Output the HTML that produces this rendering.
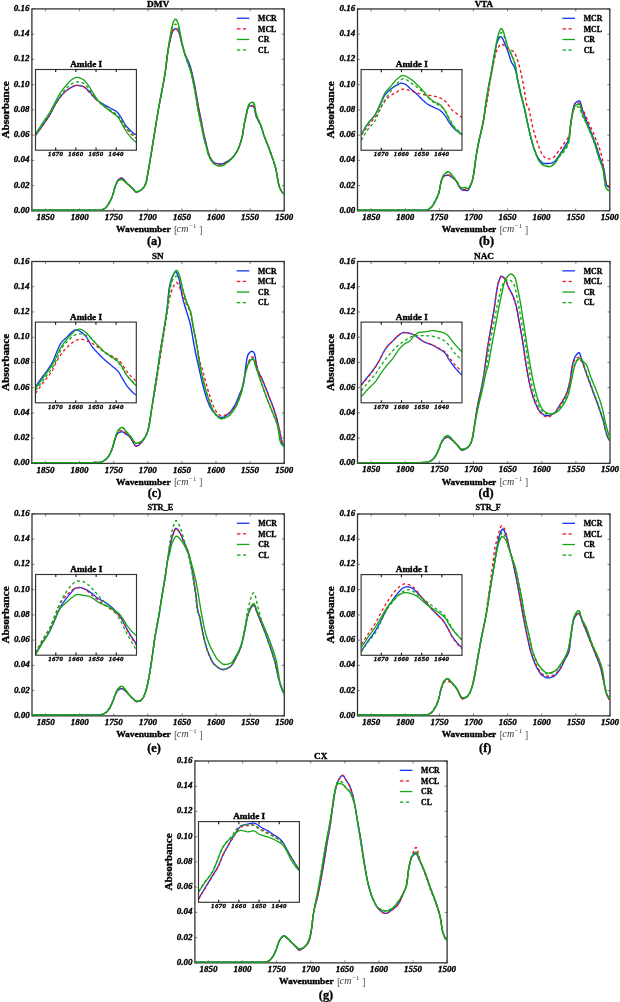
<!DOCTYPE html><html><head><meta charset="utf-8"><style>
html,body{margin:0;padding:0;background:#fff;}
svg{display:block;will-change:transform;}
text{font-family:"Liberation Serif", serif;fill:#000;stroke:#000;stroke-width:0.35px;}
.tk{font-size:9px;font-weight:bold;font-style:italic;}
.itk{font-size:6.8px;font-weight:bold;font-style:italic;letter-spacing:0.4px;}
.ttl{font-size:9.1px;font-weight:bold;}
.ittl{font-size:8.4px;font-weight:bold;}
.leg{font-size:7.8px;font-weight:bold;}
.ylab{font-size:11.2px;font-weight:bold;}
.xlab{font-size:9.2px;font-weight:bold;}
.ubr{font-size:10.6px;fill:#555;stroke:none;}
.ucm{font-size:10px;font-style:italic;fill:#3a3a3a;letter-spacing:0.3px;stroke:none;}
.usup{font-size:6.8px;fill:#3a3a3a;stroke:none;}
.cap{font-size:12.3px;font-weight:bold;}
</style></head><body><svg width="620" height="1002" viewBox="0 0 620 1002"><defs><clipPath id="clip_a"><rect x="31.9" y="5.9" width="252.3" height="204.95"/></clipPath><clipPath id="iclip_a"><rect x="35.5" y="69.5" width="100.9" height="80.7"/></clipPath><clipPath id="clip_b"><rect x="357.5" y="5.95" width="252.3" height="204.85"/></clipPath><clipPath id="iclip_b"><rect x="361.1" y="69.55" width="100.9" height="80.7"/></clipPath><clipPath id="clip_c"><rect x="31.8" y="258.5" width="252.4" height="204.9"/></clipPath><clipPath id="iclip_c"><rect x="35.4" y="322.1" width="100.9" height="80.7"/></clipPath><clipPath id="clip_d"><rect x="357.5" y="258.5" width="252.5" height="204.85"/></clipPath><clipPath id="iclip_d"><rect x="361.1" y="322.1" width="100.9" height="80.7"/></clipPath><clipPath id="clip_e"><rect x="32" y="510.9" width="252.3" height="204.95"/></clipPath><clipPath id="iclip_e"><rect x="35.6" y="574.5" width="100.9" height="80.7"/></clipPath><clipPath id="clip_f"><rect x="357.5" y="511" width="252.5" height="204.85"/></clipPath><clipPath id="iclip_f"><rect x="361.1" y="574.6" width="100.9" height="80.7"/></clipPath><clipPath id="clip_g"><rect x="194.9" y="758" width="252.2" height="204.85"/></clipPath><clipPath id="iclip_g"><rect x="198.5" y="821.6" width="100.9" height="80.7"/></clipPath></defs><g><rect x="31.9" y="8.9" width="252.3" height="201.95" fill="none" stroke="#333" stroke-width="1.3"/><line x1="45.54" y1="210.85" x2="45.54" y2="208.35" stroke="#333" stroke-width="0.6"/><line x1="45.54" y1="8.9" x2="45.54" y2="11.4" stroke="#333" stroke-width="0.6"/><text x="45.54" y="219.95" class="tk" text-anchor="middle">1850</text><line x1="79.63" y1="210.85" x2="79.63" y2="208.35" stroke="#333" stroke-width="0.6"/><line x1="79.63" y1="8.9" x2="79.63" y2="11.4" stroke="#333" stroke-width="0.6"/><text x="79.63" y="219.95" class="tk" text-anchor="middle">1800</text><line x1="113.73" y1="210.85" x2="113.73" y2="208.35" stroke="#333" stroke-width="0.6"/><line x1="113.73" y1="8.9" x2="113.73" y2="11.4" stroke="#333" stroke-width="0.6"/><text x="113.73" y="219.95" class="tk" text-anchor="middle">1750</text><line x1="147.82" y1="210.85" x2="147.82" y2="208.35" stroke="#333" stroke-width="0.6"/><line x1="147.82" y1="8.9" x2="147.82" y2="11.4" stroke="#333" stroke-width="0.6"/><text x="147.82" y="219.95" class="tk" text-anchor="middle">1700</text><line x1="181.92" y1="210.85" x2="181.92" y2="208.35" stroke="#333" stroke-width="0.6"/><line x1="181.92" y1="8.9" x2="181.92" y2="11.4" stroke="#333" stroke-width="0.6"/><text x="181.92" y="219.95" class="tk" text-anchor="middle">1650</text><line x1="216.01" y1="210.85" x2="216.01" y2="208.35" stroke="#333" stroke-width="0.6"/><line x1="216.01" y1="8.9" x2="216.01" y2="11.4" stroke="#333" stroke-width="0.6"/><text x="216.01" y="219.95" class="tk" text-anchor="middle">1600</text><line x1="250.11" y1="210.85" x2="250.11" y2="208.35" stroke="#333" stroke-width="0.6"/><line x1="250.11" y1="8.9" x2="250.11" y2="11.4" stroke="#333" stroke-width="0.6"/><text x="250.11" y="219.95" class="tk" text-anchor="middle">1550</text><line x1="284.2" y1="210.85" x2="284.2" y2="208.35" stroke="#333" stroke-width="0.6"/><line x1="284.2" y1="8.9" x2="284.2" y2="11.4" stroke="#333" stroke-width="0.6"/><text x="284.2" y="219.95" class="tk" text-anchor="middle">1500</text><line x1="31.9" y1="210.85" x2="34.4" y2="210.85" stroke="#333" stroke-width="0.6"/><line x1="284.2" y1="210.85" x2="281.7" y2="210.85" stroke="#333" stroke-width="0.6"/><text x="29.6" y="212.85" class="tk" text-anchor="end">0.00</text><line x1="31.9" y1="185.61" x2="34.4" y2="185.61" stroke="#333" stroke-width="0.6"/><line x1="284.2" y1="185.61" x2="281.7" y2="185.61" stroke="#333" stroke-width="0.6"/><text x="29.6" y="187.61" class="tk" text-anchor="end">0.02</text><line x1="31.9" y1="160.36" x2="34.4" y2="160.36" stroke="#333" stroke-width="0.6"/><line x1="284.2" y1="160.36" x2="281.7" y2="160.36" stroke="#333" stroke-width="0.6"/><text x="29.6" y="162.36" class="tk" text-anchor="end">0.04</text><line x1="31.9" y1="135.12" x2="34.4" y2="135.12" stroke="#333" stroke-width="0.6"/><line x1="284.2" y1="135.12" x2="281.7" y2="135.12" stroke="#333" stroke-width="0.6"/><text x="29.6" y="137.12" class="tk" text-anchor="end">0.06</text><line x1="31.9" y1="109.88" x2="34.4" y2="109.88" stroke="#333" stroke-width="0.6"/><line x1="284.2" y1="109.88" x2="281.7" y2="109.88" stroke="#333" stroke-width="0.6"/><text x="29.6" y="111.88" class="tk" text-anchor="end">0.08</text><line x1="31.9" y1="84.63" x2="34.4" y2="84.63" stroke="#333" stroke-width="0.6"/><line x1="284.2" y1="84.63" x2="281.7" y2="84.63" stroke="#333" stroke-width="0.6"/><text x="29.6" y="86.63" class="tk" text-anchor="end">0.10</text><line x1="31.9" y1="59.39" x2="34.4" y2="59.39" stroke="#333" stroke-width="0.6"/><line x1="284.2" y1="59.39" x2="281.7" y2="59.39" stroke="#333" stroke-width="0.6"/><text x="29.6" y="61.39" class="tk" text-anchor="end">0.12</text><line x1="31.9" y1="34.14" x2="34.4" y2="34.14" stroke="#333" stroke-width="0.6"/><line x1="284.2" y1="34.14" x2="281.7" y2="34.14" stroke="#333" stroke-width="0.6"/><text x="29.6" y="36.14" class="tk" text-anchor="end">0.14</text><line x1="31.9" y1="8.9" x2="34.4" y2="8.9" stroke="#333" stroke-width="0.6"/><line x1="284.2" y1="8.9" x2="281.7" y2="8.9" stroke="#333" stroke-width="0.6"/><text x="29.6" y="10.9" class="tk" text-anchor="end">0.16</text><polyline points="31.9,210.3 32.4,210.3 32.9,210.3 33.4,210.3 33.9,210.3 34.4,210.3 34.9,210.3 35.4,210.3 35.9,210.3 36.4,210.3 36.9,210.3 37.4,210.3 37.9,210.3 38.4,210.3 38.9,210.3 39.4,210.3 39.9,210.3 40.4,210.3 40.9,210.3 41.4,210.3 41.9,210.3 42.4,210.3 42.9,210.3 43.4,210.3 43.9,210.3 44.4,210.3 44.9,210.3 45.4,210.3 45.9,210.3 46.4,210.3 46.9,210.3 47.4,210.3 47.9,210.3 48.4,210.3 48.9,210.3 49.4,210.3 49.9,210.3 50.4,210.3 50.9,210.3 51.4,210.3 51.9,210.3 52.4,210.3 52.9,210.3 53.4,210.3 53.9,210.3 54.4,210.3 54.9,210.3 55.4,210.3 55.9,210.3 56.4,210.3 56.9,210.3 57.4,210.3 57.9,210.3 58.4,210.3 58.9,210.3 59.4,210.3 59.9,210.3 60.4,210.3 60.9,210.3 61.4,210.3 61.9,210.3 62.4,210.3 62.9,210.3 63.4,210.3 63.9,210.3 64.4,210.29 64.9,210.29 65.4,210.29 65.9,210.29 66.4,210.29 66.9,210.29 67.4,210.28 67.9,210.28 68.4,210.28 68.9,210.28 69.4,210.28 69.9,210.27 70.4,210.27 70.9,210.27 71.4,210.27 71.9,210.27 72.4,210.26 72.9,210.26 73.4,210.26 73.9,210.26 74.4,210.25 74.9,210.25 75.4,210.25 75.9,210.25 76.4,210.24 76.9,210.24 77.4,210.24 77.9,210.24 78.4,210.23 78.9,210.23 79.4,210.23 79.9,210.23 80.4,210.22 80.9,210.22 81.4,210.22 81.9,210.22 82.4,210.22 82.9,210.21 83.4,210.21 83.9,210.21 84.4,210.21 84.9,210.21 85.4,210.21 85.9,210.21 86.4,210.2 86.9,210.2 87.4,210.2 87.9,210.2 88.4,210.2 88.9,210.2 89.4,210.2 89.9,210.2 90.4,210.2 90.9,210.2 91.4,210.2 91.9,210.2 92.4,210.2 92.9,210.2 93.4,210.2 93.9,210.2 94.4,210.2 94.9,210.2 95.4,210.2 95.9,210.2 96.4,210.2 96.9,210.2 97.4,210.2 97.9,210.2 98.4,210.2 98.9,210.2 99.4,210.19 99.9,210.15 100.4,210.07 100.9,209.97 101.4,209.84 101.9,209.69 102.4,209.51 102.9,209.32 103.4,209.11 103.9,208.88 104.4,208.65 104.9,208.39 105.4,208.03 105.9,207.56 106.4,206.99 106.9,206.35 107.4,205.64 107.9,204.88 108.4,204.09 108.9,203.28 109.4,202.47 109.9,201.59 110.4,200.63 110.9,199.59 111.4,198.48 111.9,197.28 112.4,196.01 112.9,194.6 113.4,192.86 113.9,190.93 114.4,188.99 114.9,187.19 115.4,185.72 115.9,184.47 116.4,183.24 116.9,182.11 117.4,181.12 117.9,180.35 118.4,179.82 118.9,179.37 119.4,178.96 119.9,178.6 120.4,178.31 120.9,178.11 121.4,178.01 121.9,178.04 122.4,178.28 122.9,178.68 123.4,179.21 123.9,179.8 124.4,180.42 124.9,181 125.4,181.54 125.9,182.08 126.4,182.62 126.9,183.15 127.4,183.67 127.9,184.18 128.4,184.66 128.9,185.14 129.4,185.59 129.9,186.04 130.4,186.47 130.9,186.91 131.4,187.35 131.9,187.79 132.4,188.24 132.9,188.7 133.4,189.24 133.9,189.87 134.4,190.54 134.9,191.16 135.4,191.67 135.9,192.01 136.4,192.1 136.9,192.04 137.4,191.9 137.9,191.7 138.4,191.45 138.9,191.17 139.4,190.87 139.9,190.57 140.4,190.28 140.9,189.97 141.4,189.63 141.9,189.24 142.4,188.81 142.9,188.31 143.4,187.75 143.9,187.1 144.4,186.33 144.9,185.42 145.4,184.35 145.9,183.1 146.4,181.28 146.9,178.76 147.4,175.86 147.9,172.91 148.4,170.15 148.9,167.32 149.4,164.42 149.9,161.47 150.4,158.49 150.9,155.46 151.4,152.41 151.9,149.33 152.4,146.23 152.9,143.11 153.4,139.99 153.9,136.86 154.4,133.73 154.9,130.61 155.4,127.5 155.9,124.41 156.4,121.34 156.9,118.3 157.4,115.29 157.9,112.32 158.4,109.4 158.9,106.56 159.4,103.83 159.9,101.18 160.4,98.6 160.9,96.04 161.4,93.5 161.9,90.95 162.4,88.37 162.9,85.74 163.4,83.02 163.9,80.21 164.4,77.28 164.9,74.22 165.4,71 165.9,67.43 166.4,63.36 166.9,59.14 167.4,55.15 167.9,51.74 168.4,48.7 168.9,45.93 169.4,43.39 169.9,41.04 170.4,38.85 170.9,36.85 171.4,35.09 171.9,33.53 172.4,31.99 172.9,30.8 173.4,30.23 173.9,29.77 174.4,29.31 174.9,28.93 175.4,28.7 175.9,28.72 176.4,28.96 176.9,29.33 177.4,29.75 177.9,30.18 178.4,31.07 178.9,32.36 179.4,33.79 179.9,35.51 180.4,37.61 180.9,39.79 181.4,41.79 181.9,43.68 182.4,45.57 182.9,47.41 183.4,49.16 183.9,50.79 184.4,52.28 184.9,53.65 185.4,54.93 185.9,56.12 186.4,57.26 186.9,58.39 187.4,59.51 187.9,60.57 188.4,61.62 188.9,62.72 189.4,63.95 189.9,65.34 190.4,66.95 190.9,68.75 191.4,70.7 191.9,72.77 192.4,74.93 192.9,77.15 193.4,79.42 193.9,81.73 194.4,84.08 194.9,86.52 195.4,89.2 195.9,92.04 196.4,94.99 196.9,97.98 197.4,100.94 197.9,103.81 198.4,106.52 198.9,109.07 199.4,111.53 199.9,113.95 200.4,116.37 200.9,118.82 201.4,121.36 201.9,124.02 202.4,126.77 202.9,129.49 203.4,132.12 203.9,134.56 204.4,136.76 204.9,138.77 205.4,140.69 205.9,142.62 206.4,144.65 206.9,146.83 207.4,149.01 207.9,151.08 208.4,152.87 208.9,154.3 209.4,155.56 209.9,156.71 210.4,157.76 210.9,158.7 211.4,159.53 211.9,160.26 212.4,160.88 212.9,161.4 213.4,161.88 213.9,162.31 214.4,162.69 214.9,163 215.4,163.24 215.9,163.4 216.4,163.5 216.9,163.59 217.4,163.68 217.9,163.76 218.4,163.83 218.9,163.89 219.4,163.94 219.9,163.97 220.4,163.99 220.9,163.99 221.4,163.94 221.9,163.86 222.4,163.74 222.9,163.58 223.4,163.4 223.9,163.2 224.4,162.97 224.9,162.72 225.4,162.46 225.9,162.18 226.4,161.89 226.9,161.59 227.4,161.29 227.9,160.98 228.4,160.68 228.9,160.37 229.4,160.05 229.9,159.7 230.4,159.33 230.9,158.93 231.4,158.49 231.9,158.03 232.4,157.53 232.9,156.99 233.4,156.43 233.9,155.82 234.4,155.18 234.9,154.5 235.4,153.78 235.9,153.02 236.4,152.22 236.9,151.38 237.4,150.47 237.9,149.49 238.4,148.42 238.9,147.26 239.4,145.99 239.9,144.61 240.4,143.12 240.9,141.49 241.4,139.73 241.9,137.82 242.4,135.76 242.9,133.39 243.4,129.75 243.9,126.05 244.4,123.31 244.9,120.95 245.4,118.76 245.9,116.59 246.4,114.23 246.9,111.79 247.4,109.73 247.9,108.33 248.4,107.18 248.9,106.42 249.4,106.17 249.9,106.07 250.4,106.02 250.9,106 251.4,106 251.9,106.02 252.4,106.06 252.9,106.14 253.4,106.53 253.9,107.24 254.4,108.2 254.9,109.66 255.4,113.07 255.9,115.23 256.4,116.71 256.9,117.91 257.4,118.99 257.9,119.95 258.4,120.81 258.9,121.67 259.4,122.61 259.9,123.66 260.4,124.76 260.9,125.94 261.4,127.23 261.9,128.72 262.4,130.41 262.9,132.14 263.4,133.75 263.9,135.2 264.4,136.58 264.9,137.91 265.4,139.21 265.9,140.47 266.4,141.71 266.9,142.95 267.4,144.2 267.9,145.47 268.4,146.77 268.9,148.12 269.4,149.5 269.9,150.86 270.4,152.21 270.9,153.55 271.4,154.91 271.9,156.28 272.4,157.68 272.9,159.13 273.4,160.62 273.9,162.18 274.4,163.81 274.9,165.52 275.4,167.33 275.9,169.38 276.4,171.88 276.9,174.67 277.4,177.58 277.9,180.43 278.4,183.04 278.9,185.24 279.4,186.86 279.9,187.99 280.4,189.06 280.9,190.07 281.4,191.01 281.9,191.84 282.4,192.56 282.9,193.13 283.4,193.54 283.9,193.76 284.2,193.8" fill="none" stroke="#1234f4" stroke-width="1.4" stroke-linejoin="round" clip-path="url(#clip_a)"/><polyline points="31.9,210.3 32.4,210.3 32.9,210.3 33.4,210.3 33.9,210.3 34.4,210.3 34.9,210.3 35.4,210.3 35.9,210.3 36.4,210.3 36.9,210.3 37.4,210.3 37.9,210.3 38.4,210.3 38.9,210.3 39.4,210.3 39.9,210.3 40.4,210.3 40.9,210.3 41.4,210.3 41.9,210.3 42.4,210.3 42.9,210.3 43.4,210.3 43.9,210.3 44.4,210.3 44.9,210.3 45.4,210.3 45.9,210.3 46.4,210.3 46.9,210.3 47.4,210.3 47.9,210.3 48.4,210.3 48.9,210.3 49.4,210.3 49.9,210.3 50.4,210.3 50.9,210.3 51.4,210.3 51.9,210.3 52.4,210.3 52.9,210.3 53.4,210.3 53.9,210.3 54.4,210.3 54.9,210.3 55.4,210.3 55.9,210.3 56.4,210.3 56.9,210.3 57.4,210.3 57.9,210.3 58.4,210.3 58.9,210.3 59.4,210.3 59.9,210.3 60.4,210.3 60.9,210.3 61.4,210.3 61.9,210.3 62.4,210.3 62.9,210.3 63.4,210.3 63.9,210.3 64.4,210.29 64.9,210.29 65.4,210.29 65.9,210.29 66.4,210.29 66.9,210.29 67.4,210.28 67.9,210.28 68.4,210.28 68.9,210.28 69.4,210.28 69.9,210.27 70.4,210.27 70.9,210.27 71.4,210.27 71.9,210.27 72.4,210.26 72.9,210.26 73.4,210.26 73.9,210.26 74.4,210.25 74.9,210.25 75.4,210.25 75.9,210.25 76.4,210.24 76.9,210.24 77.4,210.24 77.9,210.24 78.4,210.23 78.9,210.23 79.4,210.23 79.9,210.23 80.4,210.22 80.9,210.22 81.4,210.22 81.9,210.22 82.4,210.22 82.9,210.21 83.4,210.21 83.9,210.21 84.4,210.21 84.9,210.21 85.4,210.21 85.9,210.21 86.4,210.2 86.9,210.2 87.4,210.2 87.9,210.2 88.4,210.2 88.9,210.2 89.4,210.2 89.9,210.2 90.4,210.2 90.9,210.2 91.4,210.2 91.9,210.2 92.4,210.2 92.9,210.2 93.4,210.2 93.9,210.2 94.4,210.2 94.9,210.2 95.4,210.2 95.9,210.2 96.4,210.2 96.9,210.2 97.4,210.2 97.9,210.2 98.4,210.2 98.9,210.2 99.4,210.19 99.9,210.15 100.4,210.07 100.9,209.97 101.4,209.84 101.9,209.69 102.4,209.51 102.9,209.32 103.4,209.11 103.9,208.88 104.4,208.65 104.9,208.39 105.4,208.03 105.9,207.56 106.4,206.99 106.9,206.35 107.4,205.64 107.9,204.88 108.4,204.09 108.9,203.28 109.4,202.47 109.9,201.59 110.4,200.63 110.9,199.59 111.4,198.48 111.9,197.28 112.4,196.01 112.9,194.6 113.4,192.86 113.9,190.93 114.4,188.99 114.9,187.19 115.4,185.72 115.9,184.47 116.4,183.24 116.9,182.11 117.4,181.12 117.9,180.35 118.4,179.82 118.9,179.37 119.4,178.96 119.9,178.6 120.4,178.31 120.9,178.11 121.4,178.01 121.9,178.04 122.4,178.28 122.9,178.68 123.4,179.21 123.9,179.8 124.4,180.42 124.9,181 125.4,181.54 125.9,182.08 126.4,182.62 126.9,183.15 127.4,183.67 127.9,184.18 128.4,184.66 128.9,185.14 129.4,185.59 129.9,186.04 130.4,186.47 130.9,186.91 131.4,187.35 131.9,187.79 132.4,188.24 132.9,188.7 133.4,189.24 133.9,189.87 134.4,190.54 134.9,191.16 135.4,191.67 135.9,192.01 136.4,192.1 136.9,192.04 137.4,191.9 137.9,191.7 138.4,191.45 138.9,191.17 139.4,190.87 139.9,190.57 140.4,190.28 140.9,189.97 141.4,189.63 141.9,189.24 142.4,188.81 142.9,188.31 143.4,187.75 143.9,187.1 144.4,186.33 144.9,185.42 145.4,184.35 145.9,183.1 146.4,181.28 146.9,178.76 147.4,175.86 147.9,172.91 148.4,170.15 148.9,167.32 149.4,164.42 149.9,161.47 150.4,158.49 150.9,155.46 151.4,152.41 151.9,149.33 152.4,146.23 152.9,143.11 153.4,139.99 153.9,136.86 154.4,133.73 154.9,130.61 155.4,127.5 155.9,124.41 156.4,121.34 156.9,118.3 157.4,115.29 157.9,112.32 158.4,109.4 158.9,106.56 159.4,103.83 159.9,101.18 160.4,98.6 160.9,96.04 161.4,93.5 161.9,90.95 162.4,88.37 162.9,85.74 163.4,83.02 163.9,80.21 164.4,77.28 164.9,74.22 165.4,71 165.9,67.43 166.4,63.36 166.9,59.14 167.4,55.15 167.9,51.74 168.4,48.7 168.9,45.93 169.4,43.39 169.9,41.04 170.4,38.85 170.9,36.85 171.4,35.09 171.9,33.53 172.4,31.99 172.9,30.8 173.4,30.23 173.9,29.77 174.4,29.31 174.9,28.93 175.4,28.7 175.9,28.72 176.4,28.96 176.9,29.33 177.4,29.75 177.9,30.18 178.4,31.07 178.9,32.36 179.4,33.8 179.9,35.52 180.4,37.62 180.9,39.81 181.4,41.81 181.9,43.72 182.4,45.64 182.9,47.52 183.4,49.34 183.9,51.06 184.4,52.68 184.9,54.21 185.4,55.67 185.9,57.09 186.4,58.48 186.9,59.86 187.4,61.22 187.9,62.48 188.4,63.67 188.9,64.84 189.4,66.06 189.9,67.37 190.4,68.84 190.9,70.45 191.4,72.18 191.9,74.04 192.4,75.99 192.9,78.04 193.4,80.17 193.9,82.38 194.4,84.64 194.9,87.04 195.4,89.69 195.9,92.52 196.4,95.47 196.9,98.46 197.4,101.43 197.9,104.31 198.4,107.02 198.9,109.57 199.4,112.03 199.9,114.44 200.4,116.85 200.9,119.3 201.4,121.82 201.9,124.47 202.4,127.2 202.9,129.9 203.4,132.51 203.9,134.93 204.4,137.11 204.9,139.09 205.4,140.99 205.9,142.9 206.4,144.92 206.9,147.07 207.4,149.25 207.9,151.3 208.4,153.08 208.9,154.5 209.4,155.76 209.9,156.91 210.4,157.96 210.9,158.9 211.4,159.74 211.9,160.48 212.4,161.11 212.9,161.66 213.4,162.15 213.9,162.6 214.4,163 214.9,163.33 215.4,163.59 215.9,163.77 216.4,163.9 216.9,164.01 217.4,164.12 217.9,164.21 218.4,164.3 218.9,164.37 219.4,164.43 219.9,164.47 220.4,164.49 220.9,164.49 221.4,164.44 221.9,164.34 222.4,164.21 222.9,164.05 223.4,163.85 223.9,163.63 224.4,163.38 224.9,163.11 225.4,162.82 225.9,162.52 226.4,162.2 226.9,161.88 227.4,161.55 227.9,161.22 228.4,160.89 228.9,160.57 229.4,160.22 229.9,159.86 230.4,159.46 230.9,159.04 231.4,158.59 231.9,158.11 232.4,157.6 232.9,157.06 233.4,156.48 233.9,155.86 234.4,155.22 234.9,154.53 235.4,153.8 235.9,153.04 236.4,152.23 236.9,151.39 237.4,150.48 237.9,149.5 238.4,148.43 238.9,147.26 239.4,145.99 239.9,144.62 240.4,143.12 240.9,141.49 241.4,139.73 241.9,137.82 242.4,135.76 242.9,133.39 243.4,129.75 243.9,126.05 244.4,123.31 244.9,120.95 245.4,118.76 245.9,116.59 246.4,114.23 246.9,111.79 247.4,109.73 247.9,108.33 248.4,107.18 248.9,106.42 249.4,106.17 249.9,106.07 250.4,106.02 250.9,106 251.4,106 251.9,106.02 252.4,106.06 252.9,106.14 253.4,106.53 253.9,107.24 254.4,108.2 254.9,109.66 255.4,113.07 255.9,115.23 256.4,116.71 256.9,117.91 257.4,118.99 257.9,119.95 258.4,120.81 258.9,121.67 259.4,122.61 259.9,123.66 260.4,124.76 260.9,125.94 261.4,127.23 261.9,128.72 262.4,130.41 262.9,132.14 263.4,133.75 263.9,135.2 264.4,136.58 264.9,137.91 265.4,139.21 265.9,140.47 266.4,141.71 266.9,142.95 267.4,144.2 267.9,145.47 268.4,146.77 268.9,148.12 269.4,149.5 269.9,150.86 270.4,152.21 270.9,153.55 271.4,154.91 271.9,156.28 272.4,157.68 272.9,159.13 273.4,160.62 273.9,162.18 274.4,163.81 274.9,165.52 275.4,167.33 275.9,169.38 276.4,171.88 276.9,174.67 277.4,177.58 277.9,180.43 278.4,183.04 278.9,185.24 279.4,186.86 279.9,187.99 280.4,189.06 280.9,190.07 281.4,191.01 281.9,191.84 282.4,192.56 282.9,193.13 283.4,193.54 283.9,193.76 284.2,193.8" fill="none" stroke="#ee1420" stroke-width="1.4" stroke-dasharray="3 2.6" stroke-linejoin="round" clip-path="url(#clip_a)"/><polyline points="31.9,210.3 32.4,210.3 32.9,210.3 33.4,210.3 33.9,210.3 34.4,210.3 34.9,210.3 35.4,210.3 35.9,210.3 36.4,210.3 36.9,210.3 37.4,210.3 37.9,210.3 38.4,210.3 38.9,210.3 39.4,210.3 39.9,210.3 40.4,210.3 40.9,210.3 41.4,210.3 41.9,210.3 42.4,210.3 42.9,210.3 43.4,210.3 43.9,210.3 44.4,210.3 44.9,210.3 45.4,210.3 45.9,210.3 46.4,210.3 46.9,210.3 47.4,210.3 47.9,210.3 48.4,210.3 48.9,210.3 49.4,210.3 49.9,210.3 50.4,210.3 50.9,210.3 51.4,210.3 51.9,210.3 52.4,210.3 52.9,210.3 53.4,210.3 53.9,210.3 54.4,210.3 54.9,210.3 55.4,210.3 55.9,210.3 56.4,210.3 56.9,210.3 57.4,210.3 57.9,210.3 58.4,210.3 58.9,210.3 59.4,210.3 59.9,210.3 60.4,210.3 60.9,210.3 61.4,210.3 61.9,210.3 62.4,210.3 62.9,210.3 63.4,210.3 63.9,210.3 64.4,210.29 64.9,210.29 65.4,210.29 65.9,210.29 66.4,210.29 66.9,210.29 67.4,210.28 67.9,210.28 68.4,210.28 68.9,210.28 69.4,210.28 69.9,210.27 70.4,210.27 70.9,210.27 71.4,210.27 71.9,210.27 72.4,210.26 72.9,210.26 73.4,210.26 73.9,210.26 74.4,210.25 74.9,210.25 75.4,210.25 75.9,210.25 76.4,210.24 76.9,210.24 77.4,210.24 77.9,210.24 78.4,210.23 78.9,210.23 79.4,210.23 79.9,210.23 80.4,210.22 80.9,210.22 81.4,210.22 81.9,210.22 82.4,210.22 82.9,210.21 83.4,210.21 83.9,210.21 84.4,210.21 84.9,210.21 85.4,210.21 85.9,210.21 86.4,210.2 86.9,210.2 87.4,210.2 87.9,210.2 88.4,210.2 88.9,210.2 89.4,210.2 89.9,210.2 90.4,210.2 90.9,210.2 91.4,210.2 91.9,210.2 92.4,210.2 92.9,210.2 93.4,210.2 93.9,210.2 94.4,210.2 94.9,210.2 95.4,210.2 95.9,210.2 96.4,210.2 96.9,210.2 97.4,210.2 97.9,210.2 98.4,210.2 98.9,210.2 99.4,210.19 99.9,210.15 100.4,210.07 100.9,209.97 101.4,209.84 101.9,209.69 102.4,209.51 102.9,209.32 103.4,209.11 103.9,208.88 104.4,208.65 104.9,208.39 105.4,208.03 105.9,207.56 106.4,206.99 106.9,206.35 107.4,205.64 107.9,204.88 108.4,204.09 108.9,203.28 109.4,202.47 109.9,201.59 110.4,200.63 110.9,199.6 111.4,198.48 111.9,197.29 112.4,196.03 112.9,194.63 113.4,192.9 113.9,190.99 114.4,189.07 114.9,187.32 115.4,185.9 115.9,184.71 116.4,183.58 116.9,182.55 117.4,181.69 117.9,181.05 118.4,180.67 118.9,180.37 119.4,180.1 119.9,179.88 120.4,179.69 120.9,179.57 121.4,179.51 121.9,179.53 122.4,179.73 122.9,180.05 123.4,180.46 123.9,180.92 124.4,181.39 124.9,181.82 125.4,182.21 125.9,182.62 126.4,183.04 126.9,183.47 127.4,183.9 127.9,184.34 128.4,184.78 128.9,185.21 129.4,185.64 129.9,186.07 130.4,186.49 130.9,186.92 131.4,187.35 131.9,187.79 132.4,188.24 132.9,188.7 133.4,189.24 133.9,189.87 134.4,190.54 134.9,191.16 135.4,191.67 135.9,192.01 136.4,192.1 136.9,192.04 137.4,191.9 137.9,191.7 138.4,191.45 138.9,191.17 139.4,190.87 139.9,190.57 140.4,190.28 140.9,189.97 141.4,189.63 141.9,189.24 142.4,188.81 142.9,188.31 143.4,187.75 143.9,187.1 144.4,186.33 144.9,185.42 145.4,184.35 145.9,183.1 146.4,181.28 146.9,178.76 147.4,175.86 147.9,172.91 148.4,170.15 148.9,167.32 149.4,164.42 149.9,161.47 150.4,158.49 150.9,155.46 151.4,152.41 151.9,149.33 152.4,146.23 152.9,143.11 153.4,139.99 153.9,136.86 154.4,133.73 154.9,130.61 155.4,127.5 155.9,124.41 156.4,121.34 156.9,118.3 157.4,115.29 157.9,112.32 158.4,109.4 158.9,106.56 159.4,103.83 159.9,101.18 160.4,98.59 160.9,96.04 161.4,93.5 161.9,90.94 162.4,88.36 162.9,85.71 163.4,82.98 163.9,80.15 164.4,77.19 164.9,74.07 165.4,70.78 165.9,67.12 166.4,62.91 166.9,58.51 167.4,54.29 167.9,50.58 168.4,47.17 168.9,43.95 169.4,40.88 169.9,37.93 170.4,35.05 170.9,32.3 171.4,29.75 171.9,27.38 172.4,25.05 172.9,23.11 173.4,21.88 173.9,20.87 174.4,20.01 174.9,19.39 175.4,19.11 175.9,19.25 176.4,19.8 176.9,20.64 177.4,21.66 177.9,22.79 178.4,24.46 178.9,26.55 179.4,28.8 179.9,31.3 180.4,34.13 180.9,36.99 181.4,39.59 181.9,42.01 182.4,44.36 182.9,46.61 183.4,48.73 183.9,50.7 184.4,52.52 184.9,54.22 185.4,55.83 185.9,57.38 186.4,58.9 186.9,60.4 187.4,61.88 187.9,63.27 188.4,64.6 188.9,65.93 189.4,67.31 189.9,68.79 190.4,70.44 190.9,72.26 191.4,74.2 191.9,76.27 192.4,78.45 192.9,80.72 193.4,83.08 193.9,85.51 194.4,88 194.9,90.6 195.4,93.45 195.9,96.46 196.4,99.57 196.9,102.7 197.4,105.78 197.9,108.74 198.4,111.5 198.9,114.07 199.4,116.52 199.9,118.9 200.4,121.24 200.9,123.59 201.4,125.99 201.9,128.49 202.4,131.04 202.9,133.57 203.4,135.98 203.9,138.19 204.4,140.15 204.9,141.92 205.4,143.6 205.9,145.3 206.4,147.11 206.9,149.08 207.4,151.07 207.9,152.95 208.4,154.59 208.9,155.88 209.4,157.02 209.9,158.08 210.4,159.05 210.9,159.94 211.4,160.74 211.9,161.45 212.4,162.08 212.9,162.62 213.4,163.14 213.9,163.61 214.4,164.04 214.9,164.42 215.4,164.73 215.9,164.96 216.4,165.14 216.9,165.3 217.4,165.46 217.9,165.6 218.4,165.73 218.9,165.83 219.4,165.91 219.9,165.97 220.4,166 220.9,165.99 221.4,165.93 221.9,165.81 222.4,165.65 222.9,165.44 223.4,165.2 223.9,164.92 224.4,164.61 224.9,164.27 225.4,163.91 225.9,163.53 226.4,163.14 226.9,162.74 227.4,162.34 227.9,161.94 228.4,161.54 228.9,161.14 229.4,160.73 229.9,160.31 230.4,159.86 230.9,159.38 231.4,158.89 231.9,158.37 232.4,157.82 232.9,157.24 233.4,156.63 233.9,155.99 234.4,155.32 234.9,154.62 235.4,153.88 235.9,153.1 236.4,152.28 236.9,151.43 237.4,150.51 237.9,149.52 238.4,148.44 238.9,147.27 239.4,146 239.9,144.62 240.4,143.12 240.9,141.49 241.4,139.72 241.9,137.8 242.4,135.72 242.9,133.33 243.4,129.66 243.9,125.92 244.4,123.11 244.9,120.67 245.4,118.38 245.9,116.08 246.4,113.55 246.9,110.92 247.4,108.62 247.9,106.94 248.4,105.5 248.9,104.4 249.4,103.81 249.9,103.37 250.4,102.98 250.9,102.66 251.4,102.4 251.9,102.22 252.4,102.12 252.9,102.14 253.4,102.56 253.9,103.37 254.4,104.5 254.9,106.21 255.4,109.91 255.9,112.39 256.4,114.22 256.9,115.76 257.4,117.18 257.9,118.45 258.4,119.59 258.9,120.7 259.4,121.86 259.9,123.09 260.4,124.33 260.9,125.63 261.4,127.01 261.9,128.56 262.4,130.3 262.9,132.07 263.4,133.7 263.9,135.17 264.4,136.56 264.9,137.9 265.4,139.2 265.9,140.46 266.4,141.71 266.9,142.95 267.4,144.2 267.9,145.47 268.4,146.77 268.9,148.12 269.4,149.5 269.9,150.86 270.4,152.21 270.9,153.55 271.4,154.91 271.9,156.28 272.4,157.68 272.9,159.13 273.4,160.62 273.9,162.18 274.4,163.81 274.9,165.52 275.4,167.33 275.9,169.38 276.4,171.88 276.9,174.67 277.4,177.58 277.9,180.43 278.4,183.04 278.9,185.24 279.4,186.86 279.9,187.99 280.4,189.06 280.9,190.07 281.4,191.01 281.9,191.84 282.4,192.56 282.9,193.13 283.4,193.54 283.9,193.76 284.2,193.8" fill="none" stroke="#16a616" stroke-width="1.4" stroke-linejoin="round" clip-path="url(#clip_a)"/><polyline points="31.9,210.3 32.4,210.3 32.9,210.3 33.4,210.3 33.9,210.3 34.4,210.3 34.9,210.3 35.4,210.3 35.9,210.3 36.4,210.3 36.9,210.3 37.4,210.3 37.9,210.3 38.4,210.3 38.9,210.3 39.4,210.3 39.9,210.3 40.4,210.3 40.9,210.3 41.4,210.3 41.9,210.3 42.4,210.3 42.9,210.3 43.4,210.3 43.9,210.3 44.4,210.3 44.9,210.3 45.4,210.3 45.9,210.3 46.4,210.3 46.9,210.3 47.4,210.3 47.9,210.3 48.4,210.3 48.9,210.3 49.4,210.3 49.9,210.3 50.4,210.3 50.9,210.3 51.4,210.3 51.9,210.3 52.4,210.3 52.9,210.3 53.4,210.3 53.9,210.3 54.4,210.3 54.9,210.3 55.4,210.3 55.9,210.3 56.4,210.3 56.9,210.3 57.4,210.3 57.9,210.3 58.4,210.3 58.9,210.3 59.4,210.3 59.9,210.3 60.4,210.3 60.9,210.3 61.4,210.3 61.9,210.3 62.4,210.3 62.9,210.3 63.4,210.3 63.9,210.3 64.4,210.29 64.9,210.29 65.4,210.29 65.9,210.29 66.4,210.29 66.9,210.29 67.4,210.28 67.9,210.28 68.4,210.28 68.9,210.28 69.4,210.28 69.9,210.27 70.4,210.27 70.9,210.27 71.4,210.27 71.9,210.27 72.4,210.26 72.9,210.26 73.4,210.26 73.9,210.26 74.4,210.25 74.9,210.25 75.4,210.25 75.9,210.25 76.4,210.24 76.9,210.24 77.4,210.24 77.9,210.24 78.4,210.23 78.9,210.23 79.4,210.23 79.9,210.23 80.4,210.22 80.9,210.22 81.4,210.22 81.9,210.22 82.4,210.22 82.9,210.21 83.4,210.21 83.9,210.21 84.4,210.21 84.9,210.21 85.4,210.21 85.9,210.21 86.4,210.2 86.9,210.2 87.4,210.2 87.9,210.2 88.4,210.2 88.9,210.2 89.4,210.2 89.9,210.2 90.4,210.2 90.9,210.2 91.4,210.2 91.9,210.2 92.4,210.2 92.9,210.2 93.4,210.2 93.9,210.2 94.4,210.2 94.9,210.2 95.4,210.2 95.9,210.2 96.4,210.2 96.9,210.2 97.4,210.2 97.9,210.2 98.4,210.2 98.9,210.2 99.4,210.19 99.9,210.15 100.4,210.07 100.9,209.97 101.4,209.84 101.9,209.69 102.4,209.51 102.9,209.32 103.4,209.11 103.9,208.88 104.4,208.65 104.9,208.39 105.4,208.03 105.9,207.56 106.4,206.99 106.9,206.35 107.4,205.64 107.9,204.88 108.4,204.09 108.9,203.28 109.4,202.47 109.9,201.59 110.4,200.63 110.9,199.6 111.4,198.48 111.9,197.29 112.4,196.03 112.9,194.63 113.4,192.9 113.9,190.99 114.4,189.07 114.9,187.32 115.4,185.9 115.9,184.71 116.4,183.58 116.9,182.55 117.4,181.69 117.9,181.05 118.4,180.67 118.9,180.37 119.4,180.1 119.9,179.88 120.4,179.69 120.9,179.57 121.4,179.51 121.9,179.53 122.4,179.73 122.9,180.05 123.4,180.46 123.9,180.92 124.4,181.39 124.9,181.82 125.4,182.21 125.9,182.62 126.4,183.04 126.9,183.47 127.4,183.9 127.9,184.34 128.4,184.78 128.9,185.21 129.4,185.64 129.9,186.07 130.4,186.49 130.9,186.92 131.4,187.35 131.9,187.79 132.4,188.24 132.9,188.7 133.4,189.24 133.9,189.87 134.4,190.54 134.9,191.16 135.4,191.67 135.9,192.01 136.4,192.1 136.9,192.04 137.4,191.9 137.9,191.7 138.4,191.45 138.9,191.17 139.4,190.87 139.9,190.57 140.4,190.28 140.9,189.97 141.4,189.63 141.9,189.24 142.4,188.81 142.9,188.31 143.4,187.75 143.9,187.1 144.4,186.33 144.9,185.42 145.4,184.35 145.9,183.1 146.4,181.28 146.9,178.76 147.4,175.86 147.9,172.91 148.4,170.15 148.9,167.32 149.4,164.42 149.9,161.47 150.4,158.49 150.9,155.46 151.4,152.41 151.9,149.33 152.4,146.23 152.9,143.11 153.4,139.99 153.9,136.86 154.4,133.73 154.9,130.61 155.4,127.5 155.9,124.41 156.4,121.34 156.9,118.3 157.4,115.29 157.9,112.32 158.4,109.4 158.9,106.56 159.4,103.83 159.9,101.18 160.4,98.59 160.9,96.04 161.4,93.5 161.9,90.94 162.4,88.36 162.9,85.71 163.4,82.98 163.9,80.15 164.4,77.19 164.9,74.08 165.4,70.8 165.9,67.15 166.4,62.96 166.9,58.59 167.4,54.42 167.9,50.78 168.4,47.47 168.9,44.4 169.4,41.52 169.9,38.8 170.4,36.22 170.9,33.84 171.4,31.71 171.9,29.82 172.4,27.98 172.9,26.55 173.4,25.79 173.9,25.2 174.4,24.68 174.9,24.29 175.4,24.11 175.9,24.21 176.4,24.58 176.9,25.13 177.4,25.75 177.9,26.42 178.4,27.59 178.9,29.18 179.4,30.95 179.9,33.01 180.4,35.45 180.9,37.98 181.4,40.31 181.9,42.53 182.4,44.72 182.9,46.85 183.4,48.89 183.9,50.8 184.4,52.58 184.9,54.25 185.4,55.85 185.9,57.4 186.4,58.9 186.9,60.4 187.4,61.88 187.9,63.27 188.4,64.6 188.9,65.93 189.4,67.31 189.9,68.79 190.4,70.44 190.9,72.26 191.4,74.2 191.9,76.27 192.4,78.45 192.9,80.72 193.4,83.08 193.9,85.51 194.4,88 194.9,90.6 195.4,93.45 195.9,96.46 196.4,99.57 196.9,102.7 197.4,105.78 197.9,108.74 198.4,111.5 198.9,114.07 199.4,116.52 199.9,118.9 200.4,121.24 200.9,123.59 201.4,125.99 201.9,128.49 202.4,131.04 202.9,133.57 203.4,135.98 203.9,138.19 204.4,140.15 204.9,141.92 205.4,143.6 205.9,145.3 206.4,147.11 206.9,149.08 207.4,151.07 207.9,152.95 208.4,154.59 208.9,155.88 209.4,157.02 209.9,158.08 210.4,159.05 210.9,159.94 211.4,160.74 211.9,161.45 212.4,162.08 212.9,162.62 213.4,163.14 213.9,163.61 214.4,164.04 214.9,164.42 215.4,164.73 215.9,164.96 216.4,165.14 216.9,165.3 217.4,165.46 217.9,165.6 218.4,165.73 218.9,165.83 219.4,165.91 219.9,165.97 220.4,166 220.9,165.99 221.4,165.93 221.9,165.81 222.4,165.65 222.9,165.44 223.4,165.2 223.9,164.92 224.4,164.61 224.9,164.27 225.4,163.91 225.9,163.53 226.4,163.14 226.9,162.74 227.4,162.34 227.9,161.94 228.4,161.54 228.9,161.14 229.4,160.73 229.9,160.31 230.4,159.86 230.9,159.38 231.4,158.89 231.9,158.37 232.4,157.82 232.9,157.24 233.4,156.63 233.9,155.99 234.4,155.32 234.9,154.62 235.4,153.88 235.9,153.1 236.4,152.28 236.9,151.43 237.4,150.51 237.9,149.52 238.4,148.44 238.9,147.27 239.4,146 239.9,144.62 240.4,143.12 240.9,141.49 241.4,139.72 241.9,137.8 242.4,135.73 242.9,133.33 243.4,129.67 243.9,125.93 244.4,123.14 244.9,120.72 245.4,118.46 245.9,116.19 246.4,113.71 246.9,111.13 247.4,108.92 247.9,107.34 248.4,106.01 248.9,105.05 249.4,104.6 249.9,104.31 250.4,104.07 250.9,103.88 251.4,103.74 251.9,103.65 252.4,103.6 252.9,103.64 253.4,104.03 253.9,104.78 254.4,105.81 254.9,107.38 255.4,110.94 255.9,113.27 256.4,114.95 256.9,116.35 257.4,117.64 257.9,118.8 258.4,119.86 258.9,120.89 259.4,121.99 259.9,123.18 260.4,124.39 260.9,125.66 261.4,127.03 261.9,128.58 262.4,130.31 262.9,132.08 263.4,133.7 263.9,135.17 264.4,136.56 264.9,137.9 265.4,139.2 265.9,140.46 266.4,141.71 266.9,142.95 267.4,144.2 267.9,145.47 268.4,146.77 268.9,148.12 269.4,149.5 269.9,150.86 270.4,152.21 270.9,153.55 271.4,154.91 271.9,156.28 272.4,157.68 272.9,159.13 273.4,160.62 273.9,162.18 274.4,163.81 274.9,165.52 275.4,167.33 275.9,169.38 276.4,171.88 276.9,174.67 277.4,177.58 277.9,180.43 278.4,183.04 278.9,185.24 279.4,186.86 279.9,187.99 280.4,189.06 280.9,190.07 281.4,191.01 281.9,191.84 282.4,192.56 282.9,193.13 283.4,193.54 283.9,193.76 284.2,193.8" fill="none" stroke="#16a616" stroke-width="1.4" stroke-dasharray="3 2.6" stroke-linejoin="round" clip-path="url(#clip_a)"/><text x="146.9" y="6.5" class="ttl" textLength="22.3" lengthAdjust="spacingAndGlyphs">DMV</text><text transform="translate(8.7,109.88) rotate(-90)" class="ylab" text-anchor="middle">Absorbance</text><text x="116.1" y="232.05" class="xlab" textLength="54.6" lengthAdjust="spacingAndGlyphs">Wavenumber</text><text x="174" y="232.65" class="ubr">[</text><text x="176.6" y="232.05" class="ucm">cm</text><text x="189.2" y="228.35" class="usup">&#8722;1</text><text x="199.1" y="232.65" class="ubr">]</text><text x="154.1" y="244.55" class="cap" text-anchor="middle">(a)</text><line x1="236.8" y1="18.25" x2="249.4" y2="18.25" stroke="#1234f4" stroke-width="1.3"/><text x="258.1" y="20.95" class="leg">MCR</text><line x1="236.9" y1="28.85" x2="240.4" y2="28.85" stroke="#ee1420" stroke-width="1.3"/><line x1="242.9" y1="28.85" x2="246.1" y2="28.85" stroke="#ee1420" stroke-width="1.3"/><text x="258.1" y="31.55" class="leg">MCL</text><line x1="236.8" y1="39.45" x2="249.4" y2="39.45" stroke="#16a616" stroke-width="1.3"/><text x="258.1" y="42.15" class="leg">CR</text><line x1="236.9" y1="50.05" x2="240.4" y2="50.05" stroke="#16a616" stroke-width="1.3"/><line x1="242.9" y1="50.05" x2="246.1" y2="50.05" stroke="#16a616" stroke-width="1.3"/><text x="258.1" y="52.75" class="leg">CL</text><rect x="35.5" y="69.5" width="100.9" height="80.7" fill="#fff" stroke="none"/><polyline points="35.7,135.1 36.2,134.44 36.7,133.78 37.2,133.12 37.7,132.45 38.2,131.77 38.7,131.09 39.2,130.41 39.7,129.72 40.2,129.03 40.7,128.33 41.2,127.63 41.7,126.92 42.2,126.21 42.7,125.5 43.2,124.78 43.7,124.07 44.2,123.35 44.7,122.63 45.2,121.91 45.7,121.18 46.2,120.45 46.7,119.71 47.2,118.96 47.7,118.19 48.2,117.42 48.7,116.63 49.2,115.82 49.7,115 50.2,114.15 50.7,113.25 51.2,112.32 51.7,111.36 52.2,110.39 52.7,109.41 53.2,108.43 53.7,107.46 54.2,106.51 54.7,105.59 55.2,104.7 55.7,103.86 56.2,103.06 56.7,102.26 57.2,101.47 57.7,100.69 58.2,99.92 58.7,99.18 59.2,98.45 59.7,97.75 60.2,97.07 60.7,96.42 61.2,95.8 61.7,95.22 62.2,94.67 62.7,94.14 63.2,93.61 63.7,93.1 64.2,92.6 64.7,92.12 65.2,91.65 65.7,91.21 66.2,90.78 66.7,90.37 67.2,89.98 67.7,89.62 68.2,89.28 68.7,88.96 69.2,88.66 69.7,88.35 70.2,88.05 70.7,87.74 71.2,87.44 71.7,87.14 72.2,86.86 72.7,86.59 73.2,86.34 73.7,86.11 74.2,85.91 74.7,85.73 75.2,85.59 75.7,85.49 76.2,85.42 76.7,85.4 77.2,85.41 77.7,85.43 78.2,85.47 78.7,85.52 79.2,85.58 79.7,85.65 80.2,85.74 80.7,85.83 81.2,85.93 81.7,86.04 82.2,86.15 82.7,86.28 83.2,86.42 83.7,86.64 84.2,86.92 84.7,87.26 85.2,87.65 85.7,88.07 86.2,88.53 86.7,89.01 87.2,89.51 87.7,90.02 88.2,90.52 88.7,91.02 89.2,91.5 89.7,91.99 90.2,92.53 90.7,93.09 91.2,93.68 91.7,94.29 92.2,94.91 92.7,95.54 93.2,96.16 93.7,96.77 94.2,97.36 94.7,97.93 95.2,98.46 95.7,98.95 96.2,99.4 96.7,99.81 97.2,100.21 97.7,100.59 98.2,100.95 98.7,101.31 99.2,101.65 99.7,101.98 100.2,102.3 100.7,102.62 101.2,102.92 101.7,103.23 102.2,103.53 102.7,103.83 103.2,104.12 103.7,104.42 104.2,104.72 104.7,105.01 105.2,105.3 105.7,105.58 106.2,105.85 106.7,106.12 107.2,106.38 107.7,106.65 108.2,106.91 108.7,107.17 109.2,107.43 109.7,107.7 110.2,107.96 110.7,108.23 111.2,108.51 111.7,108.79 112.2,109.07 112.7,109.34 113.2,109.59 113.7,109.85 114.2,110.11 114.7,110.38 115.2,110.66 115.7,110.97 116.2,111.3 116.7,111.67 117.2,112.09 117.7,112.6 118.2,113.21 118.7,113.9 119.2,114.64 119.7,115.41 120.2,116.19 120.7,116.95 121.2,117.75 121.7,118.61 122.2,119.52 122.7,120.44 123.2,121.37 123.7,122.28 124.2,123.15 124.7,123.97 125.2,124.72 125.7,125.38 126.2,125.96 126.7,126.54 127.2,127.11 127.7,127.67 128.2,128.22 128.7,128.76 129.2,129.29 129.7,129.8 130.2,130.3 130.7,130.78 131.2,131.24 131.7,131.68 132.2,132.1 132.7,132.5 133.2,132.87 133.7,133.21 134.2,133.53 134.7,133.81 135.2,134.07 135.7,134.29 136.2,134.48 136.6,134.6" fill="none" stroke="#1234f4" stroke-width="1.3" stroke-linejoin="round" clip-path="url(#iclip_a)"/><polyline points="35.7,135.1 36.2,134.44 36.7,133.78 37.2,133.12 37.7,132.45 38.2,131.77 38.7,131.09 39.2,130.41 39.7,129.72 40.2,129.03 40.7,128.33 41.2,127.63 41.7,126.92 42.2,126.21 42.7,125.5 43.2,124.78 43.7,124.07 44.2,123.35 44.7,122.63 45.2,121.91 45.7,121.18 46.2,120.45 46.7,119.71 47.2,118.96 47.7,118.19 48.2,117.42 48.7,116.63 49.2,115.82 49.7,115 50.2,114.15 50.7,113.25 51.2,112.32 51.7,111.36 52.2,110.39 52.7,109.41 53.2,108.43 53.7,107.46 54.2,106.51 54.7,105.59 55.2,104.7 55.7,103.86 56.2,103.06 56.7,102.26 57.2,101.47 57.7,100.69 58.2,99.92 58.7,99.18 59.2,98.45 59.7,97.75 60.2,97.07 60.7,96.42 61.2,95.8 61.7,95.22 62.2,94.67 62.7,94.14 63.2,93.61 63.7,93.1 64.2,92.6 64.7,92.12 65.2,91.65 65.7,91.21 66.2,90.78 66.7,90.37 67.2,89.98 67.7,89.62 68.2,89.28 68.7,88.96 69.2,88.66 69.7,88.35 70.2,88.05 70.7,87.74 71.2,87.44 71.7,87.14 72.2,86.86 72.7,86.59 73.2,86.34 73.7,86.11 74.2,85.91 74.7,85.73 75.2,85.59 75.7,85.49 76.2,85.42 76.7,85.4 77.2,85.41 77.7,85.43 78.2,85.46 78.7,85.51 79.2,85.57 79.7,85.64 80.2,85.73 80.7,85.82 81.2,85.92 81.7,86.03 82.2,86.15 82.7,86.27 83.2,86.44 83.7,86.72 84.2,87.1 84.7,87.54 85.2,88.04 85.7,88.58 86.2,89.13 86.7,89.68 87.2,90.2 87.7,90.69 88.2,91.19 88.7,91.7 89.2,92.21 89.7,92.74 90.2,93.27 90.7,93.81 91.2,94.34 91.7,94.87 92.2,95.39 92.7,95.9 93.2,96.41 93.7,96.92 94.2,97.44 94.7,97.95 95.2,98.47 95.7,98.98 96.2,99.49 96.7,99.99 97.2,100.48 97.7,100.97 98.2,101.45 98.7,101.91 99.2,102.36 99.7,102.8 100.2,103.22 100.7,103.63 101.2,104.04 101.7,104.43 102.2,104.81 102.7,105.19 103.2,105.56 103.7,105.92 104.2,106.28 104.7,106.64 105.2,106.99 105.7,107.34 106.2,107.68 106.7,108.03 107.2,108.37 107.7,108.72 108.2,109.07 108.7,109.42 109.2,109.77 109.7,110.13 110.2,110.49 110.7,110.86 111.2,111.23 111.7,111.61 112.2,112 112.7,112.4 113.2,112.8 113.7,113.19 114.2,113.59 114.7,113.98 115.2,114.38 115.7,114.79 116.2,115.21 116.7,115.65 117.2,116.1 117.7,116.57 118.2,117.07 118.7,117.59 119.2,118.16 119.7,118.8 120.2,119.49 120.7,120.24 121.2,121.02 121.7,121.83 122.2,122.66 122.7,123.49 123.2,124.31 123.7,125.12 124.2,125.9 124.7,126.65 125.2,127.34 125.7,127.98 126.2,128.57 126.7,129.15 127.2,129.73 127.7,130.29 128.2,130.85 128.7,131.4 129.2,131.94 129.7,132.47 130.2,132.99 130.7,133.5 131.2,133.99 131.7,134.47 132.2,134.94 132.7,135.4 133.2,135.84 133.7,136.26 134.2,136.67 134.7,137.07 135.2,137.44 135.7,137.8 136.2,138.14 136.6,138.4" fill="none" stroke="#ee1420" stroke-width="1.3" stroke-dasharray="3 2.6" stroke-linejoin="round" clip-path="url(#iclip_a)"/><polyline points="35.7,133.8 36.2,133.01 36.7,132.22 37.2,131.43 37.7,130.64 38.2,129.86 38.7,129.08 39.2,128.3 39.7,127.52 40.2,126.75 40.7,125.97 41.2,125.2 41.7,124.43 42.2,123.67 42.7,122.9 43.2,122.14 43.7,121.4 44.2,120.67 44.7,119.94 45.2,119.21 45.7,118.49 46.2,117.77 46.7,117.04 47.2,116.3 47.7,115.56 48.2,114.79 48.7,114.02 49.2,113.22 49.7,112.4 50.2,111.55 50.7,110.67 51.2,109.77 51.7,108.84 52.2,107.9 52.7,106.95 53.2,106 53.7,105.05 54.2,104.1 54.7,103.17 55.2,102.24 55.7,101.3 56.2,100.34 56.7,99.38 57.2,98.42 57.7,97.47 58.2,96.53 58.7,95.63 59.2,94.76 59.7,93.93 60.2,93.15 60.7,92.4 61.2,91.69 61.7,90.99 62.2,90.31 62.7,89.65 63.2,89.01 63.7,88.38 64.2,87.77 64.7,87.16 65.2,86.57 65.7,85.98 66.2,85.4 66.7,84.81 67.2,84.21 67.7,83.61 68.2,83.01 68.7,82.43 69.2,81.87 69.7,81.33 70.2,80.84 70.7,80.4 71.2,80 71.7,79.67 72.2,79.34 72.7,79.02 73.2,78.7 73.7,78.4 74.2,78.13 74.7,77.89 75.2,77.69 75.7,77.53 76.2,77.43 76.7,77.4 77.2,77.42 77.7,77.47 78.2,77.55 78.7,77.66 79.2,77.8 79.7,77.96 80.2,78.14 80.7,78.34 81.2,78.55 81.7,78.78 82.2,79.01 82.7,79.25 83.2,79.52 83.7,79.87 84.2,80.29 84.7,80.77 85.2,81.31 85.7,81.89 86.2,82.5 86.7,83.14 87.2,83.8 87.7,84.47 88.2,85.14 88.7,85.81 89.2,86.55 89.7,87.34 90.2,88.17 90.7,89.03 91.2,89.89 91.7,90.75 92.2,91.6 92.7,92.4 93.2,93.19 93.7,93.99 94.2,94.79 94.7,95.59 95.2,96.38 95.7,97.15 96.2,97.9 96.7,98.62 97.2,99.31 97.7,99.95 98.2,100.56 98.7,101.14 99.2,101.69 99.7,102.23 100.2,102.75 100.7,103.26 101.2,103.74 101.7,104.22 102.2,104.69 102.7,105.14 103.2,105.59 103.7,106.04 104.2,106.47 104.7,106.9 105.2,107.32 105.7,107.72 106.2,108.11 106.7,108.5 107.2,108.88 107.7,109.26 108.2,109.63 108.7,110 109.2,110.37 109.7,110.74 110.2,111.11 110.7,111.48 111.2,111.86 111.7,112.24 112.2,112.63 112.7,113 113.2,113.35 113.7,113.69 114.2,114.03 114.7,114.38 115.2,114.73 115.7,115.1 116.2,115.5 116.7,115.92 117.2,116.38 117.7,116.88 118.2,117.43 118.7,118.11 119.2,118.89 119.7,119.76 120.2,120.68 120.7,121.64 121.2,122.6 121.7,123.54 122.2,124.43 122.7,125.28 123.2,126.15 123.7,127.03 124.2,127.91 124.7,128.78 125.2,129.64 125.7,130.48 126.2,131.28 126.7,132.05 127.2,132.77 127.7,133.43 128.2,134.07 128.7,134.69 129.2,135.31 129.7,135.92 130.2,136.51 130.7,137.09 131.2,137.66 131.7,138.21 132.2,138.74 132.7,139.25 133.2,139.75 133.7,140.22 134.2,140.67 134.7,141.1 135.2,141.51 135.7,141.89 136.2,142.24 136.6,142.5" fill="none" stroke="#16a616" stroke-width="1.3" stroke-linejoin="round" clip-path="url(#iclip_a)"/><polyline points="35.7,134.5 36.2,133.75 36.7,132.99 37.2,132.24 37.7,131.49 38.2,130.74 38.7,129.99 39.2,129.24 39.7,128.49 40.2,127.74 40.7,126.99 41.2,126.24 41.7,125.49 42.2,124.75 42.7,124 43.2,123.26 43.7,122.52 44.2,121.79 44.7,121.07 45.2,120.35 45.7,119.62 46.2,118.9 46.7,118.17 47.2,117.43 47.7,116.69 48.2,115.94 48.7,115.17 49.2,114.39 49.7,113.6 50.2,112.78 50.7,111.94 51.2,111.08 51.7,110.2 52.2,109.31 52.7,108.42 53.2,107.52 53.7,106.63 54.2,105.74 54.7,104.86 55.2,104 55.7,103.16 56.2,102.34 56.7,101.51 57.2,100.68 57.7,99.85 58.2,99.03 58.7,98.22 59.2,97.42 59.7,96.64 60.2,95.88 60.7,95.14 61.2,94.43 61.7,93.76 62.2,93.11 62.7,92.48 63.2,91.84 63.7,91.22 64.2,90.6 64.7,90 65.2,89.42 65.7,88.86 66.2,88.32 66.7,87.81 67.2,87.33 67.7,86.87 68.2,86.45 68.7,86.07 69.2,85.71 69.7,85.35 70.2,84.99 70.7,84.63 71.2,84.27 71.7,83.93 72.2,83.59 72.7,83.28 73.2,82.99 73.7,82.72 74.2,82.49 74.7,82.29 75.2,82.12 75.7,82 76.2,81.93 76.7,81.9 77.2,81.91 77.7,81.94 78.2,81.98 78.7,82.04 79.2,82.12 79.7,82.21 80.2,82.31 80.7,82.43 81.2,82.55 81.7,82.68 82.2,82.82 82.7,82.97 83.2,83.15 83.7,83.4 84.2,83.73 84.7,84.12 85.2,84.56 85.7,85.04 86.2,85.56 86.7,86.1 87.2,86.66 87.7,87.22 88.2,87.78 88.7,88.34 89.2,88.97 89.7,89.64 90.2,90.36 90.7,91.1 91.2,91.85 91.7,92.59 92.2,93.31 92.7,94 93.2,94.67 93.7,95.35 94.2,96.03 94.7,96.7 95.2,97.37 95.7,98.02 96.2,98.65 96.7,99.26 97.2,99.84 97.7,100.39 98.2,100.9 98.7,101.39 99.2,101.87 99.7,102.32 100.2,102.76 100.7,103.19 101.2,103.6 101.7,104.01 102.2,104.4 102.7,104.8 103.2,105.18 103.7,105.57 104.2,105.95 104.7,106.33 105.2,106.7 105.7,107.06 106.2,107.42 106.7,107.77 107.2,108.11 107.7,108.46 108.2,108.8 108.7,109.13 109.2,109.47 109.7,109.81 110.2,110.14 110.7,110.48 111.2,110.82 111.7,111.16 112.2,111.5 112.7,111.83 113.2,112.14 113.7,112.45 114.2,112.75 114.7,113.06 115.2,113.37 115.7,113.69 116.2,114.04 116.7,114.4 117.2,114.8 117.7,115.23 118.2,115.7 118.7,116.25 119.2,116.89 119.7,117.59 120.2,118.33 120.7,119.09 121.2,119.86 121.7,120.63 122.2,121.36 122.7,122.07 123.2,122.81 123.7,123.57 124.2,124.33 124.7,125.09 125.2,125.84 125.7,126.57 126.2,127.28 126.7,127.94 127.2,128.55 127.7,129.11 128.2,129.64 128.7,130.16 129.2,130.68 129.7,131.18 130.2,131.68 130.7,132.16 131.2,132.63 131.7,133.08 132.2,133.52 132.7,133.94 133.2,134.34 133.7,134.72 134.2,135.09 134.7,135.43 135.2,135.74 135.7,136.04 136.2,136.3 136.6,136.5" fill="none" stroke="#16a616" stroke-width="1.3" stroke-dasharray="3 2.6" stroke-linejoin="round" clip-path="url(#iclip_a)"/><rect x="35.5" y="69.5" width="100.9" height="80.7" fill="none" stroke="#333" stroke-width="1.15"/><line x1="55.68" y1="150.2" x2="55.68" y2="147.6" stroke="#111" stroke-width="1.1"/><line x1="55.68" y1="69.5" x2="55.68" y2="72.1" stroke="#111" stroke-width="1.1"/><text x="55.68" y="156" class="itk" text-anchor="middle">1670</text><line x1="75.86" y1="150.2" x2="75.86" y2="147.6" stroke="#111" stroke-width="1.1"/><line x1="75.86" y1="69.5" x2="75.86" y2="72.1" stroke="#111" stroke-width="1.1"/><text x="75.86" y="156" class="itk" text-anchor="middle">1660</text><line x1="96.04" y1="150.2" x2="96.04" y2="147.6" stroke="#111" stroke-width="1.1"/><line x1="96.04" y1="69.5" x2="96.04" y2="72.1" stroke="#111" stroke-width="1.1"/><text x="96.04" y="156" class="itk" text-anchor="middle">1650</text><line x1="116.22" y1="150.2" x2="116.22" y2="147.6" stroke="#111" stroke-width="1.1"/><line x1="116.22" y1="69.5" x2="116.22" y2="72.1" stroke="#111" stroke-width="1.1"/><text x="116.22" y="156" class="itk" text-anchor="middle">1640</text><text x="70.15" y="67.1" class="ittl" textLength="32" lengthAdjust="spacingAndGlyphs">Amide I</text></g><g><rect x="357.5" y="8.95" width="252.3" height="201.85" fill="none" stroke="#333" stroke-width="1.3"/><line x1="371.14" y1="210.8" x2="371.14" y2="208.3" stroke="#333" stroke-width="0.6"/><line x1="371.14" y1="8.95" x2="371.14" y2="11.45" stroke="#333" stroke-width="0.6"/><text x="371.14" y="219.9" class="tk" text-anchor="middle">1850</text><line x1="405.23" y1="210.8" x2="405.23" y2="208.3" stroke="#333" stroke-width="0.6"/><line x1="405.23" y1="8.95" x2="405.23" y2="11.45" stroke="#333" stroke-width="0.6"/><text x="405.23" y="219.9" class="tk" text-anchor="middle">1800</text><line x1="439.33" y1="210.8" x2="439.33" y2="208.3" stroke="#333" stroke-width="0.6"/><line x1="439.33" y1="8.95" x2="439.33" y2="11.45" stroke="#333" stroke-width="0.6"/><text x="439.33" y="219.9" class="tk" text-anchor="middle">1750</text><line x1="473.42" y1="210.8" x2="473.42" y2="208.3" stroke="#333" stroke-width="0.6"/><line x1="473.42" y1="8.95" x2="473.42" y2="11.45" stroke="#333" stroke-width="0.6"/><text x="473.42" y="219.9" class="tk" text-anchor="middle">1700</text><line x1="507.52" y1="210.8" x2="507.52" y2="208.3" stroke="#333" stroke-width="0.6"/><line x1="507.52" y1="8.95" x2="507.52" y2="11.45" stroke="#333" stroke-width="0.6"/><text x="507.52" y="219.9" class="tk" text-anchor="middle">1650</text><line x1="541.61" y1="210.8" x2="541.61" y2="208.3" stroke="#333" stroke-width="0.6"/><line x1="541.61" y1="8.95" x2="541.61" y2="11.45" stroke="#333" stroke-width="0.6"/><text x="541.61" y="219.9" class="tk" text-anchor="middle">1600</text><line x1="575.71" y1="210.8" x2="575.71" y2="208.3" stroke="#333" stroke-width="0.6"/><line x1="575.71" y1="8.95" x2="575.71" y2="11.45" stroke="#333" stroke-width="0.6"/><text x="575.71" y="219.9" class="tk" text-anchor="middle">1550</text><line x1="609.8" y1="210.8" x2="609.8" y2="208.3" stroke="#333" stroke-width="0.6"/><line x1="609.8" y1="8.95" x2="609.8" y2="11.45" stroke="#333" stroke-width="0.6"/><text x="609.8" y="219.9" class="tk" text-anchor="middle">1500</text><line x1="357.5" y1="210.8" x2="360" y2="210.8" stroke="#333" stroke-width="0.6"/><line x1="609.8" y1="210.8" x2="607.3" y2="210.8" stroke="#333" stroke-width="0.6"/><text x="355.2" y="212.8" class="tk" text-anchor="end">0.00</text><line x1="357.5" y1="185.57" x2="360" y2="185.57" stroke="#333" stroke-width="0.6"/><line x1="609.8" y1="185.57" x2="607.3" y2="185.57" stroke="#333" stroke-width="0.6"/><text x="355.2" y="187.57" class="tk" text-anchor="end">0.02</text><line x1="357.5" y1="160.34" x2="360" y2="160.34" stroke="#333" stroke-width="0.6"/><line x1="609.8" y1="160.34" x2="607.3" y2="160.34" stroke="#333" stroke-width="0.6"/><text x="355.2" y="162.34" class="tk" text-anchor="end">0.04</text><line x1="357.5" y1="135.11" x2="360" y2="135.11" stroke="#333" stroke-width="0.6"/><line x1="609.8" y1="135.11" x2="607.3" y2="135.11" stroke="#333" stroke-width="0.6"/><text x="355.2" y="137.11" class="tk" text-anchor="end">0.06</text><line x1="357.5" y1="109.88" x2="360" y2="109.88" stroke="#333" stroke-width="0.6"/><line x1="609.8" y1="109.88" x2="607.3" y2="109.88" stroke="#333" stroke-width="0.6"/><text x="355.2" y="111.88" class="tk" text-anchor="end">0.08</text><line x1="357.5" y1="84.64" x2="360" y2="84.64" stroke="#333" stroke-width="0.6"/><line x1="609.8" y1="84.64" x2="607.3" y2="84.64" stroke="#333" stroke-width="0.6"/><text x="355.2" y="86.64" class="tk" text-anchor="end">0.10</text><line x1="357.5" y1="59.41" x2="360" y2="59.41" stroke="#333" stroke-width="0.6"/><line x1="609.8" y1="59.41" x2="607.3" y2="59.41" stroke="#333" stroke-width="0.6"/><text x="355.2" y="61.41" class="tk" text-anchor="end">0.12</text><line x1="357.5" y1="34.18" x2="360" y2="34.18" stroke="#333" stroke-width="0.6"/><line x1="609.8" y1="34.18" x2="607.3" y2="34.18" stroke="#333" stroke-width="0.6"/><text x="355.2" y="36.18" class="tk" text-anchor="end">0.14</text><line x1="357.5" y1="8.95" x2="360" y2="8.95" stroke="#333" stroke-width="0.6"/><line x1="609.8" y1="8.95" x2="607.3" y2="8.95" stroke="#333" stroke-width="0.6"/><text x="355.2" y="10.95" class="tk" text-anchor="end">0.16</text><polyline points="357.5,210.3 358,210.3 358.5,210.3 359,210.3 359.5,210.3 360,210.3 360.5,210.3 361,210.3 361.5,210.3 362,210.3 362.5,210.3 363,210.3 363.5,210.3 364,210.3 364.5,210.3 365,210.3 365.5,210.3 366,210.3 366.5,210.3 367,210.3 367.5,210.3 368,210.3 368.5,210.3 369,210.3 369.5,210.3 370,210.3 370.5,210.3 371,210.3 371.5,210.3 372,210.3 372.5,210.3 373,210.3 373.5,210.3 374,210.3 374.5,210.3 375,210.3 375.5,210.3 376,210.3 376.5,210.3 377,210.3 377.5,210.3 378,210.3 378.5,210.3 379,210.3 379.5,210.3 380,210.3 380.5,210.3 381,210.3 381.5,210.3 382,210.3 382.5,210.3 383,210.3 383.5,210.3 384,210.3 384.5,210.3 385,210.3 385.5,210.3 386,210.3 386.5,210.3 387,210.3 387.5,210.3 388,210.3 388.5,210.3 389,210.3 389.5,210.3 390,210.3 390.5,210.3 391,210.3 391.5,210.3 392,210.3 392.5,210.3 393,210.3 393.5,210.3 394,210.3 394.5,210.3 395,210.3 395.5,210.3 396,210.3 396.5,210.3 397,210.3 397.5,210.3 398,210.3 398.5,210.3 399,210.3 399.5,210.3 400,210.3 400.5,210.3 401,210.3 401.5,210.3 402,210.3 402.5,210.3 403,210.29 403.5,210.29 404,210.29 404.5,210.29 405,210.28 405.5,210.28 406,210.28 406.5,210.28 407,210.27 407.5,210.27 408,210.26 408.5,210.26 409,210.26 409.5,210.25 410,210.25 410.5,210.25 411,210.24 411.5,210.24 412,210.24 412.5,210.23 413,210.23 413.5,210.22 414,210.22 414.5,210.22 415,210.22 415.5,210.21 416,210.21 416.5,210.21 417,210.21 417.5,210.2 418,210.2 418.5,210.2 419,210.2 419.5,210.2 420,210.2 420.5,210.2 421,210.2 421.5,210.2 422,210.2 422.5,210.2 423,210.2 423.5,210.2 424,210.2 424.5,210.2 425,210.18 425.5,210.12 426,210.02 426.5,209.89 427,209.72 427.5,209.53 428,209.32 428.5,209.08 429,208.83 429.5,208.56 430,208.27 430.5,207.97 431,207.57 431.5,207.06 432,206.45 432.5,205.77 433,205.01 433.5,204.19 434,203.33 434.5,202.44 435,201.53 435.5,200.62 436,199.68 436.5,198.68 437,197.61 437.5,196.44 438,195.16 438.5,193.74 439,192.19 439.5,190.1 440,187.43 440.5,184.67 441,182.31 441.5,180.64 442,179.17 442.5,177.93 443,177.01 443.5,176.51 444,176.19 444.5,175.92 445,175.71 445.5,175.55 446,175.43 446.5,175.34 447,175.28 447.5,175.23 448,175.21 448.5,175.2 449,175.29 449.5,175.52 450,175.84 450.5,176.23 451,176.63 451.5,177.02 452,177.35 452.5,177.63 453,177.96 453.5,178.32 454,178.74 454.5,179.21 455,179.72 455.5,180.27 456,180.87 456.5,181.5 457,182.24 457.5,183.13 458,184.11 458.5,185.13 459,186.13 459.5,187.06 460,187.87 460.5,188.5 461,188.9 461.5,189.27 462,189.63 462.5,189.96 463,190.24 463.5,190.41 464,190.43 464.5,190.38 465,190.31 465.5,190.31 466,190.41 466.5,190.55 467,190.63 467.5,190.56 468,190.25 468.5,189.69 469,188.93 469.5,187.98 470,186.9 470.5,185.69 471,184.4 471.5,183.04 472,181.63 472.5,180.04 473,177.74 473.5,174.94 474,171.93 474.5,168.46 475,164.46 475.5,160.51 476,157.11 476.5,154.01 477,151.06 477.5,148.27 478,145.62 478.5,143.1 479,140.76 479.5,138.61 480,136.54 480.5,134.47 481,132.31 481.5,130.02 482,127.75 482.5,125.42 483,122.97 483.5,120.32 484,117.38 484.5,113.8 485,109.82 485.5,105.93 486,102.47 486.5,99.2 487,96.05 487.5,93.02 488,90.08 488.5,87.25 489,84.55 489.5,81.95 490,79.39 490.5,76.82 491,74.21 491.5,71.5 492,68.62 492.5,65.6 493,62.51 493.5,59.46 494,56.52 494.5,53.8 495,51.34 495.5,48.94 496,46.64 496.5,44.56 497,42.83 497.5,41.51 498,40.28 498.5,39.13 499,38.12 499.5,37.33 500,36.83 500.5,36.71 501,36.9 501.5,37.32 502,37.88 502.5,38.5 503,39.33 503.5,40.47 504,41.75 504.5,43 505,44.18 505.5,45.37 506,46.58 506.5,47.81 507,49.08 507.5,50.38 508,51.72 508.5,53.17 509,54.77 509.5,56.45 510,58.1 510.5,59.66 511,61.03 511.5,62.14 512,63.06 512.5,63.89 513,64.68 513.5,65.53 514,66.5 514.5,67.58 515,68.77 515.5,70.18 516,72.05 516.5,74.46 517,77.02 517.5,79.44 518,81.89 518.5,84.36 519,86.8 519.5,89.15 520,91.37 520.5,93.48 521,95.5 521.5,97.46 522,99.38 522.5,101.28 523,103.19 523.5,105.12 524,107.11 524.5,109.16 525,111.3 525.5,113.55 526,115.88 526.5,118.26 527,120.67 527.5,123.06 528,125.42 528.5,127.72 529,129.92 529.5,132 530,134.01 530.5,136.01 531,137.98 531.5,139.91 532,141.78 532.5,143.59 533,145.3 533.5,146.91 534,148.4 534.5,149.76 535,151.06 535.5,152.32 536,153.54 536.5,154.7 537,155.79 537.5,156.8 538,157.73 538.5,158.55 539,159.25 539.5,159.86 540,160.46 540.5,161.04 541,161.6 541.5,162.12 542,162.57 542.5,162.96 543,163.25 543.5,163.43 544,163.5 544.5,163.5 545,163.5 545.5,163.49 546,163.49 546.5,163.48 547,163.47 547.5,163.46 548,163.45 548.5,163.44 549,163.42 549.5,163.41 550,163.38 550.5,163.31 551,163.19 551.5,163.03 552,162.84 552.5,162.61 553,162.36 553.5,162.09 554,161.8 554.5,161.5 555,161.13 555.5,160.65 556,160.07 556.5,159.41 557,158.69 557.5,157.93 558,157.15 558.5,156.37 559,155.59 559.5,154.85 560,154.12 560.5,153.38 561,152.62 561.5,151.85 562,151.06 562.5,150.26 563,149.44 563.5,148.61 564,147.76 564.5,146.89 565,146 565.5,145.17 566,144.41 566.5,143.68 567,142.89 567.5,142 568,140.93 568.5,139.61 569,138 569.5,134.68 570,129.62 570.5,124.77 571,121.16 571.5,117.77 572,114.64 572.5,111.84 573,109.43 573.5,107.31 574,105.38 574.5,104 575,103.38 575.5,102.89 576,102.46 576.5,102.08 577,101.75 577.5,101.49 578,101.27 578.5,101.12 579,101.03 579.5,101 580,101.47 580.5,102.7 581,104.44 581.5,106.41 582,108.35 582.5,110 583,111.4 583.5,112.78 584,114.14 584.5,115.48 585,116.8 585.5,118.11 586,119.41 586.5,120.71 587,122 587.5,123.28 588,124.53 588.5,125.78 589,127.01 589.5,128.23 590,129.46 590.5,130.7 591,131.95 591.5,133.23 592,134.52 592.5,135.82 593,137.12 593.5,138.43 594,139.75 594.5,141.09 595,142.45 595.5,143.83 596,145.25 596.5,146.7 597,148.22 597.5,149.82 598,151.47 598.5,153.15 599,154.82 599.5,156.44 600,158 600.5,159.42 601,160.72 601.5,161.96 602,163.19 602.5,164.49 603,165.92 603.5,167.53 604,169.42 604.5,172.29 605,175.92 605.5,179.67 606,182.86 606.5,184.81 607,185.56 607.5,186.18 608,186.7 608.5,187.12 609,187.41 609.5,187.57 609.8,187.6" fill="none" stroke="#1234f4" stroke-width="1.4" stroke-linejoin="round" clip-path="url(#clip_b)"/><polyline points="357.5,210.3 358,210.3 358.5,210.3 359,210.3 359.5,210.3 360,210.3 360.5,210.3 361,210.3 361.5,210.3 362,210.3 362.5,210.3 363,210.3 363.5,210.3 364,210.3 364.5,210.3 365,210.3 365.5,210.3 366,210.3 366.5,210.3 367,210.3 367.5,210.3 368,210.3 368.5,210.3 369,210.3 369.5,210.3 370,210.3 370.5,210.3 371,210.3 371.5,210.3 372,210.3 372.5,210.3 373,210.3 373.5,210.3 374,210.3 374.5,210.3 375,210.3 375.5,210.3 376,210.3 376.5,210.3 377,210.3 377.5,210.3 378,210.3 378.5,210.3 379,210.3 379.5,210.3 380,210.3 380.5,210.3 381,210.3 381.5,210.3 382,210.3 382.5,210.3 383,210.3 383.5,210.3 384,210.3 384.5,210.3 385,210.3 385.5,210.3 386,210.3 386.5,210.3 387,210.3 387.5,210.3 388,210.3 388.5,210.3 389,210.3 389.5,210.3 390,210.3 390.5,210.3 391,210.3 391.5,210.3 392,210.3 392.5,210.3 393,210.3 393.5,210.3 394,210.3 394.5,210.3 395,210.3 395.5,210.3 396,210.3 396.5,210.3 397,210.3 397.5,210.3 398,210.3 398.5,210.3 399,210.3 399.5,210.3 400,210.3 400.5,210.3 401,210.3 401.5,210.3 402,210.3 402.5,210.3 403,210.29 403.5,210.29 404,210.29 404.5,210.29 405,210.28 405.5,210.28 406,210.28 406.5,210.28 407,210.27 407.5,210.27 408,210.26 408.5,210.26 409,210.26 409.5,210.25 410,210.25 410.5,210.25 411,210.24 411.5,210.24 412,210.24 412.5,210.23 413,210.23 413.5,210.22 414,210.22 414.5,210.22 415,210.22 415.5,210.21 416,210.21 416.5,210.21 417,210.21 417.5,210.2 418,210.2 418.5,210.2 419,210.2 419.5,210.2 420,210.2 420.5,210.2 421,210.2 421.5,210.2 422,210.2 422.5,210.2 423,210.2 423.5,210.2 424,210.2 424.5,210.2 425,210.18 425.5,210.12 426,210.02 426.5,209.89 427,209.72 427.5,209.53 428,209.32 428.5,209.08 429,208.83 429.5,208.56 430,208.27 430.5,207.97 431,207.57 431.5,207.06 432,206.45 432.5,205.77 433,205.01 433.5,204.19 434,203.33 434.5,202.44 435,201.53 435.5,200.62 436,199.68 436.5,198.68 437,197.61 437.5,196.44 438,195.16 438.5,193.74 439,192.19 439.5,190.1 440,187.43 440.5,184.67 441,182.31 441.5,180.64 442,179.17 442.5,177.93 443,177.01 443.5,176.51 444,176.19 444.5,175.92 445,175.71 445.5,175.55 446,175.43 446.5,175.34 447,175.28 447.5,175.23 448,175.21 448.5,175.2 449,175.29 449.5,175.52 450,175.84 450.5,176.23 451,176.63 451.5,177.02 452,177.35 452.5,177.63 453,177.96 453.5,178.32 454,178.74 454.5,179.2 455,179.71 455.5,180.27 456,180.86 456.5,181.49 457,182.22 457.5,183.09 458,184.06 458.5,185.05 459,186.02 459.5,186.91 460,187.67 460.5,188.24 461,188.57 461.5,188.86 462,189.14 462.5,189.4 463,189.6 463.5,189.7 464,189.68 464.5,189.59 465,189.51 465.5,189.52 466,189.66 466.5,189.85 467,189.99 467.5,189.99 468,189.77 468.5,189.29 469,188.6 469.5,187.72 470,186.7 470.5,185.54 471,184.29 471.5,182.96 472,181.58 472.5,180 473,177.71 473.5,174.92 474,171.92 474.5,168.46 475,164.46 475.5,160.51 476,157.12 476.5,154.04 477,151.14 477.5,148.37 478,145.7 478.5,143.1 479,140.59 479.5,138.21 480,135.9 480.5,133.62 481,131.33 481.5,128.97 482,126.49 482.5,123.88 483,121.2 483.5,118.53 484,115.96 484.5,113.58 485,111.43 485.5,109.37 486,107.22 486.5,104.78 487,101.98 487.5,98.89 488,95.61 488.5,92.21 489,88.8 489.5,85.46 490,82.29 490.5,79.35 491,76.5 491.5,73.72 492,71 492.5,68.36 493,65.81 493.5,63.35 494,60.98 494.5,58.66 495,56.49 495.5,54.6 496,52.91 496.5,51.34 497,49.94 497.5,48.78 498,47.86 498.5,46.97 499,46.12 499.5,45.35 500,44.7 500.5,44.22 501,43.95 501.5,43.91 502,44.04 502.5,44.28 503,44.61 503.5,45 504,45.43 504.5,45.87 505,46.29 505.5,46.67 506,47.08 506.5,47.53 507,48.02 507.5,48.5 508,48.97 508.5,49.4 509,49.76 509.5,50.05 510,50.23 510.5,50.33 511,50.4 511.5,50.48 512,50.6 512.5,50.83 513,51.2 513.5,51.69 514,52.29 514.5,52.96 515,53.69 515.5,54.52 516,55.63 516.5,56.97 517,58.49 517.5,60.12 518,61.82 518.5,63.5 519,65.21 519.5,67.02 520,68.93 520.5,70.93 521,73.04 521.5,75.25 522,77.64 522.5,80.21 523,82.9 523.5,85.65 524,88.41 524.5,91.27 525,94.63 525.5,98.14 526,101.38 526.5,103.91 527,105.3 527.5,105.74 528,106.24 528.5,107.35 529,109.01 529.5,111.12 530,113.55 530.5,116.19 531,118.9 531.5,121.57 532,124.08 532.5,126.31 533,128.22 533.5,130.05 534,131.84 534.5,133.58 535,135.27 535.5,136.91 536,138.5 536.5,140.04 537,141.51 537.5,142.92 538,144.3 538.5,145.69 539,147.07 539.5,148.41 540,149.7 540.5,150.92 541,152.04 541.5,153.05 542,153.92 542.5,154.63 543,155.3 543.5,155.95 544,156.59 544.5,157.18 545,157.71 545.5,158.18 546,158.55 546.5,158.82 547,158.97 547.5,159 548,158.97 548.5,158.92 549,158.85 549.5,158.76 550,158.64 550.5,158.51 551,158.37 551.5,158.21 552,158.03 552.5,157.85 553,157.66 553.5,157.38 554,157 554.5,156.53 555,155.98 555.5,155.37 556,154.72 556.5,154.04 557,153.34 557.5,152.64 558,151.95 558.5,151.3 559,150.66 559.5,150 560,149.33 560.5,148.64 561,147.94 561.5,147.23 562,146.5 562.5,145.77 563,145.02 563.5,144.27 564,143.51 564.5,142.75 565,142.06 565.5,141.4 566,140.74 566.5,140.06 567,139.33 567.5,138.5 568,137.56 568.5,136.47 569,135.2 569.5,133.21 570,130.23 570.5,126.62 571,122.77 571.5,119.02 572,115.77 572.5,113.26 573,110.89 573.5,108.66 574,106.81 574.5,105.57 575,105.01 575.5,104.58 576,104.2 576.5,103.87 577,103.61 577.5,103.41 578,103.27 578.5,103.21 579,103.26 579.5,103.61 580,104.22 580.5,105.03 581,105.98 581.5,107 582,108.04 582.5,109.03 583,109.95 583.5,110.92 584,111.94 584.5,113.01 585,114.11 585.5,115.25 586,116.41 586.5,117.58 587,118.77 587.5,119.95 588,121.13 588.5,122.3 589,123.45 589.5,124.57 590,125.68 590.5,126.77 591,127.85 591.5,128.93 592,130.02 592.5,131.11 593,132.22 593.5,133.35 594,134.5 594.5,135.68 595,136.89 595.5,138.14 596,139.41 596.5,140.65 597,141.88 597.5,143.11 598,144.35 598.5,145.64 599,146.99 599.5,148.41 600,149.92 600.5,151.54 601,153.3 601.5,155.2 602,157.27 602.5,159.9 603,163.64 603.5,167.98 604,172.37 604.5,176.31 605,179.24 605.5,180.79 606,181.97 606.5,183.05 607,184.02 607.5,184.87 608,185.59 608.5,186.15 609,186.55 609.5,186.76 609.8,186.8" fill="none" stroke="#ee1420" stroke-width="1.4" stroke-dasharray="3 2.6" stroke-linejoin="round" clip-path="url(#clip_b)"/><polyline points="357.5,210.3 358,210.3 358.5,210.3 359,210.3 359.5,210.3 360,210.3 360.5,210.3 361,210.3 361.5,210.3 362,210.3 362.5,210.3 363,210.3 363.5,210.3 364,210.3 364.5,210.3 365,210.3 365.5,210.3 366,210.3 366.5,210.3 367,210.3 367.5,210.3 368,210.3 368.5,210.3 369,210.3 369.5,210.3 370,210.3 370.5,210.3 371,210.3 371.5,210.3 372,210.3 372.5,210.3 373,210.3 373.5,210.3 374,210.3 374.5,210.3 375,210.3 375.5,210.3 376,210.3 376.5,210.3 377,210.3 377.5,210.3 378,210.3 378.5,210.3 379,210.3 379.5,210.3 380,210.3 380.5,210.3 381,210.3 381.5,210.3 382,210.3 382.5,210.3 383,210.3 383.5,210.3 384,210.3 384.5,210.3 385,210.3 385.5,210.3 386,210.3 386.5,210.3 387,210.3 387.5,210.3 388,210.3 388.5,210.3 389,210.3 389.5,210.3 390,210.3 390.5,210.3 391,210.3 391.5,210.3 392,210.3 392.5,210.3 393,210.3 393.5,210.3 394,210.3 394.5,210.3 395,210.3 395.5,210.3 396,210.3 396.5,210.3 397,210.3 397.5,210.3 398,210.3 398.5,210.3 399,210.3 399.5,210.3 400,210.3 400.5,210.3 401,210.3 401.5,210.3 402,210.3 402.5,210.3 403,210.29 403.5,210.29 404,210.29 404.5,210.29 405,210.28 405.5,210.28 406,210.28 406.5,210.28 407,210.27 407.5,210.27 408,210.26 408.5,210.26 409,210.26 409.5,210.25 410,210.25 410.5,210.25 411,210.24 411.5,210.24 412,210.24 412.5,210.23 413,210.23 413.5,210.22 414,210.22 414.5,210.22 415,210.22 415.5,210.21 416,210.21 416.5,210.21 417,210.21 417.5,210.2 418,210.2 418.5,210.2 419,210.2 419.5,210.2 420,210.2 420.5,210.2 421,210.2 421.5,210.2 422,210.2 422.5,210.2 423,210.2 423.5,210.2 424,210.2 424.5,210.2 425,210.18 425.5,210.12 426,210.02 426.5,209.89 427,209.72 427.5,209.53 428,209.32 428.5,209.08 429,208.83 429.5,208.56 430,208.27 430.5,207.97 431,207.57 431.5,207.06 432,206.45 432.5,205.77 433,205.01 433.5,204.19 434,203.33 434.5,202.44 435,201.53 435.5,200.62 436,199.67 436.5,198.67 437,197.59 437.5,196.41 438,195.12 438.5,193.69 439,192.1 439.5,189.97 440,187.25 440.5,184.42 441,181.97 441.5,180.18 442,178.57 442.5,177.15 443,176.02 443.5,175.28 444,174.7 444.5,174.15 445,173.65 445.5,173.2 446,172.79 446.5,172.45 447,172.18 447.5,171.97 448,171.84 448.5,171.8 449,171.92 449.5,172.25 450,172.74 450.5,173.34 451,174 451.5,174.66 452,175.28 452.5,175.86 453,176.47 453.5,177.1 454,177.75 454.5,178.42 455,179.1 455.5,179.8 456,180.5 456.5,181.2 457,181.98 457.5,182.88 458,183.84 458.5,184.8 459,185.71 459.5,186.52 460,187.16 460.5,187.58 461,187.74 461.5,187.85 462,187.93 462.5,187.98 463,188 463.5,187.93 464,187.78 464.5,187.62 465,187.51 465.5,187.54 466,187.77 466.5,188.08 467,188.39 467.5,188.58 468,188.55 468.5,188.28 469,187.78 469.5,187.07 470,186.2 470.5,185.17 471,184.02 471.5,182.77 472,181.44 472.5,179.91 473,177.66 473.5,174.89 474,171.9 474.5,168.44 475,164.45 475.5,160.51 476,157.11 476.5,154.01 477,151.06 477.5,148.27 478,145.62 478.5,143.1 479,140.76 479.5,138.61 480,136.54 480.5,134.47 481,132.31 481.5,130.02 482,127.75 482.5,125.42 483,122.97 483.5,120.32 484,117.38 484.5,113.8 485,109.82 485.5,105.93 486,102.47 486.5,99.2 487,96.05 487.5,93.02 488,90.08 488.5,87.25 489,84.55 489.5,81.95 490,79.39 490.5,76.82 491,74.21 491.5,71.5 492,68.68 492.5,65.78 493,62.84 493.5,59.87 494,56.92 494.5,54.01 495,51.15 495.5,48.2 496,45.25 496.5,42.42 497,39.85 497.5,37.66 498,35.65 498.5,33.87 499,32.44 499.5,31.28 500,30.18 500.5,29.26 501,28.7 501.5,28.64 502,29.07 502.5,29.86 503,30.87 503.5,31.98 504,33.29 504.5,35.07 505,37.03 505.5,38.84 506,40.61 506.5,42.41 507,44.16 507.5,45.79 508,47.24 508.5,48.46 509,49.51 509.5,50.48 510,51.45 510.5,52.5 511,53.62 511.5,54.77 512,55.95 512.5,57.19 513,58.5 513.5,59.81 514,61.1 514.5,62.5 515,64.12 515.5,66.06 516,68.91 516.5,72.86 517,76.4 517.5,79.05 518,81.41 518.5,83.58 519,85.65 519.5,87.72 520,89.86 520.5,91.98 521,94.06 521.5,96.11 522,98.14 522.5,100.17 523,102.21 523.5,104.27 524,106.37 524.5,108.52 525,110.74 525.5,113.06 526,115.45 526.5,117.89 527,120.35 527.5,122.79 528,125.2 528.5,127.54 529,129.78 529.5,131.9 530,133.94 530.5,135.95 531,137.93 531.5,139.86 532,141.74 532.5,143.56 533,145.3 533.5,146.96 534,148.52 534.5,149.99 535,151.41 535.5,152.81 536,154.18 536.5,155.5 537,156.75 537.5,157.91 538,158.97 538.5,159.91 539,160.72 539.5,161.4 540,162.04 540.5,162.65 541,163.23 541.5,163.76 542,164.24 542.5,164.66 543,165.01 543.5,165.3 544,165.5 544.5,165.66 545,165.81 545.5,165.95 546,166.09 546.5,166.21 547,166.31 547.5,166.4 548,166.48 548.5,166.54 549,166.58 549.5,166.6 550,166.58 550.5,166.47 551,166.26 551.5,165.98 552,165.63 552.5,165.23 553,164.79 553.5,164.34 554,163.87 554.5,163.4 555,162.88 555.5,162.27 556,161.57 556.5,160.8 557,160 557.5,159.17 558,158.33 558.5,157.5 559,156.7 559.5,155.95 560,155.24 560.5,154.55 561,153.88 561.5,153.2 562,152.53 562.5,151.85 563,151.16 563.5,150.45 564,149.7 564.5,148.92 565,148.1 565.5,147.3 566,146.57 566.5,145.83 567,145.02 567.5,144.1 568,143 568.5,141.65 569,140 569.5,136.55 570,131.26 570.5,126.27 571,122.66 571.5,119.26 572,116.16 572.5,113.48 573,111.35 573.5,109.67 574,108.13 574.5,106.81 575,105.83 575.5,105.3 576,105.05 576.5,104.83 577,104.64 577.5,104.49 578,104.36 578.5,104.27 579,104.22 579.5,104.2 580,104.91 580.5,106.66 581,108.93 581.5,111.18 582,112.88 582.5,114.24 583,115.5 583.5,116.69 584,117.83 584.5,118.94 585,120.04 585.5,121.15 586,122.3 586.5,123.47 587,124.62 587.5,125.76 588,126.89 588.5,128.03 589,129.18 589.5,130.35 590,131.54 590.5,132.75 591,134 591.5,135.26 592,136.54 592.5,137.83 593,139.15 593.5,140.49 594,141.86 594.5,143.27 595,144.71 595.5,146.2 596,147.76 596.5,149.44 597,151.19 597.5,152.97 598,154.72 598.5,156.42 599,158.01 599.5,159.43 600,160.73 600.5,161.97 601,163.21 601.5,164.51 602,165.93 602.5,167.54 603,169.41 603.5,172.17 604,175.69 604.5,179.5 605,183.12 605.5,186.06 606,187.83 606.5,188.53 607,189.12 607.5,189.64 608,190.07 608.5,190.41 609,190.65 609.5,190.78 609.8,190.8" fill="none" stroke="#16a616" stroke-width="1.4" stroke-linejoin="round" clip-path="url(#clip_b)"/><polyline points="357.5,210.3 358,210.3 358.5,210.3 359,210.3 359.5,210.3 360,210.3 360.5,210.3 361,210.3 361.5,210.3 362,210.3 362.5,210.3 363,210.3 363.5,210.3 364,210.3 364.5,210.3 365,210.3 365.5,210.3 366,210.3 366.5,210.3 367,210.3 367.5,210.3 368,210.3 368.5,210.3 369,210.3 369.5,210.3 370,210.3 370.5,210.3 371,210.3 371.5,210.3 372,210.3 372.5,210.3 373,210.3 373.5,210.3 374,210.3 374.5,210.3 375,210.3 375.5,210.3 376,210.3 376.5,210.3 377,210.3 377.5,210.3 378,210.3 378.5,210.3 379,210.3 379.5,210.3 380,210.3 380.5,210.3 381,210.3 381.5,210.3 382,210.3 382.5,210.3 383,210.3 383.5,210.3 384,210.3 384.5,210.3 385,210.3 385.5,210.3 386,210.3 386.5,210.3 387,210.3 387.5,210.3 388,210.3 388.5,210.3 389,210.3 389.5,210.3 390,210.3 390.5,210.3 391,210.3 391.5,210.3 392,210.3 392.5,210.3 393,210.3 393.5,210.3 394,210.3 394.5,210.3 395,210.3 395.5,210.3 396,210.3 396.5,210.3 397,210.3 397.5,210.3 398,210.3 398.5,210.3 399,210.3 399.5,210.3 400,210.3 400.5,210.3 401,210.3 401.5,210.3 402,210.3 402.5,210.3 403,210.29 403.5,210.29 404,210.29 404.5,210.29 405,210.28 405.5,210.28 406,210.28 406.5,210.28 407,210.27 407.5,210.27 408,210.26 408.5,210.26 409,210.26 409.5,210.25 410,210.25 410.5,210.25 411,210.24 411.5,210.24 412,210.24 412.5,210.23 413,210.23 413.5,210.22 414,210.22 414.5,210.22 415,210.22 415.5,210.21 416,210.21 416.5,210.21 417,210.21 417.5,210.2 418,210.2 418.5,210.2 419,210.2 419.5,210.2 420,210.2 420.5,210.2 421,210.2 421.5,210.2 422,210.2 422.5,210.2 423,210.2 423.5,210.2 424,210.2 424.5,210.2 425,210.18 425.5,210.12 426,210.02 426.5,209.89 427,209.72 427.5,209.53 428,209.32 428.5,209.08 429,208.83 429.5,208.56 430,208.27 430.5,207.97 431,207.57 431.5,207.06 432,206.45 432.5,205.77 433,205.01 433.5,204.19 434,203.33 434.5,202.44 435,201.53 435.5,200.62 436,199.67 436.5,198.67 437,197.59 437.5,196.41 438,195.12 438.5,193.69 439,192.1 439.5,189.97 440,187.25 440.5,184.42 441,181.97 441.5,180.18 442,178.57 442.5,177.15 443,176.02 443.5,175.28 444,174.7 444.5,174.15 445,173.65 445.5,173.2 446,172.79 446.5,172.45 447,172.18 447.5,171.97 448,171.84 448.5,171.8 449,171.92 449.5,172.25 450,172.74 450.5,173.34 451,174 451.5,174.66 452,175.28 452.5,175.86 453,176.47 453.5,177.1 454,177.75 454.5,178.42 455,179.1 455.5,179.8 456,180.5 456.5,181.2 457,181.98 457.5,182.88 458,183.84 458.5,184.8 459,185.71 459.5,186.52 460,187.16 460.5,187.58 461,187.74 461.5,187.85 462,187.93 462.5,187.98 463,188 463.5,187.93 464,187.78 464.5,187.62 465,187.51 465.5,187.54 466,187.77 466.5,188.08 467,188.39 467.5,188.58 468,188.55 468.5,188.28 469,187.78 469.5,187.07 470,186.2 470.5,185.17 471,184.02 471.5,182.77 472,181.44 472.5,179.91 473,177.66 473.5,174.89 474,171.9 474.5,168.44 475,164.45 475.5,160.51 476,157.11 476.5,154.01 477,151.06 477.5,148.27 478,145.62 478.5,143.1 479,140.76 479.5,138.61 480,136.54 480.5,134.47 481,132.31 481.5,130.02 482,127.75 482.5,125.42 483,122.97 483.5,120.32 484,117.38 484.5,113.8 485,109.82 485.5,105.93 486,102.47 486.5,99.2 487,96.05 487.5,93.02 488,90.08 488.5,87.25 489,84.55 489.5,81.95 490,79.39 490.5,76.83 491,74.22 491.5,71.52 492,68.71 492.5,65.83 493,62.92 493.5,60.01 494,57.13 494.5,54.32 495,51.59 495.5,48.82 496,46.09 496.5,43.53 497,41.28 497.5,39.45 498,37.84 498.5,36.46 499,35.42 499.5,34.62 500,33.82 500.5,33.12 501,32.68 501.5,32.63 502,32.96 502.5,33.55 503,34.28 503.5,35.04 504,35.96 504.5,37.34 505,38.9 505.5,40.35 506,41.78 506.5,43.3 507,44.82 507.5,46.27 508,47.57 508.5,48.68 509,49.66 509.5,50.58 510,51.51 510.5,52.54 511,53.64 511.5,54.78 512,55.96 512.5,57.2 513,58.5 513.5,59.81 514,61.1 514.5,62.51 515,64.12 515.5,66.06 516,68.91 516.5,72.86 517,76.4 517.5,79.05 518,81.41 518.5,83.58 519,85.65 519.5,87.72 520,89.86 520.5,91.98 521,94.06 521.5,96.11 522,98.14 522.5,100.17 523,102.21 523.5,104.27 524,106.37 524.5,108.52 525,110.74 525.5,113.06 526,115.45 526.5,117.89 527,120.35 527.5,122.79 528,125.2 528.5,127.54 529,129.78 529.5,131.9 530,133.94 530.5,135.95 531,137.93 531.5,139.86 532,141.74 532.5,143.56 533,145.3 533.5,146.96 534,148.52 534.5,149.99 535,151.41 535.5,152.81 536,154.18 536.5,155.5 537,156.75 537.5,157.91 538,158.97 538.5,159.91 539,160.72 539.5,161.4 540,162.04 540.5,162.65 541,163.23 541.5,163.76 542,164.24 542.5,164.66 543,165.01 543.5,165.3 544,165.5 544.5,165.66 545,165.81 545.5,165.95 546,166.09 546.5,166.21 547,166.31 547.5,166.41 548,166.48 548.5,166.54 549,166.58 549.5,166.6 550,166.58 550.5,166.47 551,166.26 551.5,165.98 552,165.63 552.5,165.24 553,164.8 553.5,164.35 554,163.89 554.5,163.43 555,162.93 555.5,162.33 556,161.65 556.5,160.92 557,160.16 557.5,159.38 558,158.6 558.5,157.84 559,157.14 559.5,156.49 560,155.89 560.5,155.33 561,154.79 561.5,154.27 562,153.75 562.5,153.22 563,152.67 563.5,152.09 564,151.47 564.5,150.79 565,150.04 565.5,149.29 566,148.57 566.5,147.81 567,146.96 567.5,145.97 568,144.76 568.5,143.3 569,141.52 569.5,137.92 570,132.49 570.5,127.37 571,123.63 571.5,120.13 572,116.94 572.5,114.21 573,112.07 573.5,110.42 574,108.96 574.5,107.76 575,106.96 575.5,106.65 576,106.66 576.5,106.71 577,106.81 577.5,106.92 578,107.03 578.5,107.13 579,107.19 579.5,107.21 580,107.87 580.5,109.5 581,111.58 581.5,113.58 582,115.01 582.5,116.06 583,117.02 583.5,117.93 584,118.8 584.5,119.68 585,120.6 585.5,121.56 586,122.59 586.5,123.66 587,124.75 587.5,125.84 588,126.95 588.5,128.07 589,129.2 589.5,130.36 590,131.55 590.5,132.76 591,134 591.5,135.27 592,136.54 592.5,137.84 593,139.15 593.5,140.49 594,141.86 594.5,143.27 595,144.71 595.5,146.2 596,147.76 596.5,149.44 597,151.19 597.5,152.97 598,154.72 598.5,156.42 599,158.01 599.5,159.43 600,160.73 600.5,161.97 601,163.21 601.5,164.51 602,165.93 602.5,167.54 603,169.41 603.5,172.17 604,175.69 604.5,179.5 605,183.12 605.5,186.06 606,187.83 606.5,188.53 607,189.12 607.5,189.64 608,190.07 608.5,190.41 609,190.65 609.5,190.78 609.8,190.8" fill="none" stroke="#16a616" stroke-width="1.4" stroke-dasharray="3 2.6" stroke-linejoin="round" clip-path="url(#clip_b)"/><text x="474.7" y="6.5" class="ttl" textLength="18.4" lengthAdjust="spacingAndGlyphs">VTA</text><text transform="translate(334.3,109.88) rotate(-90)" class="ylab" text-anchor="middle">Absorbance</text><text x="441.7" y="232" class="xlab" textLength="54.6" lengthAdjust="spacingAndGlyphs">Wavenumber</text><text x="499.6" y="232.6" class="ubr">[</text><text x="502.2" y="232" class="ucm">cm</text><text x="514.8" y="228.3" class="usup">&#8722;1</text><text x="524.7" y="232.6" class="ubr">]</text><text x="486.5" y="244.5" class="cap" text-anchor="middle">(b)</text><line x1="562.4" y1="18.3" x2="575" y2="18.3" stroke="#1234f4" stroke-width="1.3"/><text x="583.7" y="21" class="leg">MCR</text><line x1="562.5" y1="28.9" x2="566" y2="28.9" stroke="#ee1420" stroke-width="1.3"/><line x1="568.5" y1="28.9" x2="571.7" y2="28.9" stroke="#ee1420" stroke-width="1.3"/><text x="583.7" y="31.6" class="leg">MCL</text><line x1="562.4" y1="39.5" x2="575" y2="39.5" stroke="#16a616" stroke-width="1.3"/><text x="583.7" y="42.2" class="leg">CR</text><line x1="562.5" y1="50.1" x2="566" y2="50.1" stroke="#16a616" stroke-width="1.3"/><line x1="568.5" y1="50.1" x2="571.7" y2="50.1" stroke="#16a616" stroke-width="1.3"/><text x="583.7" y="52.8" class="leg">CL</text><rect x="361.1" y="69.55" width="100.9" height="80.7" fill="#fff" stroke="none"/><polyline points="361.4,134.5 361.9,133.57 362.4,132.65 362.9,131.75 363.4,130.86 363.9,129.98 364.4,129.12 364.9,128.28 365.4,127.45 365.9,126.64 366.4,125.85 366.9,125.09 367.4,124.34 367.9,123.61 368.4,122.93 368.9,122.28 369.4,121.65 369.9,121.05 370.4,120.47 370.9,119.9 371.4,119.33 371.9,118.76 372.4,118.19 372.9,117.59 373.4,116.98 373.9,116.34 374.4,115.67 374.9,114.96 375.4,114.2 375.9,113.38 376.4,112.49 376.9,111.54 377.4,110.54 377.9,109.51 378.4,108.46 378.9,107.4 379.4,106.35 379.9,105.31 380.4,104.3 380.9,103.25 381.4,102.16 381.9,101.04 382.4,99.92 382.9,98.83 383.4,97.77 383.9,96.78 384.4,95.87 384.9,95.08 385.4,94.4 385.9,93.77 386.4,93.18 386.9,92.62 387.4,92.09 387.9,91.59 388.4,91.12 388.9,90.66 389.4,90.23 389.9,89.81 390.4,89.4 390.9,89 391.4,88.61 391.9,88.23 392.4,87.86 392.9,87.5 393.4,87.16 393.9,86.82 394.4,86.5 394.9,86.19 395.4,85.9 395.9,85.62 396.4,85.35 396.9,85.1 397.4,84.83 397.9,84.56 398.4,84.28 398.9,84.02 399.4,83.78 399.9,83.56 400.4,83.39 400.9,83.27 401.4,83.21 401.9,83.21 402.4,83.28 402.9,83.4 403.4,83.56 403.9,83.74 404.4,83.95 404.9,84.16 405.4,84.39 405.9,84.68 406.4,85.03 406.9,85.42 407.4,85.84 407.9,86.3 408.4,86.77 408.9,87.25 409.4,87.73 409.9,88.2 410.4,88.66 410.9,89.08 411.4,89.5 411.9,89.91 412.4,90.32 412.9,90.73 413.4,91.14 413.9,91.56 414.4,91.98 414.9,92.4 415.4,92.83 415.9,93.27 416.4,93.72 416.9,94.18 417.4,94.66 417.9,95.16 418.4,95.66 418.9,96.18 419.4,96.7 419.9,97.22 420.4,97.74 420.9,98.25 421.4,98.75 421.9,99.24 422.4,99.7 422.9,100.15 423.4,100.61 423.9,101.06 424.4,101.51 424.9,101.96 425.4,102.39 425.9,102.81 426.4,103.22 426.9,103.6 427.4,103.97 427.9,104.31 428.4,104.62 428.9,104.92 429.4,105.19 429.9,105.45 430.4,105.7 430.9,105.95 431.4,106.18 431.9,106.41 432.4,106.64 432.9,106.87 433.4,107.11 433.9,107.35 434.4,107.6 434.9,107.83 435.4,108.06 435.9,108.28 436.4,108.5 436.9,108.72 437.4,108.96 437.9,109.2 438.4,109.46 438.9,109.74 439.4,110.04 439.9,110.37 440.4,110.73 440.9,111.14 441.4,111.58 441.9,112.06 442.4,112.56 442.9,113.1 443.4,113.65 443.9,114.23 444.4,114.83 444.9,115.45 445.4,116.15 445.9,116.93 446.4,117.76 446.9,118.62 447.4,119.5 447.9,120.37 448.4,121.22 448.9,122.02 449.4,122.76 449.9,123.44 450.4,124.12 450.9,124.79 451.4,125.44 451.9,126.08 452.4,126.7 452.9,127.3 453.4,127.87 453.9,128.4 454.4,128.9 454.9,129.36 455.4,129.78 455.9,130.18 456.4,130.56 456.9,130.94 457.4,131.3 457.9,131.65 458.4,131.99 458.9,132.31 459.4,132.6 459.9,132.88 460.4,133.13 460.9,133.36 461.4,133.56 461.9,133.74 462.1,133.8" fill="none" stroke="#1234f4" stroke-width="1.3" stroke-linejoin="round" clip-path="url(#iclip_b)"/><polyline points="361.4,135 361.9,134.3 362.4,133.6 362.9,132.9 363.4,132.21 363.9,131.52 364.4,130.83 364.9,130.15 365.4,129.47 365.9,128.79 366.4,128.12 366.9,127.45 367.4,126.79 367.9,126.12 368.4,125.47 368.9,124.81 369.4,124.16 369.9,123.52 370.4,122.89 370.9,122.28 371.4,121.69 371.9,121.1 372.4,120.52 372.9,119.94 373.4,119.36 373.9,118.77 374.4,118.18 374.9,117.57 375.4,116.94 375.9,116.3 376.4,115.63 376.9,114.93 377.4,114.2 377.9,113.41 378.4,112.54 378.9,111.62 379.4,110.65 379.9,109.66 380.4,108.65 380.9,107.65 381.4,106.68 381.9,105.74 382.4,104.86 382.9,104.05 383.4,103.32 383.9,102.61 384.4,101.93 384.9,101.27 385.4,100.62 385.9,100 386.4,99.41 386.9,98.84 387.4,98.3 387.9,97.8 388.4,97.32 388.9,96.88 389.4,96.48 389.9,96.09 390.4,95.72 390.9,95.37 391.4,95.03 391.9,94.71 392.4,94.4 392.9,94.1 393.4,93.8 393.9,93.52 394.4,93.24 394.9,92.97 395.4,92.7 395.9,92.43 396.4,92.16 396.9,91.89 397.4,91.59 397.9,91.28 398.4,90.96 398.9,90.64 399.4,90.33 399.9,90.04 400.4,89.77 400.9,89.55 401.4,89.37 401.9,89.25 402.4,89.2 402.9,89.21 403.4,89.24 403.9,89.28 404.4,89.35 404.9,89.42 405.4,89.51 405.9,89.6 406.4,89.69 406.9,89.78 407.4,89.88 407.9,89.99 408.4,90.12 408.9,90.27 409.4,90.42 409.9,90.58 410.4,90.75 410.9,90.92 411.4,91.09 411.9,91.25 412.4,91.41 412.9,91.56 413.4,91.71 413.9,91.87 414.4,92.03 414.9,92.2 415.4,92.36 415.9,92.53 416.4,92.7 416.9,92.86 417.4,93.03 417.9,93.19 418.4,93.35 418.9,93.5 419.4,93.65 419.9,93.8 420.4,93.93 420.9,94.06 421.4,94.18 421.9,94.3 422.4,94.4 422.9,94.49 423.4,94.58 423.9,94.66 424.4,94.74 424.9,94.81 425.4,94.88 425.9,94.94 426.4,95 426.9,95.07 427.4,95.13 427.9,95.19 428.4,95.25 428.9,95.31 429.4,95.38 429.9,95.44 430.4,95.52 430.9,95.59 431.4,95.68 431.9,95.76 432.4,95.86 432.9,95.95 433.4,96.05 433.9,96.15 434.4,96.26 434.9,96.37 435.4,96.48 435.9,96.61 436.4,96.73 436.9,96.87 437.4,97.01 437.9,97.15 438.4,97.31 438.9,97.48 439.4,97.65 439.9,97.84 440.4,98.04 440.9,98.28 441.4,98.53 441.9,98.81 442.4,99.11 442.9,99.43 443.4,99.78 443.9,100.14 444.4,100.52 444.9,100.92 445.4,101.34 445.9,101.78 446.4,102.31 446.9,102.93 447.4,103.61 447.9,104.34 448.4,105.11 448.9,105.88 449.4,106.65 449.9,107.4 450.4,108.1 450.9,108.74 451.4,109.3 451.9,109.78 452.4,110.23 452.9,110.65 453.4,111.05 453.9,111.43 454.4,111.8 454.9,112.16 455.4,112.52 455.9,112.89 456.4,113.28 456.9,113.66 457.4,114.05 457.9,114.43 458.4,114.82 458.9,115.2 459.4,115.58 459.9,115.96 460.4,116.33 460.9,116.71 461.4,117.08 461.9,117.45 462.1,117.6" fill="none" stroke="#ee1420" stroke-width="1.3" stroke-dasharray="3 2.6" stroke-linejoin="round" clip-path="url(#iclip_b)"/><polyline points="361.4,134.5 361.9,133.57 362.4,132.65 362.9,131.75 363.4,130.86 363.9,129.98 364.4,129.12 364.9,128.28 365.4,127.45 365.9,126.64 366.4,125.85 366.9,125.09 367.4,124.34 367.9,123.61 368.4,122.93 368.9,122.29 369.4,121.67 369.9,121.08 370.4,120.51 370.9,119.95 371.4,119.39 371.9,118.83 372.4,118.25 372.9,117.66 373.4,117.05 373.9,116.4 374.4,115.71 374.9,114.98 375.4,114.2 375.9,113.34 376.4,112.38 376.9,111.35 377.4,110.27 377.9,109.14 378.4,107.98 378.9,106.81 379.4,105.64 379.9,104.49 380.4,103.38 380.9,102.23 381.4,101.04 381.9,99.82 382.4,98.59 382.9,97.39 383.4,96.22 383.9,95.13 384.4,94.12 384.9,93.22 385.4,92.45 385.9,91.74 386.4,91.08 386.9,90.46 387.4,89.88 387.9,89.33 388.4,88.79 388.9,88.27 389.4,87.74 389.9,87.21 390.4,86.67 390.9,86.1 391.4,85.51 391.9,84.89 392.4,84.26 392.9,83.63 393.4,82.99 393.9,82.37 394.4,81.76 394.9,81.18 395.4,80.63 395.9,80.12 396.4,79.65 396.9,79.24 397.4,78.82 397.9,78.39 398.4,77.97 398.9,77.55 399.4,77.15 399.9,76.78 400.4,76.43 400.9,76.13 401.4,75.88 401.9,75.69 402.4,75.56 402.9,75.5 403.4,75.52 403.9,75.58 404.4,75.69 404.9,75.84 405.4,76.02 405.9,76.23 406.4,76.48 406.9,76.74 407.4,77.02 407.9,77.32 408.4,77.63 408.9,77.94 409.4,78.25 409.9,78.56 410.4,78.86 410.9,79.18 411.4,79.54 411.9,79.92 412.4,80.33 412.9,80.75 413.4,81.2 413.9,81.65 414.4,82.12 414.9,82.59 415.4,83.07 415.9,83.54 416.4,84.01 416.9,84.48 417.4,84.95 417.9,85.42 418.4,85.9 418.9,86.39 419.4,86.89 419.9,87.39 420.4,87.9 420.9,88.41 421.4,88.93 421.9,89.46 422.4,90 422.9,90.56 423.4,91.14 423.9,91.74 424.4,92.36 424.9,92.98 425.4,93.6 425.9,94.22 426.4,94.83 426.9,95.41 427.4,95.97 427.9,96.5 428.4,96.99 428.9,97.47 429.4,97.94 429.9,98.4 430.4,98.85 430.9,99.28 431.4,99.7 431.9,100.11 432.4,100.49 432.9,100.86 433.4,101.21 433.9,101.54 434.4,101.84 434.9,102.1 435.4,102.35 435.9,102.57 436.4,102.78 436.9,102.99 437.4,103.2 437.9,103.42 438.4,103.66 438.9,103.93 439.4,104.23 439.9,104.57 440.4,104.97 440.9,105.43 441.4,105.94 441.9,106.5 442.4,107.11 442.9,107.75 443.4,108.42 443.9,109.13 444.4,109.85 444.9,110.61 445.4,111.47 445.9,112.42 446.4,113.46 446.9,114.54 447.4,115.64 447.9,116.75 448.4,117.83 448.9,118.86 449.4,119.82 449.9,120.71 450.4,121.6 450.9,122.48 451.4,123.34 451.9,124.19 452.4,125 452.9,125.77 453.4,126.5 453.9,127.18 454.4,127.8 454.9,128.39 455.4,128.96 455.9,129.53 456.4,130.08 456.9,130.61 457.4,131.13 457.9,131.63 458.4,132.1 458.9,132.56 459.4,132.99 459.9,133.39 460.4,133.76 460.9,134.11 461.4,134.42 461.9,134.7 462.1,134.8" fill="none" stroke="#16a616" stroke-width="1.3" stroke-linejoin="round" clip-path="url(#iclip_b)"/><polyline points="361.4,140.3 361.9,139.37 362.4,138.45 362.9,137.55 363.4,136.66 363.9,135.78 364.4,134.92 364.9,134.08 365.4,133.25 365.9,132.44 366.4,131.65 366.9,130.89 367.4,130.14 367.9,129.41 368.4,128.73 368.9,128.09 369.4,127.48 369.9,126.9 370.4,126.33 370.9,125.77 371.4,125.22 371.9,124.66 372.4,124.09 372.9,123.5 373.4,122.88 373.9,122.23 374.4,121.54 374.9,120.8 375.4,120 375.9,119.1 376.4,118.08 376.9,116.95 377.4,115.75 377.9,114.49 378.4,113.2 378.9,111.9 379.4,110.62 379.9,109.38 380.4,108.2 380.9,107.11 381.4,106.11 381.9,105.17 382.4,104.26 382.9,103.37 383.4,102.51 383.9,101.67 384.4,100.85 384.9,100.04 385.4,99.26 385.9,98.48 386.4,97.71 386.9,96.95 387.4,96.19 387.9,95.43 388.4,94.68 388.9,93.92 389.4,93.17 389.9,92.43 390.4,91.7 390.9,90.98 391.4,90.28 391.9,89.6 392.4,88.93 392.9,88.29 393.4,87.68 393.9,87.09 394.4,86.53 394.9,86 395.4,85.46 395.9,84.91 396.4,84.35 396.9,83.79 397.4,83.23 397.9,82.68 398.4,82.14 398.9,81.62 399.4,81.13 399.9,80.67 400.4,80.25 400.9,79.88 401.4,79.56 401.9,79.29 402.4,79.09 402.9,78.96 403.4,78.9 403.9,78.92 404.4,78.99 404.9,79.12 405.4,79.29 405.9,79.5 406.4,79.75 406.9,80.03 407.4,80.34 407.9,80.68 408.4,81.03 408.9,81.4 409.4,81.78 409.9,82.16 410.4,82.55 410.9,82.93 411.4,83.3 411.9,83.66 412.4,84 412.9,84.33 413.4,84.65 413.9,84.97 414.4,85.3 414.9,85.63 415.4,85.96 415.9,86.3 416.4,86.65 416.9,87 417.4,87.36 417.9,87.74 418.4,88.12 418.9,88.51 419.4,88.92 419.9,89.34 420.4,89.79 420.9,90.26 421.4,90.75 421.9,91.26 422.4,91.78 422.9,92.31 423.4,92.84 423.9,93.37 424.4,93.89 424.9,94.41 425.4,94.92 425.9,95.42 426.4,95.89 426.9,96.37 427.4,96.84 427.9,97.31 428.4,97.79 428.9,98.26 429.4,98.72 429.9,99.18 430.4,99.64 430.9,100.09 431.4,100.52 431.9,100.95 432.4,101.37 432.9,101.77 433.4,102.16 433.9,102.53 434.4,102.88 434.9,103.2 435.4,103.5 435.9,103.78 436.4,104.05 436.9,104.3 437.4,104.54 437.9,104.78 438.4,105.01 438.9,105.25 439.4,105.5 439.9,105.75 440.4,106.02 440.9,106.31 441.4,106.62 441.9,106.95 442.4,107.31 442.9,107.7 443.4,108.13 443.9,108.6 444.4,109.21 444.9,109.96 445.4,110.81 445.9,111.76 446.4,112.76 446.9,113.81 447.4,114.88 447.9,115.93 448.4,116.96 448.9,117.94 449.4,118.83 449.9,119.67 450.4,120.52 450.9,121.37 451.4,122.22 451.9,123.06 452.4,123.88 452.9,124.67 453.4,125.42 453.9,126.13 454.4,126.78 454.9,127.38 455.4,127.9 455.9,128.39 456.4,128.88 456.9,129.35 457.4,129.8 457.9,130.23 458.4,130.65 458.9,131.04 459.4,131.4 459.9,131.73 460.4,132.04 460.9,132.31 461.4,132.54 461.9,132.73 462.1,132.8" fill="none" stroke="#16a616" stroke-width="1.3" stroke-dasharray="3 2.6" stroke-linejoin="round" clip-path="url(#iclip_b)"/><rect x="361.1" y="69.55" width="100.9" height="80.7" fill="none" stroke="#333" stroke-width="1.15"/><line x1="381.28" y1="150.25" x2="381.28" y2="147.65" stroke="#111" stroke-width="1.1"/><line x1="381.28" y1="69.55" x2="381.28" y2="72.15" stroke="#111" stroke-width="1.1"/><text x="381.28" y="156.05" class="itk" text-anchor="middle">1670</text><line x1="401.46" y1="150.25" x2="401.46" y2="147.65" stroke="#111" stroke-width="1.1"/><line x1="401.46" y1="69.55" x2="401.46" y2="72.15" stroke="#111" stroke-width="1.1"/><text x="401.46" y="156.05" class="itk" text-anchor="middle">1660</text><line x1="421.64" y1="150.25" x2="421.64" y2="147.65" stroke="#111" stroke-width="1.1"/><line x1="421.64" y1="69.55" x2="421.64" y2="72.15" stroke="#111" stroke-width="1.1"/><text x="421.64" y="156.05" class="itk" text-anchor="middle">1650</text><line x1="441.82" y1="150.25" x2="441.82" y2="147.65" stroke="#111" stroke-width="1.1"/><line x1="441.82" y1="69.55" x2="441.82" y2="72.15" stroke="#111" stroke-width="1.1"/><text x="441.82" y="156.05" class="itk" text-anchor="middle">1640</text><text x="395.75" y="67.15" class="ittl" textLength="32" lengthAdjust="spacingAndGlyphs">Amide I</text></g><g><rect x="31.8" y="261.5" width="252.4" height="201.9" fill="none" stroke="#333" stroke-width="1.3"/><line x1="45.44" y1="463.4" x2="45.44" y2="460.9" stroke="#333" stroke-width="0.6"/><line x1="45.44" y1="261.5" x2="45.44" y2="264" stroke="#333" stroke-width="0.6"/><text x="45.44" y="472.5" class="tk" text-anchor="middle">1850</text><line x1="79.55" y1="463.4" x2="79.55" y2="460.9" stroke="#333" stroke-width="0.6"/><line x1="79.55" y1="261.5" x2="79.55" y2="264" stroke="#333" stroke-width="0.6"/><text x="79.55" y="472.5" class="tk" text-anchor="middle">1800</text><line x1="113.66" y1="463.4" x2="113.66" y2="460.9" stroke="#333" stroke-width="0.6"/><line x1="113.66" y1="261.5" x2="113.66" y2="264" stroke="#333" stroke-width="0.6"/><text x="113.66" y="472.5" class="tk" text-anchor="middle">1750</text><line x1="147.77" y1="463.4" x2="147.77" y2="460.9" stroke="#333" stroke-width="0.6"/><line x1="147.77" y1="261.5" x2="147.77" y2="264" stroke="#333" stroke-width="0.6"/><text x="147.77" y="472.5" class="tk" text-anchor="middle">1700</text><line x1="181.88" y1="463.4" x2="181.88" y2="460.9" stroke="#333" stroke-width="0.6"/><line x1="181.88" y1="261.5" x2="181.88" y2="264" stroke="#333" stroke-width="0.6"/><text x="181.88" y="472.5" class="tk" text-anchor="middle">1650</text><line x1="215.98" y1="463.4" x2="215.98" y2="460.9" stroke="#333" stroke-width="0.6"/><line x1="215.98" y1="261.5" x2="215.98" y2="264" stroke="#333" stroke-width="0.6"/><text x="215.98" y="472.5" class="tk" text-anchor="middle">1600</text><line x1="250.09" y1="463.4" x2="250.09" y2="460.9" stroke="#333" stroke-width="0.6"/><line x1="250.09" y1="261.5" x2="250.09" y2="264" stroke="#333" stroke-width="0.6"/><text x="250.09" y="472.5" class="tk" text-anchor="middle">1550</text><line x1="284.2" y1="463.4" x2="284.2" y2="460.9" stroke="#333" stroke-width="0.6"/><line x1="284.2" y1="261.5" x2="284.2" y2="264" stroke="#333" stroke-width="0.6"/><text x="284.2" y="472.5" class="tk" text-anchor="middle">1500</text><line x1="31.8" y1="463.4" x2="34.3" y2="463.4" stroke="#333" stroke-width="0.6"/><line x1="284.2" y1="463.4" x2="281.7" y2="463.4" stroke="#333" stroke-width="0.6"/><text x="29.5" y="465.4" class="tk" text-anchor="end">0.00</text><line x1="31.8" y1="438.16" x2="34.3" y2="438.16" stroke="#333" stroke-width="0.6"/><line x1="284.2" y1="438.16" x2="281.7" y2="438.16" stroke="#333" stroke-width="0.6"/><text x="29.5" y="440.16" class="tk" text-anchor="end">0.02</text><line x1="31.8" y1="412.92" x2="34.3" y2="412.92" stroke="#333" stroke-width="0.6"/><line x1="284.2" y1="412.92" x2="281.7" y2="412.92" stroke="#333" stroke-width="0.6"/><text x="29.5" y="414.92" class="tk" text-anchor="end">0.04</text><line x1="31.8" y1="387.69" x2="34.3" y2="387.69" stroke="#333" stroke-width="0.6"/><line x1="284.2" y1="387.69" x2="281.7" y2="387.69" stroke="#333" stroke-width="0.6"/><text x="29.5" y="389.69" class="tk" text-anchor="end">0.06</text><line x1="31.8" y1="362.45" x2="34.3" y2="362.45" stroke="#333" stroke-width="0.6"/><line x1="284.2" y1="362.45" x2="281.7" y2="362.45" stroke="#333" stroke-width="0.6"/><text x="29.5" y="364.45" class="tk" text-anchor="end">0.08</text><line x1="31.8" y1="337.21" x2="34.3" y2="337.21" stroke="#333" stroke-width="0.6"/><line x1="284.2" y1="337.21" x2="281.7" y2="337.21" stroke="#333" stroke-width="0.6"/><text x="29.5" y="339.21" class="tk" text-anchor="end">0.10</text><line x1="31.8" y1="311.98" x2="34.3" y2="311.98" stroke="#333" stroke-width="0.6"/><line x1="284.2" y1="311.98" x2="281.7" y2="311.98" stroke="#333" stroke-width="0.6"/><text x="29.5" y="313.98" class="tk" text-anchor="end">0.12</text><line x1="31.8" y1="286.74" x2="34.3" y2="286.74" stroke="#333" stroke-width="0.6"/><line x1="284.2" y1="286.74" x2="281.7" y2="286.74" stroke="#333" stroke-width="0.6"/><text x="29.5" y="288.74" class="tk" text-anchor="end">0.14</text><line x1="31.8" y1="261.5" x2="34.3" y2="261.5" stroke="#333" stroke-width="0.6"/><line x1="284.2" y1="261.5" x2="281.7" y2="261.5" stroke="#333" stroke-width="0.6"/><text x="29.5" y="263.5" class="tk" text-anchor="end">0.16</text><polyline points="31.8,462.8 32.3,462.8 32.8,462.8 33.3,462.8 33.8,462.8 34.3,462.8 34.8,462.8 35.3,462.8 35.8,462.8 36.3,462.8 36.8,462.8 37.3,462.8 37.8,462.8 38.3,462.8 38.8,462.8 39.3,462.8 39.8,462.8 40.3,462.8 40.8,462.8 41.3,462.8 41.8,462.8 42.3,462.8 42.8,462.8 43.3,462.8 43.8,462.8 44.3,462.8 44.8,462.8 45.3,462.8 45.8,462.8 46.3,462.8 46.8,462.8 47.3,462.8 47.8,462.8 48.3,462.8 48.8,462.8 49.3,462.8 49.8,462.8 50.3,462.8 50.8,462.8 51.3,462.8 51.8,462.8 52.3,462.8 52.8,462.8 53.3,462.8 53.8,462.8 54.3,462.8 54.8,462.8 55.3,462.8 55.8,462.8 56.3,462.8 56.8,462.8 57.3,462.8 57.8,462.8 58.3,462.8 58.8,462.8 59.3,462.8 59.8,462.8 60.3,462.8 60.8,462.8 61.3,462.8 61.8,462.8 62.3,462.8 62.8,462.8 63.3,462.8 63.8,462.79 64.3,462.79 64.8,462.79 65.3,462.79 65.8,462.79 66.3,462.79 66.8,462.78 67.3,462.78 67.8,462.78 68.3,462.78 68.8,462.77 69.3,462.77 69.8,462.77 70.3,462.77 70.8,462.76 71.3,462.76 71.8,462.76 72.3,462.75 72.8,462.75 73.3,462.75 73.8,462.74 74.3,462.74 74.8,462.73 75.3,462.73 75.8,462.73 76.3,462.72 76.8,462.72 77.3,462.71 77.8,462.71 78.3,462.71 78.8,462.7 79.3,462.7 79.8,462.69 80.3,462.69 80.8,462.68 81.3,462.68 81.8,462.67 82.3,462.67 82.8,462.67 83.3,462.66 83.8,462.66 84.3,462.65 84.8,462.65 85.3,462.64 85.8,462.64 86.3,462.63 86.8,462.63 87.3,462.62 87.8,462.62 88.3,462.62 88.8,462.61 89.3,462.61 89.8,462.6 90.3,462.6 90.8,462.59 91.3,462.59 91.8,462.59 92.3,462.58 92.8,462.58 93.3,462.58 93.8,462.57 94.3,462.57 94.8,462.56 95.3,462.56 95.8,462.55 96.3,462.55 96.8,462.54 97.3,462.53 97.8,462.52 98.3,462.52 98.8,462.5 99.3,462.48 99.8,462.42 100.3,462.32 100.8,462.17 101.3,461.99 101.8,461.79 102.3,461.55 102.8,461.3 103.3,461.02 103.8,460.74 104.3,460.44 104.8,460.14 105.3,459.79 105.8,459.38 106.3,458.91 106.8,458.39 107.3,457.82 107.8,457.19 108.3,456.52 108.8,455.82 109.3,455.07 109.8,454.21 110.3,453.22 110.8,452.13 111.3,450.93 111.8,449.67 112.3,448.35 112.8,446.97 113.3,445.33 113.8,443.5 114.3,441.63 114.8,439.87 115.3,438.37 115.8,437.12 116.3,435.91 116.8,434.8 117.3,433.88 117.8,433.21 118.3,432.86 118.8,432.64 119.3,432.44 119.8,432.26 120.3,432.11 120.8,431.98 121.3,431.88 121.8,431.82 122.3,431.81 122.8,431.93 123.3,432.19 123.8,432.55 124.3,432.95 124.8,433.37 125.3,433.77 125.8,434.12 126.3,434.38 126.8,434.64 127.3,434.93 127.8,435.25 128.3,435.62 128.8,436.04 129.3,436.51 129.8,437.04 130.3,437.62 130.8,438.25 131.3,439.01 131.8,439.87 132.3,440.79 132.8,441.75 133.3,442.7 133.8,443.6 134.3,444.41 134.8,445.11 135.3,445.65 135.8,445.99 136.3,446.11 136.8,446.05 137.3,445.9 137.8,445.66 138.3,445.34 138.8,444.96 139.3,444.53 139.8,444.06 140.3,443.58 140.8,443.09 141.3,442.56 141.8,441.97 142.3,441.34 142.8,440.66 143.3,439.94 143.8,439.2 144.3,438.45 144.8,437.65 145.3,436.79 145.8,435.85 146.3,434.82 146.8,433.67 147.3,432.39 147.8,430.93 148.3,429 148.8,426.66 149.3,424.05 149.8,421.31 150.3,418.26 150.8,414.84 151.3,411.35 151.8,408.03 152.3,404.76 152.8,401.51 153.3,398.27 153.8,395.05 154.3,391.83 154.8,388.62 155.3,385.4 155.8,382.17 156.3,378.93 156.8,375.67 157.3,372.39 157.8,369.08 158.3,365.75 158.8,362.35 159.3,358.84 159.8,355.3 160.3,351.83 160.8,348.5 161.3,345.37 161.8,342.39 162.3,339.48 162.8,336.61 163.3,333.7 163.8,330.7 164.3,327.56 164.8,324.36 165.3,321.13 165.8,317.79 166.3,314.28 166.8,310.56 167.3,306.38 167.8,301.27 168.3,295.92 168.8,291.11 169.3,287.6 169.8,285.16 170.3,283.02 170.8,281.15 171.3,279.52 171.8,278.12 172.3,276.93 172.8,275.88 173.3,274.84 173.8,273.86 174.3,273 174.8,272.33 175.3,271.91 175.8,271.81 176.3,272.14 176.8,272.89 177.3,273.95 177.8,275.25 178.3,276.7 178.8,278.2 179.3,279.95 179.8,282.34 180.3,285.18 180.8,288.25 181.3,291.32 181.8,294.17 182.3,296.6 182.8,298.66 183.3,300.59 183.8,302.41 184.3,304.14 184.8,305.82 185.3,307.45 185.8,309.08 186.3,310.72 186.8,312.4 187.3,314.04 187.8,315.6 188.3,317.12 188.8,318.68 189.3,320.32 189.8,322.12 190.3,324.12 190.8,326.46 191.3,329.1 191.8,331.95 192.3,334.9 192.8,337.85 193.3,340.71 193.8,343.42 194.3,346.15 194.8,348.86 195.3,351.5 195.8,354.03 196.3,356.4 196.8,358.63 197.3,360.77 197.8,362.9 198.3,365.08 198.8,367.31 199.3,369.58 199.8,371.86 200.3,374.14 200.8,376.4 201.3,378.61 201.8,380.77 202.3,382.84 202.8,384.82 203.3,386.72 203.8,388.6 204.3,390.46 204.8,392.27 205.3,394.03 205.8,395.73 206.3,397.34 206.8,398.85 207.3,400.26 207.8,401.55 208.3,402.78 208.8,403.98 209.3,405.15 209.8,406.26 210.3,407.31 210.8,408.28 211.3,409.17 211.8,409.96 212.3,410.65 212.8,411.22 213.3,411.77 213.8,412.31 214.3,412.84 214.8,413.36 215.3,413.86 215.8,414.34 216.3,414.79 216.8,415.22 217.3,415.63 217.8,415.99 218.3,416.33 218.8,416.62 219.3,416.87 219.8,417.08 220.3,417.24 220.8,417.34 221.3,417.4 221.8,417.39 222.3,417.33 222.8,417.21 223.3,417.04 223.8,416.83 224.3,416.59 224.8,416.3 225.3,415.99 225.8,415.65 226.3,415.29 226.8,414.91 227.3,414.52 227.8,414.12 228.3,413.72 228.8,413.32 229.3,412.88 229.8,412.39 230.3,411.84 230.8,411.25 231.3,410.62 231.8,409.94 232.3,409.22 232.8,408.47 233.3,407.69 233.8,406.88 234.3,406.05 234.8,405.2 235.3,404.32 235.8,403.38 236.3,402.35 236.8,401.24 237.3,400.07 237.8,398.85 238.3,397.59 238.8,396.31 239.3,395.01 239.8,393.72 240.3,392.45 240.8,391.3 241.3,390.2 241.8,389.07 242.3,387.84 242.8,386.43 243.3,384.78 243.8,382.8 244.3,379.95 244.8,375.06 245.3,369.85 245.8,366.05 246.3,362.7 246.8,359.6 247.3,356.99 247.8,355.14 248.3,354.21 248.8,353.54 249.3,352.95 249.8,352.43 250.3,352.01 250.8,351.68 251.3,351.44 251.8,351.32 252.3,351.32 252.8,351.55 253.3,351.99 253.8,352.61 254.3,353.37 254.8,354.57 255.3,357.24 255.8,360.76 256.3,364.29 256.8,367.02 257.3,368.71 257.8,370.18 258.3,371.48 258.8,372.64 259.3,373.71 259.8,374.7 260.3,375.65 260.8,376.58 261.3,377.53 261.8,378.53 262.3,379.61 262.8,380.78 263.3,381.99 263.8,383.21 264.3,384.44 264.8,385.69 265.3,386.94 265.8,388.21 266.3,389.49 266.8,390.77 267.3,392.06 267.8,393.36 268.3,394.67 268.8,395.98 269.3,397.28 269.8,398.57 270.3,399.84 270.8,401.1 271.3,402.36 271.8,403.64 272.3,404.93 272.8,406.25 273.3,407.61 273.8,409 274.3,410.45 274.8,411.97 275.3,413.55 275.8,415.21 276.3,417 276.8,418.9 277.3,420.9 277.8,422.96 278.3,425.09 278.8,427.25 279.3,429.43 279.8,431.72 280.3,434.4 280.8,437.16 281.3,439.6 281.8,441.36 282.3,442.44 282.8,443.4 283.3,444.17 283.8,444.67 284.2,444.8" fill="none" stroke="#1234f4" stroke-width="1.4" stroke-linejoin="round" clip-path="url(#clip_c)"/><polyline points="31.8,462.8 32.3,462.8 32.8,462.8 33.3,462.8 33.8,462.8 34.3,462.8 34.8,462.8 35.3,462.8 35.8,462.8 36.3,462.8 36.8,462.8 37.3,462.8 37.8,462.8 38.3,462.8 38.8,462.8 39.3,462.8 39.8,462.8 40.3,462.8 40.8,462.8 41.3,462.8 41.8,462.8 42.3,462.8 42.8,462.8 43.3,462.8 43.8,462.8 44.3,462.8 44.8,462.8 45.3,462.8 45.8,462.8 46.3,462.8 46.8,462.8 47.3,462.8 47.8,462.8 48.3,462.8 48.8,462.8 49.3,462.8 49.8,462.8 50.3,462.8 50.8,462.8 51.3,462.8 51.8,462.8 52.3,462.8 52.8,462.8 53.3,462.8 53.8,462.8 54.3,462.8 54.8,462.8 55.3,462.8 55.8,462.8 56.3,462.8 56.8,462.8 57.3,462.8 57.8,462.8 58.3,462.8 58.8,462.8 59.3,462.8 59.8,462.8 60.3,462.8 60.8,462.8 61.3,462.8 61.8,462.8 62.3,462.8 62.8,462.8 63.3,462.8 63.8,462.79 64.3,462.79 64.8,462.79 65.3,462.79 65.8,462.79 66.3,462.79 66.8,462.78 67.3,462.78 67.8,462.78 68.3,462.78 68.8,462.77 69.3,462.77 69.8,462.77 70.3,462.77 70.8,462.76 71.3,462.76 71.8,462.76 72.3,462.75 72.8,462.75 73.3,462.75 73.8,462.74 74.3,462.74 74.8,462.73 75.3,462.73 75.8,462.73 76.3,462.72 76.8,462.72 77.3,462.71 77.8,462.71 78.3,462.71 78.8,462.7 79.3,462.7 79.8,462.69 80.3,462.69 80.8,462.68 81.3,462.68 81.8,462.67 82.3,462.67 82.8,462.67 83.3,462.66 83.8,462.66 84.3,462.65 84.8,462.65 85.3,462.64 85.8,462.64 86.3,462.63 86.8,462.63 87.3,462.62 87.8,462.62 88.3,462.62 88.8,462.61 89.3,462.61 89.8,462.6 90.3,462.6 90.8,462.59 91.3,462.59 91.8,462.59 92.3,462.58 92.8,462.58 93.3,462.58 93.8,462.57 94.3,462.57 94.8,462.56 95.3,462.56 95.8,462.55 96.3,462.55 96.8,462.54 97.3,462.53 97.8,462.52 98.3,462.52 98.8,462.5 99.3,462.48 99.8,462.42 100.3,462.32 100.8,462.17 101.3,461.99 101.8,461.79 102.3,461.55 102.8,461.3 103.3,461.02 103.8,460.74 104.3,460.44 104.8,460.14 105.3,459.79 105.8,459.38 106.3,458.91 106.8,458.39 107.3,457.81 107.8,457.19 108.3,456.52 108.8,455.81 109.3,455.06 109.8,454.2 110.3,453.21 110.8,452.1 111.3,450.9 111.8,449.63 112.3,448.29 112.8,446.89 113.3,445.22 113.8,443.35 114.3,441.44 114.8,439.64 115.3,438.08 115.8,436.76 116.3,435.47 116.8,434.28 117.3,433.27 117.8,432.5 118.3,432.05 118.8,431.73 119.3,431.44 119.8,431.17 120.3,430.94 120.8,430.75 121.3,430.61 121.8,430.53 122.3,430.51 122.8,430.65 123.3,430.94 123.8,431.35 124.3,431.82 124.8,432.32 125.3,432.81 125.8,433.25 126.3,433.61 126.8,433.97 127.3,434.35 127.8,434.76 128.3,435.21 128.8,435.71 129.3,436.24 129.8,436.83 130.3,437.45 130.8,438.12 131.3,438.91 131.8,439.79 132.3,440.74 132.8,441.71 133.3,442.67 133.8,443.58 134.3,444.4 134.8,445.1 135.3,445.64 135.8,445.99 136.3,446.11 136.8,446.05 137.3,445.9 137.8,445.66 138.3,445.34 138.8,444.96 139.3,444.53 139.8,444.06 140.3,443.58 140.8,443.09 141.3,442.56 141.8,441.97 142.3,441.34 142.8,440.66 143.3,439.94 143.8,439.2 144.3,438.45 144.8,437.65 145.3,436.79 145.8,435.85 146.3,434.82 146.8,433.67 147.3,432.39 147.8,430.93 148.3,429 148.8,426.66 149.3,424.05 149.8,421.31 150.3,418.22 150.8,414.74 151.3,411.29 151.8,408.17 152.3,405.23 152.8,402.39 153.3,399.6 153.8,396.83 154.3,394.04 154.8,391.17 155.3,388.22 155.8,385.23 156.3,382.21 156.8,379.17 157.3,376.1 157.8,373 158.3,369.88 158.8,366.73 159.3,363.56 159.8,360.36 160.3,357.08 160.8,353.73 161.3,350.34 161.8,346.95 162.3,343.6 162.8,340.32 163.3,337.15 163.8,334.11 164.3,331.16 164.8,328.22 165.3,325.24 165.8,322.14 166.3,318.79 166.8,315.11 167.3,311.34 167.8,307.72 168.3,304.47 168.8,301.82 169.3,299.5 169.8,297.34 170.3,295.35 170.8,293.54 171.3,291.93 171.8,290.53 172.3,289.34 172.8,288.18 173.3,287.04 173.8,285.95 174.3,284.95 174.8,284.08 175.3,283.36 175.8,282.84 176.3,282.55 176.8,282.53 177.3,282.86 177.8,283.49 178.3,284.37 178.8,285.44 179.3,286.63 179.8,287.88 180.3,289.14 180.8,290.34 181.3,291.43 181.8,292.56 182.3,293.74 182.8,294.97 183.3,296.24 183.8,297.51 184.3,298.8 184.8,300.07 185.3,301.32 185.8,302.53 186.3,303.68 186.8,304.72 187.3,305.7 187.8,306.65 188.3,307.64 188.8,308.69 189.3,309.86 189.8,311.19 190.3,312.74 190.8,314.85 191.3,317.49 191.8,320.41 192.3,323.34 192.8,326.04 193.3,328.33 193.8,330.37 194.3,332.3 194.8,334.21 195.3,336.21 195.8,338.4 196.3,340.91 196.8,343.73 197.3,346.76 197.8,349.88 198.3,353 198.8,356 199.3,358.77 199.8,361.21 200.3,363.2 200.8,364.65 201.3,366 201.8,367.6 202.3,369.32 202.8,371.12 203.3,372.99 203.8,374.9 204.3,376.82 204.8,378.74 205.3,380.62 205.8,382.44 206.3,384.2 206.8,385.95 207.3,387.7 207.8,389.45 208.3,391.19 208.8,392.89 209.3,394.55 209.8,396.15 210.3,397.69 210.8,399.14 211.3,400.53 211.8,401.92 212.3,403.31 212.8,404.68 213.3,405.99 213.8,407.23 214.3,408.37 214.8,409.4 215.3,410.28 215.8,411 216.3,411.63 216.8,412.25 217.3,412.85 217.8,413.42 218.3,413.95 218.8,414.44 219.3,414.86 219.8,415.22 220.3,415.5 220.8,415.7 221.3,415.79 221.8,415.79 222.3,415.76 222.8,415.69 223.3,415.6 223.8,415.48 224.3,415.33 224.8,415.17 225.3,414.98 225.8,414.78 226.3,414.57 226.8,414.34 227.3,414.1 227.8,413.86 228.3,413.6 228.8,413.35 229.3,413.06 229.8,412.72 230.3,412.33 230.8,411.9 231.3,411.42 231.8,410.91 232.3,410.35 232.8,409.76 233.3,409.14 233.8,408.48 234.3,407.8 234.8,407.09 235.3,406.35 235.8,405.54 236.3,404.65 236.8,403.68 237.3,402.63 237.8,401.5 238.3,400.29 238.8,399.01 239.3,397.66 239.8,396.24 240.3,394.75 240.8,393.2 241.3,391.59 241.8,389.89 242.3,387.84 242.8,385.46 243.3,382.88 243.8,380.2 244.3,377.53 244.8,375 245.3,372.71 245.8,370.74 246.3,368.85 246.8,367.01 247.3,365.27 247.8,363.69 248.3,362.31 248.8,361.19 249.3,360.27 249.8,359.36 250.3,358.52 250.8,357.81 251.3,357.27 251.8,356.95 252.3,356.92 252.8,357.14 253.3,357.56 253.8,358.16 254.3,358.9 254.8,359.73 255.3,360.63 255.8,361.7 256.3,363.37 256.8,365.41 257.3,367.51 257.8,369.39 258.3,370.82 258.8,372.1 259.3,373.27 259.8,374.37 260.3,375.41 260.8,376.43 261.3,377.46 261.8,378.51 262.3,379.61 262.8,380.78 263.3,381.98 263.8,383.19 264.3,384.42 264.8,385.67 265.3,386.93 265.8,388.2 266.3,389.48 266.8,390.76 267.3,392.06 267.8,393.36 268.3,394.67 268.8,395.98 269.3,397.28 269.8,398.57 270.3,399.84 270.8,401.1 271.3,402.36 271.8,403.64 272.3,404.93 272.8,406.25 273.3,407.61 273.8,409 274.3,410.45 274.8,411.97 275.3,413.55 275.8,415.21 276.3,417 276.8,418.9 277.3,420.9 277.8,422.96 278.3,425.09 278.8,427.25 279.3,429.43 279.8,431.72 280.3,434.4 280.8,437.16 281.3,439.6 281.8,441.36 282.3,442.44 282.8,443.4 283.3,444.17 283.8,444.67 284.2,444.8" fill="none" stroke="#ee1420" stroke-width="1.4" stroke-dasharray="3 2.6" stroke-linejoin="round" clip-path="url(#clip_c)"/><polyline points="31.8,462.8 32.3,462.8 32.8,462.8 33.3,462.8 33.8,462.8 34.3,462.8 34.8,462.8 35.3,462.8 35.8,462.8 36.3,462.8 36.8,462.8 37.3,462.8 37.8,462.8 38.3,462.8 38.8,462.8 39.3,462.8 39.8,462.8 40.3,462.8 40.8,462.8 41.3,462.8 41.8,462.8 42.3,462.8 42.8,462.8 43.3,462.8 43.8,462.8 44.3,462.8 44.8,462.8 45.3,462.8 45.8,462.8 46.3,462.8 46.8,462.8 47.3,462.8 47.8,462.8 48.3,462.8 48.8,462.8 49.3,462.8 49.8,462.8 50.3,462.8 50.8,462.8 51.3,462.8 51.8,462.8 52.3,462.8 52.8,462.8 53.3,462.8 53.8,462.8 54.3,462.8 54.8,462.8 55.3,462.8 55.8,462.8 56.3,462.8 56.8,462.8 57.3,462.8 57.8,462.8 58.3,462.8 58.8,462.8 59.3,462.8 59.8,462.8 60.3,462.8 60.8,462.8 61.3,462.8 61.8,462.8 62.3,462.8 62.8,462.8 63.3,462.8 63.8,462.79 64.3,462.79 64.8,462.79 65.3,462.79 65.8,462.79 66.3,462.79 66.8,462.78 67.3,462.78 67.8,462.78 68.3,462.78 68.8,462.77 69.3,462.77 69.8,462.77 70.3,462.77 70.8,462.76 71.3,462.76 71.8,462.76 72.3,462.75 72.8,462.75 73.3,462.75 73.8,462.74 74.3,462.74 74.8,462.73 75.3,462.73 75.8,462.73 76.3,462.72 76.8,462.72 77.3,462.71 77.8,462.71 78.3,462.71 78.8,462.7 79.3,462.7 79.8,462.69 80.3,462.69 80.8,462.68 81.3,462.68 81.8,462.67 82.3,462.67 82.8,462.67 83.3,462.66 83.8,462.66 84.3,462.65 84.8,462.65 85.3,462.64 85.8,462.64 86.3,462.63 86.8,462.63 87.3,462.62 87.8,462.62 88.3,462.62 88.8,462.61 89.3,462.61 89.8,462.6 90.3,462.6 90.8,462.59 91.3,462.59 91.8,462.59 92.3,462.58 92.8,462.58 93.3,462.58 93.8,462.57 94.3,462.57 94.8,462.56 95.3,462.56 95.8,462.55 96.3,462.55 96.8,462.54 97.3,462.53 97.8,462.52 98.3,462.52 98.8,462.5 99.3,462.48 99.8,462.42 100.3,462.32 100.8,462.17 101.3,461.99 101.8,461.79 102.3,461.55 102.8,461.3 103.3,461.02 103.8,460.74 104.3,460.44 104.8,460.14 105.3,459.79 105.8,459.38 106.3,458.91 106.8,458.39 107.3,457.81 107.8,457.19 108.3,456.51 108.8,455.8 109.3,455.04 109.8,454.18 110.3,453.17 110.8,452.05 111.3,450.83 111.8,449.52 112.3,448.15 112.8,446.7 113.3,444.96 113.8,443.02 114.3,441.02 114.8,439.1 115.3,437.4 115.8,435.92 116.3,434.46 116.8,433.07 117.3,431.85 117.8,430.86 118.3,430.19 118.8,429.64 119.3,429.13 119.8,428.67 120.3,428.26 120.8,427.93 121.3,427.69 121.8,427.54 122.3,427.51 122.8,427.67 123.3,428.04 123.8,428.55 124.3,429.17 124.8,429.85 125.3,430.53 125.8,431.16 126.3,431.71 126.8,432.25 127.3,432.8 127.8,433.34 128.3,433.9 128.8,434.46 129.3,435.02 129.8,435.59 130.3,436.16 130.8,436.74 131.3,437.4 131.8,438.14 132.3,438.92 132.8,439.71 133.3,440.49 133.8,441.23 134.3,441.9 134.8,442.47 135.3,442.91 135.8,443.2 136.3,443.3 136.8,443.27 137.3,443.18 137.8,443.05 138.3,442.87 138.8,442.65 139.3,442.41 139.8,442.15 140.3,441.88 140.8,441.6 141.3,441.28 141.8,440.89 142.3,440.43 142.8,439.91 143.3,439.34 143.8,438.72 144.3,438.07 144.8,437.36 145.3,436.57 145.8,435.69 146.3,434.69 146.8,433.58 147.3,432.33 147.8,430.88 148.3,428.97 148.8,426.64 149.3,424.03 149.8,421.3 150.3,418.26 150.8,414.83 151.3,411.34 151.8,408.03 152.3,404.76 152.8,401.51 153.3,398.27 153.8,395.05 154.3,391.83 154.8,388.62 155.3,385.4 155.8,382.17 156.3,378.93 156.8,375.67 157.3,372.39 157.8,369.08 158.3,365.75 158.8,362.35 159.3,358.84 159.8,355.3 160.3,351.83 160.8,348.5 161.3,345.36 161.8,342.34 162.3,339.41 162.8,336.51 163.3,333.6 163.8,330.64 164.3,327.58 164.8,324.5 165.3,321.41 165.8,318.27 166.3,315.02 166.8,311.61 167.3,307.91 167.8,303.63 168.3,299.08 168.8,294.65 169.3,290.7 169.8,287.6 170.3,285.15 170.8,282.9 171.3,280.86 171.8,279.04 172.3,277.45 172.8,276.1 173.3,275 173.8,273.98 174.3,272.99 174.8,272.1 175.3,271.34 175.8,270.78 176.3,270.46 176.8,270.44 177.3,270.83 177.8,271.57 178.3,272.57 178.8,273.73 179.3,274.96 179.8,276.39 180.3,278.37 180.8,280.69 181.3,283.14 181.8,285.51 182.3,287.6 182.8,289.44 183.3,291.22 183.8,292.94 184.3,294.62 184.8,296.24 185.3,297.81 185.8,299.35 186.3,300.84 186.8,302.3 187.3,303.65 187.8,304.85 188.3,305.98 188.8,307.1 189.3,308.27 189.8,309.57 190.3,311.04 190.8,312.78 191.3,315.05 191.8,317.83 192.3,320.9 192.8,324.05 193.3,327.07 193.8,329.82 194.3,332.46 194.8,335.05 195.3,337.62 195.8,340.23 196.3,342.92 196.8,345.72 197.3,348.75 197.8,352.04 198.3,355.44 198.8,358.8 199.3,361.94 199.8,364.73 200.3,367.28 200.8,369.73 201.3,372.07 201.8,374.31 202.3,376.47 202.8,378.55 203.3,380.57 203.8,382.53 204.3,384.45 204.8,386.32 205.3,388.15 205.8,389.94 206.3,391.68 206.8,393.37 207.3,395.01 207.8,396.6 208.3,398.14 208.8,399.61 209.3,401.02 209.8,402.4 210.3,403.8 210.8,405.18 211.3,406.53 211.8,407.83 212.3,409.05 212.8,410.17 213.3,411.18 213.8,412.03 214.3,412.73 214.8,413.36 215.3,413.99 215.8,414.59 216.3,415.18 216.8,415.74 217.3,416.27 217.8,416.77 218.3,417.22 218.8,417.62 219.3,417.96 219.8,418.25 220.3,418.47 220.8,418.62 221.3,418.69 221.8,418.69 222.3,418.65 222.8,418.57 223.3,418.45 223.8,418.31 224.3,418.13 224.8,417.93 225.3,417.71 225.8,417.47 226.3,417.21 226.8,416.93 227.3,416.64 227.8,416.35 228.3,416.04 228.8,415.74 229.3,415.39 229.8,414.97 230.3,414.51 230.8,413.99 231.3,413.41 231.8,412.8 232.3,412.14 232.8,411.45 233.3,410.72 233.8,409.96 234.3,409.17 234.8,408.36 235.3,407.53 235.8,406.65 236.3,405.71 236.8,404.7 237.3,403.62 237.8,402.48 238.3,401.28 238.8,400 239.3,398.66 239.8,397.25 240.3,395.77 240.8,394.22 241.3,392.6 241.8,390.88 242.3,388.79 242.8,386.35 243.3,383.71 243.8,380.97 244.3,378.27 244.8,375.73 245.3,373.47 245.8,371.58 246.3,369.78 246.8,368.05 247.3,366.44 247.8,364.98 248.3,363.74 248.8,362.76 249.3,361.99 249.8,361.24 250.3,360.53 250.8,359.9 251.3,359.35 251.8,358.92 252.3,358.63 252.8,358.5 253.3,358.76 253.8,359.7 254.3,361.13 254.8,362.88 255.3,364.72 255.8,366.48 256.3,367.97 256.8,369.43 257.3,370.9 257.8,372.39 258.3,373.89 258.8,375.4 259.3,376.9 259.8,378.39 260.3,379.87 260.8,381.32 261.3,382.76 261.8,384.19 262.3,385.62 262.8,387.05 263.3,388.47 263.8,389.88 264.3,391.28 264.8,392.67 265.3,394.05 265.8,395.42 266.3,396.78 266.8,398.11 267.3,399.44 267.8,400.74 268.3,402.01 268.8,403.25 269.3,404.47 269.8,405.68 270.3,406.88 270.8,408.08 271.3,409.28 271.8,410.49 272.3,411.72 272.8,412.96 273.3,414.23 273.8,415.54 274.3,416.83 274.8,418.07 275.3,419.29 275.8,420.54 276.3,421.85 276.8,423.29 277.3,424.9 277.8,426.71 278.3,429.15 278.8,432.62 279.3,436.36 279.8,439.61 280.3,441.6 280.8,442.65 281.3,443.61 281.8,444.46 282.3,445.19 282.8,445.77 283.3,446.19 283.8,446.44 284.2,446.5" fill="none" stroke="#16a616" stroke-width="1.4" stroke-linejoin="round" clip-path="url(#clip_c)"/><polyline points="31.8,462.8 32.3,462.8 32.8,462.8 33.3,462.8 33.8,462.8 34.3,462.8 34.8,462.8 35.3,462.8 35.8,462.8 36.3,462.8 36.8,462.8 37.3,462.8 37.8,462.8 38.3,462.8 38.8,462.8 39.3,462.8 39.8,462.8 40.3,462.8 40.8,462.8 41.3,462.8 41.8,462.8 42.3,462.8 42.8,462.8 43.3,462.8 43.8,462.8 44.3,462.8 44.8,462.8 45.3,462.8 45.8,462.8 46.3,462.8 46.8,462.8 47.3,462.8 47.8,462.8 48.3,462.8 48.8,462.8 49.3,462.8 49.8,462.8 50.3,462.8 50.8,462.8 51.3,462.8 51.8,462.8 52.3,462.8 52.8,462.8 53.3,462.8 53.8,462.8 54.3,462.8 54.8,462.8 55.3,462.8 55.8,462.8 56.3,462.8 56.8,462.8 57.3,462.8 57.8,462.8 58.3,462.8 58.8,462.8 59.3,462.8 59.8,462.8 60.3,462.8 60.8,462.8 61.3,462.8 61.8,462.8 62.3,462.8 62.8,462.8 63.3,462.8 63.8,462.79 64.3,462.79 64.8,462.79 65.3,462.79 65.8,462.79 66.3,462.79 66.8,462.78 67.3,462.78 67.8,462.78 68.3,462.78 68.8,462.77 69.3,462.77 69.8,462.77 70.3,462.77 70.8,462.76 71.3,462.76 71.8,462.76 72.3,462.75 72.8,462.75 73.3,462.75 73.8,462.74 74.3,462.74 74.8,462.73 75.3,462.73 75.8,462.73 76.3,462.72 76.8,462.72 77.3,462.71 77.8,462.71 78.3,462.71 78.8,462.7 79.3,462.7 79.8,462.69 80.3,462.69 80.8,462.68 81.3,462.68 81.8,462.67 82.3,462.67 82.8,462.67 83.3,462.66 83.8,462.66 84.3,462.65 84.8,462.65 85.3,462.64 85.8,462.64 86.3,462.63 86.8,462.63 87.3,462.62 87.8,462.62 88.3,462.62 88.8,462.61 89.3,462.61 89.8,462.6 90.3,462.6 90.8,462.59 91.3,462.59 91.8,462.59 92.3,462.58 92.8,462.58 93.3,462.58 93.8,462.57 94.3,462.57 94.8,462.56 95.3,462.56 95.8,462.55 96.3,462.55 96.8,462.54 97.3,462.53 97.8,462.52 98.3,462.52 98.8,462.5 99.3,462.48 99.8,462.42 100.3,462.32 100.8,462.17 101.3,461.99 101.8,461.79 102.3,461.55 102.8,461.3 103.3,461.02 103.8,460.74 104.3,460.44 104.8,460.14 105.3,459.79 105.8,459.38 106.3,458.91 106.8,458.39 107.3,457.81 107.8,457.19 108.3,456.51 108.8,455.8 109.3,455.04 109.8,454.18 110.3,453.17 110.8,452.05 111.3,450.83 111.8,449.52 112.3,448.15 112.8,446.7 113.3,444.96 113.8,443.02 114.3,441.02 114.8,439.1 115.3,437.4 115.8,435.92 116.3,434.46 116.8,433.07 117.3,431.85 117.8,430.86 118.3,430.19 118.8,429.64 119.3,429.13 119.8,428.67 120.3,428.26 120.8,427.93 121.3,427.69 121.8,427.54 122.3,427.51 122.8,427.67 123.3,428.04 123.8,428.55 124.3,429.17 124.8,429.85 125.3,430.53 125.8,431.16 126.3,431.71 126.8,432.25 127.3,432.8 127.8,433.34 128.3,433.9 128.8,434.46 129.3,435.02 129.8,435.59 130.3,436.16 130.8,436.74 131.3,437.4 131.8,438.14 132.3,438.92 132.8,439.71 133.3,440.49 133.8,441.23 134.3,441.9 134.8,442.47 135.3,442.91 135.8,443.2 136.3,443.3 136.8,443.27 137.3,443.18 137.8,443.05 138.3,442.87 138.8,442.65 139.3,442.41 139.8,442.15 140.3,441.88 140.8,441.6 141.3,441.28 141.8,440.89 142.3,440.43 142.8,439.91 143.3,439.34 143.8,438.72 144.3,438.07 144.8,437.36 145.3,436.57 145.8,435.69 146.3,434.69 146.8,433.58 147.3,432.33 147.8,430.88 148.3,428.97 148.8,426.64 149.3,424.03 149.8,421.3 150.3,418.26 150.8,414.83 151.3,411.34 151.8,408.03 152.3,404.76 152.8,401.51 153.3,398.27 153.8,395.05 154.3,391.83 154.8,388.62 155.3,385.4 155.8,382.17 156.3,378.93 156.8,375.67 157.3,372.39 157.8,369.08 158.3,365.75 158.8,362.35 159.3,358.85 159.8,355.31 160.3,351.84 160.8,348.52 161.3,345.4 161.8,342.4 162.3,339.5 162.8,336.65 163.3,333.81 163.8,330.94 164.3,327.99 164.8,325.06 165.3,322.15 165.8,319.21 166.3,316.19 166.8,313.03 167.3,309.58 167.8,305.55 168.3,301.23 168.8,297 169.3,293.21 169.8,290.23 170.3,287.87 170.8,285.69 171.3,283.72 171.8,282 172.3,280.56 172.8,279.45 173.3,278.66 173.8,278.03 174.3,277.49 174.8,277.04 175.3,276.67 175.8,276.39 176.3,276.19 176.8,276.11 177.3,276.25 177.8,276.56 178.3,276.99 178.8,277.5 179.3,278.05 179.8,278.83 180.3,280.21 180.8,282.03 181.3,284.08 181.8,286.15 182.3,288.01 182.8,289.69 183.3,291.37 183.8,293.03 184.3,294.66 184.8,296.26 185.3,297.83 185.8,299.35 186.3,300.85 186.8,302.3 187.3,303.65 187.8,304.85 188.3,305.98 188.8,307.1 189.3,308.27 189.8,309.57 190.3,311.04 190.8,312.78 191.3,315.05 191.8,317.83 192.3,320.9 192.8,324.05 193.3,327.07 193.8,329.82 194.3,332.46 194.8,335.05 195.3,337.62 195.8,340.23 196.3,342.92 196.8,345.72 197.3,348.75 197.8,352.04 198.3,355.44 198.8,358.8 199.3,361.94 199.8,364.73 200.3,367.28 200.8,369.73 201.3,372.07 201.8,374.31 202.3,376.47 202.8,378.55 203.3,380.57 203.8,382.53 204.3,384.45 204.8,386.32 205.3,388.15 205.8,389.94 206.3,391.68 206.8,393.37 207.3,395.01 207.8,396.6 208.3,398.14 208.8,399.61 209.3,401.02 209.8,402.4 210.3,403.8 210.8,405.18 211.3,406.53 211.8,407.83 212.3,409.05 212.8,410.17 213.3,411.18 213.8,412.03 214.3,412.73 214.8,413.36 215.3,413.99 215.8,414.59 216.3,415.18 216.8,415.74 217.3,416.27 217.8,416.77 218.3,417.22 218.8,417.62 219.3,417.96 219.8,418.25 220.3,418.47 220.8,418.62 221.3,418.69 221.8,418.69 222.3,418.65 222.8,418.57 223.3,418.45 223.8,418.31 224.3,418.13 224.8,417.93 225.3,417.71 225.8,417.47 226.3,417.21 226.8,416.93 227.3,416.64 227.8,416.35 228.3,416.04 228.8,415.74 229.3,415.39 229.8,414.97 230.3,414.51 230.8,413.99 231.3,413.41 231.8,412.8 232.3,412.14 232.8,411.45 233.3,410.72 233.8,409.96 234.3,409.17 234.8,408.36 235.3,407.53 235.8,406.65 236.3,405.71 236.8,404.7 237.3,403.62 237.8,402.48 238.3,401.28 238.8,400 239.3,398.66 239.8,397.25 240.3,395.77 240.8,394.22 241.3,392.6 241.8,390.88 242.3,388.79 242.8,386.36 243.3,383.71 243.8,380.98 244.3,378.29 244.8,375.75 245.3,373.51 245.8,371.63 246.3,369.86 246.8,368.17 247.3,366.59 247.8,365.2 248.3,364.02 248.8,363.11 249.3,362.42 249.8,361.76 250.3,361.15 250.8,360.6 251.3,360.13 251.8,359.76 252.3,359.51 252.8,359.4 253.3,359.65 253.8,360.56 254.3,361.94 254.8,363.61 255.3,365.38 255.8,367.04 256.3,368.45 256.8,369.82 257.3,371.21 257.8,372.63 258.3,374.07 258.8,375.53 259.3,376.99 259.8,378.45 260.3,379.91 260.8,381.35 261.3,382.78 261.8,384.21 262.3,385.63 262.8,387.05 263.3,388.47 263.8,389.88 264.3,391.28 264.8,392.67 265.3,394.05 265.8,395.42 266.3,396.78 266.8,398.11 267.3,399.44 267.8,400.74 268.3,402.01 268.8,403.25 269.3,404.47 269.8,405.68 270.3,406.88 270.8,408.08 271.3,409.28 271.8,410.49 272.3,411.72 272.8,412.96 273.3,414.23 273.8,415.54 274.3,416.83 274.8,418.07 275.3,419.29 275.8,420.54 276.3,421.85 276.8,423.29 277.3,424.9 277.8,426.71 278.3,429.15 278.8,432.62 279.3,436.36 279.8,439.61 280.3,441.6 280.8,442.65 281.3,443.61 281.8,444.46 282.3,445.19 282.8,445.77 283.3,446.19 283.8,446.44 284.2,446.5" fill="none" stroke="#16a616" stroke-width="1.4" stroke-dasharray="3 2.6" stroke-linejoin="round" clip-path="url(#clip_c)"/><text x="151.9" y="259" class="ttl" textLength="11.6" lengthAdjust="spacingAndGlyphs">SN</text><text transform="translate(8.6,362.45) rotate(-90)" class="ylab" text-anchor="middle">Absorbance</text><text x="116" y="484.6" class="xlab" textLength="54.6" lengthAdjust="spacingAndGlyphs">Wavenumber</text><text x="173.9" y="485.2" class="ubr">[</text><text x="176.5" y="484.6" class="ucm">cm</text><text x="189.1" y="480.9" class="usup">&#8722;1</text><text x="199" y="485.2" class="ubr">]</text><text x="154.6" y="496.8" class="cap" text-anchor="middle">(c)</text><line x1="236.7" y1="270.85" x2="249.3" y2="270.85" stroke="#1234f4" stroke-width="1.3"/><text x="258" y="273.55" class="leg">MCR</text><line x1="236.8" y1="281.45" x2="240.3" y2="281.45" stroke="#ee1420" stroke-width="1.3"/><line x1="242.8" y1="281.45" x2="246" y2="281.45" stroke="#ee1420" stroke-width="1.3"/><text x="258" y="284.15" class="leg">MCL</text><line x1="236.7" y1="292.05" x2="249.3" y2="292.05" stroke="#16a616" stroke-width="1.3"/><text x="258" y="294.75" class="leg">CR</text><line x1="236.8" y1="302.65" x2="240.3" y2="302.65" stroke="#16a616" stroke-width="1.3"/><line x1="242.8" y1="302.65" x2="246" y2="302.65" stroke="#16a616" stroke-width="1.3"/><text x="258" y="305.35" class="leg">CL</text><rect x="35.4" y="322.1" width="100.9" height="80.7" fill="#fff" stroke="none"/><polyline points="35.6,386.5 36.1,385.76 36.6,385.03 37.1,384.3 37.6,383.58 38.1,382.86 38.6,382.14 39.1,381.43 39.6,380.72 40.1,380.02 40.6,379.32 41.1,378.63 41.6,377.94 42.1,377.26 42.6,376.59 43.1,375.94 43.6,375.3 44.1,374.66 44.6,374.03 45.1,373.38 45.6,372.73 46.1,372.07 46.6,371.39 47.1,370.68 47.6,369.95 48.1,369.21 48.6,368.46 49.1,367.7 49.6,366.92 50.1,366.13 50.6,365.32 51.1,364.48 51.6,363.61 52.1,362.71 52.6,361.78 53.1,360.8 53.6,359.77 54.1,358.61 54.6,357.36 55.1,356.05 55.6,354.72 56.1,353.39 56.6,352.12 57.1,350.93 57.6,349.8 58.1,348.66 58.6,347.53 59.1,346.44 59.6,345.4 60.1,344.45 60.6,343.59 61.1,342.86 61.6,342.22 62.1,341.63 62.6,341.09 63.1,340.58 63.6,340.1 64.1,339.64 64.6,339.2 65.1,338.76 65.6,338.32 66.1,337.87 66.6,337.4 67.1,336.9 67.6,336.38 68.1,335.84 68.6,335.3 69.1,334.75 69.6,334.21 70.1,333.68 70.6,333.17 71.1,332.69 71.6,332.24 72.1,331.83 72.6,331.47 73.1,331.13 73.6,330.78 74.1,330.44 74.6,330.16 75.1,329.97 75.6,329.9 76.1,329.93 76.6,330.01 77.1,330.14 77.6,330.31 78.1,330.51 78.6,330.73 79.1,330.97 79.6,331.21 80.1,331.45 80.6,331.71 81.1,332.01 81.6,332.34 82.1,332.7 82.6,333.09 83.1,333.51 83.6,333.96 84.1,334.43 84.6,334.93 85.1,335.44 85.6,335.98 86.1,336.55 86.6,337.23 87.1,338 87.6,338.84 88.1,339.73 88.6,340.66 89.1,341.61 89.6,342.55 90.1,343.47 90.6,344.35 91.1,345.16 91.6,345.9 92.1,346.58 92.6,347.23 93.1,347.86 93.6,348.47 94.1,349.06 94.6,349.64 95.1,350.2 95.6,350.75 96.1,351.3 96.6,351.84 97.1,352.38 97.6,352.91 98.1,353.44 98.6,353.97 99.1,354.48 99.6,354.99 100.1,355.49 100.6,355.99 101.1,356.48 101.6,356.96 102.1,357.44 102.6,357.92 103.1,358.38 103.6,358.85 104.1,359.31 104.6,359.76 105.1,360.21 105.6,360.65 106.1,361.08 106.6,361.5 107.1,361.93 107.6,362.35 108.1,362.76 108.6,363.18 109.1,363.6 109.6,364.01 110.1,364.43 110.6,364.86 111.1,365.29 111.6,365.7 112.1,366.11 112.6,366.5 113.1,366.89 113.6,367.28 114.1,367.67 114.6,368.07 115.1,368.48 115.6,368.91 116.1,369.36 116.6,369.83 117.1,370.34 117.6,370.87 118.1,371.46 118.6,372.13 119.1,372.87 119.6,373.67 120.1,374.5 120.6,375.37 121.1,376.25 121.6,377.12 122.1,377.98 122.6,378.8 123.1,379.62 123.6,380.46 124.1,381.32 124.6,382.19 125.1,383.04 125.6,383.87 126.1,384.67 126.6,385.42 127.1,386.12 127.6,386.75 128.1,387.36 128.6,387.96 129.1,388.55 129.6,389.13 130.1,389.7 130.6,390.25 131.1,390.78 131.6,391.3 132.1,391.8 132.6,392.28 133.1,392.73 133.6,393.17 134.1,393.58 134.6,393.96 135.1,394.32 135.6,394.65 136.1,394.94 136.2,395" fill="none" stroke="#1234f4" stroke-width="1.3" stroke-linejoin="round" clip-path="url(#iclip_c)"/><polyline points="35.6,393.3 36.1,392.57 36.6,391.84 37.1,391.11 37.6,390.39 38.1,389.68 38.6,388.96 39.1,388.26 39.6,387.55 40.1,386.85 40.6,386.15 41.1,385.46 41.6,384.77 42.1,384.08 42.6,383.4 43.1,382.72 43.6,382.04 44.1,381.37 44.6,380.7 45.1,380.05 45.6,379.42 46.1,378.81 46.6,378.21 47.1,377.62 47.6,377.03 48.1,376.43 48.6,375.83 49.1,375.21 49.6,374.57 50.1,373.9 50.6,373.2 51.1,372.46 51.6,371.68 52.1,370.81 52.6,369.87 53.1,368.86 53.6,367.82 54.1,366.74 54.6,365.65 55.1,364.56 55.6,363.5 56.1,362.47 56.6,361.49 57.1,360.57 57.6,359.72 58.1,358.88 58.6,358.05 59.1,357.25 59.6,356.46 60.1,355.69 60.6,354.94 61.1,354.21 61.6,353.51 62.1,352.84 62.6,352.19 63.1,351.58 63.6,350.98 64.1,350.4 64.6,349.83 65.1,349.28 65.6,348.74 66.1,348.21 66.6,347.7 67.1,347.2 67.6,346.72 68.1,346.25 68.6,345.79 69.1,345.34 69.6,344.91 70.1,344.49 70.6,344.08 71.1,343.68 71.6,343.28 72.1,342.88 72.6,342.49 73.1,342.1 73.6,341.73 74.1,341.38 74.6,341.06 75.1,340.76 75.6,340.49 76.1,340.26 76.6,340.06 77.1,339.88 77.6,339.7 78.1,339.53 78.6,339.38 79.1,339.26 79.6,339.16 80.1,339.11 80.6,339.1 81.1,339.14 81.6,339.2 82.1,339.3 82.6,339.42 83.1,339.56 83.6,339.71 84.1,339.88 84.6,340.05 85.1,340.23 85.6,340.4 86.1,340.57 86.6,340.73 87.1,340.91 87.6,341.09 88.1,341.29 88.6,341.5 89.1,341.72 89.6,341.95 90.1,342.2 90.6,342.45 91.1,342.73 91.6,343.01 92.1,343.31 92.6,343.62 93.1,343.93 93.6,344.26 94.1,344.58 94.6,344.92 95.1,345.25 95.6,345.59 96.1,345.93 96.6,346.27 97.1,346.6 97.6,346.93 98.1,347.27 98.6,347.62 99.1,347.97 99.6,348.33 100.1,348.7 100.6,349.06 101.1,349.44 101.6,349.81 102.1,350.18 102.6,350.55 103.1,350.92 103.6,351.28 104.1,351.64 104.6,351.99 105.1,352.33 105.6,352.67 106.1,352.99 106.6,353.3 107.1,353.6 107.6,353.88 108.1,354.15 108.6,354.41 109.1,354.65 109.6,354.89 110.1,355.12 110.6,355.35 111.1,355.57 111.6,355.8 112.1,356.04 112.6,356.28 113.1,356.53 113.6,356.8 114.1,357.08 114.6,357.38 115.1,357.69 115.6,358.02 116.1,358.36 116.6,358.71 117.1,359.08 117.6,359.46 118.1,359.87 118.6,360.29 119.1,360.73 119.6,361.2 120.1,361.68 120.6,362.19 121.1,362.76 121.6,363.41 122.1,364.13 122.6,364.91 123.1,365.73 123.6,366.57 124.1,367.43 124.6,368.27 125.1,369.09 125.6,369.86 126.1,370.58 126.6,371.22 127.1,371.84 127.6,372.44 128.1,373.04 128.6,373.62 129.1,374.2 129.6,374.77 130.1,375.32 130.6,375.86 131.1,376.4 131.6,376.91 132.1,377.41 132.6,377.9 133.1,378.37 133.6,378.83 134.1,379.27 134.6,379.69 135.1,380.09 135.6,380.47 136.1,380.83 136.2,380.9" fill="none" stroke="#ee1420" stroke-width="1.3" stroke-dasharray="3 2.6" stroke-linejoin="round" clip-path="url(#iclip_c)"/><polyline points="35.6,388.5 36.1,387.78 36.6,387.06 37.1,386.34 37.6,385.63 38.1,384.91 38.6,384.2 39.1,383.48 39.6,382.77 40.1,382.06 40.6,381.35 41.1,380.65 41.6,379.94 42.1,379.24 42.6,378.55 43.1,377.87 43.6,377.19 44.1,376.51 44.6,375.84 45.1,375.17 45.6,374.49 46.1,373.82 46.6,373.13 47.1,372.44 47.6,371.74 48.1,371.02 48.6,370.3 49.1,369.55 49.6,368.79 50.1,368.03 50.6,367.26 51.1,366.47 51.6,365.68 52.1,364.87 52.6,364.05 53.1,363.2 53.6,362.34 54.1,361.45 54.6,360.54 55.1,359.59 55.6,358.59 56.1,357.5 56.6,356.34 57.1,355.14 57.6,353.95 58.1,352.79 58.6,351.7 59.1,350.7 59.6,349.78 60.1,348.88 60.6,348.02 61.1,347.18 61.6,346.37 62.1,345.59 62.6,344.84 63.1,344.11 63.6,343.41 64.1,342.73 64.6,342.07 65.1,341.43 65.6,340.81 66.1,340.21 66.6,339.62 67.1,339.04 67.6,338.48 68.1,337.93 68.6,337.38 69.1,336.85 69.6,336.33 70.1,335.81 70.6,335.3 71.1,334.79 71.6,334.25 72.1,333.7 72.6,333.15 73.1,332.6 73.6,332.07 74.1,331.58 74.6,331.12 75.1,330.71 75.6,330.35 76.1,330.07 76.6,329.86 77.1,329.69 77.6,329.52 78.1,329.38 78.6,329.27 79.1,329.21 79.6,329.2 80.1,329.26 80.6,329.36 81.1,329.51 81.6,329.7 82.1,329.94 82.6,330.2 83.1,330.49 83.6,330.8 84.1,331.13 84.6,331.47 85.1,331.81 85.6,332.16 86.1,332.52 86.6,332.96 87.1,333.47 87.6,334.03 88.1,334.64 88.6,335.29 89.1,335.95 89.6,336.62 90.1,337.28 90.6,337.92 91.1,338.53 91.6,339.1 92.1,339.63 92.6,340.15 93.1,340.67 93.6,341.17 94.1,341.66 94.6,342.16 95.1,342.64 95.6,343.13 96.1,343.62 96.6,344.11 97.1,344.6 97.6,345.1 98.1,345.61 98.6,346.13 99.1,346.65 99.6,347.18 100.1,347.71 100.6,348.24 101.1,348.76 101.6,349.27 102.1,349.77 102.6,350.26 103.1,350.73 103.6,351.19 104.1,351.62 104.6,352.03 105.1,352.42 105.6,352.8 106.1,353.17 106.6,353.53 107.1,353.88 107.6,354.22 108.1,354.56 108.6,354.89 109.1,355.22 109.6,355.56 110.1,355.89 110.6,356.23 111.1,356.57 111.6,356.9 112.1,357.22 112.6,357.53 113.1,357.83 113.6,358.13 114.1,358.44 114.6,358.76 115.1,359.09 115.6,359.45 116.1,359.82 116.6,360.23 117.1,360.67 117.6,361.15 118.1,361.68 118.6,362.24 119.1,362.84 119.6,363.46 120.1,364.12 120.6,364.79 121.1,365.49 121.6,366.2 122.1,366.97 122.6,367.82 123.1,368.73 123.6,369.68 124.1,370.65 124.6,371.61 125.1,372.56 125.6,373.46 126.1,374.29 126.6,375.04 127.1,375.74 127.6,376.4 128.1,377.03 128.6,377.64 129.1,378.22 129.6,378.8 130.1,379.36 130.6,379.92 131.1,380.48 131.6,381.03 132.1,381.59 132.6,382.13 133.1,382.66 133.6,383.19 134.1,383.71 134.6,384.22 135.1,384.73 135.6,385.22 136.1,385.7 136.2,385.8" fill="none" stroke="#16a616" stroke-width="1.3" stroke-linejoin="round" clip-path="url(#iclip_c)"/><polyline points="35.6,390.4 36.1,389.75 36.6,389.1 37.1,388.44 37.6,387.79 38.1,387.13 38.6,386.47 39.1,385.81 39.6,385.15 40.1,384.48 40.6,383.82 41.1,383.15 41.6,382.48 42.1,381.82 42.6,381.15 43.1,380.47 43.6,379.8 44.1,379.13 44.6,378.47 45.1,377.81 45.6,377.16 46.1,376.51 46.6,375.86 47.1,375.2 47.6,374.54 48.1,373.87 48.6,373.19 49.1,372.5 49.6,371.8 50.1,371.07 50.6,370.33 51.1,369.57 51.6,368.78 52.1,367.97 52.6,367.13 53.1,366.27 53.6,365.39 54.1,364.48 54.6,363.56 55.1,362.62 55.6,361.66 56.1,360.69 56.6,359.7 57.1,358.7 57.6,357.66 58.1,356.53 58.6,355.33 59.1,354.1 59.6,352.86 60.1,351.65 60.6,350.49 61.1,349.42 61.6,348.46 62.1,347.65 62.6,346.91 63.1,346.22 63.6,345.57 64.1,344.95 64.6,344.36 65.1,343.79 65.6,343.26 66.1,342.73 66.6,342.23 67.1,341.74 67.6,341.25 68.1,340.77 68.6,340.29 69.1,339.81 69.6,339.31 70.1,338.81 70.6,338.32 71.1,337.83 71.6,337.35 72.1,336.9 72.6,336.48 73.1,336.09 73.6,335.74 74.1,335.44 74.6,335.2 75.1,334.99 75.6,334.78 76.1,334.57 76.6,334.38 77.1,334.21 77.6,334.06 78.1,333.94 78.6,333.86 79.1,333.81 79.6,333.8 80.1,333.83 80.6,333.88 81.1,333.96 81.6,334.06 82.1,334.17 82.6,334.29 83.1,334.42 83.6,334.56 84.1,334.69 84.6,334.83 85.1,334.96 85.6,335.11 86.1,335.26 86.6,335.43 87.1,335.61 87.6,335.8 88.1,336.01 88.6,336.24 89.1,336.48 89.6,336.75 90.1,337.04 90.6,337.41 91.1,337.83 91.6,338.31 92.1,338.83 92.6,339.39 93.1,339.98 93.6,340.59 94.1,341.22 94.6,341.85 95.1,342.49 95.6,343.11 96.1,343.73 96.6,344.32 97.1,344.88 97.6,345.41 98.1,345.93 98.6,346.46 99.1,346.99 99.6,347.52 100.1,348.04 100.6,348.56 101.1,349.07 101.6,349.58 102.1,350.07 102.6,350.55 103.1,351.02 103.6,351.48 104.1,351.91 104.6,352.33 105.1,352.74 105.6,353.13 106.1,353.52 106.6,353.89 107.1,354.26 107.6,354.62 108.1,354.97 108.6,355.32 109.1,355.67 109.6,356.02 110.1,356.37 110.6,356.72 111.1,357.07 111.6,357.41 112.1,357.74 112.6,358.06 113.1,358.37 113.6,358.68 114.1,359 114.6,359.33 115.1,359.67 115.6,360.03 116.1,360.41 116.6,360.83 117.1,361.27 117.6,361.77 118.1,362.3 118.6,362.87 119.1,363.47 119.6,364.09 120.1,364.75 120.6,365.42 121.1,366.1 121.6,366.8 122.1,367.54 122.6,368.36 123.1,369.23 123.6,370.13 124.1,371.05 124.6,371.95 125.1,372.84 125.6,373.67 126.1,374.44 126.6,375.13 127.1,375.76 127.6,376.37 128.1,376.94 128.6,377.49 129.1,378.02 129.6,378.54 130.1,379.04 130.6,379.53 131.1,380.01 131.6,380.49 132.1,380.95 132.6,381.41 133.1,381.86 133.6,382.3 134.1,382.73 134.6,383.15 135.1,383.55 135.6,383.94 136.1,384.33 136.2,384.4" fill="none" stroke="#16a616" stroke-width="1.3" stroke-dasharray="3 2.6" stroke-linejoin="round" clip-path="url(#iclip_c)"/><rect x="35.4" y="322.1" width="100.9" height="80.7" fill="none" stroke="#333" stroke-width="1.15"/><line x1="55.58" y1="402.8" x2="55.58" y2="400.2" stroke="#111" stroke-width="1.1"/><line x1="55.58" y1="322.1" x2="55.58" y2="324.7" stroke="#111" stroke-width="1.1"/><text x="55.58" y="408.6" class="itk" text-anchor="middle">1670</text><line x1="75.76" y1="402.8" x2="75.76" y2="400.2" stroke="#111" stroke-width="1.1"/><line x1="75.76" y1="322.1" x2="75.76" y2="324.7" stroke="#111" stroke-width="1.1"/><text x="75.76" y="408.6" class="itk" text-anchor="middle">1660</text><line x1="95.94" y1="402.8" x2="95.94" y2="400.2" stroke="#111" stroke-width="1.1"/><line x1="95.94" y1="322.1" x2="95.94" y2="324.7" stroke="#111" stroke-width="1.1"/><text x="95.94" y="408.6" class="itk" text-anchor="middle">1650</text><line x1="116.12" y1="402.8" x2="116.12" y2="400.2" stroke="#111" stroke-width="1.1"/><line x1="116.12" y1="322.1" x2="116.12" y2="324.7" stroke="#111" stroke-width="1.1"/><text x="116.12" y="408.6" class="itk" text-anchor="middle">1640</text><text x="70.05" y="319.7" class="ittl" textLength="32" lengthAdjust="spacingAndGlyphs">Amide I</text></g><g><rect x="357.5" y="261.5" width="252.5" height="201.85" fill="none" stroke="#333" stroke-width="1.3"/><line x1="371.15" y1="463.35" x2="371.15" y2="460.85" stroke="#333" stroke-width="0.6"/><line x1="371.15" y1="261.5" x2="371.15" y2="264" stroke="#333" stroke-width="0.6"/><text x="371.15" y="472.45" class="tk" text-anchor="middle">1850</text><line x1="405.27" y1="463.35" x2="405.27" y2="460.85" stroke="#333" stroke-width="0.6"/><line x1="405.27" y1="261.5" x2="405.27" y2="264" stroke="#333" stroke-width="0.6"/><text x="405.27" y="472.45" class="tk" text-anchor="middle">1800</text><line x1="439.39" y1="463.35" x2="439.39" y2="460.85" stroke="#333" stroke-width="0.6"/><line x1="439.39" y1="261.5" x2="439.39" y2="264" stroke="#333" stroke-width="0.6"/><text x="439.39" y="472.45" class="tk" text-anchor="middle">1750</text><line x1="473.51" y1="463.35" x2="473.51" y2="460.85" stroke="#333" stroke-width="0.6"/><line x1="473.51" y1="261.5" x2="473.51" y2="264" stroke="#333" stroke-width="0.6"/><text x="473.51" y="472.45" class="tk" text-anchor="middle">1700</text><line x1="507.64" y1="463.35" x2="507.64" y2="460.85" stroke="#333" stroke-width="0.6"/><line x1="507.64" y1="261.5" x2="507.64" y2="264" stroke="#333" stroke-width="0.6"/><text x="507.64" y="472.45" class="tk" text-anchor="middle">1650</text><line x1="541.76" y1="463.35" x2="541.76" y2="460.85" stroke="#333" stroke-width="0.6"/><line x1="541.76" y1="261.5" x2="541.76" y2="264" stroke="#333" stroke-width="0.6"/><text x="541.76" y="472.45" class="tk" text-anchor="middle">1600</text><line x1="575.88" y1="463.35" x2="575.88" y2="460.85" stroke="#333" stroke-width="0.6"/><line x1="575.88" y1="261.5" x2="575.88" y2="264" stroke="#333" stroke-width="0.6"/><text x="575.88" y="472.45" class="tk" text-anchor="middle">1550</text><line x1="610" y1="463.35" x2="610" y2="460.85" stroke="#333" stroke-width="0.6"/><line x1="610" y1="261.5" x2="610" y2="264" stroke="#333" stroke-width="0.6"/><text x="610" y="472.45" class="tk" text-anchor="middle">1500</text><line x1="357.5" y1="463.35" x2="360" y2="463.35" stroke="#333" stroke-width="0.6"/><line x1="610" y1="463.35" x2="607.5" y2="463.35" stroke="#333" stroke-width="0.6"/><text x="355.2" y="465.35" class="tk" text-anchor="end">0.00</text><line x1="357.5" y1="438.12" x2="360" y2="438.12" stroke="#333" stroke-width="0.6"/><line x1="610" y1="438.12" x2="607.5" y2="438.12" stroke="#333" stroke-width="0.6"/><text x="355.2" y="440.12" class="tk" text-anchor="end">0.02</text><line x1="357.5" y1="412.89" x2="360" y2="412.89" stroke="#333" stroke-width="0.6"/><line x1="610" y1="412.89" x2="607.5" y2="412.89" stroke="#333" stroke-width="0.6"/><text x="355.2" y="414.89" class="tk" text-anchor="end">0.04</text><line x1="357.5" y1="387.66" x2="360" y2="387.66" stroke="#333" stroke-width="0.6"/><line x1="610" y1="387.66" x2="607.5" y2="387.66" stroke="#333" stroke-width="0.6"/><text x="355.2" y="389.66" class="tk" text-anchor="end">0.06</text><line x1="357.5" y1="362.43" x2="360" y2="362.43" stroke="#333" stroke-width="0.6"/><line x1="610" y1="362.43" x2="607.5" y2="362.43" stroke="#333" stroke-width="0.6"/><text x="355.2" y="364.43" class="tk" text-anchor="end">0.08</text><line x1="357.5" y1="337.19" x2="360" y2="337.19" stroke="#333" stroke-width="0.6"/><line x1="610" y1="337.19" x2="607.5" y2="337.19" stroke="#333" stroke-width="0.6"/><text x="355.2" y="339.19" class="tk" text-anchor="end">0.10</text><line x1="357.5" y1="311.96" x2="360" y2="311.96" stroke="#333" stroke-width="0.6"/><line x1="610" y1="311.96" x2="607.5" y2="311.96" stroke="#333" stroke-width="0.6"/><text x="355.2" y="313.96" class="tk" text-anchor="end">0.12</text><line x1="357.5" y1="286.73" x2="360" y2="286.73" stroke="#333" stroke-width="0.6"/><line x1="610" y1="286.73" x2="607.5" y2="286.73" stroke="#333" stroke-width="0.6"/><text x="355.2" y="288.73" class="tk" text-anchor="end">0.14</text><line x1="357.5" y1="261.5" x2="360" y2="261.5" stroke="#333" stroke-width="0.6"/><line x1="610" y1="261.5" x2="607.5" y2="261.5" stroke="#333" stroke-width="0.6"/><text x="355.2" y="263.5" class="tk" text-anchor="end">0.16</text><polyline points="357.5,462.8 358,462.8 358.5,462.8 359,462.8 359.5,462.8 360,462.8 360.5,462.8 361,462.8 361.5,462.8 362,462.8 362.5,462.8 363,462.8 363.5,462.8 364,462.8 364.5,462.8 365,462.8 365.5,462.8 366,462.8 366.5,462.8 367,462.8 367.5,462.8 368,462.8 368.5,462.8 369,462.8 369.5,462.8 370,462.8 370.5,462.8 371,462.8 371.5,462.8 372,462.8 372.5,462.8 373,462.8 373.5,462.8 374,462.8 374.5,462.8 375,462.8 375.5,462.8 376,462.8 376.5,462.8 377,462.8 377.5,462.8 378,462.8 378.5,462.8 379,462.8 379.5,462.8 380,462.8 380.5,462.8 381,462.8 381.5,462.8 382,462.8 382.5,462.8 383,462.8 383.5,462.8 384,462.8 384.5,462.8 385,462.8 385.5,462.8 386,462.8 386.5,462.8 387,462.8 387.5,462.8 388,462.8 388.5,462.8 389,462.8 389.5,462.8 390,462.8 390.5,462.8 391,462.8 391.5,462.8 392,462.8 392.5,462.8 393,462.8 393.5,462.8 394,462.8 394.5,462.8 395,462.8 395.5,462.8 396,462.8 396.5,462.8 397,462.8 397.5,462.8 398,462.8 398.5,462.8 399,462.8 399.5,462.8 400,462.8 400.5,462.8 401,462.8 401.5,462.8 402,462.8 402.5,462.8 403,462.79 403.5,462.79 404,462.79 404.5,462.79 405,462.78 405.5,462.78 406,462.77 406.5,462.77 407,462.77 407.5,462.76 408,462.76 408.5,462.75 409,462.75 409.5,462.74 410,462.74 410.5,462.73 411,462.72 411.5,462.72 412,462.71 412.5,462.7 413,462.7 413.5,462.69 414,462.68 414.5,462.68 415,462.67 415.5,462.66 416,462.66 416.5,462.65 417,462.64 417.5,462.64 418,462.63 418.5,462.62 419,462.61 419.5,462.61 420,462.6 420.5,462.59 421,462.59 421.5,462.58 422,462.57 422.5,462.57 423,462.56 423.5,462.55 424,462.54 424.5,462.52 425,462.51 425.5,462.48 426,462.43 426.5,462.35 427,462.24 427.5,462.11 428,461.96 428.5,461.78 429,461.59 429.5,461.39 430,461.17 430.5,460.94 431,460.7 431.5,460.39 432,460.02 432.5,459.59 433,459.1 433.5,458.56 434,457.97 434.5,457.35 435,456.7 435.5,456.02 436,455.21 436.5,454.29 437,453.27 437.5,452.19 438,451.08 438.5,449.95 439,448.79 439.5,447.49 440,446.12 440.5,444.76 441,443.53 441.5,442.5 442,441.62 442.5,440.79 443,440.02 443.5,439.35 444,438.82 444.5,438.43 445,438.11 445.5,437.82 446,437.55 446.5,437.34 447,437.19 447.5,437.11 448,437.13 448.5,437.29 449,437.56 449.5,437.92 450,438.32 450.5,438.73 451,439.13 451.5,439.5 452,439.9 452.5,440.32 453,440.76 453.5,441.22 454,441.7 454.5,442.19 455,442.68 455.5,443.18 456,443.69 456.5,444.2 457,444.71 457.5,445.31 458,445.99 458.5,446.71 459,447.44 459.5,448.15 460,448.8 460.5,449.35 461,449.77 461.5,450.03 462,450.1 462.5,450.06 463,449.96 463.5,449.81 464,449.63 464.5,449.42 465,449.19 465.5,448.95 466,448.7 466.5,448.4 467,448.04 467.5,447.63 468,447.16 468.5,446.63 469,446.05 469.5,445.4 470,444.61 470.5,443.66 471,442.56 471.5,441.27 472,439.8 472.5,437.81 473,435.15 473.5,432.09 474,428.88 474.5,425.73 475,422.29 475.5,418.63 476,414.96 476.5,411.48 477,408.4 477.5,405.73 478,403.28 478.5,401 479,398.83 479.5,396.71 480,394.6 480.5,392.43 481,390.15 481.5,387.7 482,385.11 482.5,382.45 483,379.68 483.5,376.79 484,373.76 484.5,370.52 485,366.96 485.5,363.17 486,359.29 486.5,355.44 487,351.75 487.5,348.34 488,345.16 488.5,342.12 489,339.17 489.5,336.27 490,333.39 490.5,330.48 491,327.51 491.5,324.57 492,321.66 492.5,318.74 493,315.79 493.5,312.78 494,309.67 494.5,306.41 495,302.88 495.5,299.26 496,295.77 496.5,292.6 497,289.6 497.5,286.65 498,284 498.5,281.92 499,280.48 499.5,279.17 500,278 500.5,277.06 501,276.43 501.5,276.2 502,276.29 502.5,276.54 503,276.91 503.5,277.39 504,277.93 504.5,278.52 505,279.13 505.5,279.91 506,280.91 506.5,282.07 507,283.34 507.5,284.66 508,285.96 508.5,287.2 509,288.31 509.5,289.32 510,290.28 510.5,291.2 511,292.11 511.5,293.04 512,294 512.5,295.02 513,296.13 513.5,297.35 514,298.69 514.5,300.15 515,301.73 515.5,303.45 516,305.31 516.5,307.37 517,309.75 517.5,312.39 518,315.18 518.5,318.02 519,320.8 519.5,323.52 520,326.25 520.5,329.01 521,331.81 521.5,334.67 522,337.6 522.5,340.61 523,343.81 523.5,347.17 524,350.62 524.5,354.11 525,357.55 525.5,360.88 526,364.03 526.5,366.95 527,369.8 527.5,372.62 528,375.38 528.5,378.06 529,380.65 529.5,383.12 530,385.45 530.5,387.62 531,389.62 531.5,391.47 532,393.24 532.5,394.93 533,396.54 533.5,398.07 534,399.52 534.5,400.89 535,402.18 535.5,403.38 536,404.5 536.5,405.57 537,406.62 537.5,407.65 538,408.63 538.5,409.55 539,410.39 539.5,411.15 540,411.8 540.5,412.34 541,412.76 541.5,413.14 542,413.51 542.5,413.87 543,414.21 543.5,414.52 544,414.81 544.5,415.07 545,415.29 545.5,415.48 546,415.63 546.5,415.73 547,415.79 547.5,415.8 548,415.76 548.5,415.69 549,415.58 549.5,415.44 550,415.27 550.5,415.07 551,414.85 551.5,414.61 552,414.36 552.5,414.09 553,413.81 553.5,413.52 554,413.2 554.5,412.8 555,412.31 555.5,411.73 556,411.09 556.5,410.39 557,409.65 557.5,408.87 558,408.06 558.5,407.25 559,406.42 559.5,405.61 560,404.81 560.5,404.04 561,403.28 561.5,402.53 562,401.78 562.5,401.01 563,400.22 563.5,399.41 564,398.55 564.5,397.65 565,396.7 565.5,395.69 566,394.61 566.5,393.44 567,392.17 567.5,390.72 568,389.11 568.5,387.33 569,385.38 569.5,383.25 570,380.89 570.5,377.74 571,374.09 571.5,370.43 572,367.27 572.5,364.97 573,363 573.5,361.18 574,359.55 574.5,358.14 575,356.98 575.5,356.1 576,355.38 576.5,354.69 577,354.07 577.5,353.52 578,353.08 578.5,352.77 579,352.61 579.5,352.83 580,354 580.5,355.71 581,357.41 581.5,358.84 582,360.29 582.5,361.78 583,363.28 583.5,364.8 584,366.33 584.5,367.85 585,369.36 585.5,370.84 586,372.3 586.5,373.73 587,375.15 587.5,376.55 588,377.94 588.5,379.33 589,380.7 589.5,382.08 590,383.44 590.5,384.81 591,386.17 591.5,387.54 592,388.9 592.5,390.27 593,391.64 593.5,392.99 594,394.33 594.5,395.67 595,397 595.5,398.34 596,399.68 596.5,401.03 597,402.38 597.5,403.76 598,405.15 598.5,406.56 599,407.99 599.5,409.42 600,410.85 600.5,412.29 601,413.74 601.5,415.23 602,416.74 602.5,418.3 603,419.92 603.5,421.61 604,423.42 604.5,425.52 605,427.78 605.5,430.06 606,432.19 606.5,434.04 607,435.45 607.5,436.65 608,437.78 608.5,438.78 609,439.65 609.5,440.33 610,440.8" fill="none" stroke="#1234f4" stroke-width="1.4" stroke-linejoin="round" clip-path="url(#clip_d)"/><polyline points="357.5,462.8 358,462.8 358.5,462.8 359,462.8 359.5,462.8 360,462.8 360.5,462.8 361,462.8 361.5,462.8 362,462.8 362.5,462.8 363,462.8 363.5,462.8 364,462.8 364.5,462.8 365,462.8 365.5,462.8 366,462.8 366.5,462.8 367,462.8 367.5,462.8 368,462.8 368.5,462.8 369,462.8 369.5,462.8 370,462.8 370.5,462.8 371,462.8 371.5,462.8 372,462.8 372.5,462.8 373,462.8 373.5,462.8 374,462.8 374.5,462.8 375,462.8 375.5,462.8 376,462.8 376.5,462.8 377,462.8 377.5,462.8 378,462.8 378.5,462.8 379,462.8 379.5,462.8 380,462.8 380.5,462.8 381,462.8 381.5,462.8 382,462.8 382.5,462.8 383,462.8 383.5,462.8 384,462.8 384.5,462.8 385,462.8 385.5,462.8 386,462.8 386.5,462.8 387,462.8 387.5,462.8 388,462.8 388.5,462.8 389,462.8 389.5,462.8 390,462.8 390.5,462.8 391,462.8 391.5,462.8 392,462.8 392.5,462.8 393,462.8 393.5,462.8 394,462.8 394.5,462.8 395,462.8 395.5,462.8 396,462.8 396.5,462.8 397,462.8 397.5,462.8 398,462.8 398.5,462.8 399,462.8 399.5,462.8 400,462.8 400.5,462.8 401,462.8 401.5,462.8 402,462.8 402.5,462.8 403,462.79 403.5,462.79 404,462.79 404.5,462.79 405,462.78 405.5,462.78 406,462.77 406.5,462.77 407,462.77 407.5,462.76 408,462.76 408.5,462.75 409,462.75 409.5,462.74 410,462.74 410.5,462.73 411,462.72 411.5,462.72 412,462.71 412.5,462.7 413,462.7 413.5,462.69 414,462.68 414.5,462.68 415,462.67 415.5,462.66 416,462.66 416.5,462.65 417,462.64 417.5,462.64 418,462.63 418.5,462.62 419,462.61 419.5,462.61 420,462.6 420.5,462.59 421,462.59 421.5,462.58 422,462.57 422.5,462.57 423,462.56 423.5,462.55 424,462.54 424.5,462.52 425,462.51 425.5,462.48 426,462.43 426.5,462.35 427,462.24 427.5,462.11 428,461.96 428.5,461.78 429,461.59 429.5,461.39 430,461.17 430.5,460.94 431,460.7 431.5,460.39 432,460.02 432.5,459.59 433,459.1 433.5,458.56 434,457.97 434.5,457.35 435,456.7 435.5,456.02 436,455.21 436.5,454.29 437,453.27 437.5,452.19 438,451.08 438.5,449.95 439,448.79 439.5,447.49 440,446.12 440.5,444.76 441,443.53 441.5,442.5 442,441.62 442.5,440.79 443,440.02 443.5,439.35 444,438.82 444.5,438.43 445,438.11 445.5,437.82 446,437.55 446.5,437.34 447,437.19 447.5,437.11 448,437.13 448.5,437.29 449,437.56 449.5,437.92 450,438.32 450.5,438.73 451,439.13 451.5,439.5 452,439.9 452.5,440.32 453,440.76 453.5,441.22 454,441.7 454.5,442.19 455,442.68 455.5,443.18 456,443.69 456.5,444.2 457,444.71 457.5,445.31 458,445.99 458.5,446.71 459,447.44 459.5,448.15 460,448.8 460.5,449.35 461,449.77 461.5,450.03 462,450.1 462.5,450.06 463,449.96 463.5,449.81 464,449.63 464.5,449.42 465,449.19 465.5,448.95 466,448.7 466.5,448.4 467,448.04 467.5,447.63 468,447.16 468.5,446.63 469,446.05 469.5,445.4 470,444.61 470.5,443.66 471,442.56 471.5,441.27 472,439.8 472.5,437.81 473,435.15 473.5,432.09 474,428.88 474.5,425.73 475,422.29 475.5,418.63 476,414.96 476.5,411.48 477,408.4 477.5,405.73 478,403.28 478.5,401 479,398.83 479.5,396.71 480,394.6 480.5,392.43 481,390.15 481.5,387.7 482,385.11 482.5,382.45 483,379.68 483.5,376.79 484,373.76 484.5,370.52 485,366.96 485.5,363.17 486,359.29 486.5,355.44 487,351.75 487.5,348.34 488,345.16 488.5,342.12 489,339.17 489.5,336.27 490,333.39 490.5,330.48 491,327.51 491.5,324.57 492,321.66 492.5,318.74 493,315.79 493.5,312.78 494,309.67 494.5,306.41 495,302.88 495.5,299.26 496,295.77 496.5,292.6 497,289.6 497.5,286.65 498,284 498.5,281.92 499,280.48 499.5,279.17 500,278 500.5,277.06 501,276.43 501.5,276.2 502,276.29 502.5,276.54 503,276.91 503.5,277.39 504,277.93 504.5,278.52 505,279.13 505.5,279.91 506,280.91 506.5,282.07 507,283.34 507.5,284.66 508,285.96 508.5,287.2 509,288.31 509.5,289.32 510,290.28 510.5,291.2 511,292.11 511.5,293.04 512,294 512.5,295.02 513,296.13 513.5,297.35 514,298.69 514.5,300.15 515,301.73 515.5,303.45 516,305.31 516.5,307.37 517,309.75 517.5,312.39 518,315.18 518.5,318.02 519,320.8 519.5,323.52 520,326.25 520.5,329.01 521,331.81 521.5,334.67 522,337.6 522.5,340.61 523,343.81 523.5,347.17 524,350.62 524.5,354.11 525,357.55 525.5,360.88 526,364.03 526.5,366.95 527,369.8 527.5,372.62 528,375.38 528.5,378.06 529,380.65 529.5,383.12 530,385.45 530.5,387.62 531,389.62 531.5,391.47 532,393.24 532.5,394.93 533,396.54 533.5,398.08 534,399.53 534.5,400.9 535,402.19 535.5,403.4 536,404.52 536.5,405.6 537,406.67 537.5,407.71 538,408.71 538.5,409.66 539,410.54 539.5,411.34 540,412.05 540.5,412.65 541,413.13 541.5,413.59 542,414.05 542.5,414.5 543,414.94 543.5,415.35 544,415.73 544.5,416.09 545,416.4 545.5,416.66 546,416.86 546.5,417.01 547,417.09 547.5,417.1 548,417.04 548.5,416.93 549,416.76 549.5,416.55 550,416.3 550.5,416.01 551,415.7 551.5,415.36 552,415.01 552.5,414.65 553,414.28 553.5,413.91 554,413.52 554.5,413.06 555,412.51 555.5,411.89 556,411.21 556.5,410.49 557,409.72 557.5,408.92 558,408.1 558.5,407.27 559,406.44 559.5,405.62 560,404.82 560.5,404.05 561,403.29 561.5,402.53 562,401.78 562.5,401.01 563,400.22 563.5,399.41 564,398.55 564.5,397.66 565,396.71 565.5,395.7 566,394.62 566.5,393.47 567,392.21 567.5,390.79 568,389.21 568.5,387.47 569,385.58 569.5,383.54 570,381.27 570.5,378.23 571,374.72 571.5,371.23 572,368.24 572.5,366.14 573,364.38 573.5,362.8 574,361.43 574.5,360.3 575,359.46 575.5,358.92 576,358.56 576.5,358.25 577,357.98 577.5,357.76 578,357.56 578.5,357.38 579,357.22 579.5,357.29 580,358.18 580.5,359.48 581,360.7 581.5,361.6 582,362.52 582.5,363.52 583,364.59 583.5,365.74 584,366.98 584.5,368.28 585,369.64 585.5,371.02 586,372.4 586.5,373.79 587,375.18 587.5,376.57 588,377.95 588.5,379.33 589,380.71 589.5,382.08 590,383.44 590.5,384.81 591,386.17 591.5,387.54 592,388.9 592.5,390.27 593,391.64 593.5,392.99 594,394.33 594.5,395.67 595,397 595.5,398.34 596,399.68 596.5,401.03 597,402.38 597.5,403.76 598,405.15 598.5,406.56 599,407.99 599.5,409.42 600,410.85 600.5,412.29 601,413.74 601.5,415.23 602,416.74 602.5,418.3 603,419.92 603.5,421.61 604,423.42 604.5,425.52 605,427.78 605.5,430.06 606,432.19 606.5,434.04 607,435.45 607.5,436.65 608,437.78 608.5,438.78 609,439.65 609.5,440.33 610,440.8" fill="none" stroke="#ee1420" stroke-width="1.4" stroke-dasharray="3 2.6" stroke-linejoin="round" clip-path="url(#clip_d)"/><polyline points="357.5,462.8 358,462.8 358.5,462.8 359,462.8 359.5,462.8 360,462.8 360.5,462.8 361,462.8 361.5,462.8 362,462.8 362.5,462.8 363,462.8 363.5,462.8 364,462.8 364.5,462.8 365,462.8 365.5,462.8 366,462.8 366.5,462.8 367,462.8 367.5,462.8 368,462.8 368.5,462.8 369,462.8 369.5,462.8 370,462.8 370.5,462.8 371,462.8 371.5,462.8 372,462.8 372.5,462.8 373,462.8 373.5,462.8 374,462.8 374.5,462.8 375,462.8 375.5,462.8 376,462.8 376.5,462.8 377,462.8 377.5,462.8 378,462.8 378.5,462.8 379,462.8 379.5,462.8 380,462.8 380.5,462.8 381,462.8 381.5,462.8 382,462.8 382.5,462.8 383,462.8 383.5,462.8 384,462.8 384.5,462.8 385,462.8 385.5,462.8 386,462.8 386.5,462.8 387,462.8 387.5,462.8 388,462.8 388.5,462.8 389,462.8 389.5,462.8 390,462.8 390.5,462.8 391,462.8 391.5,462.8 392,462.8 392.5,462.8 393,462.8 393.5,462.8 394,462.8 394.5,462.8 395,462.8 395.5,462.8 396,462.8 396.5,462.8 397,462.8 397.5,462.8 398,462.8 398.5,462.8 399,462.8 399.5,462.8 400,462.8 400.5,462.8 401,462.8 401.5,462.8 402,462.8 402.5,462.8 403,462.79 403.5,462.79 404,462.79 404.5,462.79 405,462.78 405.5,462.78 406,462.77 406.5,462.77 407,462.77 407.5,462.76 408,462.76 408.5,462.75 409,462.75 409.5,462.74 410,462.74 410.5,462.73 411,462.72 411.5,462.72 412,462.71 412.5,462.7 413,462.7 413.5,462.69 414,462.68 414.5,462.68 415,462.67 415.5,462.66 416,462.66 416.5,462.65 417,462.64 417.5,462.64 418,462.63 418.5,462.62 419,462.61 419.5,462.61 420,462.6 420.5,462.59 421,462.59 421.5,462.58 422,462.57 422.5,462.57 423,462.56 423.5,462.55 424,462.54 424.5,462.52 425,462.51 425.5,462.48 426,462.43 426.5,462.35 427,462.24 427.5,462.11 428,461.96 428.5,461.78 429,461.59 429.5,461.39 430,461.17 430.5,460.94 431,460.7 431.5,460.39 432,460.02 432.5,459.59 433,459.1 433.5,458.56 434,457.97 434.5,457.35 435,456.7 435.5,456.01 436,455.21 436.5,454.28 437,453.26 437.5,452.17 438,451.04 438.5,449.89 439,448.72 439.5,447.38 440,445.97 440.5,444.56 441,443.26 441.5,442.15 442,441.17 442.5,440.22 443,439.33 443.5,438.53 444,437.85 444.5,437.32 445,436.85 445.5,436.42 446,436.04 446.5,435.74 447,435.52 447.5,435.41 448,435.43 448.5,435.63 449,435.98 449.5,436.43 450,436.95 450.5,437.49 451,438.03 451.5,438.56 452,439.1 452.5,439.65 453,440.21 453.5,440.77 454,441.33 454.5,441.88 455,442.41 455.5,442.93 456,443.43 456.5,443.91 457,444.37 457.5,444.9 458,445.5 458.5,446.12 459,446.75 459.5,447.35 460,447.89 460.5,448.36 461,448.72 461.5,448.94 462,449 462.5,448.98 463,448.93 463.5,448.86 464,448.77 464.5,448.66 465,448.54 465.5,448.41 466,448.27 466.5,448.06 467,447.78 467.5,447.44 468,447.02 468.5,446.53 469,445.98 469.5,445.35 470,444.58 470.5,443.65 471,442.54 471.5,441.27 472,439.8 472.5,437.74 473,434.96 473.5,431.83 474,428.71 474.5,425.92 475,423.24 475.5,420.56 476,417.91 476.5,415.31 477,412.76 477.5,410.3 478,407.94 478.5,405.68 479,403.51 479.5,401.41 480,399.36 480.5,397.33 481,395.31 481.5,393.26 482,391.18 482.5,389.03 483,386.78 483.5,384.37 484,381.86 484.5,379.32 485,376.86 485.5,374.56 486,372.5 486.5,370.79 487,369.29 487.5,367.78 488,366 488.5,363.82 489,361.31 489.5,358.56 490,355.65 490.5,352.65 491,349.65 491.5,346.72 492,343.96 492.5,341.28 493,338.63 493.5,335.99 494,333.36 494.5,330.73 495,328.09 495.5,325.44 496,322.75 496.5,320.05 497,317.35 497.5,314.67 498,312.02 498.5,309.42 499,306.88 499.5,304.38 500,301.91 500.5,299.48 501,297.11 501.5,294.8 502,292.46 502.5,290.05 503,287.71 503.5,285.53 504,283.63 504.5,282.13 505,280.84 505.5,279.67 506,278.63 506.5,277.75 507,277.03 507.5,276.48 508,275.95 508.5,275.45 509,275 509.5,274.61 510,274.3 510.5,274.09 511,274 511.5,274.05 512,274.24 512.5,274.57 513,275.01 513.5,275.56 514,276.21 514.5,276.94 515,277.73 515.5,278.87 516,280.74 516.5,283.06 517,285.5 517.5,287.8 518,290.11 518.5,292.52 519,295.04 519.5,297.66 520,300.42 520.5,303.34 521,306.38 521.5,309.5 522,312.66 522.5,315.83 523,319.07 523.5,322.37 524,325.72 524.5,329.09 525,332.44 525.5,335.75 526,338.99 526.5,342.24 527,345.49 527.5,348.71 528,351.9 528.5,355.02 529,358.06 529.5,361 530,363.89 530.5,366.77 531,369.63 531.5,372.44 532,375.19 532.5,377.85 533,380.41 533.5,382.83 534,385.1 534.5,387.21 535,389.23 535.5,391.19 536,393.09 536.5,394.91 537,396.64 537.5,398.27 538,399.79 538.5,401.18 539,402.44 539.5,403.57 540,404.67 540.5,405.73 541,406.73 541.5,407.68 542,408.55 542.5,409.33 543,410.01 543.5,410.57 544,411 544.5,411.36 545,411.71 545.5,412.04 546,412.35 546.5,412.65 547,412.92 547.5,413.16 548,413.37 548.5,413.55 549,413.7 549.5,413.81 550,413.88 550.5,413.9 551,413.88 551.5,413.83 552,413.74 552.5,413.63 553,413.49 553.5,413.33 554,413.14 554.5,412.94 555,412.72 555.5,412.49 556,412.25 556.5,412 557,411.75 557.5,411.45 558,411.09 558.5,410.66 559,410.19 559.5,409.67 560,409.11 560.5,408.5 561,407.87 561.5,407.2 562,406.51 562.5,405.81 563,405.08 563.5,404.35 564,403.6 564.5,402.8 565,401.95 565.5,401.05 566,400.07 566.5,399.03 567,397.9 567.5,396.68 568,395.36 568.5,393.87 569,392.01 569.5,389.85 570,387.5 570.5,385.06 571,382.62 571.5,380.3 572,377.94 572.5,375.42 573,372.88 573.5,370.43 574,368.23 574.5,366.4 575,364.97 575.5,363.64 576,362.41 576.5,361.32 577,360.41 577.5,359.74 578,359.34 578.5,359.05 579,358.81 579.5,358.62 580,358.52 580.5,358.53 581,358.79 581.5,359.26 582,359.88 582.5,360.57 583,361.23 583.5,361.8 584,362.26 584.5,362.68 585,363.11 585.5,363.6 586,364.2 586.5,365.01 587,366.06 587.5,367.31 588,368.71 588.5,370.21 589,371.77 589.5,373.33 590,374.86 590.5,376.3 591,377.61 591.5,378.88 592,380.11 592.5,381.32 593,382.52 593.5,383.72 594,384.91 594.5,386.1 595,387.31 595.5,388.54 596,389.79 596.5,391.07 597,392.39 597.5,393.75 598,395.12 598.5,396.5 599,397.9 599.5,399.33 600,400.81 600.5,402.34 601,403.93 601.5,405.59 602,407.34 602.5,409.23 603,411.36 603.5,413.65 604,416.03 604.5,418.44 605,420.8 605.5,423.05 606,425.12 606.5,427 607,428.83 607.5,430.59 608,432.29 608.5,433.93 609,435.5 609.5,436.99 610,438.4" fill="none" stroke="#16a616" stroke-width="1.4" stroke-linejoin="round" clip-path="url(#clip_d)"/><polyline points="357.5,462.8 358,462.8 358.5,462.8 359,462.8 359.5,462.8 360,462.8 360.5,462.8 361,462.8 361.5,462.8 362,462.8 362.5,462.8 363,462.8 363.5,462.8 364,462.8 364.5,462.8 365,462.8 365.5,462.8 366,462.8 366.5,462.8 367,462.8 367.5,462.8 368,462.8 368.5,462.8 369,462.8 369.5,462.8 370,462.8 370.5,462.8 371,462.8 371.5,462.8 372,462.8 372.5,462.8 373,462.8 373.5,462.8 374,462.8 374.5,462.8 375,462.8 375.5,462.8 376,462.8 376.5,462.8 377,462.8 377.5,462.8 378,462.8 378.5,462.8 379,462.8 379.5,462.8 380,462.8 380.5,462.8 381,462.8 381.5,462.8 382,462.8 382.5,462.8 383,462.8 383.5,462.8 384,462.8 384.5,462.8 385,462.8 385.5,462.8 386,462.8 386.5,462.8 387,462.8 387.5,462.8 388,462.8 388.5,462.8 389,462.8 389.5,462.8 390,462.8 390.5,462.8 391,462.8 391.5,462.8 392,462.8 392.5,462.8 393,462.8 393.5,462.8 394,462.8 394.5,462.8 395,462.8 395.5,462.8 396,462.8 396.5,462.8 397,462.8 397.5,462.8 398,462.8 398.5,462.8 399,462.8 399.5,462.8 400,462.8 400.5,462.8 401,462.8 401.5,462.8 402,462.8 402.5,462.8 403,462.79 403.5,462.79 404,462.79 404.5,462.79 405,462.78 405.5,462.78 406,462.77 406.5,462.77 407,462.77 407.5,462.76 408,462.76 408.5,462.75 409,462.75 409.5,462.74 410,462.74 410.5,462.73 411,462.72 411.5,462.72 412,462.71 412.5,462.7 413,462.7 413.5,462.69 414,462.68 414.5,462.68 415,462.67 415.5,462.66 416,462.66 416.5,462.65 417,462.64 417.5,462.64 418,462.63 418.5,462.62 419,462.61 419.5,462.61 420,462.6 420.5,462.59 421,462.59 421.5,462.58 422,462.57 422.5,462.57 423,462.56 423.5,462.55 424,462.54 424.5,462.52 425,462.51 425.5,462.48 426,462.43 426.5,462.35 427,462.24 427.5,462.11 428,461.96 428.5,461.78 429,461.59 429.5,461.39 430,461.17 430.5,460.94 431,460.7 431.5,460.39 432,460.02 432.5,459.59 433,459.1 433.5,458.56 434,457.97 434.5,457.35 435,456.7 435.5,456.01 436,455.21 436.5,454.28 437,453.26 437.5,452.18 438,451.05 438.5,449.92 439,448.75 439.5,447.43 440,446.03 440.5,444.64 441,443.37 441.5,442.29 442,441.36 442.5,440.45 443,439.61 443.5,438.87 444,438.25 444.5,437.78 445,437.37 445.5,437 446,436.66 446.5,436.4 447,436.21 447.5,436.11 448,436.13 448.5,436.31 449,436.63 449.5,437.04 450,437.51 450.5,438 451,438.48 451.5,438.95 452,439.43 452.5,439.93 453,440.45 453.5,440.97 454,441.5 454.5,442.03 455,442.57 455.5,443.1 456,443.63 456.5,444.15 457,444.68 457.5,445.29 458,445.98 458.5,446.71 459,447.44 459.5,448.15 460,448.79 460.5,449.35 461,449.77 461.5,450.03 462,450.1 462.5,450.06 463,449.96 463.5,449.81 464,449.63 464.5,449.42 465,449.19 465.5,448.95 466,448.7 466.5,448.4 467,448.04 467.5,447.63 468,447.16 468.5,446.63 469,446.05 469.5,445.4 470,444.61 470.5,443.66 471,442.56 471.5,441.27 472,439.8 472.5,437.76 473,435.02 473.5,431.91 474,428.76 474.5,425.87 475,423 475.5,420.09 476,417.19 476.5,414.34 477,411.59 477.5,408.97 478,406.48 478.5,404.08 479,401.76 479.5,399.47 480,397.2 480.5,394.91 481,392.58 481.5,390.19 482,387.7 482.5,385.05 483,382.26 483.5,379.42 484,376.63 484.5,373.98 485,371.58 485.5,369.5 486,367.41 486.5,364.96 487,362.09 487.5,358.91 488,355.57 488.5,352.17 489,348.83 489.5,345.68 490,342.79 490.5,340 491,337.28 491.5,334.62 492,332.02 492.5,329.45 493,326.9 493.5,324.36 494,321.82 494.5,319.26 495,316.69 495.5,314.12 496,311.57 496.5,309.08 497,306.67 497.5,304.35 498,302.08 498.5,299.74 499,297.38 499.5,295.06 500,292.83 500.5,290.76 501,288.89 501.5,287.29 502,286.01 502.5,285.01 503,284.09 503.5,283.25 504,282.52 504.5,281.89 505,281.38 505.5,281 506,280.69 506.5,280.39 507,280.12 507.5,279.9 508,279.73 508.5,279.63 509,279.6 509.5,279.73 510,279.99 510.5,280.35 511,280.77 511.5,281.2 512,281.68 512.5,282.25 513,282.94 513.5,283.75 514,284.7 514.5,285.96 515,287.65 515.5,289.69 516,291.99 516.5,294.46 517,297.02 517.5,299.59 518,302.1 518.5,304.69 519,307.45 519.5,310.31 520,313.24 520.5,316.18 521,319.09 521.5,321.92 522,324.7 522.5,327.45 523,330.21 523.5,332.99 524,335.85 524.5,338.79 525,341.87 525.5,345.12 526,348.5 526.5,351.95 527,355.42 527.5,358.86 528,362.19 528.5,365.38 529,368.47 529.5,371.58 530,374.68 530.5,377.71 531,380.61 531.5,383.33 532,385.81 532.5,388 533,389.98 533.5,391.87 534,393.66 534.5,395.36 535,396.96 535.5,398.47 536,399.88 536.5,401.19 537,402.39 537.5,403.5 538,404.55 538.5,405.57 539,406.55 539.5,407.48 540,408.36 540.5,409.17 541,409.9 541.5,410.54 542,411.07 542.5,411.5 543,411.86 543.5,412.22 544,412.56 544.5,412.88 545,413.18 545.5,413.47 546,413.72 546.5,413.94 547,414.14 547.5,414.29 548,414.4 548.5,414.48 549,414.5 549.5,414.48 550,414.44 550.5,414.36 551,414.26 551.5,414.13 552,413.98 552.5,413.81 553,413.63 553.5,413.42 554,413.21 554.5,412.98 555,412.74 555.5,412.5 556,412.21 556.5,411.83 557,411.37 557.5,410.85 558,410.27 558.5,409.63 559,408.96 559.5,408.25 560,407.51 560.5,406.76 561,406 561.5,405.25 562,404.5 562.5,403.76 563,403.02 563.5,402.27 564,401.49 564.5,400.68 565,399.82 565.5,398.9 566,397.93 566.5,396.87 567,395.73 567.5,394.5 568,393.04 568.5,391.28 569,389.29 569.5,387.15 570,384.92 570.5,382.68 571,380.5 571.5,378.21 572,375.69 572.5,373.12 573,370.63 573.5,368.4 574,366.58 574.5,365.22 575,363.97 575.5,362.82 576,361.83 576.5,361.01 577,360.43 577.5,360.08 578,359.82 578.5,359.6 579,359.45 579.5,359.4 580,359.49 580.5,359.73 581,360.09 581.5,360.52 582,361 582.5,361.66 583,362.62 583.5,363.81 584,365.17 584.5,366.63 585,368.14 585.5,369.61 586,371 586.5,372.33 587,373.69 587.5,375.08 588,376.48 588.5,377.9 589,379.33 589.5,380.77 590,382.21 590.5,383.64 591,385.07 591.5,386.49 592,387.89 592.5,389.27 593,390.63 593.5,391.97 594,393.3 594.5,394.61 595,395.92 595.5,397.23 596,398.55 596.5,399.87 597,401.21 597.5,402.56 598,403.94 598.5,405.35 599,406.79 599.5,408.24 600,409.71 600.5,411.19 601,412.69 601.5,414.22 602,415.79 602.5,417.4 603,419.07 603.5,420.79 604,422.64 604.5,424.77 605,427.05 605.5,429.35 606,431.5 606.5,433.34 607,434.75 607.5,435.94 608,437.05 608.5,438.05 609,438.89 609.5,439.56 610,440" fill="none" stroke="#16a616" stroke-width="1.4" stroke-dasharray="3 2.6" stroke-linejoin="round" clip-path="url(#clip_d)"/><text x="474" y="258.6" class="ttl" textLength="20" lengthAdjust="spacingAndGlyphs">NAC</text><text transform="translate(334.3,362.43) rotate(-90)" class="ylab" text-anchor="middle">Absorbance</text><text x="441.7" y="484.55" class="xlab" textLength="54.6" lengthAdjust="spacingAndGlyphs">Wavenumber</text><text x="499.6" y="485.15" class="ubr">[</text><text x="502.2" y="484.55" class="ucm">cm</text><text x="514.8" y="480.85" class="usup">&#8722;1</text><text x="524.7" y="485.15" class="ubr">]</text><text x="486" y="496.65" class="cap" text-anchor="middle">(d)</text><line x1="562.4" y1="270.85" x2="575" y2="270.85" stroke="#1234f4" stroke-width="1.3"/><text x="583.7" y="273.55" class="leg">MCR</text><line x1="562.5" y1="281.45" x2="566" y2="281.45" stroke="#ee1420" stroke-width="1.3"/><line x1="568.5" y1="281.45" x2="571.7" y2="281.45" stroke="#ee1420" stroke-width="1.3"/><text x="583.7" y="284.15" class="leg">MCL</text><line x1="562.4" y1="292.05" x2="575" y2="292.05" stroke="#16a616" stroke-width="1.3"/><text x="583.7" y="294.75" class="leg">CR</text><line x1="562.5" y1="302.65" x2="566" y2="302.65" stroke="#16a616" stroke-width="1.3"/><line x1="568.5" y1="302.65" x2="571.7" y2="302.65" stroke="#16a616" stroke-width="1.3"/><text x="583.7" y="305.35" class="leg">CL</text><rect x="361.1" y="322.1" width="100.9" height="80.7" fill="#fff" stroke="none"/><polyline points="361.4,384.6 361.9,384 362.4,383.41 362.9,382.81 363.4,382.2 363.9,381.6 364.4,380.99 364.9,380.38 365.4,379.76 365.9,379.14 366.4,378.52 366.9,377.9 367.4,377.28 367.9,376.65 368.4,376.02 368.9,375.4 369.4,374.78 369.9,374.16 370.4,373.54 370.9,372.91 371.4,372.28 371.9,371.63 372.4,370.98 372.9,370.32 373.4,369.64 373.9,368.95 374.4,368.24 374.9,367.52 375.4,366.78 375.9,366.02 376.4,365.24 376.9,364.45 377.4,363.64 377.9,362.81 378.4,361.97 378.9,361.1 379.4,360.22 379.9,359.28 380.4,358.29 380.9,357.26 381.4,356.22 381.9,355.19 382.4,354.19 382.9,353.24 383.4,352.35 383.9,351.49 384.4,350.65 384.9,349.83 385.4,349.04 385.9,348.29 386.4,347.58 386.9,346.92 387.4,346.32 387.9,345.75 388.4,345.21 388.9,344.69 389.4,344.2 389.9,343.72 390.4,343.26 390.9,342.79 391.4,342.33 391.9,341.87 392.4,341.39 392.9,340.9 393.4,340.39 393.9,339.87 394.4,339.33 394.9,338.8 395.4,338.26 395.9,337.73 396.4,337.22 396.9,336.73 397.4,336.26 397.9,335.82 398.4,335.42 398.9,335.06 399.4,334.68 399.9,334.3 400.4,333.92 400.9,333.56 401.4,333.23 401.9,332.95 402.4,332.72 402.9,332.57 403.4,332.5 403.9,332.51 404.4,332.53 404.9,332.57 405.4,332.62 405.9,332.68 406.4,332.76 406.9,332.84 407.4,332.93 407.9,333.03 408.4,333.12 408.9,333.22 409.4,333.32 409.9,333.43 410.4,333.55 410.9,333.69 411.4,333.84 411.9,334.01 412.4,334.19 412.9,334.38 413.4,334.61 413.9,334.88 414.4,335.17 414.9,335.49 415.4,335.83 415.9,336.18 416.4,336.54 416.9,336.9 417.4,337.27 417.9,337.62 418.4,337.97 418.9,338.3 419.4,338.65 419.9,339 420.4,339.37 420.9,339.74 421.4,340.1 421.9,340.46 422.4,340.81 422.9,341.14 423.4,341.45 423.9,341.74 424.4,342 424.9,342.24 425.4,342.45 425.9,342.66 426.4,342.85 426.9,343.03 427.4,343.2 427.9,343.37 428.4,343.53 428.9,343.69 429.4,343.86 429.9,344.03 430.4,344.21 430.9,344.4 431.4,344.6 431.9,344.81 432.4,345.04 432.9,345.28 433.4,345.54 433.9,345.8 434.4,346.08 434.9,346.36 435.4,346.65 435.9,346.95 436.4,347.25 436.9,347.56 437.4,347.87 437.9,348.18 438.4,348.49 438.9,348.8 439.4,349.1 439.9,349.4 440.4,349.68 440.9,349.97 441.4,350.26 441.9,350.57 442.4,350.88 442.9,351.22 443.4,351.59 443.9,351.99 444.4,352.42 444.9,352.9 445.4,353.51 445.9,354.22 446.4,355.03 446.9,355.89 447.4,356.8 447.9,357.71 448.4,358.61 448.9,359.46 449.4,360.25 449.9,360.98 450.4,361.7 450.9,362.4 451.4,363.1 451.9,363.78 452.4,364.46 452.9,365.12 453.4,365.76 453.9,366.4 454.4,367.02 454.9,367.63 455.4,368.22 455.9,368.8 456.4,369.37 456.9,369.93 457.4,370.49 457.9,371.04 458.4,371.57 458.9,372.1 459.4,372.61 459.9,373.12 460.4,373.61 460.9,374.09 461.4,374.56 461.9,375.02 462.1,375.2" fill="none" stroke="#1234f4" stroke-width="1.3" stroke-linejoin="round" clip-path="url(#iclip_d)"/><polyline points="361.4,385.2 361.9,384.61 362.4,384.01 362.9,383.41 363.4,382.81 363.9,382.21 364.4,381.6 364.9,380.99 365.4,380.37 365.9,379.75 366.4,379.13 366.9,378.51 367.4,377.88 367.9,377.25 368.4,376.62 368.9,375.99 369.4,375.37 369.9,374.74 370.4,374.11 370.9,373.47 371.4,372.83 371.9,372.18 372.4,371.52 372.9,370.85 373.4,370.16 373.9,369.46 374.4,368.75 374.9,368.01 375.4,367.26 375.9,366.49 376.4,365.71 376.9,364.9 377.4,364.08 377.9,363.25 378.4,362.39 378.9,361.51 379.4,360.62 379.9,359.67 380.4,358.66 380.9,357.62 381.4,356.57 381.9,355.52 382.4,354.51 382.9,353.54 383.4,352.65 383.9,351.78 384.4,350.92 384.9,350.09 385.4,349.29 385.9,348.52 386.4,347.8 386.9,347.13 387.4,346.5 387.9,345.92 388.4,345.36 388.9,344.82 389.4,344.31 389.9,343.81 390.4,343.32 390.9,342.85 391.4,342.37 391.9,341.89 392.4,341.4 392.9,340.9 393.4,340.38 393.9,339.85 394.4,339.32 394.9,338.78 395.4,338.25 395.9,337.72 396.4,337.21 396.9,336.72 397.4,336.26 397.9,335.82 398.4,335.42 398.9,335.06 399.4,334.68 399.9,334.3 400.4,333.92 400.9,333.56 401.4,333.23 401.9,332.95 402.4,332.72 402.9,332.57 403.4,332.5 403.9,332.51 404.4,332.53 404.9,332.57 405.4,332.62 405.9,332.68 406.4,332.76 406.9,332.84 407.4,332.93 407.9,333.03 408.4,333.12 408.9,333.22 409.4,333.32 409.9,333.43 410.4,333.55 410.9,333.69 411.4,333.84 411.9,334.01 412.4,334.19 412.9,334.38 413.4,334.61 413.9,334.88 414.4,335.17 414.9,335.49 415.4,335.83 415.9,336.18 416.4,336.54 416.9,336.9 417.4,337.27 417.9,337.62 418.4,337.97 418.9,338.3 419.4,338.65 419.9,339 420.4,339.37 420.9,339.74 421.4,340.1 421.9,340.46 422.4,340.81 422.9,341.14 423.4,341.45 423.9,341.74 424.4,342 424.9,342.24 425.4,342.46 425.9,342.66 426.4,342.86 426.9,343.04 427.4,343.22 427.9,343.39 428.4,343.56 428.9,343.72 429.4,343.89 429.9,344.06 430.4,344.24 430.9,344.42 431.4,344.61 431.9,344.81 432.4,345.03 432.9,345.25 433.4,345.48 433.9,345.72 434.4,345.96 434.9,346.2 435.4,346.45 435.9,346.7 436.4,346.96 436.9,347.22 437.4,347.49 437.9,347.76 438.4,348.03 438.9,348.3 439.4,348.57 439.9,348.83 440.4,349.1 440.9,349.36 441.4,349.63 441.9,349.91 442.4,350.2 442.9,350.5 443.4,350.83 443.9,351.18 444.4,351.56 444.9,351.97 445.4,352.46 445.9,353.01 446.4,353.62 446.9,354.27 447.4,354.95 447.9,355.64 448.4,356.33 448.9,357.02 449.4,357.67 449.9,358.31 450.4,358.96 450.9,359.63 451.4,360.3 451.9,360.97 452.4,361.64 452.9,362.3 453.4,362.95 453.9,363.58 454.4,364.18 454.9,364.76 455.4,365.31 455.9,365.83 456.4,366.35 456.9,366.86 457.4,367.36 457.9,367.85 458.4,368.32 458.9,368.78 459.4,369.23 459.9,369.67 460.4,370.09 460.9,370.49 461.4,370.88 461.9,371.26 462.1,371.4" fill="none" stroke="#ee1420" stroke-width="1.3" stroke-dasharray="3 2.6" stroke-linejoin="round" clip-path="url(#iclip_d)"/><polyline points="361.4,396.7 361.9,396.09 362.4,395.48 362.9,394.88 363.4,394.28 363.9,393.69 364.4,393.1 364.9,392.52 365.4,391.95 365.9,391.38 366.4,390.82 366.9,390.27 367.4,389.72 367.9,389.19 368.4,388.67 368.9,388.17 369.4,387.68 369.9,387.21 370.4,386.74 370.9,386.28 371.4,385.82 371.9,385.35 372.4,384.88 372.9,384.4 373.4,383.9 373.9,383.39 374.4,382.85 374.9,382.29 375.4,381.7 375.9,381.07 376.4,380.39 376.9,379.66 377.4,378.91 377.9,378.13 378.4,377.34 378.9,376.54 379.4,375.74 379.9,374.95 380.4,374.18 380.9,373.43 381.4,372.72 381.9,372.01 382.4,371.31 382.9,370.62 383.4,369.93 383.9,369.24 384.4,368.57 384.9,367.9 385.4,367.24 385.9,366.59 386.4,365.95 386.9,365.32 387.4,364.71 387.9,364.12 388.4,363.55 388.9,362.99 389.4,362.44 389.9,361.89 390.4,361.34 390.9,360.78 391.4,360.21 391.9,359.62 392.4,359.01 392.9,358.37 393.4,357.69 393.9,356.96 394.4,356.2 394.9,355.42 395.4,354.63 395.9,353.84 396.4,353.05 396.9,352.28 397.4,351.53 397.9,350.83 398.4,350.17 398.9,349.56 399.4,348.98 399.9,348.4 400.4,347.84 400.9,347.29 401.4,346.76 401.9,346.26 402.4,345.77 402.9,345.3 403.4,344.87 403.9,344.45 404.4,344.07 404.9,343.73 405.4,343.42 405.9,343.15 406.4,342.89 406.9,342.65 407.4,342.41 407.9,342.17 408.4,341.9 408.9,341.62 409.4,341.29 409.9,340.92 410.4,340.46 410.9,339.9 411.4,339.27 411.9,338.6 412.4,337.91 412.9,337.23 413.4,336.57 413.9,335.98 414.4,335.46 414.9,335.04 415.4,334.64 415.9,334.24 416.4,333.85 416.9,333.49 417.4,333.16 417.9,332.87 418.4,332.62 418.9,332.44 419.4,332.32 419.9,332.25 420.4,332.19 420.9,332.15 421.4,332.11 421.9,332.08 422.4,332.05 422.9,332.03 423.4,332 423.9,331.98 424.4,331.95 424.9,331.92 425.4,331.88 425.9,331.84 426.4,331.79 426.9,331.71 427.4,331.61 427.9,331.48 428.4,331.35 428.9,331.21 429.4,331.06 429.9,330.93 430.4,330.81 430.9,330.71 431.4,330.64 431.9,330.6 432.4,330.6 432.9,330.62 433.4,330.66 433.9,330.72 434.4,330.78 434.9,330.86 435.4,330.94 435.9,331.03 436.4,331.12 436.9,331.22 437.4,331.31 437.9,331.4 438.4,331.49 438.9,331.58 439.4,331.67 439.9,331.77 440.4,331.88 440.9,331.99 441.4,332.11 441.9,332.24 442.4,332.38 442.9,332.53 443.4,332.7 443.9,332.87 444.4,333.09 444.9,333.34 445.4,333.62 445.9,333.93 446.4,334.27 446.9,334.64 447.4,335.04 447.9,335.47 448.4,335.99 448.9,336.59 449.4,337.25 449.9,337.94 450.4,338.64 450.9,339.32 451.4,339.98 451.9,340.59 452.4,341.21 452.9,341.83 453.4,342.45 453.9,343.06 454.4,343.67 454.9,344.27 455.4,344.86 455.9,345.44 456.4,346.01 456.9,346.57 457.4,347.13 457.9,347.67 458.4,348.21 458.9,348.75 459.4,349.28 459.9,349.8 460.4,350.31 460.9,350.82 461.4,351.32 461.9,351.81 462.1,352" fill="none" stroke="#16a616" stroke-width="1.3" stroke-linejoin="round" clip-path="url(#iclip_d)"/><polyline points="361.4,390.9 361.9,390.21 362.4,389.53 362.9,388.86 363.4,388.19 363.9,387.52 364.4,386.86 364.9,386.21 365.4,385.57 365.9,384.93 366.4,384.3 366.9,383.68 367.4,383.07 367.9,382.46 368.4,381.87 368.9,381.3 369.4,380.74 369.9,380.2 370.4,379.66 370.9,379.13 371.4,378.6 371.9,378.06 372.4,377.53 372.9,376.98 373.4,376.42 373.9,375.84 374.4,375.25 374.9,374.64 375.4,374 375.9,373.33 376.4,372.61 376.9,371.87 377.4,371.1 377.9,370.32 378.4,369.52 378.9,368.72 379.4,367.93 379.9,367.14 380.4,366.37 380.9,365.63 381.4,364.92 381.9,364.22 382.4,363.52 382.9,362.84 383.4,362.16 383.9,361.49 384.4,360.83 384.9,360.17 385.4,359.53 385.9,358.89 386.4,358.25 386.9,357.62 387.4,357 387.9,356.39 388.4,355.77 388.9,355.17 389.4,354.57 389.9,353.97 390.4,353.39 390.9,352.81 391.4,352.24 391.9,351.68 392.4,351.13 392.9,350.59 393.4,350.06 393.9,349.52 394.4,349 394.9,348.47 395.4,347.96 395.9,347.45 396.4,346.96 396.9,346.48 397.4,346.01 397.9,345.57 398.4,345.14 398.9,344.74 399.4,344.36 399.9,344 400.4,343.65 400.9,343.31 401.4,342.98 401.9,342.66 402.4,342.34 402.9,342.03 403.4,341.71 403.9,341.39 404.4,341.07 404.9,340.73 405.4,340.37 405.9,340 406.4,339.62 406.9,339.24 407.4,338.86 407.9,338.49 408.4,338.14 408.9,337.82 409.4,337.52 409.9,337.26 410.4,337.04 410.9,336.87 411.4,336.71 411.9,336.56 412.4,336.41 412.9,336.28 413.4,336.15 413.9,336.03 414.4,335.93 414.9,335.84 415.4,335.77 415.9,335.73 416.4,335.7 416.9,335.7 417.4,335.7 417.9,335.7 418.4,335.7 418.9,335.7 419.4,335.7 419.9,335.7 420.4,335.7 420.9,335.7 421.4,335.7 421.9,335.7 422.4,335.7 422.9,335.7 423.4,335.7 423.9,335.7 424.4,335.7 424.9,335.7 425.4,335.71 425.9,335.72 426.4,335.74 426.9,335.77 427.4,335.79 427.9,335.82 428.4,335.86 428.9,335.9 429.4,335.94 429.9,335.98 430.4,336.03 430.9,336.08 431.4,336.13 431.9,336.18 432.4,336.24 432.9,336.31 433.4,336.4 433.9,336.51 434.4,336.63 434.9,336.76 435.4,336.9 435.9,337.06 436.4,337.22 436.9,337.39 437.4,337.56 437.9,337.74 438.4,337.92 438.9,338.1 439.4,338.29 439.9,338.48 440.4,338.68 440.9,338.9 441.4,339.13 441.9,339.37 442.4,339.62 442.9,339.89 443.4,340.18 443.9,340.48 444.4,340.8 444.9,341.14 445.4,341.53 445.9,341.97 446.4,342.44 446.9,342.95 447.4,343.49 447.9,344.05 448.4,344.63 448.9,345.21 449.4,345.78 449.9,346.38 450.4,347.01 450.9,347.68 451.4,348.37 451.9,349.08 452.4,349.8 452.9,350.51 453.4,351.21 453.9,351.89 454.4,352.54 454.9,353.15 455.4,353.71 455.9,354.25 456.4,354.77 456.9,355.29 457.4,355.79 457.9,356.28 458.4,356.76 458.9,357.22 459.4,357.67 459.9,358.1 460.4,358.52 460.9,358.92 461.4,359.3 461.9,359.66 462.1,359.8" fill="none" stroke="#16a616" stroke-width="1.3" stroke-dasharray="3 2.6" stroke-linejoin="round" clip-path="url(#iclip_d)"/><rect x="361.1" y="322.1" width="100.9" height="80.7" fill="none" stroke="#333" stroke-width="1.15"/><line x1="381.28" y1="402.8" x2="381.28" y2="400.2" stroke="#111" stroke-width="1.1"/><line x1="381.28" y1="322.1" x2="381.28" y2="324.7" stroke="#111" stroke-width="1.1"/><text x="381.28" y="408.6" class="itk" text-anchor="middle">1670</text><line x1="401.46" y1="402.8" x2="401.46" y2="400.2" stroke="#111" stroke-width="1.1"/><line x1="401.46" y1="322.1" x2="401.46" y2="324.7" stroke="#111" stroke-width="1.1"/><text x="401.46" y="408.6" class="itk" text-anchor="middle">1660</text><line x1="421.64" y1="402.8" x2="421.64" y2="400.2" stroke="#111" stroke-width="1.1"/><line x1="421.64" y1="322.1" x2="421.64" y2="324.7" stroke="#111" stroke-width="1.1"/><text x="421.64" y="408.6" class="itk" text-anchor="middle">1650</text><line x1="441.82" y1="402.8" x2="441.82" y2="400.2" stroke="#111" stroke-width="1.1"/><line x1="441.82" y1="322.1" x2="441.82" y2="324.7" stroke="#111" stroke-width="1.1"/><text x="441.82" y="408.6" class="itk" text-anchor="middle">1640</text><text x="395.75" y="319.7" class="ittl" textLength="32" lengthAdjust="spacingAndGlyphs">Amide I</text></g><g><rect x="32" y="513.9" width="252.3" height="201.95" fill="none" stroke="#333" stroke-width="1.3"/><line x1="45.64" y1="715.85" x2="45.64" y2="713.35" stroke="#333" stroke-width="0.6"/><line x1="45.64" y1="513.9" x2="45.64" y2="516.4" stroke="#333" stroke-width="0.6"/><text x="45.64" y="724.95" class="tk" text-anchor="middle">1850</text><line x1="79.73" y1="715.85" x2="79.73" y2="713.35" stroke="#333" stroke-width="0.6"/><line x1="79.73" y1="513.9" x2="79.73" y2="516.4" stroke="#333" stroke-width="0.6"/><text x="79.73" y="724.95" class="tk" text-anchor="middle">1800</text><line x1="113.83" y1="715.85" x2="113.83" y2="713.35" stroke="#333" stroke-width="0.6"/><line x1="113.83" y1="513.9" x2="113.83" y2="516.4" stroke="#333" stroke-width="0.6"/><text x="113.83" y="724.95" class="tk" text-anchor="middle">1750</text><line x1="147.92" y1="715.85" x2="147.92" y2="713.35" stroke="#333" stroke-width="0.6"/><line x1="147.92" y1="513.9" x2="147.92" y2="516.4" stroke="#333" stroke-width="0.6"/><text x="147.92" y="724.95" class="tk" text-anchor="middle">1700</text><line x1="182.02" y1="715.85" x2="182.02" y2="713.35" stroke="#333" stroke-width="0.6"/><line x1="182.02" y1="513.9" x2="182.02" y2="516.4" stroke="#333" stroke-width="0.6"/><text x="182.02" y="724.95" class="tk" text-anchor="middle">1650</text><line x1="216.11" y1="715.85" x2="216.11" y2="713.35" stroke="#333" stroke-width="0.6"/><line x1="216.11" y1="513.9" x2="216.11" y2="516.4" stroke="#333" stroke-width="0.6"/><text x="216.11" y="724.95" class="tk" text-anchor="middle">1600</text><line x1="250.21" y1="715.85" x2="250.21" y2="713.35" stroke="#333" stroke-width="0.6"/><line x1="250.21" y1="513.9" x2="250.21" y2="516.4" stroke="#333" stroke-width="0.6"/><text x="250.21" y="724.95" class="tk" text-anchor="middle">1550</text><line x1="284.3" y1="715.85" x2="284.3" y2="713.35" stroke="#333" stroke-width="0.6"/><line x1="284.3" y1="513.9" x2="284.3" y2="516.4" stroke="#333" stroke-width="0.6"/><text x="284.3" y="724.95" class="tk" text-anchor="middle">1500</text><line x1="32" y1="715.85" x2="34.5" y2="715.85" stroke="#333" stroke-width="0.6"/><line x1="284.3" y1="715.85" x2="281.8" y2="715.85" stroke="#333" stroke-width="0.6"/><text x="29.7" y="717.85" class="tk" text-anchor="end">0.00</text><line x1="32" y1="690.61" x2="34.5" y2="690.61" stroke="#333" stroke-width="0.6"/><line x1="284.3" y1="690.61" x2="281.8" y2="690.61" stroke="#333" stroke-width="0.6"/><text x="29.7" y="692.61" class="tk" text-anchor="end">0.02</text><line x1="32" y1="665.36" x2="34.5" y2="665.36" stroke="#333" stroke-width="0.6"/><line x1="284.3" y1="665.36" x2="281.8" y2="665.36" stroke="#333" stroke-width="0.6"/><text x="29.7" y="667.36" class="tk" text-anchor="end">0.04</text><line x1="32" y1="640.12" x2="34.5" y2="640.12" stroke="#333" stroke-width="0.6"/><line x1="284.3" y1="640.12" x2="281.8" y2="640.12" stroke="#333" stroke-width="0.6"/><text x="29.7" y="642.12" class="tk" text-anchor="end">0.06</text><line x1="32" y1="614.88" x2="34.5" y2="614.88" stroke="#333" stroke-width="0.6"/><line x1="284.3" y1="614.88" x2="281.8" y2="614.88" stroke="#333" stroke-width="0.6"/><text x="29.7" y="616.88" class="tk" text-anchor="end">0.08</text><line x1="32" y1="589.63" x2="34.5" y2="589.63" stroke="#333" stroke-width="0.6"/><line x1="284.3" y1="589.63" x2="281.8" y2="589.63" stroke="#333" stroke-width="0.6"/><text x="29.7" y="591.63" class="tk" text-anchor="end">0.10</text><line x1="32" y1="564.39" x2="34.5" y2="564.39" stroke="#333" stroke-width="0.6"/><line x1="284.3" y1="564.39" x2="281.8" y2="564.39" stroke="#333" stroke-width="0.6"/><text x="29.7" y="566.39" class="tk" text-anchor="end">0.12</text><line x1="32" y1="539.14" x2="34.5" y2="539.14" stroke="#333" stroke-width="0.6"/><line x1="284.3" y1="539.14" x2="281.8" y2="539.14" stroke="#333" stroke-width="0.6"/><text x="29.7" y="541.14" class="tk" text-anchor="end">0.14</text><line x1="32" y1="513.9" x2="34.5" y2="513.9" stroke="#333" stroke-width="0.6"/><line x1="284.3" y1="513.9" x2="281.8" y2="513.9" stroke="#333" stroke-width="0.6"/><text x="29.7" y="515.9" class="tk" text-anchor="end">0.16</text><polyline points="32,715 32.5,715 33,715 33.5,715 34,715 34.5,715 35,715 35.5,715 36,715 36.5,715 37,715 37.5,715 38,715 38.5,715 39,715 39.5,715 40,715 40.5,715 41,715 41.5,715 42,715 42.5,715 43,715 43.5,715 44,715 44.5,715 45,715 45.5,715 46,715 46.5,715 47,715 47.5,715 48,715 48.5,715 49,715 49.5,715 50,715 50.5,715 51,715 51.5,715 52,715 52.5,715 53,715 53.5,715 54,715 54.5,715 55,715 55.5,715 56,715 56.5,715 57,715 57.5,715 58,715 58.5,715 59,715 59.5,715 60,715 60.5,715 61,715 61.5,715 62,715 62.5,715 63,715 63.5,715 64,715 64.5,714.99 65,714.99 65.5,714.99 66,714.99 66.5,714.99 67,714.99 67.5,714.98 68,714.98 68.5,714.98 69,714.98 69.5,714.98 70,714.97 70.5,714.97 71,714.97 71.5,714.97 72,714.96 72.5,714.96 73,714.96 73.5,714.96 74,714.95 74.5,714.95 75,714.95 75.5,714.95 76,714.95 76.5,714.94 77,714.94 77.5,714.94 78,714.94 78.5,714.93 79,714.93 79.5,714.93 80,714.93 80.5,714.92 81,714.92 81.5,714.92 82,714.92 82.5,714.92 83,714.91 83.5,714.91 84,714.91 84.5,714.91 85,714.91 85.5,714.91 86,714.9 86.5,714.9 87,714.9 87.5,714.9 88,714.9 88.5,714.9 89,714.9 89.5,714.9 90,714.9 90.5,714.9 91,714.9 91.5,714.9 92,714.9 92.5,714.9 93,714.9 93.5,714.9 94,714.9 94.5,714.9 95,714.9 95.5,714.9 96,714.9 96.5,714.9 97,714.9 97.5,714.9 98,714.9 98.5,714.9 99,714.9 99.5,714.88 100,714.84 100.5,714.77 101,714.67 101.5,714.55 102,714.41 102.5,714.25 103,714.08 103.5,713.89 104,713.69 104.5,713.49 105,713.25 105.5,712.94 106,712.54 106.5,712.07 107,711.54 107.5,710.95 108,710.33 108.5,709.67 109,708.98 109.5,708.25 110,707.41 110.5,706.45 111,705.42 111.5,704.32 112,703.18 112.5,702.03 113,700.82 113.5,699.46 114,698.04 114.5,696.65 115,695.38 115.5,694.3 116,693.3 116.5,692.32 117,691.43 117.5,690.69 118,690.15 118.5,689.81 119,689.52 119.5,689.26 120,689.04 120.5,688.87 121,688.75 121.5,688.7 122,688.74 122.5,688.9 123,689.16 123.5,689.48 124,689.85 124.5,690.23 125,690.6 125.5,691 126,691.45 126.5,691.96 127,692.51 127.5,693.07 128,693.65 128.5,694.22 129,694.78 129.5,695.3 130,695.8 130.5,696.31 131,696.81 131.5,697.31 132,697.8 132.5,698.28 133,698.75 133.5,699.2 134,699.69 134.5,700.24 135,700.76 135.5,701.19 136,701.45 136.5,701.5 137,701.48 137.5,701.44 138,701.39 138.5,701.32 139,701.24 139.5,701.14 140,701.01 140.5,700.73 141,700.33 141.5,699.82 142,699.22 142.5,698.55 143,697.84 143.5,697.05 144,696.04 144.5,694.84 145,693.48 145.5,691.99 146,690.39 146.5,688.7 147,686.79 147.5,684.55 148,682.1 148.5,679.54 149,676.91 149.5,674.12 150,671.19 150.5,668.14 151,665 151.5,661.71 152,658.22 152.5,654.6 153,650.92 153.5,647.25 154,643.66 154.5,640.22 155,637 155.5,634.02 156,631.2 156.5,628.5 157,625.86 157.5,623.25 158,620.6 158.5,617.86 159,614.99 159.5,611.94 160,608.73 160.5,605.43 161,602.11 161.5,598.84 162,595.68 162.5,592.66 163,589.72 163.5,586.82 164,583.91 164.5,580.95 165,577.9 165.5,574.7 166,571.29 166.5,567.77 167,564.25 167.5,560.86 168,557.56 168.5,554.24 169,551.05 169.5,548.14 170,545.64 170.5,543.34 171,541.19 171.5,539.22 172,537.43 172.5,535.86 173,534.47 173.5,533.05 174,531.67 174.5,530.43 175,529.42 175.5,528.75 176,528.5 176.5,528.61 177,528.93 177.5,529.42 178,530.04 178.5,530.75 179,531.53 179.5,532.32 180,533.1 180.5,533.94 181,534.92 181.5,536.01 182,537.18 182.5,538.41 183,539.65 183.5,540.89 184,542.1 184.5,543.25 185,544.35 185.5,545.43 186,546.51 186.5,547.62 187,548.79 187.5,550.04 188,551.39 188.5,552.87 189,554.5 189.5,556.48 190,558.86 190.5,561.49 191,564.2 191.5,566.85 192,569.54 192.5,572.3 193,575.18 193.5,578.2 194,581.39 194.5,584.74 195,588.22 195.5,591.81 196,595.55 196.5,599.95 197,604.56 197.5,608.7 198,611.7 198.5,613.2 199,614.53 199.5,616.43 200,618.7 200.5,621.21 201,623.88 201.5,626.59 202,629.23 202.5,631.71 203,633.92 203.5,636.03 204,638.12 204.5,640.18 205,642.18 205.5,644.11 206,645.96 206.5,647.69 207,649.3 207.5,650.76 208,652.08 208.5,653.37 209,654.63 209.5,655.85 210,657.03 210.5,658.15 211,659.22 211.5,660.22 212,661.15 212.5,662 213,662.77 213.5,663.43 214,664 214.5,664.48 215,664.95 215.5,665.4 216,665.84 216.5,666.27 217,666.68 217.5,667.08 218,667.45 218.5,667.8 219,668.12 219.5,668.42 220,668.68 220.5,668.91 221,669.11 221.5,669.27 222,669.39 222.5,669.47 223,669.5 223.5,669.49 224,669.44 224.5,669.36 225,669.24 225.5,669.1 226,668.92 226.5,668.72 227,668.5 227.5,668.26 228,667.99 228.5,667.71 229,667.42 229.5,667.11 230,666.79 230.5,666.46 231,666.03 231.5,665.49 232,664.85 232.5,664.13 233,663.34 233.5,662.48 234,661.57 234.5,660.63 235,659.66 235.5,658.67 236,657.67 236.5,656.68 237,655.71 237.5,654.74 238,653.74 238.5,652.71 239,651.63 239.5,650.5 240,649.29 240.5,648 241,646.61 241.5,645.11 242,643.41 242.5,641.39 243,639.12 243.5,636.7 244,634.2 244.5,631.74 245,629.33 245.5,626.69 246,623.87 246.5,621.07 247,618.45 247.5,616.19 248,614.47 248.5,613.21 249,611.99 249.5,610.83 250,609.74 250.5,608.73 251,607.82 251.5,607.03 252,606.36 252.5,605.84 253,605.49 253.5,605.32 254,605.39 254.5,605.93 255,606.84 255.5,608.04 256,609.43 256.5,610.91 257,612.37 257.5,613.71 258,614.9 258.5,616.08 259,617.27 259.5,618.47 260,619.68 260.5,620.91 261,622.14 261.5,623.39 262,624.64 262.5,625.91 263,627.19 263.5,628.48 264,629.78 264.5,631.09 265,632.41 265.5,633.73 266,635.07 266.5,636.42 267,637.78 267.5,639.15 268,640.55 268.5,641.96 269,643.38 269.5,644.83 270,646.3 270.5,647.8 271,649.31 271.5,650.83 272,652.37 272.5,653.93 273,655.52 273.5,657.15 274,658.82 274.5,660.55 275,662.34 275.5,664.2 276,666.23 276.5,668.49 277,670.88 277.5,673.33 278,675.73 278.5,678.02 279,680.11 279.5,681.9 280,683.5 280.5,685.04 281,686.53 281.5,687.94 282,689.26 282.5,690.5 283,691.63 283.5,692.64 284,693.53 284.3,694" fill="none" stroke="#1234f4" stroke-width="1.4" stroke-linejoin="round" clip-path="url(#clip_e)"/><polyline points="32,715 32.5,715 33,715 33.5,715 34,715 34.5,715 35,715 35.5,715 36,715 36.5,715 37,715 37.5,715 38,715 38.5,715 39,715 39.5,715 40,715 40.5,715 41,715 41.5,715 42,715 42.5,715 43,715 43.5,715 44,715 44.5,715 45,715 45.5,715 46,715 46.5,715 47,715 47.5,715 48,715 48.5,715 49,715 49.5,715 50,715 50.5,715 51,715 51.5,715 52,715 52.5,715 53,715 53.5,715 54,715 54.5,715 55,715 55.5,715 56,715 56.5,715 57,715 57.5,715 58,715 58.5,715 59,715 59.5,715 60,715 60.5,715 61,715 61.5,715 62,715 62.5,715 63,715 63.5,715 64,715 64.5,714.99 65,714.99 65.5,714.99 66,714.99 66.5,714.99 67,714.99 67.5,714.98 68,714.98 68.5,714.98 69,714.98 69.5,714.98 70,714.97 70.5,714.97 71,714.97 71.5,714.97 72,714.96 72.5,714.96 73,714.96 73.5,714.96 74,714.95 74.5,714.95 75,714.95 75.5,714.95 76,714.95 76.5,714.94 77,714.94 77.5,714.94 78,714.94 78.5,714.93 79,714.93 79.5,714.93 80,714.93 80.5,714.92 81,714.92 81.5,714.92 82,714.92 82.5,714.92 83,714.91 83.5,714.91 84,714.91 84.5,714.91 85,714.91 85.5,714.91 86,714.9 86.5,714.9 87,714.9 87.5,714.9 88,714.9 88.5,714.9 89,714.9 89.5,714.9 90,714.9 90.5,714.9 91,714.9 91.5,714.9 92,714.9 92.5,714.9 93,714.9 93.5,714.9 94,714.9 94.5,714.9 95,714.9 95.5,714.9 96,714.9 96.5,714.9 97,714.9 97.5,714.9 98,714.9 98.5,714.9 99,714.9 99.5,714.88 100,714.84 100.5,714.77 101,714.67 101.5,714.55 102,714.41 102.5,714.25 103,714.08 103.5,713.89 104,713.69 104.5,713.49 105,713.25 105.5,712.94 106,712.54 106.5,712.07 107,711.54 107.5,710.95 108,710.33 108.5,709.66 109,708.98 109.5,708.25 110,707.41 110.5,706.45 111,705.41 111.5,704.31 112,703.17 112.5,702.02 113,700.81 113.5,699.44 114,698.01 114.5,696.6 115,695.31 115.5,694.2 116,693.16 116.5,692.13 117,691.19 117.5,690.38 118,689.76 118.5,689.35 119,688.97 119.5,688.64 120,688.35 120.5,688.12 121,687.97 121.5,687.9 122,687.95 122.5,688.14 123,688.44 123.5,688.83 124,689.26 124.5,689.73 125,690.18 125.5,690.65 126,691.18 126.5,691.75 127,692.35 127.5,692.96 128,693.57 128.5,694.16 129,694.74 129.5,695.28 130,695.79 130.5,696.3 131,696.81 131.5,697.31 132,697.8 132.5,698.28 133,698.75 133.5,699.2 134,699.69 134.5,700.24 135,700.76 135.5,701.19 136,701.45 136.5,701.5 137,701.48 137.5,701.44 138,701.39 138.5,701.32 139,701.24 139.5,701.14 140,701.01 140.5,700.73 141,700.33 141.5,699.82 142,699.22 142.5,698.55 143,697.84 143.5,697.05 144,696.04 144.5,694.84 145,693.48 145.5,691.99 146,690.39 146.5,688.7 147,686.79 147.5,684.55 148,682.1 148.5,679.54 149,676.91 149.5,674.12 150,671.19 150.5,668.14 151,665 151.5,661.71 152,658.22 152.5,654.6 153,650.92 153.5,647.25 154,643.66 154.5,640.22 155,637 155.5,634.02 156,631.2 156.5,628.5 157,625.86 157.5,623.25 158,620.6 158.5,617.86 159,614.99 159.5,611.94 160,608.73 160.5,605.43 161,602.11 161.5,598.84 162,595.68 162.5,592.66 163,589.72 163.5,586.82 164,583.91 164.5,580.95 165,577.9 165.5,574.7 166,571.29 166.5,567.77 167,564.25 167.5,560.86 168,557.56 168.5,554.24 169,551.05 169.5,548.14 170,545.64 170.5,543.34 171,541.19 171.5,539.22 172,537.43 172.5,535.86 173,534.47 173.5,533.05 174,531.67 174.5,530.43 175,529.42 175.5,528.75 176,528.5 176.5,528.61 177,528.93 177.5,529.42 178,530.04 178.5,530.75 179,531.53 179.5,532.32 180,533.1 180.5,533.94 181,534.92 181.5,536.01 182,537.18 182.5,538.41 183,539.65 183.5,540.89 184,542.1 184.5,543.25 185,544.35 185.5,545.43 186,546.51 186.5,547.62 187,548.79 187.5,550.04 188,551.39 188.5,552.87 189,554.5 189.5,556.48 190,558.86 190.5,561.49 191,564.2 191.5,566.85 192,569.54 192.5,572.3 193,575.18 193.5,578.2 194,581.39 194.5,584.74 195,588.22 195.5,591.81 196,595.55 196.5,599.95 197,604.56 197.5,608.7 198,611.7 198.5,613.2 199,614.53 199.5,616.43 200,618.7 200.5,621.21 201,623.88 201.5,626.59 202,629.23 202.5,631.71 203,633.92 203.5,636.03 204,638.12 204.5,640.18 205,642.18 205.5,644.11 206,645.96 206.5,647.69 207,649.3 207.5,650.76 208,652.08 208.5,653.37 209,654.63 209.5,655.85 210,657.03 210.5,658.15 211,659.22 211.5,660.22 212,661.15 212.5,662 213,662.77 213.5,663.43 214,664 214.5,664.48 215,664.95 215.5,665.4 216,665.84 216.5,666.27 217,666.68 217.5,667.08 218,667.45 218.5,667.8 219,668.12 219.5,668.42 220,668.68 220.5,668.91 221,669.11 221.5,669.27 222,669.39 222.5,669.47 223,669.5 223.5,669.49 224,669.44 224.5,669.36 225,669.24 225.5,669.1 226,668.92 226.5,668.72 227,668.5 227.5,668.26 228,667.99 228.5,667.71 229,667.42 229.5,667.11 230,666.79 230.5,666.46 231,666.03 231.5,665.49 232,664.85 232.5,664.13 233,663.34 233.5,662.48 234,661.57 234.5,660.63 235,659.66 235.5,658.67 236,657.67 236.5,656.68 237,655.71 237.5,654.74 238,653.74 238.5,652.71 239,651.63 239.5,650.5 240,649.29 240.5,648 241,646.61 241.5,645.11 242,643.41 242.5,641.39 243,639.12 243.5,636.7 244,634.2 244.5,631.74 245,629.33 245.5,626.69 246,623.87 246.5,621.07 247,618.45 247.5,616.19 248,614.47 248.5,613.21 249,611.99 249.5,610.83 250,609.74 250.5,608.73 251,607.82 251.5,607.03 252,606.36 252.5,605.84 253,605.49 253.5,605.32 254,605.39 254.5,605.93 255,606.84 255.5,608.04 256,609.43 256.5,610.91 257,612.37 257.5,613.71 258,614.9 258.5,616.08 259,617.27 259.5,618.47 260,619.68 260.5,620.91 261,622.14 261.5,623.39 262,624.64 262.5,625.91 263,627.19 263.5,628.48 264,629.78 264.5,631.09 265,632.41 265.5,633.73 266,635.07 266.5,636.42 267,637.78 267.5,639.15 268,640.55 268.5,641.96 269,643.38 269.5,644.83 270,646.3 270.5,647.8 271,649.31 271.5,650.83 272,652.37 272.5,653.93 273,655.52 273.5,657.15 274,658.82 274.5,660.55 275,662.34 275.5,664.2 276,666.23 276.5,668.49 277,670.88 277.5,673.33 278,675.73 278.5,678.02 279,680.11 279.5,681.9 280,683.5 280.5,685.04 281,686.53 281.5,687.94 282,689.26 282.5,690.5 283,691.63 283.5,692.64 284,693.53 284.3,694" fill="none" stroke="#ee1420" stroke-width="1.4" stroke-dasharray="3 2.6" stroke-linejoin="round" clip-path="url(#clip_e)"/><polyline points="32,715 32.5,715 33,715 33.5,715 34,715 34.5,715 35,715 35.5,715 36,715 36.5,715 37,715 37.5,715 38,715 38.5,715 39,715 39.5,715 40,715 40.5,715 41,715 41.5,715 42,715 42.5,715 43,715 43.5,715 44,715 44.5,715 45,715 45.5,715 46,715 46.5,715 47,715 47.5,715 48,715 48.5,715 49,715 49.5,715 50,715 50.5,715 51,715 51.5,715 52,715 52.5,715 53,715 53.5,715 54,715 54.5,715 55,715 55.5,715 56,715 56.5,715 57,715 57.5,715 58,715 58.5,715 59,715 59.5,715 60,715 60.5,715 61,715 61.5,715 62,715 62.5,715 63,715 63.5,715 64,715 64.5,714.99 65,714.99 65.5,714.99 66,714.99 66.5,714.99 67,714.99 67.5,714.98 68,714.98 68.5,714.98 69,714.98 69.5,714.98 70,714.97 70.5,714.97 71,714.97 71.5,714.97 72,714.96 72.5,714.96 73,714.96 73.5,714.96 74,714.95 74.5,714.95 75,714.95 75.5,714.95 76,714.95 76.5,714.94 77,714.94 77.5,714.94 78,714.94 78.5,714.93 79,714.93 79.5,714.93 80,714.93 80.5,714.92 81,714.92 81.5,714.92 82,714.92 82.5,714.92 83,714.91 83.5,714.91 84,714.91 84.5,714.91 85,714.91 85.5,714.91 86,714.9 86.5,714.9 87,714.9 87.5,714.9 88,714.9 88.5,714.9 89,714.9 89.5,714.9 90,714.9 90.5,714.9 91,714.9 91.5,714.9 92,714.9 92.5,714.9 93,714.9 93.5,714.9 94,714.9 94.5,714.9 95,714.9 95.5,714.9 96,714.9 96.5,714.9 97,714.9 97.5,714.9 98,714.9 98.5,714.9 99,714.9 99.5,714.88 100,714.84 100.5,714.77 101,714.67 101.5,714.55 102,714.41 102.5,714.25 103,714.08 103.5,713.89 104,713.69 104.5,713.49 105,713.25 105.5,712.94 106,712.54 106.5,712.07 107,711.54 107.5,710.95 108,710.33 108.5,709.66 109,708.98 109.5,708.25 110,707.4 110.5,706.44 111,705.39 111.5,704.28 112,703.12 112.5,701.94 113,700.7 113.5,699.29 114,697.81 114.5,696.33 115,694.95 115.5,693.75 116,692.6 116.5,691.46 117,690.38 117.5,689.43 118,688.67 118.5,688.13 119,687.63 119.5,687.17 120,686.79 120.5,686.49 121,686.29 121.5,686.2 122,686.26 122.5,686.48 123,686.85 123.5,687.32 124,687.87 124.5,688.45 125,689.04 125.5,689.65 126,690.32 126.5,691.02 127,691.74 127.5,692.46 128,693.17 128.5,693.85 129,694.49 129.5,695.07 130,695.62 130.5,696.15 131,696.66 131.5,697.15 132,697.63 132.5,698.08 133,698.52 133.5,698.93 134,699.39 134.5,699.9 135,700.39 135.5,700.8 136,701.05 136.5,701.1 137,701.09 137.5,701.07 138,701.05 138.5,701.01 139,700.97 139.5,700.91 140,700.82 140.5,700.58 141,700.21 141.5,699.73 142,699.15 142.5,698.51 143,697.81 143.5,697.02 144,696.02 144.5,694.83 145,693.48 145.5,691.99 146,690.38 146.5,688.7 147,686.79 147.5,684.55 148,682.1 148.5,679.54 149,676.91 149.5,674.12 150,671.19 150.5,668.14 151,665 151.5,661.71 152,658.22 152.5,654.6 153,650.92 153.5,647.25 154,643.66 154.5,640.22 155,637 155.5,634.02 156,631.2 156.5,628.5 157,625.86 157.5,623.25 158,620.6 158.5,617.86 159,614.99 159.5,611.94 160,608.73 160.5,605.43 161,602.11 161.5,598.84 162,595.68 162.5,592.66 163,589.72 163.5,586.82 164,583.91 164.5,580.95 165,577.9 165.5,574.66 166,570.98 166.5,567.15 167,563.57 167.5,560.67 168,558.63 168.5,557.03 169,555.52 169.5,553.74 170,551.61 170.5,549.31 171,547.05 171.5,545.03 172,543.45 172.5,542.27 173,541.13 173.5,540.04 174,539.03 174.5,538.13 175,537.37 175.5,536.78 176,536.38 176.5,536.21 177,536.26 177.5,536.47 178,536.81 178.5,537.26 179,537.8 179.5,538.4 180,539.03 180.5,539.66 181,540.28 181.5,540.89 182,541.56 182.5,542.29 183,543.06 183.5,543.88 184,544.74 184.5,545.64 185,546.56 185.5,547.51 186,548.49 186.5,549.53 187,550.62 187.5,551.78 188,552.99 188.5,554.26 189,555.6 189.5,557.03 190,558.57 190.5,560.2 191,561.9 191.5,563.66 192,565.45 192.5,567.26 193,569.09 193.5,570.94 194,572.85 194.5,574.84 195,576.92 195.5,579.11 196,581.46 196.5,584.06 197,586.85 197.5,589.78 198,592.76 198.5,595.72 199,598.68 199.5,601.76 200,604.87 200.5,607.93 201,610.85 201.5,613.57 202,616.25 202.5,618.91 203,621.53 203.5,624.08 204,626.54 204.5,628.87 205,631.05 205.5,633.06 206,634.87 206.5,636.5 207,638.05 207.5,639.52 208,640.93 208.5,642.27 209,643.55 209.5,644.77 210,645.93 210.5,647.05 211,648.13 211.5,649.16 212,650.15 212.5,651.11 213,652.05 213.5,652.98 214,653.89 214.5,654.78 215,655.64 215.5,656.48 216,657.27 216.5,658.03 217,658.74 217.5,659.39 218,659.99 218.5,660.53 219,661 219.5,661.44 220,661.87 220.5,662.31 221,662.72 221.5,663.11 222,663.47 222.5,663.79 223,664.06 223.5,664.27 224,664.42 224.5,664.49 225,664.5 225.5,664.47 226,664.43 226.5,664.36 227,664.28 227.5,664.19 228,664.07 228.5,663.95 229,663.81 229.5,663.66 230,663.5 230.5,663.32 231,663.04 231.5,662.65 232,662.16 232.5,661.57 233,660.91 233.5,660.18 234,659.39 234.5,658.56 235,657.7 235.5,656.82 236,655.92 236.5,655.03 237,654.15 237.5,653.22 238,652.25 238.5,651.21 239,650.12 239.5,648.95 240,647.71 240.5,646.39 241,645 241.5,643.51 242,641.86 242.5,639.93 243,637.78 243.5,635.48 244,633.08 244.5,630.65 245,628.25 245.5,625.94 246,623.65 246.5,621.17 247,618.64 247.5,616.19 248,613.97 248.5,612.12 249,610.77 249.5,609.62 250,608.5 250.5,607.45 251,606.48 251.5,605.62 252,604.89 252.5,604.32 253,603.92 253.5,603.72 254,603.8 254.5,604.34 255,605.27 255.5,606.49 256,607.89 256.5,609.37 257,610.82 257.5,612.13 258,613.27 258.5,614.37 259,615.47 259.5,616.56 260,617.66 260.5,618.75 261,619.85 261.5,620.95 262,622.06 262.5,623.18 263,624.32 263.5,625.46 264,626.63 264.5,627.81 265,629 265.5,630.19 266,631.39 266.5,632.6 267,633.82 267.5,635.06 268,636.31 268.5,637.59 269,638.88 269.5,640.2 270,641.55 270.5,642.92 271,644.31 271.5,645.68 272,647.06 272.5,648.45 273,649.87 273.5,651.33 274,652.85 274.5,654.44 275,656.12 275.5,657.9 276,659.8 276.5,661.87 277,664.47 277.5,667.51 278,670.8 278.5,674.13 279,677.32 279.5,680.16 280,682.46 280.5,684.09 281,685.55 281.5,686.94 282,688.23 282.5,689.36 283,690.31 283.5,691.02 284,691.47 284.3,691.6" fill="none" stroke="#16a616" stroke-width="1.4" stroke-linejoin="round" clip-path="url(#clip_e)"/><polyline points="32,715 32.5,715 33,715 33.5,715 34,715 34.5,715 35,715 35.5,715 36,715 36.5,715 37,715 37.5,715 38,715 38.5,715 39,715 39.5,715 40,715 40.5,715 41,715 41.5,715 42,715 42.5,715 43,715 43.5,715 44,715 44.5,715 45,715 45.5,715 46,715 46.5,715 47,715 47.5,715 48,715 48.5,715 49,715 49.5,715 50,715 50.5,715 51,715 51.5,715 52,715 52.5,715 53,715 53.5,715 54,715 54.5,715 55,715 55.5,715 56,715 56.5,715 57,715 57.5,715 58,715 58.5,715 59,715 59.5,715 60,715 60.5,715 61,715 61.5,715 62,715 62.5,715 63,715 63.5,715 64,715 64.5,714.99 65,714.99 65.5,714.99 66,714.99 66.5,714.99 67,714.99 67.5,714.98 68,714.98 68.5,714.98 69,714.98 69.5,714.98 70,714.97 70.5,714.97 71,714.97 71.5,714.97 72,714.96 72.5,714.96 73,714.96 73.5,714.96 74,714.95 74.5,714.95 75,714.95 75.5,714.95 76,714.95 76.5,714.94 77,714.94 77.5,714.94 78,714.94 78.5,714.93 79,714.93 79.5,714.93 80,714.93 80.5,714.92 81,714.92 81.5,714.92 82,714.92 82.5,714.92 83,714.91 83.5,714.91 84,714.91 84.5,714.91 85,714.91 85.5,714.91 86,714.9 86.5,714.9 87,714.9 87.5,714.9 88,714.9 88.5,714.9 89,714.9 89.5,714.9 90,714.9 90.5,714.9 91,714.9 91.5,714.9 92,714.9 92.5,714.9 93,714.9 93.5,714.9 94,714.9 94.5,714.9 95,714.9 95.5,714.9 96,714.9 96.5,714.9 97,714.9 97.5,714.9 98,714.9 98.5,714.9 99,714.9 99.5,714.88 100,714.84 100.5,714.77 101,714.67 101.5,714.55 102,714.41 102.5,714.25 103,714.08 103.5,713.89 104,713.69 104.5,713.49 105,713.25 105.5,712.94 106,712.54 106.5,712.07 107,711.54 107.5,710.95 108,710.33 108.5,709.66 109,708.98 109.5,708.25 110,707.41 110.5,706.45 111,705.41 111.5,704.31 112,703.17 112.5,702.01 113,700.79 113.5,699.42 114,697.98 114.5,696.56 115,695.24 115.5,694.11 116,693.03 116.5,691.97 117,690.97 117.5,690.1 118,689.42 118.5,688.93 119,688.49 119.5,688.09 120,687.74 120.5,687.47 121,687.28 121.5,687.2 122,687.26 122.5,687.47 123,687.81 123.5,688.25 124,688.76 124.5,689.29 125,689.81 125.5,690.35 126,690.94 126.5,691.57 127,692.21 127.5,692.86 128,693.49 128.5,694.11 129,694.7 129.5,695.25 130,695.78 130.5,696.29 131,696.8 131.5,697.3 132,697.8 132.5,698.28 133,698.75 133.5,699.2 134,699.69 134.5,700.24 135,700.76 135.5,701.19 136,701.45 136.5,701.5 137,701.48 137.5,701.44 138,701.39 138.5,701.32 139,701.24 139.5,701.14 140,701.01 140.5,700.73 141,700.33 141.5,699.82 142,699.22 142.5,698.55 143,697.84 143.5,697.05 144,696.04 144.5,694.84 145,693.48 145.5,691.99 146,690.39 146.5,688.7 147,686.79 147.5,684.55 148,682.1 148.5,679.54 149,676.91 149.5,674.12 150,671.19 150.5,668.14 151,665 151.5,661.71 152,658.22 152.5,654.6 153,650.92 153.5,647.25 154,643.66 154.5,640.22 155,637 155.5,634.02 156,631.2 156.5,628.5 157,625.86 157.5,623.25 158,620.6 158.5,617.86 159,614.99 159.5,611.94 160,608.73 160.5,605.43 161,602.11 161.5,598.84 162,595.68 162.5,592.66 163,589.72 163.5,586.82 164,583.91 164.5,580.95 165,577.9 165.5,574.71 166,571.43 166.5,568.05 167,564.55 167.5,560.94 168,557.04 168.5,552.83 169,548.76 169.5,545.26 170,541.97 170.5,538.82 171,535.92 171.5,533.34 172,531.18 172.5,529.33 173,527.48 173.5,525.7 174,524.07 174.5,522.67 175,521.57 175.5,520.86 176,520.6 176.5,520.75 177,521.17 177.5,521.81 178,522.65 178.5,523.64 179,524.73 179.5,525.9 180,527.09 180.5,528.27 181,529.51 181.5,530.97 182,532.61 182.5,534.37 183,536.2 183.5,538.03 184,539.8 184.5,541.52 185,543.22 185.5,544.92 186,546.63 186.5,548.37 187,550.14 187.5,551.97 188,553.86 188.5,555.84 189,557.9 189.5,560.08 190,562.4 190.5,564.82 191,567.34 191.5,569.95 192,572.62 192.5,575.35 193,578.11 193.5,580.93 194,583.88 194.5,587.01 195,590.38 195.5,594.39 196,599.92 196.5,605.7 197,610.25 197.5,612.1 198,612.1 198.5,612.83 199,614.53 199.5,616.43 200,618.7 200.5,621.21 201,623.88 201.5,626.59 202,629.23 202.5,631.71 203,633.92 203.5,636.03 204,638.12 204.5,640.18 205,642.18 205.5,644.11 206,645.96 206.5,647.69 207,649.3 207.5,650.76 208,652.08 208.5,653.37 209,654.63 209.5,655.85 210,657.03 210.5,658.15 211,659.22 211.5,660.22 212,661.15 212.5,662 213,662.77 213.5,663.43 214,664 214.5,664.48 215,664.95 215.5,665.4 216,665.84 216.5,666.27 217,666.68 217.5,667.08 218,667.45 218.5,667.8 219,668.12 219.5,668.42 220,668.68 220.5,668.91 221,669.11 221.5,669.27 222,669.39 222.5,669.47 223,669.5 223.5,669.49 224,669.44 224.5,669.36 225,669.24 225.5,669.1 226,668.92 226.5,668.72 227,668.5 227.5,668.26 228,667.99 228.5,667.71 229,667.42 229.5,667.11 230,666.79 230.5,666.46 231,666.03 231.5,665.49 232,664.85 232.5,664.13 233,663.34 233.5,662.48 234,661.57 234.5,660.63 235,659.65 235.5,658.66 236,657.67 236.5,656.68 237,655.7 237.5,654.72 238,653.72 238.5,652.68 239,651.59 239.5,650.43 240,649.19 240.5,647.86 241,646.42 241.5,644.85 242,643.05 242.5,640.9 243,638.47 243.5,635.84 244,633.1 244.5,630.33 245,627.56 245.5,624.48 246,621.17 246.5,617.79 247,614.53 247.5,611.56 248,609.06 248.5,606.99 249,604.93 249.5,602.91 250,600.96 250.5,599.14 251,597.47 251.5,595.99 252,594.76 252.5,593.8 253,593.15 253.5,592.83 254,592.92 254.5,593.63 255,594.88 255.5,596.55 256,598.53 256.5,600.7 257,602.93 257.5,605.11 258,607.15 258.5,609.19 259,611.22 259.5,613.23 260,615.2 260.5,617.12 261,618.98 261.5,620.79 262,622.53 262.5,624.22 263,625.85 263.5,627.43 264,628.97 264.5,630.47 265,631.94 265.5,633.39 266,634.82 266.5,636.24 267,637.65 267.5,639.06 268,640.48 268.5,641.91 269,643.35 269.5,644.81 270,646.29 270.5,647.79 271,649.31 271.5,650.83 272,652.37 272.5,653.93 273,655.52 273.5,657.15 274,658.82 274.5,660.55 275,662.34 275.5,664.2 276,666.23 276.5,668.49 277,670.88 277.5,673.33 278,675.73 278.5,678.02 279,680.11 279.5,681.9 280,683.5 280.5,685.04 281,686.53 281.5,687.94 282,689.26 282.5,690.5 283,691.63 283.5,692.64 284,693.53 284.3,694" fill="none" stroke="#16a616" stroke-width="1.4" stroke-dasharray="3 2.6" stroke-linejoin="round" clip-path="url(#clip_e)"/><text x="147.4" y="510.3" class="ttl" textLength="25.8" lengthAdjust="spacingAndGlyphs">STR_E</text><text transform="translate(8.8,614.88) rotate(-90)" class="ylab" text-anchor="middle">Absorbance</text><text x="116.2" y="737.05" class="xlab" textLength="54.6" lengthAdjust="spacingAndGlyphs">Wavenumber</text><text x="174.1" y="737.65" class="ubr">[</text><text x="176.7" y="737.05" class="ucm">cm</text><text x="189.3" y="733.35" class="usup">&#8722;1</text><text x="199.2" y="737.65" class="ubr">]</text><text x="154" y="751.95" class="cap" text-anchor="middle">(e)</text><line x1="236.9" y1="523.25" x2="249.5" y2="523.25" stroke="#1234f4" stroke-width="1.3"/><text x="258.2" y="525.95" class="leg">MCR</text><line x1="237" y1="533.85" x2="240.5" y2="533.85" stroke="#ee1420" stroke-width="1.3"/><line x1="243" y1="533.85" x2="246.2" y2="533.85" stroke="#ee1420" stroke-width="1.3"/><text x="258.2" y="536.55" class="leg">MCL</text><line x1="236.9" y1="544.45" x2="249.5" y2="544.45" stroke="#16a616" stroke-width="1.3"/><text x="258.2" y="547.15" class="leg">CR</text><line x1="237" y1="555.05" x2="240.5" y2="555.05" stroke="#16a616" stroke-width="1.3"/><line x1="243" y1="555.05" x2="246.2" y2="555.05" stroke="#16a616" stroke-width="1.3"/><text x="258.2" y="557.75" class="leg">CL</text><rect x="35.6" y="574.5" width="100.9" height="80.7" fill="#fff" stroke="none"/><polyline points="35.6,654.1 36.1,653.17 36.6,652.25 37.1,651.34 37.6,650.44 38.1,649.54 38.6,648.66 39.1,647.78 39.6,646.92 40.1,646.06 40.6,645.22 41.1,644.38 41.6,643.56 42.1,642.76 42.6,641.99 43.1,641.24 43.6,640.51 44.1,639.8 44.6,639.09 45.1,638.39 45.6,637.69 46.1,636.99 46.6,636.27 47.1,635.53 47.6,634.78 48.1,634 48.6,633.18 49.1,632.33 49.6,631.44 50.1,630.5 50.6,629.51 51.1,628.48 51.6,627.42 52.1,626.33 52.6,625.22 53.1,624.08 53.6,622.93 54.1,621.77 54.6,620.6 55.1,619.43 55.6,618.24 56.1,616.96 56.6,615.64 57.1,614.31 57.6,612.99 58.1,611.73 58.6,610.55 59.1,609.5 59.6,608.55 60.1,607.64 60.6,606.78 61.1,605.96 61.6,605.18 62.1,604.41 62.6,603.67 63.1,602.95 63.6,602.23 64.1,601.51 64.6,600.81 65.1,600.11 65.6,599.43 66.1,598.75 66.6,598.09 67.1,597.44 67.6,596.8 68.1,596.17 68.6,595.55 69.1,594.95 69.6,594.36 70.1,593.78 70.6,593.21 71.1,592.64 71.6,592.04 72.1,591.42 72.6,590.8 73.1,590.21 73.6,589.66 74.1,589.16 74.6,588.74 75.1,588.41 75.6,588.2 76.1,588.05 76.6,587.92 77.1,587.79 77.6,587.69 78.1,587.6 78.6,587.54 79.1,587.51 79.6,587.5 80.1,587.54 80.6,587.61 81.1,587.71 81.6,587.84 82.1,588 82.6,588.17 83.1,588.36 83.6,588.55 84.1,588.76 84.6,588.96 85.1,589.16 85.6,589.37 86.1,589.59 86.6,589.85 87.1,590.12 87.6,590.41 88.1,590.71 88.6,591.03 89.1,591.36 89.6,591.7 90.1,592.04 90.6,592.4 91.1,592.75 91.6,593.1 92.1,593.47 92.6,593.86 93.1,594.28 93.6,594.72 94.1,595.16 94.6,595.61 95.1,596.05 95.6,596.49 96.1,596.91 96.6,597.31 97.1,597.69 97.6,598.03 98.1,598.36 98.6,598.67 99.1,598.96 99.6,599.24 100.1,599.52 100.6,599.78 101.1,600.05 101.6,600.32 102.1,600.58 102.6,600.86 103.1,601.14 103.6,601.43 104.1,601.74 104.6,602.05 105.1,602.37 105.6,602.7 106.1,603.02 106.6,603.35 107.1,603.69 107.6,604.03 108.1,604.38 108.6,604.74 109.1,605.11 109.6,605.48 110.1,605.87 110.6,606.27 111.1,606.68 111.6,607.11 112.1,607.55 112.6,608 113.1,608.47 113.6,608.95 114.1,609.45 114.6,609.96 115.1,610.49 115.6,611.03 116.1,611.59 116.6,612.17 117.1,612.76 117.6,613.38 118.1,614.03 118.6,614.71 119.1,615.41 119.6,616.13 120.1,616.87 120.6,617.63 121.1,618.41 121.6,619.2 122.1,620.02 122.6,620.89 123.1,621.8 123.6,622.74 124.1,623.69 124.6,624.66 125.1,625.63 125.6,626.6 126.1,627.55 126.6,628.48 127.1,629.38 127.6,630.24 128.1,631.09 128.6,631.94 129.1,632.77 129.6,633.6 130.1,634.43 130.6,635.24 131.1,636.05 131.6,636.85 132.1,637.64 132.6,638.43 133.1,639.2 133.6,639.97 134.1,640.73 134.6,641.48 135.1,642.21 135.6,642.94 136.1,643.66 136.2,643.8" fill="none" stroke="#1234f4" stroke-width="1.3" stroke-linejoin="round" clip-path="url(#iclip_e)"/><polyline points="35.6,653 36.1,652.01 36.6,651.02 37.1,650.04 37.6,649.07 38.1,648.11 38.6,647.16 39.1,646.22 39.6,645.29 40.1,644.37 40.6,643.46 41.1,642.56 41.6,641.68 42.1,640.81 42.6,639.97 43.1,639.15 43.6,638.35 44.1,637.56 44.6,636.78 45.1,636.01 45.6,635.24 46.1,634.46 46.6,633.68 47.1,632.88 47.6,632.06 48.1,631.22 48.6,630.36 49.1,629.46 49.6,628.52 50.1,627.55 50.6,626.55 51.1,625.52 51.6,624.47 52.1,623.39 52.6,622.29 53.1,621.17 53.6,620.03 54.1,618.88 54.6,617.71 55.1,616.54 55.6,615.32 56.1,614 56.6,612.62 57.1,611.2 57.6,609.77 58.1,608.37 58.6,607.04 59.1,605.79 59.6,604.67 60.1,603.7 60.6,602.84 61.1,602.03 61.6,601.26 62.1,600.52 62.6,599.82 63.1,599.15 63.6,598.51 64.1,597.9 64.6,597.32 65.1,596.76 65.6,596.22 66.1,595.7 66.6,595.2 67.1,594.71 67.6,594.21 68.1,593.72 68.6,593.23 69.1,592.74 69.6,592.26 70.1,591.8 70.6,591.35 71.1,590.91 71.6,590.49 72.1,590.1 72.6,589.73 73.1,589.39 73.6,589.08 74.1,588.8 74.6,588.56 75.1,588.36 75.6,588.2 76.1,588.06 76.6,587.93 77.1,587.81 77.6,587.7 78.1,587.61 78.6,587.54 79.1,587.51 79.6,587.5 80.1,587.54 80.6,587.63 81.1,587.74 81.6,587.9 82.1,588.08 82.6,588.29 83.1,588.52 83.6,588.77 84.1,589.03 84.6,589.3 85.1,589.58 85.6,589.86 86.1,590.14 86.6,590.44 87.1,590.8 87.6,591.21 88.1,591.66 88.6,592.13 89.1,592.63 89.6,593.13 90.1,593.63 90.6,594.11 91.1,594.57 91.6,595 92.1,595.4 92.6,595.8 93.1,596.18 93.6,596.56 94.1,596.94 94.6,597.31 95.1,597.68 95.6,598.04 96.1,598.4 96.6,598.76 97.1,599.12 97.6,599.48 98.1,599.84 98.6,600.21 99.1,600.58 99.6,600.95 100.1,601.32 100.6,601.7 101.1,602.07 101.6,602.44 102.1,602.82 102.6,603.19 103.1,603.57 103.6,603.94 104.1,604.32 104.6,604.69 105.1,605.07 105.6,605.44 106.1,605.82 106.6,606.19 107.1,606.57 107.6,606.94 108.1,607.32 108.6,607.7 109.1,608.07 109.6,608.45 110.1,608.82 110.6,609.2 111.1,609.57 111.6,609.94 112.1,610.3 112.6,610.65 113.1,611 113.6,611.34 114.1,611.69 114.6,612.03 115.1,612.39 115.6,612.75 116.1,613.12 116.6,613.5 117.1,613.9 117.6,614.31 118.1,614.75 118.6,615.21 119.1,615.69 119.6,616.2 120.1,616.73 120.6,617.3 121.1,617.91 121.6,618.56 122.1,619.26 122.6,620 123.1,620.85 123.6,621.83 124.1,622.92 124.6,624.08 125.1,625.28 125.6,626.5 126.1,627.69 126.6,628.84 127.1,629.91 127.6,630.88 128.1,631.81 128.6,632.74 129.1,633.65 129.6,634.56 130.1,635.44 130.6,636.32 131.1,637.17 131.6,638.01 132.1,638.84 132.6,639.64 133.1,640.42 133.6,641.19 134.1,641.93 134.6,642.65 135.1,643.35 135.6,644.02 136.1,644.67 136.2,644.8" fill="none" stroke="#ee1420" stroke-width="1.3" stroke-dasharray="3 2.6" stroke-linejoin="round" clip-path="url(#iclip_e)"/><polyline points="35.6,654.5 36.1,653.67 36.6,652.84 37.1,652.01 37.6,651.18 38.1,650.35 38.6,649.52 39.1,648.69 39.6,647.86 40.1,647.04 40.6,646.21 41.1,645.39 41.6,644.56 42.1,643.75 42.6,642.95 43.1,642.16 43.6,641.39 44.1,640.62 44.6,639.85 45.1,639.08 45.6,638.31 46.1,637.52 46.6,636.72 47.1,635.91 47.6,635.07 48.1,634.2 48.6,633.31 49.1,632.38 49.6,631.4 50.1,630.36 50.6,629.25 51.1,628.08 51.6,626.87 52.1,625.63 52.6,624.38 53.1,623.13 53.6,621.9 54.1,620.69 54.6,619.53 55.1,618.41 55.6,617.34 56.1,616.25 56.6,615.16 57.1,614.08 57.6,613.02 58.1,612 58.6,611.03 59.1,610.14 59.6,609.32 60.1,608.6 60.6,607.96 61.1,607.36 61.6,606.8 62.1,606.27 62.6,605.78 63.1,605.3 63.6,604.84 64.1,604.4 64.6,603.96 65.1,603.52 65.6,603.07 66.1,602.62 66.6,602.16 67.1,601.7 67.6,601.25 68.1,600.8 68.6,600.36 69.1,599.93 69.6,599.51 70.1,599.1 70.6,598.71 71.1,598.33 71.6,597.97 72.1,597.61 72.6,597.24 73.1,596.84 73.6,596.45 74.1,596.06 74.6,595.7 75.1,595.36 75.6,595.07 76.1,594.82 76.6,594.64 77.1,594.53 77.6,594.5 78.1,594.51 78.6,594.55 79.1,594.6 79.6,594.66 80.1,594.73 80.6,594.82 81.1,594.91 81.6,595 82.1,595.1 82.6,595.2 83.1,595.29 83.6,595.38 84.1,595.47 84.6,595.54 85.1,595.61 85.6,595.68 86.1,595.75 86.6,595.81 87.1,595.89 87.6,595.97 88.1,596.07 88.6,596.18 89.1,596.32 89.6,596.5 90.1,596.74 90.6,597 91.1,597.3 91.6,597.61 92.1,597.94 92.6,598.27 93.1,598.59 93.6,598.9 94.1,599.21 94.6,599.55 95.1,599.89 95.6,600.25 96.1,600.61 96.6,600.98 97.1,601.34 97.6,601.69 98.1,602.02 98.6,602.34 99.1,602.64 99.6,602.9 100.1,603.15 100.6,603.39 101.1,603.61 101.6,603.82 102.1,604.03 102.6,604.23 103.1,604.42 103.6,604.62 104.1,604.82 104.6,605.03 105.1,605.24 105.6,605.46 106.1,605.7 106.6,605.95 107.1,606.2 107.6,606.46 108.1,606.72 108.6,607 109.1,607.27 109.6,607.55 110.1,607.84 110.6,608.12 111.1,608.42 111.6,608.71 112.1,609.01 112.6,609.32 113.1,609.62 113.6,609.92 114.1,610.22 114.6,610.52 115.1,610.82 115.6,611.12 116.1,611.44 116.6,611.78 117.1,612.13 117.6,612.5 118.1,612.89 118.6,613.31 119.1,613.78 119.6,614.3 120.1,614.87 120.6,615.49 121.1,616.14 121.6,616.81 122.1,617.5 122.6,618.2 123.1,618.93 123.6,619.73 124.1,620.57 124.6,621.44 125.1,622.31 125.6,623.18 126.1,624.03 126.6,624.84 127.1,625.59 127.6,626.27 128.1,626.92 128.6,627.57 129.1,628.21 129.6,628.84 130.1,629.46 130.6,630.06 131.1,630.65 131.6,631.22 132.1,631.78 132.6,632.32 133.1,632.84 133.6,633.34 134.1,633.82 134.6,634.28 135.1,634.72 135.6,635.13 136.1,635.52 136.2,635.6" fill="none" stroke="#16a616" stroke-width="1.3" stroke-linejoin="round" clip-path="url(#iclip_e)"/><polyline points="35.6,653 36.1,652.02 36.6,651.04 37.1,650.07 37.6,649.11 38.1,648.15 38.6,647.2 39.1,646.26 39.6,645.33 40.1,644.4 40.6,643.49 41.1,642.58 41.6,641.68 42.1,640.8 42.6,639.94 43.1,639.11 43.6,638.3 44.1,637.5 44.6,636.71 45.1,635.93 45.6,635.14 46.1,634.34 46.6,633.53 47.1,632.7 47.6,631.85 48.1,630.97 48.6,630.05 49.1,629.09 49.6,628.09 50.1,627.02 50.6,625.89 51.1,624.71 51.6,623.49 52.1,622.24 52.6,620.97 53.1,619.68 53.6,618.4 54.1,617.12 54.6,615.87 55.1,614.64 55.6,613.43 56.1,612.2 56.6,610.97 57.1,609.73 57.6,608.49 58.1,607.28 58.6,606.09 59.1,604.95 59.6,603.84 60.1,602.8 60.6,601.8 61.1,600.81 61.6,599.85 62.1,598.9 62.6,597.98 63.1,597.07 63.6,596.19 64.1,595.33 64.6,594.49 65.1,593.68 65.6,592.89 66.1,592.13 66.6,591.39 67.1,590.67 67.6,589.96 68.1,589.25 68.6,588.56 69.1,587.88 69.6,587.23 70.1,586.59 70.6,585.99 71.1,585.43 71.6,584.9 72.1,584.42 72.6,583.98 73.1,583.57 73.6,583.16 74.1,582.74 74.6,582.34 75.1,581.97 75.6,581.64 76.1,581.37 76.6,581.16 77.1,581.03 77.6,581 78.1,581 78.6,581.01 79.1,581.03 79.6,581.05 80.1,581.07 80.6,581.1 81.1,581.13 81.6,581.17 82.1,581.21 82.6,581.3 83.1,581.45 83.6,581.65 84.1,581.9 84.6,582.19 85.1,582.52 85.6,582.86 86.1,583.22 86.6,583.59 87.1,583.96 87.6,584.33 88.1,584.69 88.6,585.09 89.1,585.52 89.6,585.97 90.1,586.45 90.6,586.94 91.1,587.45 91.6,587.98 92.1,588.51 92.6,589.05 93.1,589.59 93.6,590.13 94.1,590.67 94.6,591.21 95.1,591.75 95.6,592.32 96.1,592.9 96.6,593.49 97.1,594.09 97.6,594.69 98.1,595.29 98.6,595.89 99.1,596.48 99.6,597.06 100.1,597.63 100.6,598.17 101.1,598.7 101.6,599.2 102.1,599.67 102.6,600.13 103.1,600.58 103.6,601.01 104.1,601.43 104.6,601.85 105.1,602.26 105.6,602.68 106.1,603.09 106.6,603.51 107.1,603.94 107.6,604.38 108.1,604.84 108.6,605.31 109.1,605.8 109.6,606.3 110.1,606.81 110.6,607.33 111.1,607.85 111.6,608.39 112.1,608.93 112.6,609.49 113.1,610.06 113.6,610.65 114.1,611.24 114.6,611.86 115.1,612.49 115.6,613.14 116.1,613.8 116.6,614.5 117.1,615.22 117.6,615.97 118.1,616.74 118.6,617.54 119.1,618.36 119.6,619.19 120.1,620.05 120.6,620.92 121.1,621.83 121.6,622.79 122.1,623.79 122.6,624.82 123.1,625.87 123.6,626.93 124.1,627.99 124.6,629.02 125.1,630.03 125.6,630.99 126.1,631.93 126.6,632.87 127.1,633.81 127.6,634.74 128.1,635.66 128.6,636.58 129.1,637.49 129.6,638.4 130.1,639.3 130.6,640.19 131.1,641.07 131.6,641.95 132.1,642.82 132.6,643.68 133.1,644.53 133.6,645.37 134.1,646.2 134.6,647.03 135.1,647.84 135.6,648.65 136.1,649.44 136.2,649.6" fill="none" stroke="#16a616" stroke-width="1.3" stroke-dasharray="3 2.6" stroke-linejoin="round" clip-path="url(#iclip_e)"/><rect x="35.6" y="574.5" width="100.9" height="80.7" fill="none" stroke="#333" stroke-width="1.15"/><line x1="55.78" y1="655.2" x2="55.78" y2="652.6" stroke="#111" stroke-width="1.1"/><line x1="55.78" y1="574.5" x2="55.78" y2="577.1" stroke="#111" stroke-width="1.1"/><text x="55.78" y="661" class="itk" text-anchor="middle">1670</text><line x1="75.96" y1="655.2" x2="75.96" y2="652.6" stroke="#111" stroke-width="1.1"/><line x1="75.96" y1="574.5" x2="75.96" y2="577.1" stroke="#111" stroke-width="1.1"/><text x="75.96" y="661" class="itk" text-anchor="middle">1660</text><line x1="96.14" y1="655.2" x2="96.14" y2="652.6" stroke="#111" stroke-width="1.1"/><line x1="96.14" y1="574.5" x2="96.14" y2="577.1" stroke="#111" stroke-width="1.1"/><text x="96.14" y="661" class="itk" text-anchor="middle">1650</text><line x1="116.32" y1="655.2" x2="116.32" y2="652.6" stroke="#111" stroke-width="1.1"/><line x1="116.32" y1="574.5" x2="116.32" y2="577.1" stroke="#111" stroke-width="1.1"/><text x="116.32" y="661" class="itk" text-anchor="middle">1640</text><text x="70.25" y="572.1" class="ittl" textLength="32" lengthAdjust="spacingAndGlyphs">Amide I</text></g><g><rect x="357.5" y="514" width="252.5" height="201.85" fill="none" stroke="#333" stroke-width="1.3"/><line x1="371.15" y1="715.85" x2="371.15" y2="713.35" stroke="#333" stroke-width="0.6"/><line x1="371.15" y1="514" x2="371.15" y2="516.5" stroke="#333" stroke-width="0.6"/><text x="371.15" y="724.95" class="tk" text-anchor="middle">1850</text><line x1="405.27" y1="715.85" x2="405.27" y2="713.35" stroke="#333" stroke-width="0.6"/><line x1="405.27" y1="514" x2="405.27" y2="516.5" stroke="#333" stroke-width="0.6"/><text x="405.27" y="724.95" class="tk" text-anchor="middle">1800</text><line x1="439.39" y1="715.85" x2="439.39" y2="713.35" stroke="#333" stroke-width="0.6"/><line x1="439.39" y1="514" x2="439.39" y2="516.5" stroke="#333" stroke-width="0.6"/><text x="439.39" y="724.95" class="tk" text-anchor="middle">1750</text><line x1="473.51" y1="715.85" x2="473.51" y2="713.35" stroke="#333" stroke-width="0.6"/><line x1="473.51" y1="514" x2="473.51" y2="516.5" stroke="#333" stroke-width="0.6"/><text x="473.51" y="724.95" class="tk" text-anchor="middle">1700</text><line x1="507.64" y1="715.85" x2="507.64" y2="713.35" stroke="#333" stroke-width="0.6"/><line x1="507.64" y1="514" x2="507.64" y2="516.5" stroke="#333" stroke-width="0.6"/><text x="507.64" y="724.95" class="tk" text-anchor="middle">1650</text><line x1="541.76" y1="715.85" x2="541.76" y2="713.35" stroke="#333" stroke-width="0.6"/><line x1="541.76" y1="514" x2="541.76" y2="516.5" stroke="#333" stroke-width="0.6"/><text x="541.76" y="724.95" class="tk" text-anchor="middle">1600</text><line x1="575.88" y1="715.85" x2="575.88" y2="713.35" stroke="#333" stroke-width="0.6"/><line x1="575.88" y1="514" x2="575.88" y2="516.5" stroke="#333" stroke-width="0.6"/><text x="575.88" y="724.95" class="tk" text-anchor="middle">1550</text><line x1="610" y1="715.85" x2="610" y2="713.35" stroke="#333" stroke-width="0.6"/><line x1="610" y1="514" x2="610" y2="516.5" stroke="#333" stroke-width="0.6"/><text x="610" y="724.95" class="tk" text-anchor="middle">1500</text><line x1="357.5" y1="715.85" x2="360" y2="715.85" stroke="#333" stroke-width="0.6"/><line x1="610" y1="715.85" x2="607.5" y2="715.85" stroke="#333" stroke-width="0.6"/><text x="355.2" y="717.85" class="tk" text-anchor="end">0.00</text><line x1="357.5" y1="690.62" x2="360" y2="690.62" stroke="#333" stroke-width="0.6"/><line x1="610" y1="690.62" x2="607.5" y2="690.62" stroke="#333" stroke-width="0.6"/><text x="355.2" y="692.62" class="tk" text-anchor="end">0.02</text><line x1="357.5" y1="665.39" x2="360" y2="665.39" stroke="#333" stroke-width="0.6"/><line x1="610" y1="665.39" x2="607.5" y2="665.39" stroke="#333" stroke-width="0.6"/><text x="355.2" y="667.39" class="tk" text-anchor="end">0.04</text><line x1="357.5" y1="640.16" x2="360" y2="640.16" stroke="#333" stroke-width="0.6"/><line x1="610" y1="640.16" x2="607.5" y2="640.16" stroke="#333" stroke-width="0.6"/><text x="355.2" y="642.16" class="tk" text-anchor="end">0.06</text><line x1="357.5" y1="614.92" x2="360" y2="614.92" stroke="#333" stroke-width="0.6"/><line x1="610" y1="614.92" x2="607.5" y2="614.92" stroke="#333" stroke-width="0.6"/><text x="355.2" y="616.92" class="tk" text-anchor="end">0.08</text><line x1="357.5" y1="589.69" x2="360" y2="589.69" stroke="#333" stroke-width="0.6"/><line x1="610" y1="589.69" x2="607.5" y2="589.69" stroke="#333" stroke-width="0.6"/><text x="355.2" y="591.69" class="tk" text-anchor="end">0.10</text><line x1="357.5" y1="564.46" x2="360" y2="564.46" stroke="#333" stroke-width="0.6"/><line x1="610" y1="564.46" x2="607.5" y2="564.46" stroke="#333" stroke-width="0.6"/><text x="355.2" y="566.46" class="tk" text-anchor="end">0.12</text><line x1="357.5" y1="539.23" x2="360" y2="539.23" stroke="#333" stroke-width="0.6"/><line x1="610" y1="539.23" x2="607.5" y2="539.23" stroke="#333" stroke-width="0.6"/><text x="355.2" y="541.23" class="tk" text-anchor="end">0.14</text><line x1="357.5" y1="514" x2="360" y2="514" stroke="#333" stroke-width="0.6"/><line x1="610" y1="514" x2="607.5" y2="514" stroke="#333" stroke-width="0.6"/><text x="355.2" y="516" class="tk" text-anchor="end">0.16</text><polyline points="357.5,715 358,715 358.5,715 359,715 359.5,715 360,715 360.5,715 361,715 361.5,715 362,715 362.5,715 363,715 363.5,715 364,715 364.5,715 365,715 365.5,715 366,715 366.5,715 367,715 367.5,715 368,715 368.5,715 369,715 369.5,715 370,715 370.5,715 371,715 371.5,715 372,715 372.5,715 373,715 373.5,715 374,715 374.5,715 375,715 375.5,715 376,715 376.5,715 377,715 377.5,715 378,715 378.5,715 379,715 379.5,715 380,715 380.5,715 381,715 381.5,715 382,715 382.5,715 383,715 383.5,715 384,715 384.5,715 385,715 385.5,715 386,715 386.5,715 387,715 387.5,715 388,715 388.5,715 389,715 389.5,715 390,715 390.5,715 391,715 391.5,715 392,715 392.5,715 393,715 393.5,715 394,715 394.5,715 395,715 395.5,715 396,715 396.5,715 397,715 397.5,715 398,715 398.5,715 399,715 399.5,715 400,715 400.5,715 401,715 401.5,715 402,715 402.5,715 403,715.01 403.5,715.01 404,715.01 404.5,715.01 405,715.02 405.5,715.02 406,715.02 406.5,715.02 407,715.03 407.5,715.03 408,715.04 408.5,715.04 409,715.04 409.5,715.05 410,715.05 410.5,715.05 411,715.06 411.5,715.06 412,715.06 412.5,715.07 413,715.07 413.5,715.08 414,715.08 414.5,715.08 415,715.08 415.5,715.09 416,715.09 416.5,715.09 417,715.09 417.5,715.1 418,715.1 418.5,715.1 419,715.1 419.5,715.1 420,715.1 420.5,715.1 421,715.1 421.5,715.09 422,715.08 422.5,715.08 423,715.06 423.5,715.05 424,715.04 424.5,715.02 425,715.01 425.5,714.98 426,714.92 426.5,714.83 427,714.71 427.5,714.55 428,714.37 428.5,714.17 429,713.94 429.5,713.7 430,713.44 430.5,713.17 431,712.88 431.5,712.5 432,712.03 432.5,711.48 433,710.85 433.5,710.16 434,709.42 434.5,708.63 435,707.81 435.5,706.95 436,705.98 436.5,704.89 437,703.69 437.5,702.39 438,700.99 438.5,699.51 439,697.89 439.5,695.88 440,693.66 440.5,691.41 441,689.33 441.5,687.6 442,686.12 442.5,684.68 443,683.35 443.5,682.2 444,681.3 444.5,680.7 445,680.23 445.5,679.8 446,679.43 446.5,679.13 447,678.92 447.5,678.81 448,678.84 448.5,679.09 449,679.5 449.5,680.03 450,680.62 450.5,681.23 451,681.8 451.5,682.31 452,682.85 452.5,683.39 453,683.95 453.5,684.53 454,685.13 454.5,685.74 455,686.38 455.5,687.03 456,687.71 456.5,688.41 457,689.15 457.5,690.03 458,691.05 458.5,692.16 459,693.31 459.5,694.45 460,695.54 460.5,696.53 461,697.37 461.5,698.01 462,698.4 462.5,698.5 463,698.47 463.5,698.39 464,698.27 464.5,698.12 465,697.94 465.5,697.74 466,697.53 466.5,697.19 467,696.74 467.5,696.19 468,695.56 468.5,694.88 469,694.16 469.5,693.38 470,692.4 470.5,691.25 471,689.95 471.5,688.52 472,687 472.5,685.3 473,683.33 473.5,681.15 474,678.83 474.5,676.41 475,673.72 475.5,670.83 476,667.88 476.5,665 477,662.19 477.5,659.36 478,656.54 478.5,653.71 479,650.9 479.5,648.12 480,645.36 480.5,642.66 481,640 481.5,637.43 482,634.94 482.5,632.53 483,630.15 483.5,627.79 484,625.42 484.5,623.02 485,620.57 485.5,618.04 486,615.4 486.5,612.63 487,609.69 487.5,606.58 488,603.36 488.5,600.07 489,596.76 489.5,593.48 490,590.27 490.5,587.18 491,584.16 491.5,581.19 492,578.24 492.5,575.3 493,572.33 493.5,569.32 494,566.22 494.5,562.96 495,559.62 495.5,556.28 496,553.02 496.5,549.94 497,547.13 497.5,544.52 498,541.94 498.5,539.49 499,537.27 499.5,535.39 500,533.94 500.5,532.64 501,531.41 501.5,530.35 502,529.56 502.5,529.14 503,529.18 503.5,529.61 504,530.36 504.5,531.35 505,532.51 505.5,533.77 506,535.05 506.5,536.44 507,538.18 507.5,540.18 508,542.35 508.5,544.6 509,546.81 509.5,548.9 510,550.87 510.5,552.81 511,554.75 511.5,556.7 512,558.68 512.5,560.72 513,562.83 513.5,565.01 514,567.25 514.5,569.55 515,571.89 515.5,574.28 516,576.72 516.5,579.2 517,581.75 517.5,584.36 518,587.03 518.5,589.73 519,592.46 519.5,595.2 520,597.96 520.5,600.8 521,603.66 521.5,606.53 522,609.35 522.5,612.09 523,614.81 523.5,617.51 524,620.19 524.5,622.84 525,625.44 525.5,627.98 526,630.45 526.5,632.86 527,635.27 527.5,637.68 528,640.08 528.5,642.42 529,644.69 529.5,646.87 530,648.93 530.5,650.84 531,652.58 531.5,654.17 532,655.7 532.5,657.18 533,658.6 533.5,659.96 534,661.27 534.5,662.52 535,663.72 535.5,664.86 536,665.94 536.5,666.96 537,667.92 537.5,668.83 538,669.69 538.5,670.54 539,671.36 539.5,672.15 540,672.89 540.5,673.58 541,674.2 541.5,674.75 542,675.21 542.5,675.57 543,675.89 543.5,676.2 544,676.5 544.5,676.78 545,677.04 545.5,677.28 546,677.48 546.5,677.65 547,677.78 547.5,677.86 548,677.9 548.5,677.89 549,677.84 549.5,677.77 550,677.66 550.5,677.53 551,677.38 551.5,677.21 552,677.02 552.5,676.82 553,676.61 553.5,676.39 554,676.15 554.5,675.85 555,675.47 555.5,675.03 556,674.54 556.5,674 557,673.41 557.5,672.78 558,672.13 558.5,671.44 559,670.74 559.5,670.02 560,669.29 560.5,668.54 561,667.7 561.5,666.78 562,665.79 562.5,664.74 563,663.67 563.5,662.58 564,661.5 564.5,660.43 565,659.4 565.5,658.47 566,657.63 566.5,656.84 567,656.03 567.5,655.13 568,654.08 568.5,652.83 569,651.3 569.5,648.71 570,644.78 570.5,640.21 571,635.68 571.5,631.9 572,628.64 572.5,625.39 573,622.47 573.5,620.18 574,618.79 574.5,617.81 575,616.9 575.5,616.08 576,615.35 576.5,614.72 577,614.21 577.5,613.81 578,613.54 578.5,613.41 579,613.49 579.5,614.03 580,614.94 580.5,616.14 581,617.53 581.5,619.01 582,620.47 582.5,621.81 583,623 583.5,624.19 584,625.4 584.5,626.62 585,627.85 585.5,629.09 586,630.34 586.5,631.6 587,632.86 587.5,634.12 588,635.39 588.5,636.65 589,637.9 589.5,639.15 590,640.4 590.5,641.64 591,642.89 591.5,644.14 592,645.39 592.5,646.64 593,647.89 593.5,649.15 594,650.42 594.5,651.68 595,652.96 595.5,654.24 596,655.51 596.5,656.74 597,657.94 597.5,659.14 598,660.36 598.5,661.61 599,662.92 599.5,664.31 600,665.8 600.5,667.4 601,669.21 601.5,671.27 602,673.51 602.5,675.87 603,678.28 603.5,680.69 604,683.01 604.5,685.2 605,687.4 605.5,689.68 606,691.84 606.5,693.68 607,695.03 607.5,696.16 608,697.22 608.5,698.15 609,698.9 609.5,699.44 610,699.7" fill="none" stroke="#1234f4" stroke-width="1.4" stroke-linejoin="round" clip-path="url(#clip_f)"/><polyline points="357.5,715 358,715 358.5,715 359,715 359.5,715 360,715 360.5,715 361,715 361.5,715 362,715 362.5,715 363,715 363.5,715 364,715 364.5,715 365,715 365.5,715 366,715 366.5,715 367,715 367.5,715 368,715 368.5,715 369,715 369.5,715 370,715 370.5,715 371,715 371.5,715 372,715 372.5,715 373,715 373.5,715 374,715 374.5,715 375,715 375.5,715 376,715 376.5,715 377,715 377.5,715 378,715 378.5,715 379,715 379.5,715 380,715 380.5,715 381,715 381.5,715 382,715 382.5,715 383,715 383.5,715 384,715 384.5,715 385,715 385.5,715 386,715 386.5,715 387,715 387.5,715 388,715 388.5,715 389,715 389.5,715 390,715 390.5,715 391,715 391.5,715 392,715 392.5,715 393,715 393.5,715 394,715 394.5,715 395,715 395.5,715 396,715 396.5,715 397,715 397.5,715 398,715 398.5,715 399,715 399.5,715 400,715 400.5,715 401,715 401.5,715 402,715 402.5,715 403,715.01 403.5,715.01 404,715.01 404.5,715.01 405,715.02 405.5,715.02 406,715.02 406.5,715.02 407,715.03 407.5,715.03 408,715.04 408.5,715.04 409,715.04 409.5,715.05 410,715.05 410.5,715.05 411,715.06 411.5,715.06 412,715.06 412.5,715.07 413,715.07 413.5,715.08 414,715.08 414.5,715.08 415,715.08 415.5,715.09 416,715.09 416.5,715.09 417,715.09 417.5,715.1 418,715.1 418.5,715.1 419,715.1 419.5,715.1 420,715.1 420.5,715.1 421,715.1 421.5,715.09 422,715.08 422.5,715.08 423,715.06 423.5,715.05 424,715.04 424.5,715.02 425,715.01 425.5,714.98 426,714.92 426.5,714.83 427,714.71 427.5,714.55 428,714.37 428.5,714.17 429,713.94 429.5,713.7 430,713.44 430.5,713.17 431,712.88 431.5,712.5 432,712.03 432.5,711.48 433,710.85 433.5,710.16 434,709.41 434.5,708.61 435,707.77 435.5,706.87 436,705.85 436.5,704.69 437,703.38 437.5,701.96 438,700.43 438.5,698.82 439,697.09 439.5,695.04 440,692.84 440.5,690.68 441,688.77 441.5,687.26 442,686.04 442.5,684.88 443,683.84 443.5,682.96 444,682.31 444.5,681.94 445,681.68 445.5,681.42 446,681.2 446.5,681.01 447,680.88 447.5,680.81 448,680.84 448.5,681.04 449,681.37 449.5,681.78 450,682.23 450.5,682.68 451,683.08 451.5,683.42 452,683.79 452.5,684.17 453,684.59 453.5,685.04 454,685.53 454.5,686.06 455,686.62 455.5,687.23 456,687.87 456.5,688.55 457,689.28 457.5,690.18 458,691.21 458.5,692.35 459,693.53 459.5,694.71 460,695.84 460.5,696.86 461,697.73 461.5,698.39 462,698.8 462.5,698.9 463,698.86 463.5,698.76 464,698.62 464.5,698.43 465,698.21 465.5,697.98 466,697.72 466.5,697.35 467,696.86 467.5,696.28 468,695.63 468.5,694.93 469,694.19 469.5,693.4 470,692.42 470.5,691.26 471,689.95 471.5,688.52 472,687.01 472.5,685.3 473,683.33 473.5,681.15 474,678.83 474.5,676.41 475,673.72 475.5,670.83 476,667.88 476.5,665 477,662.2 477.5,659.4 478,656.6 478.5,653.81 479,651.03 479.5,648.25 480,645.49 480.5,642.74 481,640 481.5,637.31 482,634.7 482.5,632.13 483,629.58 483.5,627.02 484,624.43 484.5,621.77 485,619.04 485.5,616.19 486,613.2 486.5,610.04 487,606.7 487.5,603.22 488,599.64 488.5,595.97 489,592.27 489.5,588.56 490,584.88 490.5,581.25 491,577.62 491.5,573.96 492,570.28 492.5,566.55 493,562.64 493.5,558.44 494,554.33 494.5,550.7 495,547.85 495.5,545.41 496,543.22 496.5,541.22 497,539.37 497.5,537.64 498,535.96 498.5,534.26 499,532.41 499.5,530.52 500,528.76 500.5,527.27 501,526.2 501.5,525.71 502,525.79 502.5,526.13 503,526.67 503.5,527.37 504,528.16 504.5,529 505,530.08 505.5,531.52 506,533.16 506.5,534.96 507,537.07 507.5,539.38 508,541.82 508.5,544.28 509,546.67 509.5,548.9 510,550.96 510.5,552.94 511,554.86 511.5,556.78 512,558.72 512.5,560.73 513,562.83 513.5,565.01 514,567.25 514.5,569.55 515,571.89 515.5,574.28 516,576.72 516.5,579.2 517,581.75 517.5,584.36 518,587.03 518.5,589.73 519,592.46 519.5,595.2 520,597.96 520.5,600.8 521,603.66 521.5,606.53 522,609.35 522.5,612.09 523,614.81 523.5,617.53 524,620.21 524.5,622.86 525,625.47 525.5,628 526,630.47 526.5,632.85 527,635.23 527.5,637.62 528,639.99 528.5,642.3 529,644.54 529.5,646.67 530,648.68 530.5,650.53 531,652.19 531.5,653.7 532,655.14 532.5,656.52 533,657.83 533.5,659.09 534,660.3 534.5,661.45 535,662.54 535.5,663.59 536,664.59 536.5,665.55 537,666.46 537.5,667.33 538,668.17 538.5,669.01 539,669.84 539.5,670.63 540,671.38 540.5,672.08 541,672.71 541.5,673.26 542,673.71 542.5,674.06 543,674.37 543.5,674.68 544,674.96 544.5,675.24 545,675.48 545.5,675.71 546,675.9 546.5,676.06 547,676.18 547.5,676.26 548,676.3 548.5,676.29 549,676.26 549.5,676.2 550,676.11 550.5,676.01 551,675.89 551.5,675.75 552,675.6 552.5,675.43 553,675.26 553.5,675.07 554,674.87 554.5,674.6 555,674.25 555.5,673.84 556,673.37 556.5,672.85 557,672.29 557.5,671.68 558,671.04 558.5,670.38 559,669.69 559.5,668.99 560,668.28 560.5,667.55 561,666.73 561.5,665.82 562,664.84 562.5,663.81 563,662.74 563.5,661.66 564,660.58 564.5,659.52 565,658.5 565.5,657.58 566,656.75 566.5,655.97 567,655.16 567.5,654.27 568,653.24 568.5,652 569,650.5 569.5,647.97 570,644.13 570.5,639.67 571,635.23 571.5,631.5 572,628.23 572.5,624.96 573,622 573.5,619.68 574,618.3 574.5,617.33 575,616.43 575.5,615.62 576,614.91 576.5,614.29 577,613.79 577.5,613.4 578,613.14 578.5,613.01 579,613.1 579.5,613.66 580,614.63 580.5,615.89 581,617.34 581.5,618.88 582,620.41 582.5,621.8 583,623.02 583.5,624.23 584,625.45 584.5,626.67 585,627.91 585.5,629.15 586,630.39 586.5,631.64 587,632.89 587.5,634.14 588,635.4 588.5,636.65 589,637.9 589.5,639.15 590,640.4 590.5,641.64 591,642.89 591.5,644.14 592,645.39 592.5,646.64 593,647.89 593.5,649.15 594,650.42 594.5,651.68 595,652.96 595.5,654.24 596,655.51 596.5,656.74 597,657.94 597.5,659.14 598,660.36 598.5,661.61 599,662.92 599.5,664.31 600,665.8 600.5,667.4 601,669.21 601.5,671.27 602,673.51 602.5,675.87 603,678.28 603.5,680.69 604,683.01 604.5,685.2 605,687.4 605.5,689.68 606,691.84 606.5,693.68 607,695.03 607.5,696.16 608,697.22 608.5,698.15 609,698.9 609.5,699.44 610,699.7" fill="none" stroke="#ee1420" stroke-width="1.4" stroke-dasharray="3 2.6" stroke-linejoin="round" clip-path="url(#clip_f)"/><polyline points="357.5,715 358,715 358.5,715 359,715 359.5,715 360,715 360.5,715 361,715 361.5,715 362,715 362.5,715 363,715 363.5,715 364,715 364.5,715 365,715 365.5,715 366,715 366.5,715 367,715 367.5,715 368,715 368.5,715 369,715 369.5,715 370,715 370.5,715 371,715 371.5,715 372,715 372.5,715 373,715 373.5,715 374,715 374.5,715 375,715 375.5,715 376,715 376.5,715 377,715 377.5,715 378,715 378.5,715 379,715 379.5,715 380,715 380.5,715 381,715 381.5,715 382,715 382.5,715 383,715 383.5,715 384,715 384.5,715 385,715 385.5,715 386,715 386.5,715 387,715 387.5,715 388,715 388.5,715 389,715 389.5,715 390,715 390.5,715 391,715 391.5,715 392,715 392.5,715 393,715 393.5,715 394,715 394.5,715 395,715 395.5,715 396,715 396.5,715 397,715 397.5,715 398,715 398.5,715 399,715 399.5,715 400,715 400.5,715 401,715 401.5,715 402,715 402.5,715 403,715.01 403.5,715.01 404,715.01 404.5,715.01 405,715.02 405.5,715.02 406,715.02 406.5,715.02 407,715.03 407.5,715.03 408,715.04 408.5,715.04 409,715.04 409.5,715.05 410,715.05 410.5,715.05 411,715.06 411.5,715.06 412,715.06 412.5,715.07 413,715.07 413.5,715.08 414,715.08 414.5,715.08 415,715.08 415.5,715.09 416,715.09 416.5,715.09 417,715.09 417.5,715.1 418,715.1 418.5,715.1 419,715.1 419.5,715.1 420,715.1 420.5,715.1 421,715.1 421.5,715.09 422,715.08 422.5,715.08 423,715.06 423.5,715.05 424,715.04 424.5,715.02 425,715.01 425.5,714.98 426,714.92 426.5,714.83 427,714.71 427.5,714.55 428,714.37 428.5,714.17 429,713.94 429.5,713.7 430,713.44 430.5,713.17 431,712.88 431.5,712.5 432,712.03 432.5,711.48 433,710.85 433.5,710.16 434,709.42 434.5,708.63 435,707.81 435.5,706.95 436,705.98 436.5,704.89 437,703.69 437.5,702.39 438,700.99 438.5,699.51 439,697.89 439.5,695.88 440,693.66 440.5,691.41 441,689.33 441.5,687.6 442,686.12 442.5,684.68 443,683.35 443.5,682.2 444,681.3 444.5,680.7 445,680.23 445.5,679.8 446,679.43 446.5,679.13 447,678.92 447.5,678.81 448,678.84 448.5,679.09 449,679.5 449.5,680.03 450,680.62 450.5,681.23 451,681.8 451.5,682.31 452,682.84 452.5,683.39 453,683.95 453.5,684.52 454,685.11 454.5,685.72 455,686.34 455.5,686.97 456,687.62 456.5,688.29 457,688.99 457.5,689.82 458,690.78 458.5,691.81 459,692.89 459.5,693.95 460,694.96 460.5,695.88 461,696.65 461.5,697.24 462,697.61 462.5,697.7 463,697.68 463.5,697.64 464,697.57 464.5,697.49 465,697.39 465.5,697.27 466,697.14 466.5,696.88 467,696.49 467.5,696 468,695.42 468.5,694.78 469,694.09 469.5,693.33 470,692.37 470.5,691.23 471,689.93 471.5,688.51 472,687 472.5,685.3 473,683.32 473.5,681.15 474,678.83 474.5,676.41 475,673.72 475.5,670.83 476,667.88 476.5,665 477,662.19 477.5,659.36 478,656.54 478.5,653.71 479,650.9 479.5,648.12 480,645.36 480.5,642.66 481,640 481.5,637.43 482,634.94 482.5,632.53 483,630.15 483.5,627.79 484,625.42 484.5,623.02 485,620.57 485.5,618.04 486,615.4 486.5,612.63 487,609.69 487.5,606.58 488,603.36 488.5,600.07 489,596.76 489.5,593.48 490,590.27 490.5,587.17 491,584.12 491.5,581.1 492,578.1 492.5,575.13 493,572.18 493.5,569.26 494,566.34 494.5,563.36 495,560.37 495.5,557.48 496,554.76 496.5,552.3 497,549.99 497.5,547.73 498,545.59 498.5,543.67 499,542.04 499.5,540.77 500,539.63 500.5,538.54 501,537.6 501.5,536.91 502,536.54 502.5,536.54 503,536.76 503.5,537.14 504,537.66 504.5,538.27 505,538.95 505.5,539.66 506,540.48 506.5,541.58 507,542.91 507.5,544.37 508,545.91 508.5,547.45 509,548.9 509.5,550.3 510,551.7 510.5,553.12 511,554.56 511.5,556.01 512,557.49 512.5,558.99 513,560.5 513.5,562.01 514,563.5 514.5,565.04 515,566.68 515.5,568.44 516,570.42 516.5,572.67 517,575.13 517.5,577.68 518,580.24 518.5,582.7 519,585.02 519.5,587.28 520,589.54 520.5,591.84 521,594.25 521.5,596.84 522,599.72 522.5,602.84 523,606.04 523.5,609.18 524,612.12 524.5,614.75 525,617.23 525.5,619.6 526,621.88 526.5,624.11 527,626.31 527.5,628.51 528,630.75 528.5,633.07 529,635.46 529.5,637.88 530,640.28 530.5,642.63 531,644.88 531.5,647 532,648.95 532.5,650.68 533,652.19 533.5,653.65 534,655.05 534.5,656.4 535,657.7 535.5,658.94 536,660.11 536.5,661.21 537,662.24 537.5,663.19 538,664.06 538.5,664.85 539,665.55 539.5,666.17 540,666.78 540.5,667.39 541,667.98 541.5,668.57 542,669.13 542.5,669.67 543,670.19 543.5,670.68 544,671.13 544.5,671.55 545,671.92 545.5,672.26 546,672.54 546.5,672.77 547,672.94 547.5,673.05 548,673.1 548.5,673.09 549,673.05 549.5,672.97 550,672.87 550.5,672.74 551,672.59 551.5,672.42 552,672.22 552.5,672.01 553,671.78 553.5,671.54 554,671.29 554.5,671.03 555,670.76 555.5,670.48 556,670.14 556.5,669.72 557,669.24 557.5,668.7 558,668.1 558.5,667.46 559,666.79 559.5,666.08 560,665.34 560.5,664.59 561,663.83 561.5,663.06 562,662.3 562.5,661.54 563,660.78 563.5,660 564,659.2 564.5,658.35 565,657.46 565.5,656.5 566,655.47 566.5,654.34 567,653.12 567.5,651.78 568,650.32 568.5,648.6 569,646.2 569.5,643.27 570,640 570.5,636.62 571,633.31 571.5,630.3 572,627.3 572.5,624.12 573,621.14 573.5,618.71 574,617.16 574.5,616.01 575,614.93 575.5,613.93 576,613.04 576.5,612.27 577,611.62 577.5,611.12 578,610.78 578.5,610.62 579,610.75 579.5,611.57 580,612.92 580.5,614.58 581,616.33 581.5,617.94 582,619.22 582.5,620.29 583,621.28 583.5,622.22 584,623.14 584.5,624.06 585,625.01 585.5,626.01 586,627.1 586.5,628.29 587,629.56 587.5,630.9 588,632.29 588.5,633.73 589,635.2 589.5,636.68 590,638.16 590.5,639.62 591,641.06 591.5,642.45 592,643.78 592.5,645.05 593,646.24 593.5,647.38 594,648.48 594.5,649.54 595,650.58 595.5,651.62 596,652.66 596.5,653.72 597,654.81 597.5,655.93 598,657.11 598.5,658.35 599,659.67 599.5,660.99 600,662.33 600.5,663.71 601,665.18 601.5,666.78 602,668.55 602.5,670.53 603,672.8 603.5,676.29 604,680.73 604.5,685.17 605,688.7 605.5,690.59 606,692 606.5,693.31 607,694.49 607.5,695.53 608,696.41 608.5,697.13 609,697.66 609.5,697.99 610,698.1" fill="none" stroke="#16a616" stroke-width="1.4" stroke-linejoin="round" clip-path="url(#clip_f)"/><polyline points="357.5,715 358,715 358.5,715 359,715 359.5,715 360,715 360.5,715 361,715 361.5,715 362,715 362.5,715 363,715 363.5,715 364,715 364.5,715 365,715 365.5,715 366,715 366.5,715 367,715 367.5,715 368,715 368.5,715 369,715 369.5,715 370,715 370.5,715 371,715 371.5,715 372,715 372.5,715 373,715 373.5,715 374,715 374.5,715 375,715 375.5,715 376,715 376.5,715 377,715 377.5,715 378,715 378.5,715 379,715 379.5,715 380,715 380.5,715 381,715 381.5,715 382,715 382.5,715 383,715 383.5,715 384,715 384.5,715 385,715 385.5,715 386,715 386.5,715 387,715 387.5,715 388,715 388.5,715 389,715 389.5,715 390,715 390.5,715 391,715 391.5,715 392,715 392.5,715 393,715 393.5,715 394,715 394.5,715 395,715 395.5,715 396,715 396.5,715 397,715 397.5,715 398,715 398.5,715 399,715 399.5,715 400,715 400.5,715 401,715 401.5,715 402,715 402.5,715 403,715.01 403.5,715.01 404,715.01 404.5,715.01 405,715.02 405.5,715.02 406,715.02 406.5,715.02 407,715.03 407.5,715.03 408,715.04 408.5,715.04 409,715.04 409.5,715.05 410,715.05 410.5,715.05 411,715.06 411.5,715.06 412,715.06 412.5,715.07 413,715.07 413.5,715.08 414,715.08 414.5,715.08 415,715.08 415.5,715.09 416,715.09 416.5,715.09 417,715.09 417.5,715.1 418,715.1 418.5,715.1 419,715.1 419.5,715.1 420,715.1 420.5,715.1 421,715.1 421.5,715.09 422,715.08 422.5,715.08 423,715.06 423.5,715.05 424,715.04 424.5,715.02 425,715.01 425.5,714.98 426,714.92 426.5,714.83 427,714.71 427.5,714.55 428,714.37 428.5,714.17 429,713.94 429.5,713.7 430,713.44 430.5,713.17 431,712.88 431.5,712.5 432,712.03 432.5,711.48 433,710.85 433.5,710.16 434,709.42 434.5,708.63 435,707.81 435.5,706.95 436,705.98 436.5,704.89 437,703.69 437.5,702.39 438,700.99 438.5,699.51 439,697.89 439.5,695.88 440,693.66 440.5,691.41 441,689.33 441.5,687.6 442,686.12 442.5,684.68 443,683.35 443.5,682.2 444,681.3 444.5,680.7 445,680.23 445.5,679.8 446,679.43 446.5,679.13 447,678.92 447.5,678.81 448,678.84 448.5,679.09 449,679.5 449.5,680.03 450,680.62 450.5,681.23 451,681.8 451.5,682.31 452,682.84 452.5,683.39 453,683.95 453.5,684.52 454,685.11 454.5,685.72 455,686.34 455.5,686.97 456,687.62 456.5,688.29 457,688.99 457.5,689.82 458,690.78 458.5,691.81 459,692.89 459.5,693.95 460,694.96 460.5,695.88 461,696.65 461.5,697.24 462,697.61 462.5,697.7 463,697.68 463.5,697.64 464,697.57 464.5,697.49 465,697.39 465.5,697.27 466,697.14 466.5,696.88 467,696.49 467.5,696 468,695.42 468.5,694.78 469,694.09 469.5,693.33 470,692.37 470.5,691.23 471,689.93 471.5,688.51 472,687 472.5,685.3 473,683.32 473.5,681.15 474,678.83 474.5,676.41 475,673.72 475.5,670.83 476,667.88 476.5,665 477,662.19 477.5,659.36 478,656.54 478.5,653.71 479,650.9 479.5,648.12 480,645.36 480.5,642.66 481,640 481.5,637.43 482,634.94 482.5,632.53 483,630.15 483.5,627.79 484,625.42 484.5,623.02 485,620.57 485.5,618.04 486,615.4 486.5,612.63 487,609.69 487.5,606.58 488,603.36 488.5,600.07 489,596.76 489.5,593.48 490,590.27 490.5,587.17 491,584.12 491.5,581.1 492,578.1 492.5,575.13 493,572.18 493.5,569.26 494,566.33 494.5,563.34 495,560.34 495.5,557.42 496,554.65 496.5,552.12 497,549.69 497.5,547.27 498,544.91 498.5,542.7 499,540.7 499.5,539.01 500,537.4 500.5,535.83 501,534.43 501.5,533.34 502,532.69 502.5,532.55 503,532.79 503.5,533.34 504,534.16 504.5,535.18 505,536.33 505.5,537.52 506,538.8 506.5,540.32 507,541.99 507.5,543.74 508,545.49 508.5,547.17 509,548.73 509.5,550.2 510,551.65 510.5,553.09 511,554.54 511.5,556.01 512,557.48 512.5,558.98 513,560.5 513.5,562 514,563.5 514.5,565.04 515,566.68 515.5,568.44 516,570.42 516.5,572.67 517,575.13 517.5,577.68 518,580.24 518.5,582.7 519,585.02 519.5,587.28 520,589.54 520.5,591.84 521,594.25 521.5,596.84 522,599.72 522.5,602.84 523,606.04 523.5,609.18 524,612.12 524.5,614.75 525,617.23 525.5,619.6 526,621.88 526.5,624.11 527,626.31 527.5,628.52 528,630.75 528.5,633.07 529,635.46 529.5,637.88 530,640.28 530.5,642.63 531,644.89 531.5,647.01 532,648.95 532.5,650.68 533,652.2 533.5,653.66 534,655.07 534.5,656.42 535,657.73 535.5,658.97 536,660.15 536.5,661.26 537,662.31 537.5,663.27 538,664.17 538.5,664.98 539,665.7 539.5,666.35 540,667 540.5,667.64 541,668.27 541.5,668.9 542,669.51 542.5,670.1 543,670.66 543.5,671.2 544,671.7 544.5,672.17 545,672.58 545.5,672.95 546,673.27 546.5,673.53 547,673.72 547.5,673.85 548,673.9 548.5,673.89 549,673.83 549.5,673.74 550,673.62 550.5,673.46 551,673.27 551.5,673.05 552,672.81 552.5,672.56 553,672.28 553.5,671.99 554,671.69 554.5,671.38 555,671.07 555.5,670.75 556,670.37 556.5,669.92 557,669.4 557.5,668.83 558,668.22 558.5,667.56 559,666.86 559.5,666.14 560,665.39 560.5,664.63 561,663.86 561.5,663.08 562,662.31 562.5,661.55 563,660.79 563.5,660.01 564,659.2 564.5,658.36 565,657.46 565.5,656.5 566,655.47 566.5,654.34 567,653.12 567.5,651.78 568,650.32 568.5,648.6 569,646.2 569.5,643.27 570,640 570.5,636.62 571,633.31 571.5,630.3 572,627.3 572.5,624.12 573,621.14 573.5,618.71 574,617.16 574.5,616.01 575,614.93 575.5,613.93 576,613.04 576.5,612.27 577,611.62 577.5,611.12 578,610.78 578.5,610.62 579,610.75 579.5,611.57 580,612.92 580.5,614.58 581,616.33 581.5,617.94 582,619.22 582.5,620.29 583,621.28 583.5,622.22 584,623.14 584.5,624.06 585,625.01 585.5,626.01 586,627.1 586.5,628.29 587,629.56 587.5,630.9 588,632.29 588.5,633.73 589,635.2 589.5,636.68 590,638.16 590.5,639.62 591,641.06 591.5,642.45 592,643.78 592.5,645.05 593,646.24 593.5,647.38 594,648.48 594.5,649.54 595,650.58 595.5,651.62 596,652.66 596.5,653.72 597,654.81 597.5,655.93 598,657.11 598.5,658.35 599,659.67 599.5,660.99 600,662.33 600.5,663.71 601,665.18 601.5,666.78 602,668.55 602.5,670.53 603,672.8 603.5,676.29 604,680.73 604.5,685.17 605,688.7 605.5,690.59 606,692 606.5,693.31 607,694.49 607.5,695.53 608,696.41 608.5,697.13 609,697.66 609.5,697.99 610,698.1" fill="none" stroke="#16a616" stroke-width="1.4" stroke-dasharray="3 2.6" stroke-linejoin="round" clip-path="url(#clip_f)"/><text x="475.6" y="510.3" class="ttl" textLength="25.2" lengthAdjust="spacingAndGlyphs">STR_F</text><text transform="translate(334.3,614.92) rotate(-90)" class="ylab" text-anchor="middle">Absorbance</text><text x="441.7" y="737.05" class="xlab" textLength="54.6" lengthAdjust="spacingAndGlyphs">Wavenumber</text><text x="499.6" y="737.65" class="ubr">[</text><text x="502.2" y="737.05" class="ucm">cm</text><text x="514.8" y="733.35" class="usup">&#8722;1</text><text x="524.7" y="737.65" class="ubr">]</text><text x="485.2" y="751.55" class="cap" text-anchor="middle">(f)</text><line x1="562.4" y1="523.35" x2="575" y2="523.35" stroke="#1234f4" stroke-width="1.3"/><text x="583.7" y="526.05" class="leg">MCR</text><line x1="562.5" y1="533.95" x2="566" y2="533.95" stroke="#ee1420" stroke-width="1.3"/><line x1="568.5" y1="533.95" x2="571.7" y2="533.95" stroke="#ee1420" stroke-width="1.3"/><text x="583.7" y="536.65" class="leg">MCL</text><line x1="562.4" y1="544.55" x2="575" y2="544.55" stroke="#16a616" stroke-width="1.3"/><text x="583.7" y="547.25" class="leg">CR</text><line x1="562.5" y1="555.15" x2="566" y2="555.15" stroke="#16a616" stroke-width="1.3"/><line x1="568.5" y1="555.15" x2="571.7" y2="555.15" stroke="#16a616" stroke-width="1.3"/><text x="583.7" y="557.85" class="leg">CL</text><rect x="361.1" y="574.6" width="100.9" height="80.7" fill="#fff" stroke="none"/><polyline points="361.4,651.2 361.9,650.4 362.4,649.6 362.9,648.81 363.4,648.02 363.9,647.24 364.4,646.47 364.9,645.7 365.4,644.93 365.9,644.18 366.4,643.42 366.9,642.68 367.4,641.94 367.9,641.21 368.4,640.5 368.9,639.8 369.4,639.12 369.9,638.45 370.4,637.79 370.9,637.13 371.4,636.47 371.9,635.81 372.4,635.14 372.9,634.46 373.4,633.77 373.9,633.06 374.4,632.33 374.9,631.58 375.4,630.8 375.9,629.99 376.4,629.15 376.9,628.28 377.4,627.39 377.9,626.47 378.4,625.55 378.9,624.6 379.4,623.65 379.9,622.69 380.4,621.73 380.9,620.77 381.4,619.81 381.9,618.83 382.4,617.81 382.9,616.78 383.4,615.73 383.9,614.69 384.4,613.64 384.9,612.61 385.4,611.6 385.9,610.62 386.4,609.67 386.9,608.77 387.4,607.92 387.9,607.09 388.4,606.28 388.9,605.49 389.4,604.72 389.9,603.97 390.4,603.23 390.9,602.5 391.4,601.78 391.9,601.07 392.4,600.36 392.9,599.66 393.4,598.96 393.9,598.25 394.4,597.55 394.9,596.86 395.4,596.18 395.9,595.5 396.4,594.85 396.9,594.21 397.4,593.59 397.9,592.99 398.4,592.43 398.9,591.88 399.4,591.33 399.9,590.77 400.4,590.22 400.9,589.68 401.4,589.18 401.9,588.72 402.4,588.32 402.9,587.98 403.4,587.74 403.9,587.56 404.4,587.39 404.9,587.23 405.4,587.09 405.9,586.97 406.4,586.88 406.9,586.82 407.4,586.8 407.9,586.82 408.4,586.88 408.9,586.98 409.4,587.11 409.9,587.26 410.4,587.44 410.9,587.64 411.4,587.85 411.9,588.07 412.4,588.3 412.9,588.61 413.4,589 413.9,589.45 414.4,589.93 414.9,590.43 415.4,590.91 415.9,591.38 416.4,591.84 416.9,592.32 417.4,592.81 417.9,593.3 418.4,593.8 418.9,594.31 419.4,594.83 419.9,595.36 420.4,595.89 420.9,596.44 421.4,596.99 421.9,597.57 422.4,598.15 422.9,598.74 423.4,599.34 423.9,599.94 424.4,600.54 424.9,601.14 425.4,601.74 425.9,602.33 426.4,602.92 426.9,603.5 427.4,604.09 427.9,604.68 428.4,605.27 428.9,605.86 429.4,606.45 429.9,607.03 430.4,607.61 430.9,608.18 431.4,608.74 431.9,609.28 432.4,609.82 432.9,610.34 433.4,610.86 433.9,611.36 434.4,611.86 434.9,612.35 435.4,612.84 435.9,613.33 436.4,613.82 436.9,614.31 437.4,614.8 437.9,615.3 438.4,615.79 438.9,616.26 439.4,616.73 439.9,617.19 440.4,617.65 440.9,618.13 441.4,618.63 441.9,619.16 442.4,619.72 442.9,620.32 443.4,620.99 443.9,621.7 444.4,622.47 444.9,623.27 445.4,624.1 445.9,624.96 446.4,625.83 446.9,626.69 447.4,627.56 447.9,628.42 448.4,629.33 448.9,630.28 449.4,631.25 449.9,632.22 450.4,633.18 450.9,634.12 451.4,635.01 451.9,635.84 452.4,636.6 452.9,637.31 453.4,638.02 453.9,638.71 454.4,639.39 454.9,640.06 455.4,640.72 455.9,641.36 456.4,641.99 456.9,642.6 457.4,643.19 457.9,643.76 458.4,644.31 458.9,644.83 459.4,645.34 459.9,645.82 460.4,646.27 460.9,646.7 461.4,647.09 461.9,647.46 462.1,647.6" fill="none" stroke="#1234f4" stroke-width="1.3" stroke-linejoin="round" clip-path="url(#iclip_f)"/><polyline points="361.4,644.4 361.9,643.62 362.4,642.85 362.9,642.07 363.4,641.3 363.9,640.53 364.4,639.76 364.9,638.99 365.4,638.22 365.9,637.45 366.4,636.69 366.9,635.92 367.4,635.16 367.9,634.4 368.4,633.64 368.9,632.9 369.4,632.17 369.9,631.44 370.4,630.71 370.9,629.99 371.4,629.26 371.9,628.52 372.4,627.79 372.9,627.04 373.4,626.28 373.9,625.51 374.4,624.73 374.9,623.92 375.4,623.1 375.9,622.25 376.4,621.37 376.9,620.47 377.4,619.55 377.9,618.61 378.4,617.66 378.9,616.71 379.4,615.76 379.9,614.81 380.4,613.87 380.9,612.95 381.4,612.04 381.9,611.13 382.4,610.21 382.9,609.3 383.4,608.39 383.9,607.49 384.4,606.6 384.9,605.72 385.4,604.87 385.9,604.03 386.4,603.21 386.9,602.4 387.4,601.6 387.9,600.81 388.4,600.03 388.9,599.26 389.4,598.5 389.9,597.77 390.4,597.04 390.9,596.34 391.4,595.66 391.9,595 392.4,594.35 392.9,593.7 393.4,593.06 393.9,592.42 394.4,591.79 394.9,591.18 395.4,590.58 395.9,590.01 396.4,589.45 396.9,588.92 397.4,588.43 397.9,587.96 398.4,587.54 398.9,587.15 399.4,586.75 399.9,586.35 400.4,585.94 400.9,585.55 401.4,585.18 401.9,584.84 402.4,584.54 402.9,584.29 403.4,584.09 403.9,583.96 404.4,583.9 404.9,583.91 405.4,583.95 405.9,584.01 406.4,584.09 406.9,584.19 407.4,584.29 407.9,584.4 408.4,584.52 408.9,584.68 409.4,584.86 409.9,585.06 410.4,585.29 410.9,585.54 411.4,585.82 411.9,586.11 412.4,586.42 412.9,586.75 413.4,587.09 413.9,587.45 414.4,587.88 414.9,588.38 415.4,588.95 415.9,589.57 416.4,590.23 416.9,590.93 417.4,591.65 417.9,592.38 418.4,593.12 418.9,593.84 419.4,594.55 419.9,595.23 420.4,595.88 420.9,596.49 421.4,597.09 421.9,597.68 422.4,598.27 422.9,598.86 423.4,599.44 423.9,600.02 424.4,600.6 424.9,601.18 425.4,601.76 425.9,602.34 426.4,602.92 426.9,603.5 427.4,604.09 427.9,604.68 428.4,605.27 428.9,605.86 429.4,606.45 429.9,607.03 430.4,607.61 430.9,608.18 431.4,608.74 431.9,609.28 432.4,609.82 432.9,610.34 433.4,610.86 433.9,611.36 434.4,611.86 434.9,612.35 435.4,612.84 435.9,613.33 436.4,613.82 436.9,614.31 437.4,614.8 437.9,615.3 438.4,615.79 438.9,616.26 439.4,616.72 439.9,617.18 440.4,617.64 440.9,618.12 441.4,618.62 441.9,619.15 442.4,619.72 442.9,620.33 443.4,621 443.9,621.74 444.4,622.54 444.9,623.37 445.4,624.24 445.9,625.14 446.4,626.04 446.9,626.95 447.4,627.85 447.9,628.74 448.4,629.68 448.9,630.66 449.4,631.66 449.9,632.67 450.4,633.66 450.9,634.63 451.4,635.55 451.9,636.41 452.4,637.2 452.9,637.94 453.4,638.67 453.9,639.38 454.4,640.09 454.9,640.79 455.4,641.47 455.9,642.13 456.4,642.78 456.9,643.41 457.4,644.02 457.9,644.61 458.4,645.18 458.9,645.73 459.4,646.25 459.9,646.75 460.4,647.22 460.9,647.66 461.4,648.07 461.9,648.46 462.1,648.6" fill="none" stroke="#ee1420" stroke-width="1.3" stroke-dasharray="3 2.6" stroke-linejoin="round" clip-path="url(#iclip_f)"/><polyline points="361.4,647.3 361.9,646.5 362.4,645.7 362.9,644.9 363.4,644.12 363.9,643.33 364.4,642.56 364.9,641.79 365.4,641.02 365.9,640.27 366.4,639.52 366.9,638.77 367.4,638.04 367.9,637.31 368.4,636.6 368.9,635.9 369.4,635.22 369.9,634.55 370.4,633.88 370.9,633.22 371.4,632.56 371.9,631.9 372.4,631.23 372.9,630.56 373.4,629.88 373.9,629.18 374.4,628.47 374.9,627.75 375.4,627 375.9,626.23 376.4,625.43 376.9,624.62 377.4,623.79 377.9,622.94 378.4,622.09 378.9,621.23 379.4,620.37 379.9,619.51 380.4,618.65 380.9,617.8 381.4,616.96 381.9,616.11 382.4,615.24 382.9,614.35 383.4,613.47 383.9,612.59 384.4,611.72 384.9,610.86 385.4,610.03 385.9,609.23 386.4,608.46 386.9,607.74 387.4,607.06 387.9,606.4 388.4,605.77 388.9,605.15 389.4,604.56 389.9,603.98 390.4,603.41 390.9,602.85 391.4,602.31 391.9,601.76 392.4,601.23 392.9,600.69 393.4,600.14 393.9,599.58 394.4,599.01 394.9,598.44 395.4,597.88 395.9,597.34 396.4,596.83 396.9,596.34 397.4,595.9 397.9,595.51 398.4,595.17 398.9,594.89 399.4,594.63 399.9,594.37 400.4,594.11 400.9,593.87 401.4,593.63 401.9,593.42 402.4,593.22 402.9,593.04 403.4,592.89 403.9,592.77 404.4,592.68 404.9,592.62 405.4,592.6 405.9,592.61 406.4,592.65 406.9,592.71 407.4,592.79 407.9,592.89 408.4,592.99 408.9,593.11 409.4,593.24 409.9,593.37 410.4,593.5 410.9,593.63 411.4,593.76 411.9,593.92 412.4,594.08 412.9,594.27 413.4,594.46 413.9,594.67 414.4,594.89 414.9,595.12 415.4,595.37 415.9,595.62 416.4,595.89 416.9,596.17 417.4,596.5 417.9,596.86 418.4,597.25 418.9,597.67 419.4,598.1 419.9,598.55 420.4,599.01 420.9,599.47 421.4,599.93 421.9,600.37 422.4,600.8 422.9,601.22 423.4,601.65 423.9,602.09 424.4,602.53 424.9,602.97 425.4,603.41 425.9,603.84 426.4,604.27 426.9,604.68 427.4,605.09 427.9,605.48 428.4,605.85 428.9,606.2 429.4,606.55 429.9,606.88 430.4,607.21 430.9,607.53 431.4,607.84 431.9,608.16 432.4,608.47 432.9,608.79 433.4,609.11 433.9,609.43 434.4,609.76 434.9,610.09 435.4,610.42 435.9,610.75 436.4,611.07 436.9,611.4 437.4,611.73 437.9,612.07 438.4,612.41 438.9,612.76 439.4,613.11 439.9,613.47 440.4,613.83 440.9,614.18 441.4,614.53 441.9,614.89 442.4,615.26 442.9,615.65 443.4,616.06 443.9,616.51 444.4,616.99 444.9,617.52 445.4,618.16 445.9,618.89 446.4,619.69 446.9,620.54 447.4,621.43 447.9,622.32 448.4,623.21 448.9,624.06 449.4,624.85 449.9,625.59 450.4,626.33 450.9,627.07 451.4,627.79 451.9,628.51 452.4,629.2 452.9,629.89 453.4,630.55 453.9,631.19 454.4,631.8 454.9,632.4 455.4,632.99 455.9,633.57 456.4,634.14 456.9,634.7 457.4,635.25 457.9,635.79 458.4,636.32 458.9,636.83 459.4,637.34 459.9,637.83 460.4,638.3 460.9,638.76 461.4,639.21 461.9,639.63 462.1,639.8" fill="none" stroke="#16a616" stroke-width="1.3" stroke-linejoin="round" clip-path="url(#iclip_f)"/><polyline points="361.4,652.1 361.9,651.27 362.4,650.45 362.9,649.63 363.4,648.83 363.9,648.04 364.4,647.25 364.9,646.48 365.4,645.73 365.9,644.98 366.4,644.24 366.9,643.52 367.4,642.82 367.9,642.13 368.4,641.47 368.9,640.84 369.4,640.23 369.9,639.64 370.4,639.07 370.9,638.5 371.4,637.94 371.9,637.37 372.4,636.79 372.9,636.2 373.4,635.58 373.9,634.94 374.4,634.27 374.9,633.56 375.4,632.8 375.9,631.98 376.4,631.1 376.9,630.15 377.4,629.16 377.9,628.12 378.4,627.06 378.9,625.98 379.4,624.9 379.9,623.82 380.4,622.75 380.9,621.71 381.4,620.7 381.9,619.67 382.4,618.61 382.9,617.55 383.4,616.48 383.9,615.42 384.4,614.37 384.9,613.35 385.4,612.36 385.9,611.41 386.4,610.5 386.9,609.66 387.4,608.87 387.9,608.12 388.4,607.4 388.9,606.71 389.4,606.04 389.9,605.39 390.4,604.75 390.9,604.13 391.4,603.51 391.9,602.9 392.4,602.29 392.9,601.68 393.4,601.06 393.9,600.43 394.4,599.81 394.9,599.19 395.4,598.58 395.9,597.98 396.4,597.39 396.9,596.83 397.4,596.28 397.9,595.76 398.4,595.28 398.9,594.82 399.4,594.37 399.9,593.92 400.4,593.47 400.9,593.04 401.4,592.63 401.9,592.24 402.4,591.87 402.9,591.53 403.4,591.22 403.9,590.96 404.4,590.74 404.9,590.55 405.4,590.36 405.9,590.18 406.4,590.02 406.9,589.88 407.4,589.78 407.9,589.72 408.4,589.7 408.9,589.74 409.4,589.84 409.9,589.98 410.4,590.16 410.9,590.37 411.4,590.59 411.9,590.83 412.4,591.06 412.9,591.29 413.4,591.55 413.9,591.83 414.4,592.15 414.9,592.48 415.4,592.84 415.9,593.21 416.4,593.6 416.9,594 417.4,594.41 417.9,594.82 418.4,595.23 418.9,595.64 419.4,596.04 419.9,596.44 420.4,596.82 420.9,597.2 421.4,597.58 421.9,597.96 422.4,598.34 422.9,598.72 423.4,599.11 423.9,599.5 424.4,599.88 424.9,600.27 425.4,600.66 425.9,601.04 426.4,601.43 426.9,601.81 427.4,602.19 427.9,602.57 428.4,602.95 428.9,603.33 429.4,603.7 429.9,604.07 430.4,604.45 430.9,604.82 431.4,605.19 431.9,605.56 432.4,605.93 432.9,606.3 433.4,606.67 433.9,607.04 434.4,607.41 434.9,607.78 435.4,608.15 435.9,608.53 436.4,608.89 436.9,609.25 437.4,609.59 437.9,609.93 438.4,610.26 438.9,610.59 439.4,610.92 439.9,611.26 440.4,611.6 440.9,611.97 441.4,612.34 441.9,612.74 442.4,613.16 442.9,613.61 443.4,614.1 443.9,614.62 444.4,615.22 444.9,615.91 445.4,616.66 445.9,617.45 446.4,618.26 446.9,619.08 447.4,619.89 447.9,620.67 448.4,621.48 448.9,622.31 449.4,623.17 449.9,624.03 450.4,624.9 450.9,625.77 451.4,626.63 451.9,627.48 452.4,628.31 452.9,629.11 453.4,629.88 453.9,630.61 454.4,631.3 454.9,631.96 455.4,632.6 455.9,633.23 456.4,633.86 456.9,634.46 457.4,635.06 457.9,635.63 458.4,636.2 458.9,636.74 459.4,637.27 459.9,637.78 460.4,638.28 460.9,638.75 461.4,639.2 461.9,639.63 462.1,639.8" fill="none" stroke="#16a616" stroke-width="1.3" stroke-dasharray="3 2.6" stroke-linejoin="round" clip-path="url(#iclip_f)"/><rect x="361.1" y="574.6" width="100.9" height="80.7" fill="none" stroke="#333" stroke-width="1.15"/><line x1="381.28" y1="655.3" x2="381.28" y2="652.7" stroke="#111" stroke-width="1.1"/><line x1="381.28" y1="574.6" x2="381.28" y2="577.2" stroke="#111" stroke-width="1.1"/><text x="381.28" y="661.1" class="itk" text-anchor="middle">1670</text><line x1="401.46" y1="655.3" x2="401.46" y2="652.7" stroke="#111" stroke-width="1.1"/><line x1="401.46" y1="574.6" x2="401.46" y2="577.2" stroke="#111" stroke-width="1.1"/><text x="401.46" y="661.1" class="itk" text-anchor="middle">1660</text><line x1="421.64" y1="655.3" x2="421.64" y2="652.7" stroke="#111" stroke-width="1.1"/><line x1="421.64" y1="574.6" x2="421.64" y2="577.2" stroke="#111" stroke-width="1.1"/><text x="421.64" y="661.1" class="itk" text-anchor="middle">1650</text><line x1="441.82" y1="655.3" x2="441.82" y2="652.7" stroke="#111" stroke-width="1.1"/><line x1="441.82" y1="574.6" x2="441.82" y2="577.2" stroke="#111" stroke-width="1.1"/><text x="441.82" y="661.1" class="itk" text-anchor="middle">1640</text><text x="395.75" y="572.2" class="ittl" textLength="32" lengthAdjust="spacingAndGlyphs">Amide I</text></g><g><rect x="194.9" y="761" width="252.2" height="201.85" fill="none" stroke="#333" stroke-width="1.3"/><line x1="208.53" y1="962.85" x2="208.53" y2="960.35" stroke="#333" stroke-width="0.6"/><line x1="208.53" y1="761" x2="208.53" y2="763.5" stroke="#333" stroke-width="0.6"/><text x="208.53" y="971.95" class="tk" text-anchor="middle">1850</text><line x1="242.61" y1="962.85" x2="242.61" y2="960.35" stroke="#333" stroke-width="0.6"/><line x1="242.61" y1="761" x2="242.61" y2="763.5" stroke="#333" stroke-width="0.6"/><text x="242.61" y="971.95" class="tk" text-anchor="middle">1800</text><line x1="276.69" y1="962.85" x2="276.69" y2="960.35" stroke="#333" stroke-width="0.6"/><line x1="276.69" y1="761" x2="276.69" y2="763.5" stroke="#333" stroke-width="0.6"/><text x="276.69" y="971.95" class="tk" text-anchor="middle">1750</text><line x1="310.78" y1="962.85" x2="310.78" y2="960.35" stroke="#333" stroke-width="0.6"/><line x1="310.78" y1="761" x2="310.78" y2="763.5" stroke="#333" stroke-width="0.6"/><text x="310.78" y="971.95" class="tk" text-anchor="middle">1700</text><line x1="344.86" y1="962.85" x2="344.86" y2="960.35" stroke="#333" stroke-width="0.6"/><line x1="344.86" y1="761" x2="344.86" y2="763.5" stroke="#333" stroke-width="0.6"/><text x="344.86" y="971.95" class="tk" text-anchor="middle">1650</text><line x1="378.94" y1="962.85" x2="378.94" y2="960.35" stroke="#333" stroke-width="0.6"/><line x1="378.94" y1="761" x2="378.94" y2="763.5" stroke="#333" stroke-width="0.6"/><text x="378.94" y="971.95" class="tk" text-anchor="middle">1600</text><line x1="413.02" y1="962.85" x2="413.02" y2="960.35" stroke="#333" stroke-width="0.6"/><line x1="413.02" y1="761" x2="413.02" y2="763.5" stroke="#333" stroke-width="0.6"/><text x="413.02" y="971.95" class="tk" text-anchor="middle">1550</text><line x1="447.1" y1="962.85" x2="447.1" y2="960.35" stroke="#333" stroke-width="0.6"/><line x1="447.1" y1="761" x2="447.1" y2="763.5" stroke="#333" stroke-width="0.6"/><text x="447.1" y="971.95" class="tk" text-anchor="middle">1500</text><line x1="194.9" y1="962.85" x2="197.4" y2="962.85" stroke="#333" stroke-width="0.6"/><line x1="447.1" y1="962.85" x2="444.6" y2="962.85" stroke="#333" stroke-width="0.6"/><text x="192.6" y="964.85" class="tk" text-anchor="end">0.00</text><line x1="194.9" y1="937.62" x2="197.4" y2="937.62" stroke="#333" stroke-width="0.6"/><line x1="447.1" y1="937.62" x2="444.6" y2="937.62" stroke="#333" stroke-width="0.6"/><text x="192.6" y="939.62" class="tk" text-anchor="end">0.02</text><line x1="194.9" y1="912.39" x2="197.4" y2="912.39" stroke="#333" stroke-width="0.6"/><line x1="447.1" y1="912.39" x2="444.6" y2="912.39" stroke="#333" stroke-width="0.6"/><text x="192.6" y="914.39" class="tk" text-anchor="end">0.04</text><line x1="194.9" y1="887.16" x2="197.4" y2="887.16" stroke="#333" stroke-width="0.6"/><line x1="447.1" y1="887.16" x2="444.6" y2="887.16" stroke="#333" stroke-width="0.6"/><text x="192.6" y="889.16" class="tk" text-anchor="end">0.06</text><line x1="194.9" y1="861.92" x2="197.4" y2="861.92" stroke="#333" stroke-width="0.6"/><line x1="447.1" y1="861.92" x2="444.6" y2="861.92" stroke="#333" stroke-width="0.6"/><text x="192.6" y="863.92" class="tk" text-anchor="end">0.08</text><line x1="194.9" y1="836.69" x2="197.4" y2="836.69" stroke="#333" stroke-width="0.6"/><line x1="447.1" y1="836.69" x2="444.6" y2="836.69" stroke="#333" stroke-width="0.6"/><text x="192.6" y="838.69" class="tk" text-anchor="end">0.10</text><line x1="194.9" y1="811.46" x2="197.4" y2="811.46" stroke="#333" stroke-width="0.6"/><line x1="447.1" y1="811.46" x2="444.6" y2="811.46" stroke="#333" stroke-width="0.6"/><text x="192.6" y="813.46" class="tk" text-anchor="end">0.12</text><line x1="194.9" y1="786.23" x2="197.4" y2="786.23" stroke="#333" stroke-width="0.6"/><line x1="447.1" y1="786.23" x2="444.6" y2="786.23" stroke="#333" stroke-width="0.6"/><text x="192.6" y="788.23" class="tk" text-anchor="end">0.14</text><line x1="194.9" y1="761" x2="197.4" y2="761" stroke="#333" stroke-width="0.6"/><line x1="447.1" y1="761" x2="444.6" y2="761" stroke="#333" stroke-width="0.6"/><text x="192.6" y="763" class="tk" text-anchor="end">0.16</text><polyline points="194.9,962.3 195.4,962.3 195.9,962.3 196.4,962.3 196.9,962.3 197.4,962.3 197.9,962.3 198.4,962.3 198.9,962.3 199.4,962.3 199.9,962.3 200.4,962.3 200.9,962.3 201.4,962.3 201.9,962.3 202.4,962.3 202.9,962.3 203.4,962.3 203.9,962.3 204.4,962.3 204.9,962.3 205.4,962.3 205.9,962.3 206.4,962.3 206.9,962.3 207.4,962.3 207.9,962.3 208.4,962.3 208.9,962.3 209.4,962.3 209.9,962.3 210.4,962.3 210.9,962.3 211.4,962.3 211.9,962.3 212.4,962.3 212.9,962.3 213.4,962.3 213.9,962.3 214.4,962.3 214.9,962.3 215.4,962.3 215.9,962.3 216.4,962.3 216.9,962.3 217.4,962.3 217.9,962.3 218.4,962.3 218.9,962.3 219.4,962.3 219.9,962.3 220.4,962.3 220.9,962.3 221.4,962.3 221.9,962.3 222.4,962.3 222.9,962.3 223.4,962.3 223.9,962.3 224.4,962.3 224.9,962.3 225.4,962.3 225.9,962.3 226.4,962.3 226.9,962.3 227.4,962.3 227.9,962.3 228.4,962.3 228.9,962.3 229.4,962.3 229.9,962.3 230.4,962.3 230.9,962.3 231.4,962.3 231.9,962.3 232.4,962.3 232.9,962.3 233.4,962.3 233.9,962.3 234.4,962.3 234.9,962.3 235.4,962.3 235.9,962.3 236.4,962.3 236.9,962.3 237.4,962.3 237.9,962.3 238.4,962.3 238.9,962.3 239.4,962.3 239.9,962.3 240.4,962.3 240.9,962.3 241.4,962.3 241.9,962.3 242.4,962.3 242.9,962.3 243.4,962.3 243.9,962.3 244.4,962.3 244.9,962.3 245.4,962.3 245.9,962.3 246.4,962.3 246.9,962.3 247.4,962.3 247.9,962.3 248.4,962.3 248.9,962.3 249.4,962.3 249.9,962.3 250.4,962.3 250.9,962.3 251.4,962.3 251.9,962.3 252.4,962.3 252.9,962.3 253.4,962.3 253.9,962.3 254.4,962.3 254.9,962.3 255.4,962.3 255.9,962.3 256.4,962.3 256.9,962.3 257.4,962.3 257.9,962.3 258.4,962.3 258.9,962.3 259.4,962.3 259.9,962.3 260.4,962.3 260.9,962.3 261.4,962.3 261.9,962.3 262.4,962.3 262.9,962.3 263.4,962.3 263.9,962.29 264.4,962.25 264.9,962.18 265.4,962.09 265.9,961.98 266.4,961.85 266.9,961.7 267.4,961.54 267.9,961.37 268.4,961.17 268.9,960.89 269.4,960.52 269.9,960.07 270.4,959.56 270.9,958.99 271.4,958.38 271.9,957.74 272.4,957.07 272.9,956.37 273.4,955.55 273.9,954.63 274.4,953.62 274.9,952.53 275.4,951.4 275.9,950.24 276.4,948.98 276.9,947.53 277.4,945.99 277.9,944.47 278.4,943.07 278.9,941.88 279.4,940.8 279.9,939.8 280.4,938.92 280.9,938.21 281.4,937.66 281.9,937.13 282.4,936.65 282.9,936.26 283.4,936 283.9,935.9 284.4,935.98 284.9,936.2 285.4,936.52 285.9,936.91 286.4,937.34 286.9,937.77 287.4,938.18 287.9,938.61 288.4,939.09 288.9,939.61 289.4,940.15 289.9,940.71 290.4,941.27 290.9,941.82 291.4,942.35 291.9,942.86 292.4,943.34 292.9,943.83 293.4,944.32 293.9,944.82 294.4,945.32 294.9,945.84 295.4,946.36 295.9,946.89 296.4,947.42 296.9,948.02 297.4,948.66 297.9,949.26 298.4,949.72 298.9,949.98 299.4,949.99 299.9,949.9 300.4,949.74 300.9,949.52 301.4,949.25 301.9,948.95 302.4,948.63 302.9,948.31 303.4,947.98 303.9,947.59 304.4,947.15 304.9,946.67 305.4,946.17 305.9,945.65 306.4,945.12 306.9,944.57 307.4,943.92 307.9,943.16 308.4,942.25 308.9,941.16 309.4,939.86 309.9,938.13 310.4,935.92 310.9,933.31 311.4,930.37 311.9,926.77 312.4,922.24 312.9,917.81 313.4,914.45 313.9,911.66 314.4,909.17 314.9,906.92 315.4,904.84 315.9,902.88 316.4,900.97 316.9,899.04 317.4,897.04 317.9,894.89 318.4,892.55 318.9,890.13 319.4,887.65 319.9,885.12 320.4,882.53 320.9,879.88 321.4,877.19 321.9,874.44 322.4,871.63 322.9,868.78 323.4,865.83 323.9,862.72 324.4,859.5 324.9,856.22 325.4,852.92 325.9,849.66 326.4,846.47 326.9,843.4 327.4,840.51 327.9,837.75 328.4,835.07 328.9,832.38 329.4,829.61 329.9,826.69 330.4,823.55 330.9,820.05 331.4,816.29 331.9,812.46 332.4,808.73 332.9,805.16 333.4,801.54 333.9,798.01 334.4,794.8 334.9,792.11 335.4,789.76 335.9,787.63 336.4,785.73 336.9,784.08 337.4,782.68 337.9,781.4 338.4,780.25 338.9,779.28 339.4,778.5 339.9,777.82 340.4,777.17 340.9,776.56 341.4,776.05 341.9,775.66 342.4,775.44 342.9,775.43 343.4,775.75 343.9,776.36 344.4,777.15 344.9,778.06 345.4,779 345.9,779.88 346.4,780.65 346.9,781.39 347.4,782.13 347.9,782.9 348.4,783.72 348.9,784.61 349.4,785.59 349.9,786.7 350.4,787.94 350.9,789.31 351.4,790.81 351.9,792.43 352.4,794.16 352.9,796 353.4,798.06 353.9,800.42 354.4,802.98 354.9,805.66 355.4,808.42 355.9,811.41 356.4,814.57 356.9,817.74 357.4,820.8 357.9,823.69 358.4,826.49 358.9,829.25 359.4,831.99 359.9,834.78 360.4,837.63 360.9,840.61 361.4,843.74 361.9,847 362.4,850.32 362.9,853.66 363.4,856.95 363.9,860.15 364.4,863.22 364.9,866.31 365.4,869.4 365.9,872.45 366.4,875.36 366.9,878.09 367.4,880.57 367.9,882.75 368.4,884.79 368.9,886.75 369.4,888.61 369.9,890.38 370.4,892.05 370.9,893.62 371.4,895.09 371.9,896.46 372.4,897.71 372.9,898.88 373.4,900.02 373.9,901.15 374.4,902.24 374.9,903.29 375.4,904.29 375.9,905.23 376.4,906.1 376.9,906.9 377.4,907.61 377.9,908.21 378.4,908.72 378.9,909.21 379.4,909.69 379.9,910.17 380.4,910.63 380.9,911.08 381.4,911.5 381.9,911.9 382.4,912.26 382.9,912.58 383.4,912.85 383.9,913.08 384.4,913.24 384.9,913.35 385.4,913.4 385.9,913.38 386.4,913.29 386.9,913.14 387.4,912.94 387.9,912.68 388.4,912.38 388.9,912.05 389.4,911.69 389.9,911.32 390.4,910.94 390.9,910.56 391.4,910.2 391.9,909.86 392.4,909.53 392.9,909.17 393.4,908.81 393.9,908.43 394.4,908.04 394.9,907.64 395.4,907.22 395.9,906.78 396.4,906.29 396.9,905.75 397.4,905.15 397.9,904.49 398.4,903.76 398.9,902.97 399.4,902.08 399.9,901.12 400.4,900.09 400.9,899.02 401.4,897.91 401.9,896.78 402.4,895.64 402.9,894.48 403.4,893.32 403.9,892.16 404.4,891.02 404.9,889.89 405.4,888.69 405.9,887.3 406.4,885.63 406.9,883.14 407.4,879.29 407.9,874.87 408.4,870.67 408.9,867.49 409.4,865.17 409.9,863.01 410.4,861.08 410.9,859.41 411.4,858.05 411.9,857.05 412.4,856.38 412.9,855.77 413.4,855.23 413.9,854.76 414.4,854.35 414.9,854.04 415.4,853.82 415.9,853.71 416.4,853.81 416.9,854.39 417.4,855.36 417.9,856.57 418.4,857.89 418.9,859.17 419.4,860.27 419.9,861.25 420.4,862.23 420.9,863.24 421.4,864.26 421.9,865.32 422.4,866.41 422.9,867.54 423.4,868.7 423.9,869.9 424.4,871.14 424.9,872.43 425.4,873.75 425.9,875.11 426.4,876.5 426.9,877.9 427.4,879.32 427.9,880.75 428.4,882.18 428.9,883.61 429.4,885.04 429.9,886.45 430.4,887.85 430.9,889.22 431.4,890.56 431.9,891.88 432.4,893.19 432.9,894.48 433.4,895.78 433.9,897.08 434.4,898.4 434.9,899.74 435.4,901.11 435.9,902.52 436.4,903.97 436.9,905.48 437.4,907.03 437.9,908.59 438.4,910.19 438.9,911.88 439.4,913.69 439.9,915.67 440.4,917.88 440.9,920.85 441.4,924.39 441.9,927.88 442.4,930.74 442.9,932.49 443.4,933.92 443.9,935.27 444.4,936.5 444.9,937.59 445.4,938.51 445.9,939.23 446.4,939.73 446.9,939.98 447.1,940" fill="none" stroke="#1234f4" stroke-width="1.4" stroke-linejoin="round" clip-path="url(#clip_g)"/><polyline points="194.9,962.3 195.4,962.3 195.9,962.3 196.4,962.3 196.9,962.3 197.4,962.3 197.9,962.3 198.4,962.3 198.9,962.3 199.4,962.3 199.9,962.3 200.4,962.3 200.9,962.3 201.4,962.3 201.9,962.3 202.4,962.3 202.9,962.3 203.4,962.3 203.9,962.3 204.4,962.3 204.9,962.3 205.4,962.3 205.9,962.3 206.4,962.3 206.9,962.3 207.4,962.3 207.9,962.3 208.4,962.3 208.9,962.3 209.4,962.3 209.9,962.3 210.4,962.3 210.9,962.3 211.4,962.3 211.9,962.3 212.4,962.3 212.9,962.3 213.4,962.3 213.9,962.3 214.4,962.3 214.9,962.3 215.4,962.3 215.9,962.3 216.4,962.3 216.9,962.3 217.4,962.3 217.9,962.3 218.4,962.3 218.9,962.3 219.4,962.3 219.9,962.3 220.4,962.3 220.9,962.3 221.4,962.3 221.9,962.3 222.4,962.3 222.9,962.3 223.4,962.3 223.9,962.3 224.4,962.3 224.9,962.3 225.4,962.3 225.9,962.3 226.4,962.3 226.9,962.3 227.4,962.3 227.9,962.3 228.4,962.3 228.9,962.3 229.4,962.3 229.9,962.3 230.4,962.3 230.9,962.3 231.4,962.3 231.9,962.3 232.4,962.3 232.9,962.3 233.4,962.3 233.9,962.3 234.4,962.3 234.9,962.3 235.4,962.3 235.9,962.3 236.4,962.3 236.9,962.3 237.4,962.3 237.9,962.3 238.4,962.3 238.9,962.3 239.4,962.3 239.9,962.3 240.4,962.3 240.9,962.3 241.4,962.3 241.9,962.3 242.4,962.3 242.9,962.3 243.4,962.3 243.9,962.3 244.4,962.3 244.9,962.3 245.4,962.3 245.9,962.3 246.4,962.3 246.9,962.3 247.4,962.3 247.9,962.3 248.4,962.3 248.9,962.3 249.4,962.3 249.9,962.3 250.4,962.3 250.9,962.3 251.4,962.3 251.9,962.3 252.4,962.3 252.9,962.3 253.4,962.3 253.9,962.3 254.4,962.3 254.9,962.3 255.4,962.3 255.9,962.3 256.4,962.3 256.9,962.3 257.4,962.3 257.9,962.3 258.4,962.3 258.9,962.3 259.4,962.3 259.9,962.3 260.4,962.3 260.9,962.3 261.4,962.3 261.9,962.3 262.4,962.3 262.9,962.3 263.4,962.3 263.9,962.29 264.4,962.25 264.9,962.18 265.4,962.09 265.9,961.98 266.4,961.85 266.9,961.7 267.4,961.54 267.9,961.37 268.4,961.17 268.9,960.89 269.4,960.52 269.9,960.07 270.4,959.56 270.9,958.99 271.4,958.38 271.9,957.74 272.4,957.07 272.9,956.37 273.4,955.55 273.9,954.63 274.4,953.62 274.9,952.53 275.4,951.4 275.9,950.24 276.4,948.98 276.9,947.53 277.4,945.99 277.9,944.47 278.4,943.07 278.9,941.88 279.4,940.8 279.9,939.8 280.4,938.92 280.9,938.21 281.4,937.66 281.9,937.13 282.4,936.65 282.9,936.26 283.4,936 283.9,935.9 284.4,935.98 284.9,936.2 285.4,936.52 285.9,936.91 286.4,937.34 286.9,937.77 287.4,938.18 287.9,938.61 288.4,939.09 288.9,939.61 289.4,940.15 289.9,940.71 290.4,941.27 290.9,941.82 291.4,942.35 291.9,942.86 292.4,943.34 292.9,943.83 293.4,944.32 293.9,944.82 294.4,945.32 294.9,945.84 295.4,946.36 295.9,946.89 296.4,947.42 296.9,948.02 297.4,948.66 297.9,949.26 298.4,949.72 298.9,949.98 299.4,949.99 299.9,949.9 300.4,949.74 300.9,949.52 301.4,949.25 301.9,948.95 302.4,948.63 302.9,948.31 303.4,947.98 303.9,947.59 304.4,947.15 304.9,946.67 305.4,946.17 305.9,945.65 306.4,945.12 306.9,944.57 307.4,943.92 307.9,943.16 308.4,942.25 308.9,941.16 309.4,939.86 309.9,938.13 310.4,935.92 310.9,933.31 311.4,930.37 311.9,926.77 312.4,922.24 312.9,917.81 313.4,914.45 313.9,911.66 314.4,909.17 314.9,906.92 315.4,904.84 315.9,902.88 316.4,900.97 316.9,899.04 317.4,897.04 317.9,894.89 318.4,892.55 318.9,890.13 319.4,887.65 319.9,885.12 320.4,882.53 320.9,879.88 321.4,877.19 321.9,874.44 322.4,871.63 322.9,868.78 323.4,865.83 323.9,862.72 324.4,859.5 324.9,856.22 325.4,852.92 325.9,849.66 326.4,846.47 326.9,843.4 327.4,840.51 327.9,837.75 328.4,835.07 328.9,832.38 329.4,829.61 329.9,826.69 330.4,823.55 330.9,820.05 331.4,816.29 331.9,812.46 332.4,808.73 332.9,805.16 333.4,801.54 333.9,798.01 334.4,794.8 334.9,792.11 335.4,789.76 335.9,787.63 336.4,785.73 336.9,784.08 337.4,782.68 337.9,781.4 338.4,780.25 338.9,779.28 339.4,778.5 339.9,777.82 340.4,777.17 340.9,776.56 341.4,776.05 341.9,775.66 342.4,775.44 342.9,775.43 343.4,775.75 343.9,776.36 344.4,777.15 344.9,778.06 345.4,779 345.9,779.88 346.4,780.65 346.9,781.39 347.4,782.13 347.9,782.9 348.4,783.72 348.9,784.61 349.4,785.59 349.9,786.7 350.4,787.94 350.9,789.31 351.4,790.81 351.9,792.43 352.4,794.16 352.9,796 353.4,798.06 353.9,800.42 354.4,802.98 354.9,805.66 355.4,808.42 355.9,811.41 356.4,814.57 356.9,817.74 357.4,820.8 357.9,823.69 358.4,826.49 358.9,829.25 359.4,831.99 359.9,834.78 360.4,837.63 360.9,840.61 361.4,843.74 361.9,847 362.4,850.32 362.9,853.66 363.4,856.95 363.9,860.15 364.4,863.22 364.9,866.31 365.4,869.4 365.9,872.45 366.4,875.36 366.9,878.09 367.4,880.57 367.9,882.75 368.4,884.79 368.9,886.75 369.4,888.61 369.9,890.38 370.4,892.05 370.9,893.62 371.4,895.09 371.9,896.46 372.4,897.71 372.9,898.88 373.4,900.02 373.9,901.15 374.4,902.24 374.9,903.29 375.4,904.29 375.9,905.23 376.4,906.1 376.9,906.9 377.4,907.61 377.9,908.21 378.4,908.72 378.9,909.21 379.4,909.69 379.9,910.17 380.4,910.63 380.9,911.08 381.4,911.5 381.9,911.9 382.4,912.26 382.9,912.58 383.4,912.85 383.9,913.08 384.4,913.24 384.9,913.35 385.4,913.4 385.9,913.38 386.4,913.29 386.9,913.14 387.4,912.94 387.9,912.68 388.4,912.38 388.9,912.05 389.4,911.69 389.9,911.32 390.4,910.94 390.9,910.56 391.4,910.2 391.9,909.86 392.4,909.53 392.9,909.17 393.4,908.81 393.9,908.43 394.4,908.04 394.9,907.64 395.4,907.22 395.9,906.78 396.4,906.29 396.9,905.75 397.4,905.15 397.9,904.49 398.4,903.76 398.9,902.97 399.4,902.08 399.9,901.12 400.4,900.09 400.9,899.02 401.4,897.91 401.9,896.78 402.4,895.64 402.9,894.48 403.4,893.32 403.9,892.16 404.4,891.02 404.9,889.89 405.4,888.69 405.9,887.3 406.4,885.63 406.9,883.13 407.4,879.28 407.9,874.84 408.4,870.62 408.9,867.4 409.4,864.99 409.9,862.72 410.4,860.61 410.9,858.68 411.4,856.97 411.9,855.51 412.4,854.25 412.9,852.98 413.4,851.69 413.9,850.45 414.4,849.33 414.9,848.4 415.4,847.74 415.9,847.43 416.4,847.57 416.9,848.45 417.4,849.93 417.9,851.83 418.4,853.93 418.9,856.02 419.4,857.91 419.9,859.6 420.4,861.19 420.9,862.7 421.4,864.12 421.9,865.49 422.4,866.82 422.9,868.12 423.4,869.43 423.9,870.75 424.4,872.09 424.9,873.46 425.4,874.87 425.9,876.3 426.4,877.75 426.9,879.21 427.4,880.69 427.9,882.16 428.4,883.63 428.9,885.09 429.4,886.53 429.9,887.95 430.4,889.34 430.9,890.7 431.4,892.02 431.9,893.31 432.4,894.57 432.9,895.82 433.4,897.06 433.9,898.3 434.4,899.55 434.9,900.82 435.4,902.11 435.9,903.45 436.4,904.82 436.9,906.26 437.4,907.73 437.9,909.22 438.4,910.76 438.9,912.38 439.4,914.13 439.9,916.05 440.4,918.21 440.9,921.14 441.4,924.64 441.9,928.09 442.4,930.92 442.9,932.64 443.4,934.05 443.9,935.37 444.4,936.58 444.9,937.66 445.4,938.56 445.9,939.27 446.4,939.76 446.9,940.01 447.1,940.03" fill="none" stroke="#ee1420" stroke-width="1.4" stroke-dasharray="3 2.6" stroke-linejoin="round" clip-path="url(#clip_g)"/><polyline points="194.9,962.3 195.4,962.3 195.9,962.3 196.4,962.3 196.9,962.3 197.4,962.3 197.9,962.3 198.4,962.3 198.9,962.3 199.4,962.3 199.9,962.3 200.4,962.3 200.9,962.3 201.4,962.3 201.9,962.3 202.4,962.3 202.9,962.3 203.4,962.3 203.9,962.3 204.4,962.3 204.9,962.3 205.4,962.3 205.9,962.3 206.4,962.3 206.9,962.3 207.4,962.3 207.9,962.3 208.4,962.3 208.9,962.3 209.4,962.3 209.9,962.3 210.4,962.3 210.9,962.3 211.4,962.3 211.9,962.3 212.4,962.3 212.9,962.3 213.4,962.3 213.9,962.3 214.4,962.3 214.9,962.3 215.4,962.3 215.9,962.3 216.4,962.3 216.9,962.3 217.4,962.3 217.9,962.3 218.4,962.3 218.9,962.3 219.4,962.3 219.9,962.3 220.4,962.3 220.9,962.3 221.4,962.3 221.9,962.3 222.4,962.3 222.9,962.3 223.4,962.3 223.9,962.3 224.4,962.3 224.9,962.3 225.4,962.3 225.9,962.3 226.4,962.3 226.9,962.3 227.4,962.3 227.9,962.3 228.4,962.3 228.9,962.3 229.4,962.3 229.9,962.3 230.4,962.3 230.9,962.3 231.4,962.3 231.9,962.3 232.4,962.3 232.9,962.3 233.4,962.3 233.9,962.3 234.4,962.3 234.9,962.3 235.4,962.3 235.9,962.3 236.4,962.3 236.9,962.3 237.4,962.3 237.9,962.3 238.4,962.3 238.9,962.3 239.4,962.3 239.9,962.3 240.4,962.3 240.9,962.3 241.4,962.3 241.9,962.3 242.4,962.3 242.9,962.3 243.4,962.3 243.9,962.3 244.4,962.3 244.9,962.3 245.4,962.3 245.9,962.3 246.4,962.3 246.9,962.3 247.4,962.3 247.9,962.3 248.4,962.3 248.9,962.3 249.4,962.3 249.9,962.3 250.4,962.3 250.9,962.3 251.4,962.3 251.9,962.3 252.4,962.3 252.9,962.3 253.4,962.3 253.9,962.3 254.4,962.3 254.9,962.3 255.4,962.3 255.9,962.3 256.4,962.3 256.9,962.3 257.4,962.3 257.9,962.3 258.4,962.3 258.9,962.3 259.4,962.3 259.9,962.3 260.4,962.3 260.9,962.3 261.4,962.3 261.9,962.3 262.4,962.3 262.9,962.3 263.4,962.3 263.9,962.29 264.4,962.25 264.9,962.18 265.4,962.09 265.9,961.98 266.4,961.85 266.9,961.7 267.4,961.54 267.9,961.37 268.4,961.17 268.9,960.89 269.4,960.52 269.9,960.07 270.4,959.56 270.9,958.99 271.4,958.38 271.9,957.74 272.4,957.07 272.9,956.37 273.4,955.55 273.9,954.63 274.4,953.62 274.9,952.53 275.4,951.4 275.9,950.24 276.4,948.98 276.9,947.53 277.4,945.99 277.9,944.47 278.4,943.07 278.9,941.88 279.4,940.8 279.9,939.8 280.4,938.92 280.9,938.21 281.4,937.66 281.9,937.13 282.4,936.65 282.9,936.26 283.4,936 283.9,935.9 284.4,935.98 284.9,936.2 285.4,936.52 285.9,936.91 286.4,937.34 286.9,937.77 287.4,938.18 287.9,938.61 288.4,939.09 288.9,939.61 289.4,940.15 289.9,940.7 290.4,941.25 290.9,941.79 291.4,942.31 291.9,942.79 292.4,943.25 292.9,943.7 293.4,944.14 293.9,944.58 294.4,945 294.9,945.42 295.4,945.84 295.9,946.26 296.4,946.69 296.9,947.18 297.4,947.73 297.9,948.24 298.4,948.65 298.9,948.88 299.4,948.89 299.9,948.83 300.4,948.73 300.9,948.6 301.4,948.43 301.9,948.23 302.4,948.02 302.9,947.79 303.4,947.54 303.9,947.21 304.4,946.8 304.9,946.32 305.4,945.77 305.9,945.17 306.4,944.53 306.9,943.83 307.4,943.03 307.9,942.09 308.4,941.02 308.9,939.8 309.4,938.4 309.9,936.63 310.4,934.44 310.9,931.9 311.4,929.09 311.9,925.69 312.4,921.42 312.9,917.16 313.4,913.74 313.9,910.8 314.4,908.1 314.9,905.59 315.4,903.19 315.9,900.85 316.4,898.5 316.9,896.09 317.4,893.53 317.9,890.84 318.4,888.11 318.9,885.35 319.4,882.56 319.9,879.74 320.4,876.89 320.9,874.01 321.4,871.12 321.9,868.2 322.4,865.22 322.9,862.17 323.4,859.06 323.9,855.94 324.4,852.83 324.9,849.78 325.4,846.8 325.9,843.94 326.4,841.21 326.9,838.57 327.4,835.99 327.9,833.43 328.4,830.83 328.9,828.16 329.4,825.37 329.9,822.52 330.4,819.6 330.9,816.6 331.4,813.53 331.9,810.25 332.4,806.69 332.9,803.14 333.4,799.89 333.9,797.14 334.4,794.41 334.9,791.68 335.4,789.14 335.9,786.94 336.4,785.26 336.9,784.27 337.4,783.97 337.9,783.77 338.4,783.63 338.9,783.53 339.4,783.5 339.9,783.53 340.4,783.62 340.9,783.76 341.4,783.93 341.9,784.14 342.4,784.36 342.9,784.61 343.4,784.98 343.9,785.48 344.4,786.06 344.9,786.68 345.4,787.3 345.9,787.89 346.4,788.4 346.9,788.86 347.4,789.31 347.9,789.76 348.4,790.23 348.9,790.76 349.4,791.37 349.9,792.08 350.4,792.92 350.9,793.88 351.4,794.95 351.9,796.11 352.4,797.36 352.9,798.74 353.4,800.3 353.9,802.02 354.4,803.91 354.9,805.97 355.4,808.26 355.9,811.07 356.4,814.26 356.9,817.58 357.4,820.8 357.9,823.87 358.4,826.94 358.9,830.01 359.4,833.1 359.9,836.21 360.4,839.36 360.9,842.6 361.4,845.95 361.9,849.35 362.4,852.74 362.9,856.05 363.4,859.2 363.9,862.17 364.4,865.07 364.9,867.92 365.4,870.7 365.9,873.39 366.4,875.96 366.9,878.38 367.4,880.64 367.9,882.71 368.4,884.7 368.9,886.63 369.4,888.48 369.9,890.25 370.4,891.94 370.9,893.53 371.4,895.01 371.9,896.38 372.4,897.63 372.9,898.78 373.4,899.9 373.9,900.98 374.4,902.03 374.9,903.04 375.4,903.98 375.9,904.85 376.4,905.65 376.9,906.35 377.4,906.96 377.9,907.46 378.4,907.85 378.9,908.21 379.4,908.55 379.9,908.89 380.4,909.21 380.9,909.51 381.4,909.79 381.9,910.04 382.4,910.28 382.9,910.48 383.4,910.65 383.9,910.79 384.4,910.9 384.9,910.97 385.4,911 385.9,910.99 386.4,910.93 386.9,910.83 387.4,910.7 387.9,910.53 388.4,910.34 388.9,910.12 389.4,909.88 389.9,909.63 390.4,909.35 390.9,909.07 391.4,908.79 391.9,908.5 392.4,908.18 392.9,907.81 393.4,907.38 393.9,906.9 394.4,906.38 394.9,905.83 395.4,905.24 395.9,904.62 396.4,903.98 396.9,903.33 397.4,902.66 397.9,901.98 398.4,901.3 398.9,900.6 399.4,899.88 399.9,899.12 400.4,898.32 400.9,897.49 401.4,896.63 401.9,895.74 402.4,894.81 402.9,893.84 403.4,892.85 403.9,891.81 404.4,890.77 404.9,889.72 405.4,888.57 405.9,887.22 406.4,885.57 406.9,883.09 407.4,879.25 407.9,874.82 408.4,870.61 408.9,867.4 409.4,865.03 409.9,862.82 410.4,860.81 410.9,859.05 411.4,857.58 411.9,856.45 412.4,855.63 412.9,854.87 413.4,854.16 413.9,853.53 414.4,852.99 414.9,852.56 415.4,852.26 415.9,852.11 416.4,852.21 416.9,852.85 417.4,853.9 417.9,855.23 418.4,856.69 418.9,858.13 419.4,859.4 419.9,860.53 420.4,861.66 420.9,862.79 421.4,863.93 421.9,865.07 422.4,866.24 422.9,867.42 423.4,868.62 423.9,869.85 424.4,871.11 424.9,872.41 425.4,873.74 425.9,875.1 426.4,876.49 426.9,877.9 427.4,879.32 427.9,880.75 428.4,882.18 428.9,883.61 429.4,885.04 429.9,886.45 430.4,887.85 430.9,889.22 431.4,890.56 431.9,891.88 432.4,893.19 432.9,894.48 433.4,895.78 433.9,897.08 434.4,898.4 434.9,899.74 435.4,901.11 435.9,902.52 436.4,903.97 436.9,905.48 437.4,907.03 437.9,908.59 438.4,910.19 438.9,911.88 439.4,913.69 439.9,915.67 440.4,917.88 440.9,920.85 441.4,924.39 441.9,927.88 442.4,930.74 442.9,932.49 443.4,933.92 443.9,935.27 444.4,936.5 444.9,937.59 445.4,938.51 445.9,939.23 446.4,939.73 446.9,939.98 447.1,940" fill="none" stroke="#16a616" stroke-width="1.4" stroke-linejoin="round" clip-path="url(#clip_g)"/><polyline points="194.9,962.3 195.4,962.3 195.9,962.3 196.4,962.3 196.9,962.3 197.4,962.3 197.9,962.3 198.4,962.3 198.9,962.3 199.4,962.3 199.9,962.3 200.4,962.3 200.9,962.3 201.4,962.3 201.9,962.3 202.4,962.3 202.9,962.3 203.4,962.3 203.9,962.3 204.4,962.3 204.9,962.3 205.4,962.3 205.9,962.3 206.4,962.3 206.9,962.3 207.4,962.3 207.9,962.3 208.4,962.3 208.9,962.3 209.4,962.3 209.9,962.3 210.4,962.3 210.9,962.3 211.4,962.3 211.9,962.3 212.4,962.3 212.9,962.3 213.4,962.3 213.9,962.3 214.4,962.3 214.9,962.3 215.4,962.3 215.9,962.3 216.4,962.3 216.9,962.3 217.4,962.3 217.9,962.3 218.4,962.3 218.9,962.3 219.4,962.3 219.9,962.3 220.4,962.3 220.9,962.3 221.4,962.3 221.9,962.3 222.4,962.3 222.9,962.3 223.4,962.3 223.9,962.3 224.4,962.3 224.9,962.3 225.4,962.3 225.9,962.3 226.4,962.3 226.9,962.3 227.4,962.3 227.9,962.3 228.4,962.3 228.9,962.3 229.4,962.3 229.9,962.3 230.4,962.3 230.9,962.3 231.4,962.3 231.9,962.3 232.4,962.3 232.9,962.3 233.4,962.3 233.9,962.3 234.4,962.3 234.9,962.3 235.4,962.3 235.9,962.3 236.4,962.3 236.9,962.3 237.4,962.3 237.9,962.3 238.4,962.3 238.9,962.3 239.4,962.3 239.9,962.3 240.4,962.3 240.9,962.3 241.4,962.3 241.9,962.3 242.4,962.3 242.9,962.3 243.4,962.3 243.9,962.3 244.4,962.3 244.9,962.3 245.4,962.3 245.9,962.3 246.4,962.3 246.9,962.3 247.4,962.3 247.9,962.3 248.4,962.3 248.9,962.3 249.4,962.3 249.9,962.3 250.4,962.3 250.9,962.3 251.4,962.3 251.9,962.3 252.4,962.3 252.9,962.3 253.4,962.3 253.9,962.3 254.4,962.3 254.9,962.3 255.4,962.3 255.9,962.3 256.4,962.3 256.9,962.3 257.4,962.3 257.9,962.3 258.4,962.3 258.9,962.3 259.4,962.3 259.9,962.3 260.4,962.3 260.9,962.3 261.4,962.3 261.9,962.3 262.4,962.3 262.9,962.3 263.4,962.3 263.9,962.29 264.4,962.25 264.9,962.18 265.4,962.09 265.9,961.98 266.4,961.85 266.9,961.7 267.4,961.54 267.9,961.37 268.4,961.17 268.9,960.89 269.4,960.52 269.9,960.07 270.4,959.56 270.9,958.99 271.4,958.38 271.9,957.74 272.4,957.07 272.9,956.37 273.4,955.55 273.9,954.63 274.4,953.62 274.9,952.53 275.4,951.4 275.9,950.24 276.4,948.98 276.9,947.53 277.4,945.99 277.9,944.47 278.4,943.07 278.9,941.88 279.4,940.8 279.9,939.8 280.4,938.92 280.9,938.21 281.4,937.66 281.9,937.13 282.4,936.65 282.9,936.26 283.4,936 283.9,935.9 284.4,935.98 284.9,936.2 285.4,936.52 285.9,936.91 286.4,937.34 286.9,937.77 287.4,938.18 287.9,938.61 288.4,939.09 288.9,939.61 289.4,940.15 289.9,940.7 290.4,941.25 290.9,941.79 291.4,942.31 291.9,942.79 292.4,943.25 292.9,943.7 293.4,944.14 293.9,944.58 294.4,945 294.9,945.42 295.4,945.84 295.9,946.26 296.4,946.69 296.9,947.18 297.4,947.73 297.9,948.24 298.4,948.65 298.9,948.88 299.4,948.89 299.9,948.83 300.4,948.73 300.9,948.6 301.4,948.43 301.9,948.23 302.4,948.02 302.9,947.79 303.4,947.54 303.9,947.21 304.4,946.8 304.9,946.32 305.4,945.77 305.9,945.17 306.4,944.53 306.9,943.83 307.4,943.03 307.9,942.09 308.4,941.02 308.9,939.8 309.4,938.4 309.9,936.63 310.4,934.44 310.9,931.9 311.4,929.09 311.9,925.69 312.4,921.42 312.9,917.16 313.4,913.74 313.9,910.8 314.4,908.1 314.9,905.59 315.4,903.19 315.9,900.85 316.4,898.5 316.9,896.09 317.4,893.53 317.9,890.84 318.4,888.11 318.9,885.35 319.4,882.56 319.9,879.74 320.4,876.89 320.9,874.01 321.4,871.12 321.9,868.2 322.4,865.22 322.9,862.17 323.4,859.06 323.9,855.94 324.4,852.83 324.9,849.78 325.4,846.8 325.9,843.94 326.4,841.21 326.9,838.57 327.4,835.99 327.9,833.43 328.4,830.83 328.9,828.15 329.4,825.37 329.9,822.51 330.4,819.58 330.9,816.58 331.4,813.48 331.9,810.18 332.4,806.59 332.9,802.99 333.4,799.67 333.9,796.83 334.4,793.97 334.9,791.09 335.4,788.36 335.9,785.95 336.4,784.04 336.9,782.8 337.4,782.25 337.9,781.82 338.4,781.46 338.9,781.2 339.4,781.05 339.9,781.03 340.4,781.14 340.9,781.37 341.4,781.69 341.9,782.09 342.4,782.54 342.9,783.04 343.4,783.67 343.9,784.41 344.4,785.21 344.9,786.02 345.4,786.81 345.9,787.53 346.4,788.14 346.9,788.69 347.4,789.19 347.9,789.68 348.4,790.18 348.9,790.73 349.4,791.35 349.9,792.07 350.4,792.92 350.9,793.88 351.4,794.94 351.9,796.11 352.4,797.36 352.9,798.74 353.4,800.3 353.9,802.02 354.4,803.91 354.9,805.97 355.4,808.26 355.9,811.07 356.4,814.26 356.9,817.58 357.4,820.8 357.9,823.87 358.4,826.94 358.9,830.01 359.4,833.1 359.9,836.21 360.4,839.36 360.9,842.6 361.4,845.95 361.9,849.35 362.4,852.74 362.9,856.05 363.4,859.2 363.9,862.17 364.4,865.07 364.9,867.92 365.4,870.7 365.9,873.39 366.4,875.96 366.9,878.38 367.4,880.64 367.9,882.71 368.4,884.7 368.9,886.63 369.4,888.48 369.9,890.25 370.4,891.94 370.9,893.53 371.4,895.01 371.9,896.38 372.4,897.63 372.9,898.78 373.4,899.9 373.9,900.98 374.4,902.03 374.9,903.04 375.4,903.98 375.9,904.85 376.4,905.65 376.9,906.35 377.4,906.96 377.9,907.46 378.4,907.85 378.9,908.21 379.4,908.55 379.9,908.89 380.4,909.21 380.9,909.51 381.4,909.79 381.9,910.04 382.4,910.28 382.9,910.48 383.4,910.65 383.9,910.79 384.4,910.9 384.9,910.97 385.4,911 385.9,910.99 386.4,910.93 386.9,910.83 387.4,910.7 387.9,910.53 388.4,910.34 388.9,910.12 389.4,909.88 389.9,909.63 390.4,909.35 390.9,909.07 391.4,908.79 391.9,908.5 392.4,908.18 392.9,907.81 393.4,907.38 393.9,906.9 394.4,906.38 394.9,905.83 395.4,905.24 395.9,904.62 396.4,903.98 396.9,903.33 397.4,902.66 397.9,901.98 398.4,901.3 398.9,900.6 399.4,899.88 399.9,899.12 400.4,898.32 400.9,897.49 401.4,896.63 401.9,895.74 402.4,894.81 402.9,893.84 403.4,892.85 403.9,891.81 404.4,890.77 404.9,889.72 405.4,888.57 405.9,887.22 406.4,885.58 406.9,883.1 407.4,879.26 407.9,874.84 408.4,870.64 408.9,867.44 409.4,865.1 409.9,862.92 410.4,860.94 410.9,859.23 411.4,857.82 411.9,856.75 412.4,856 412.9,855.32 413.4,854.7 413.9,854.14 414.4,853.67 414.9,853.3 415.4,853.04 415.9,852.91 416.4,853.01 416.9,853.62 417.4,854.63 417.9,855.9 418.4,857.29 418.9,858.65 419.4,859.84 419.9,860.89 420.4,861.95 420.9,863.01 421.4,864.1 421.9,865.2 422.4,866.32 422.9,867.48 423.4,868.66 423.9,869.87 424.4,871.13 424.9,872.42 425.4,873.75 425.9,875.11 426.4,876.49 426.9,877.9 427.4,879.32 427.9,880.75 428.4,882.18 428.9,883.61 429.4,885.04 429.9,886.45 430.4,887.85 430.9,889.22 431.4,890.56 431.9,891.88 432.4,893.19 432.9,894.48 433.4,895.78 433.9,897.08 434.4,898.4 434.9,899.74 435.4,901.11 435.9,902.52 436.4,903.97 436.9,905.48 437.4,907.03 437.9,908.59 438.4,910.19 438.9,911.88 439.4,913.69 439.9,915.67 440.4,917.88 440.9,920.85 441.4,924.39 441.9,927.88 442.4,930.74 442.9,932.49 443.4,933.92 443.9,935.27 444.4,936.5 444.9,937.59 445.4,938.51 445.9,939.23 446.4,939.73 446.9,939.98 447.1,940" fill="none" stroke="#16a616" stroke-width="1.4" stroke-dasharray="3 2.6" stroke-linejoin="round" clip-path="url(#clip_g)"/><text x="314" y="758.6" class="ttl" textLength="13.3" lengthAdjust="spacingAndGlyphs">CX</text><text transform="translate(171.7,861.92) rotate(-90)" class="ylab" text-anchor="middle">Absorbance</text><text x="279.1" y="984.05" class="xlab" textLength="54.6" lengthAdjust="spacingAndGlyphs">Wavenumber</text><text x="337" y="984.65" class="ubr">[</text><text x="339.6" y="984.05" class="ucm">cm</text><text x="352.2" y="980.35" class="usup">&#8722;1</text><text x="362.1" y="984.65" class="ubr">]</text><text x="326" y="998.95" class="cap" text-anchor="middle">(g)</text><line x1="399.8" y1="770.35" x2="412.4" y2="770.35" stroke="#1234f4" stroke-width="1.3"/><text x="421.1" y="773.05" class="leg">MCR</text><line x1="399.9" y1="780.95" x2="403.4" y2="780.95" stroke="#ee1420" stroke-width="1.3"/><line x1="405.9" y1="780.95" x2="409.1" y2="780.95" stroke="#ee1420" stroke-width="1.3"/><text x="421.1" y="783.65" class="leg">MCL</text><line x1="399.8" y1="791.55" x2="412.4" y2="791.55" stroke="#16a616" stroke-width="1.3"/><text x="421.1" y="794.25" class="leg">CR</text><line x1="399.9" y1="802.15" x2="403.4" y2="802.15" stroke="#16a616" stroke-width="1.3"/><line x1="405.9" y1="802.15" x2="409.1" y2="802.15" stroke="#16a616" stroke-width="1.3"/><text x="421.1" y="804.85" class="leg">CL</text><rect x="198.5" y="821.6" width="100.9" height="80.7" fill="#fff" stroke="none"/><polyline points="198.4,899.1 198.9,898.25 199.4,897.4 199.9,896.55 200.4,895.71 200.9,894.86 201.4,894.02 201.9,893.18 202.4,892.34 202.9,891.5 203.4,890.66 203.9,889.83 204.4,889 204.9,888.17 205.4,887.34 205.9,886.52 206.4,885.7 206.9,884.88 207.4,884.07 207.9,883.25 208.4,882.44 208.9,881.63 209.4,880.81 209.9,880 210.4,879.18 210.9,878.37 211.4,877.55 211.9,876.73 212.4,875.9 212.9,875.08 213.4,874.28 213.9,873.49 214.4,872.7 214.9,871.92 215.4,871.12 215.9,870.31 216.4,869.47 216.9,868.61 217.4,867.72 217.9,866.78 218.4,865.8 218.9,864.72 219.4,863.56 219.9,862.34 220.4,861.09 220.9,859.81 221.4,858.55 221.9,857.31 222.4,856.13 222.9,855.02 223.4,853.99 223.9,853.01 224.4,852.06 224.9,851.14 225.4,850.24 225.9,849.36 226.4,848.49 226.9,847.63 227.4,846.77 227.9,845.9 228.4,845.03 228.9,844.17 229.4,843.32 229.9,842.47 230.4,841.63 230.9,840.79 231.4,839.96 231.9,839.14 232.4,838.32 232.9,837.5 233.4,836.69 233.9,835.87 234.4,835.03 234.9,834.17 235.4,833.31 235.9,832.45 236.4,831.61 236.9,830.8 237.4,830.04 237.9,829.35 238.4,828.72 238.9,828.18 239.4,827.65 239.9,827.14 240.4,826.68 240.9,826.26 241.4,825.91 241.9,825.64 242.4,825.44 242.9,825.26 243.4,825.1 243.9,824.95 244.4,824.82 244.9,824.7 245.4,824.59 245.9,824.48 246.4,824.38 246.9,824.28 247.4,824.18 247.9,824.08 248.4,823.97 248.9,823.86 249.4,823.74 249.9,823.62 250.4,823.51 250.9,823.41 251.4,823.32 251.9,823.23 252.4,823.17 252.9,823.12 253.4,823.1 253.9,823.11 254.4,823.2 254.9,823.34 255.4,823.54 255.9,823.77 256.4,824.02 256.9,824.29 257.4,824.55 257.9,824.83 258.4,825.17 258.9,825.55 259.4,825.96 259.9,826.38 260.4,826.79 260.9,827.17 261.4,827.5 261.9,827.79 262.4,828.06 262.9,828.32 263.4,828.56 263.9,828.79 264.4,829.02 264.9,829.25 265.4,829.48 265.9,829.72 266.4,829.97 266.9,830.23 267.4,830.52 267.9,830.82 268.4,831.13 268.9,831.46 269.4,831.8 269.9,832.15 270.4,832.5 270.9,832.85 271.4,833.2 271.9,833.55 272.4,833.9 272.9,834.23 273.4,834.56 273.9,834.88 274.4,835.19 274.9,835.49 275.4,835.79 275.9,836.1 276.4,836.41 276.9,836.73 277.4,837.07 277.9,837.42 278.4,837.79 278.9,838.18 279.4,838.59 279.9,839.02 280.4,839.48 280.9,839.96 281.4,840.48 281.9,841.03 282.4,841.62 282.9,842.27 283.4,843.02 283.9,843.87 284.4,844.78 284.9,845.74 285.4,846.72 285.9,847.69 286.4,848.62 286.9,849.52 287.4,850.42 287.9,851.32 288.4,852.22 288.9,853.13 289.4,854.02 289.9,854.91 290.4,855.79 290.9,856.65 291.4,857.5 291.9,858.33 292.4,859.16 292.9,859.99 293.4,860.8 293.9,861.61 294.4,862.42 294.9,863.22 295.4,864.01 295.9,864.79 296.4,865.56 296.9,866.33 297.4,867.09 297.9,867.84 298.4,868.58 298.9,869.31 299.1,869.6" fill="none" stroke="#1234f4" stroke-width="1.3" stroke-linejoin="round" clip-path="url(#iclip_g)"/><polyline points="198.4,899.6 198.9,898.75 199.4,897.9 199.9,897.05 200.4,896.21 200.9,895.36 201.4,894.52 201.9,893.68 202.4,892.84 202.9,892 203.4,891.16 203.9,890.33 204.4,889.5 204.9,888.67 205.4,887.84 205.9,887.02 206.4,886.2 206.9,885.38 207.4,884.57 207.9,883.75 208.4,882.94 208.9,882.13 209.4,881.31 209.9,880.5 210.4,879.68 210.9,878.87 211.4,878.05 211.9,877.23 212.4,876.4 212.9,875.58 213.4,874.78 213.9,873.99 214.4,873.21 214.9,872.42 215.4,871.62 215.9,870.81 216.4,869.98 216.9,869.12 217.4,868.22 217.9,867.28 218.4,866.3 218.9,865.21 219.4,864.04 219.9,862.81 220.4,861.54 220.9,860.26 221.4,858.98 221.9,857.73 222.4,856.54 222.9,855.42 223.4,854.39 223.9,853.41 224.4,852.46 224.9,851.54 225.4,850.64 225.9,849.76 226.4,848.9 226.9,848.03 227.4,847.17 227.9,846.3 228.4,845.43 228.9,844.56 229.4,843.69 229.9,842.83 230.4,841.97 230.9,841.12 231.4,840.28 231.9,839.44 232.4,838.62 232.9,837.79 233.4,836.98 233.9,836.18 234.4,835.34 234.9,834.49 235.4,833.63 235.9,832.78 236.4,831.95 236.9,831.17 237.4,830.44 237.9,829.78 238.4,829.2 238.9,828.71 239.4,828.23 239.9,827.78 240.4,827.37 240.9,827.02 241.4,826.73 241.9,826.53 242.4,826.4 242.9,826.28 243.4,826.18 243.9,826.09 244.4,826.01 244.9,825.93 245.4,825.87 245.9,825.81 246.4,825.75 246.9,825.7 247.4,825.64 247.9,825.59 248.4,825.53 248.9,825.47 249.4,825.41 249.9,825.36 250.4,825.3 250.9,825.25 251.4,825.2 251.9,825.16 252.4,825.13 252.9,825.11 253.4,825.1 253.9,825.12 254.4,825.23 254.9,825.42 255.4,825.67 255.9,825.99 256.4,826.34 256.9,826.72 257.4,827.11 257.9,827.49 258.4,827.87 258.9,828.21 259.4,828.5 259.9,828.76 260.4,829.02 260.9,829.26 261.4,829.5 261.9,829.74 262.4,829.97 262.9,830.2 263.4,830.43 263.9,830.66 264.4,830.89 264.9,831.13 265.4,831.37 265.9,831.62 266.4,831.87 266.9,832.14 267.4,832.41 267.9,832.7 268.4,832.99 268.9,833.29 269.4,833.6 269.9,833.92 270.4,834.24 270.9,834.56 271.4,834.89 271.9,835.22 272.4,835.55 272.9,835.88 273.4,836.22 273.9,836.55 274.4,836.88 274.9,837.2 275.4,837.51 275.9,837.81 276.4,838.11 276.9,838.39 277.4,838.68 277.9,838.98 278.4,839.28 278.9,839.61 279.4,839.96 279.9,840.33 280.4,840.74 280.9,841.19 281.4,841.71 281.9,842.3 282.4,842.95 282.9,843.65 283.4,844.39 283.9,845.15 284.4,845.93 284.9,846.72 285.4,847.49 285.9,848.26 286.4,849.07 286.9,849.9 287.4,850.75 287.9,851.62 288.4,852.5 288.9,853.39 289.4,854.27 289.9,855.15 290.4,856.02 290.9,856.87 291.4,857.7 291.9,858.51 292.4,859.32 292.9,860.12 293.4,860.91 293.9,861.71 294.4,862.49 294.9,863.27 295.4,864.05 295.9,864.82 296.4,865.58 296.9,866.34 297.4,867.09 297.9,867.84 298.4,868.58 298.9,869.31 299.1,869.6" fill="none" stroke="#ee1420" stroke-width="1.3" stroke-dasharray="3 2.6" stroke-linejoin="round" clip-path="url(#iclip_g)"/><polyline points="198.4,892.3 198.9,891.51 199.4,890.72 199.9,889.94 200.4,889.17 200.9,888.39 201.4,887.63 201.9,886.87 202.4,886.11 202.9,885.36 203.4,884.61 203.9,883.87 204.4,883.14 204.9,882.41 205.4,881.71 205.9,881.03 206.4,880.38 206.9,879.74 207.4,879.1 207.9,878.47 208.4,877.84 208.9,877.19 209.4,876.54 209.9,875.86 210.4,875.16 210.9,874.43 211.4,873.66 211.9,872.86 212.4,872 212.9,871.08 213.4,870.07 213.9,869 214.4,867.87 214.9,866.69 215.4,865.48 215.9,864.23 216.4,862.98 216.9,861.72 217.4,860.46 217.9,859.23 218.4,858.01 218.9,856.73 219.4,855.39 219.9,854.04 220.4,852.7 220.9,851.42 221.4,850.24 221.9,849.18 222.4,848.26 222.9,847.41 223.4,846.61 223.9,845.86 224.4,845.14 224.9,844.46 225.4,843.81 225.9,843.19 226.4,842.59 226.9,842 227.4,841.44 227.9,840.91 228.4,840.41 228.9,839.92 229.4,839.46 229.9,838.99 230.4,838.53 230.9,838.07 231.4,837.59 231.9,837.1 232.4,836.57 232.9,836.02 233.4,835.45 233.9,834.88 234.4,834.32 234.9,833.78 235.4,833.28 235.9,832.83 236.4,832.44 236.9,832.1 237.4,831.76 237.9,831.43 238.4,831.12 238.9,830.84 239.4,830.62 239.9,830.47 240.4,830.4 240.9,830.41 241.4,830.47 241.9,830.55 242.4,830.65 242.9,830.76 243.4,830.88 243.9,830.98 244.4,831.09 244.9,831.21 245.4,831.35 245.9,831.49 246.4,831.62 246.9,831.72 247.4,831.78 247.9,831.8 248.4,831.77 248.9,831.72 249.4,831.63 249.9,831.53 250.4,831.42 250.9,831.3 251.4,831.19 251.9,831.09 252.4,831 252.9,830.94 253.4,830.9 253.9,830.92 254.4,831.04 254.9,831.24 255.4,831.52 255.9,831.85 256.4,832.22 256.9,832.61 257.4,833.01 257.9,833.39 258.4,833.74 258.9,834.05 259.4,834.3 259.9,834.5 260.4,834.69 260.9,834.87 261.4,835.03 261.9,835.19 262.4,835.35 262.9,835.5 263.4,835.65 263.9,835.8 264.4,835.95 264.9,836.1 265.4,836.27 265.9,836.42 266.4,836.58 266.9,836.73 267.4,836.89 267.9,837.04 268.4,837.19 268.9,837.35 269.4,837.52 269.9,837.69 270.4,837.87 270.9,838.06 271.4,838.26 271.9,838.47 272.4,838.7 272.9,838.93 273.4,839.17 273.9,839.42 274.4,839.68 274.9,839.95 275.4,840.22 275.9,840.49 276.4,840.77 276.9,841.06 277.4,841.34 277.9,841.61 278.4,841.89 278.9,842.17 279.4,842.46 279.9,842.76 280.4,843.08 280.9,843.42 281.4,843.79 281.9,844.19 282.4,844.62 282.9,845.1 283.4,845.68 283.9,846.36 284.4,847.12 284.9,847.93 285.4,848.79 285.9,849.66 286.4,850.53 286.9,851.41 287.4,852.37 287.9,853.39 288.4,854.44 288.9,855.51 289.4,856.57 289.9,857.61 290.4,858.61 290.9,859.55 291.4,860.4 291.9,861.2 292.4,861.99 292.9,862.76 293.4,863.52 293.9,864.26 294.4,864.98 294.9,865.68 295.4,866.36 295.9,867.02 296.4,867.65 296.9,868.26 297.4,868.84 297.9,869.4 298.4,869.92 298.9,870.41 299.1,870.6" fill="none" stroke="#16a616" stroke-width="1.3" stroke-linejoin="round" clip-path="url(#iclip_g)"/><polyline points="198.4,891.8 198.9,891.01 199.4,890.22 199.9,889.44 200.4,888.67 200.9,887.89 201.4,887.13 201.9,886.37 202.4,885.61 202.9,884.86 203.4,884.11 203.9,883.37 204.4,882.64 204.9,881.91 205.4,881.21 205.9,880.53 206.4,879.88 206.9,879.24 207.4,878.6 207.9,877.97 208.4,877.34 208.9,876.69 209.4,876.04 209.9,875.36 210.4,874.66 210.9,873.93 211.4,873.16 211.9,872.36 212.4,871.5 212.9,870.58 213.4,869.57 213.9,868.5 214.4,867.37 214.9,866.19 215.4,864.98 215.9,863.73 216.4,862.48 216.9,861.22 217.4,859.96 217.9,858.73 218.4,857.51 218.9,856.23 219.4,854.89 219.9,853.54 220.4,852.2 220.9,850.92 221.4,849.74 221.9,848.68 222.4,847.77 222.9,846.92 223.4,846.14 223.9,845.4 224.4,844.69 224.9,844.02 225.4,843.38 225.9,842.75 226.4,842.12 226.9,841.5 227.4,840.89 227.9,840.33 228.4,839.78 228.9,839.26 229.4,838.74 229.9,838.21 230.4,837.67 230.9,837.11 231.4,836.51 231.9,835.87 232.4,835.14 232.9,834.33 233.4,833.47 233.9,832.6 234.4,831.76 234.9,830.97 235.4,830.27 235.9,829.67 236.4,829.13 236.9,828.62 237.4,828.13 237.9,827.69 238.4,827.27 238.9,826.9 239.4,826.56 239.9,826.26 240.4,825.96 240.9,825.7 241.4,825.48 241.9,825.32 242.4,825.22 242.9,825.12 243.4,825.03 243.9,824.94 244.4,824.87 244.9,824.8 245.4,824.74 245.9,824.69 246.4,824.65 246.9,824.62 247.4,824.6 247.9,824.6 248.4,824.61 248.9,824.62 249.4,824.64 249.9,824.67 250.4,824.71 250.9,824.76 251.4,824.81 251.9,824.87 252.4,824.93 252.9,825 253.4,825.07 253.9,825.17 254.4,825.36 254.9,825.64 255.4,825.99 255.9,826.39 256.4,826.83 256.9,827.3 257.4,827.77 257.9,828.23 258.4,828.67 258.9,829.06 259.4,829.4 259.9,829.69 260.4,829.98 260.9,830.25 261.4,830.51 261.9,830.77 262.4,831.01 262.9,831.26 263.4,831.49 263.9,831.73 264.4,831.96 264.9,832.2 265.4,832.43 265.9,832.67 266.4,832.91 266.9,833.15 267.4,833.4 267.9,833.65 268.4,833.89 268.9,834.14 269.4,834.38 269.9,834.62 270.4,834.86 270.9,835.11 271.4,835.35 271.9,835.6 272.4,835.85 272.9,836.11 273.4,836.37 273.9,836.64 274.4,836.92 274.9,837.2 275.4,837.48 275.9,837.77 276.4,838.05 276.9,838.33 277.4,838.62 277.9,838.93 278.4,839.24 278.9,839.58 279.4,839.94 279.9,840.32 280.4,840.74 280.9,841.19 281.4,841.71 281.9,842.3 282.4,842.94 282.9,843.64 283.4,844.38 283.9,845.14 284.4,845.92 284.9,846.71 285.4,847.49 285.9,848.27 286.4,849.09 286.9,849.94 287.4,850.82 287.9,851.72 288.4,852.64 288.9,853.56 289.4,854.47 289.9,855.38 290.4,856.28 290.9,857.15 291.4,858 291.9,858.83 292.4,859.65 292.9,860.46 293.4,861.27 293.9,862.07 294.4,862.87 294.9,863.66 295.4,864.44 295.9,865.21 296.4,865.98 296.9,866.74 297.4,867.5 297.9,868.24 298.4,868.98 298.9,869.71 299.1,870" fill="none" stroke="#16a616" stroke-width="1.3" stroke-dasharray="3 2.6" stroke-linejoin="round" clip-path="url(#iclip_g)"/><rect x="198.5" y="821.6" width="100.9" height="80.7" fill="none" stroke="#333" stroke-width="1.15"/><line x1="218.68" y1="902.3" x2="218.68" y2="899.7" stroke="#111" stroke-width="1.1"/><line x1="218.68" y1="821.6" x2="218.68" y2="824.2" stroke="#111" stroke-width="1.1"/><text x="218.68" y="908.1" class="itk" text-anchor="middle">1670</text><line x1="238.86" y1="902.3" x2="238.86" y2="899.7" stroke="#111" stroke-width="1.1"/><line x1="238.86" y1="821.6" x2="238.86" y2="824.2" stroke="#111" stroke-width="1.1"/><text x="238.86" y="908.1" class="itk" text-anchor="middle">1660</text><line x1="259.04" y1="902.3" x2="259.04" y2="899.7" stroke="#111" stroke-width="1.1"/><line x1="259.04" y1="821.6" x2="259.04" y2="824.2" stroke="#111" stroke-width="1.1"/><text x="259.04" y="908.1" class="itk" text-anchor="middle">1650</text><line x1="279.22" y1="902.3" x2="279.22" y2="899.7" stroke="#111" stroke-width="1.1"/><line x1="279.22" y1="821.6" x2="279.22" y2="824.2" stroke="#111" stroke-width="1.1"/><text x="279.22" y="908.1" class="itk" text-anchor="middle">1640</text><text x="233.15" y="819.2" class="ittl" textLength="32" lengthAdjust="spacingAndGlyphs">Amide I</text></g></svg></body></html>
